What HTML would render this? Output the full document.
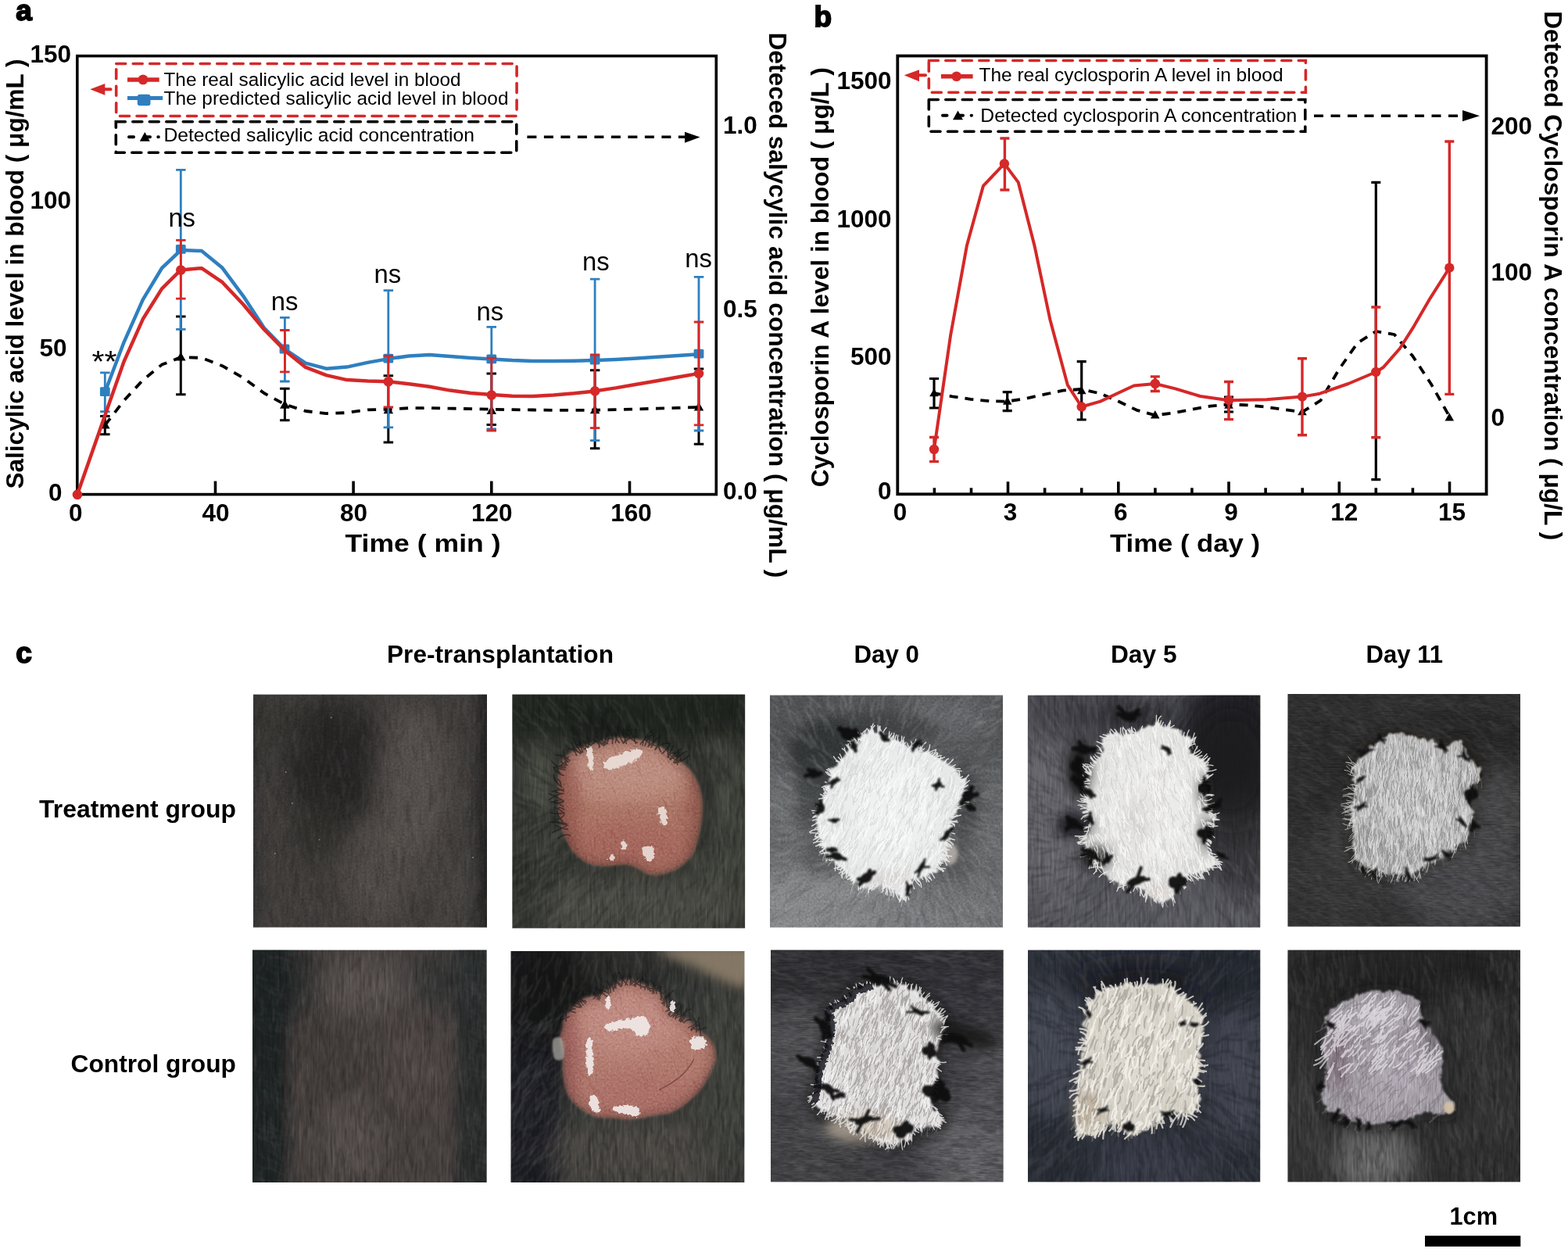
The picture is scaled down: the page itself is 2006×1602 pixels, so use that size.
<!DOCTYPE html><html><head><meta charset="utf-8"><title>Figure</title><style>
html,body{margin:0;padding:0;background:#fff;}body{width:2006px;height:1602px;overflow:hidden;}
svg{display:block;font-family:'Liberation Sans', Arial, Helvetica, sans-serif;}
</style></head><body>
<svg width="2006" height="1602" viewBox="0 0 2006 1602">
<rect width="2006" height="1602" fill="#fff"/>
<g id="pa">
<text x="20.3" y="26.3" font-size="37" font-weight="bold" text-anchor="start" fill="#000" stroke="#000" stroke-width="1.8">a</text>
<rect x="98.8" y="71.6" width="817.5" height="561" fill="none" stroke="#000" stroke-width="3.6"/>
<path d="M275.5,632.6 V615.6" stroke="#000" stroke-width="3.6"/>
<path d="M452.1,632.6 V615.6" stroke="#000" stroke-width="3.6"/>
<path d="M628.8,632.6 V615.6" stroke="#000" stroke-width="3.6"/>
<path d="M805.5,632.6 V615.6" stroke="#000" stroke-width="3.6"/>
<text x="96.8" y="666.5" font-size="31.5" font-weight="bold" text-anchor="middle" fill="#000" >0</text>
<text x="276" y="666.5" font-size="31.5" font-weight="bold" text-anchor="middle" fill="#000" >40</text>
<text x="452.6" y="666.5" font-size="31.5" font-weight="bold" text-anchor="middle" fill="#000" >80</text>
<text x="629.3" y="666.5" font-size="31.5" font-weight="bold" text-anchor="middle" fill="#000" >120</text>
<text x="807.5" y="666.5" font-size="31.5" font-weight="bold" text-anchor="middle" fill="#000" >160</text>
<text x="79.5" y="641" font-size="31.5" font-weight="bold" text-anchor="end" fill="#000" >0</text>
<text x="85.5" y="455.5" font-size="31.5" font-weight="bold" text-anchor="end" fill="#000" >50</text>
<text x="91" y="267.3" font-size="31.5" font-weight="bold" text-anchor="end" fill="#000" >100</text>
<text x="91" y="80" font-size="31.5" font-weight="bold" text-anchor="end" fill="#000" >150</text>
<text x="925" y="638.7" font-size="31.5" font-weight="bold" text-anchor="start" fill="#000" >0.0</text>
<text x="925" y="405.5" font-size="31.5" font-weight="bold" text-anchor="start" fill="#000" >0.5</text>
<text x="925" y="171.2" font-size="31.5" font-weight="bold" text-anchor="start" fill="#000" >1.0</text>
<text x="441.5" y="705.8" font-size="31.5" font-weight="bold" text-anchor="start" fill="#000" textLength="199" lengthAdjust="spacingAndGlyphs" >Time ( min )</text>
<text transform="translate(30,625.5) rotate(-90)" font-size="31.5" font-weight="bold" textLength="550" lengthAdjust="spacingAndGlyphs">Salicylic acid level in blood ( μg/mL )</text>
<text transform="translate(983.5,41.4) rotate(90)" font-size="31.5" font-weight="bold" textLength="698" lengthAdjust="spacingAndGlyphs">Deteced salycylic acid concentration ( μg/mL )</text>
<path d="M134.3,532.4 V555.8 M128.1,532.4 h12.5 M128.1,555.8 h12.5" stroke="#000" stroke-width="3" fill="none"/>
<path d="M231.3,405 V504.8 M225.1,405 h12.5 M225.1,504.8 h12.5" stroke="#000" stroke-width="3" fill="none"/>
<path d="M364.4,497.2 V537.8 M358.1,497.2 h12.5 M358.1,537.8 h12.5" stroke="#000" stroke-width="3" fill="none"/>
<path d="M496.8,480.7 V566 M490.6,480.7 h12.5 M490.6,566 h12.5" stroke="#000" stroke-width="3" fill="none"/>
<path d="M628.8,478 V543.4 M622.5,478 h12.5 M622.5,543.4 h12.5" stroke="#000" stroke-width="3" fill="none"/>
<path d="M761.1,473.8 V573.8 M754.9,473.8 h12.5 M754.9,573.8 h12.5" stroke="#000" stroke-width="3" fill="none"/>
<path d="M894,471.9 V568.2 M887.8,471.9 h12.5 M887.8,568.2 h12.5" stroke="#000" stroke-width="3" fill="none"/>
<path d="M134.3,544.1 L158.6,512.5 L182.8,486.4 L207.1,466.6 L231.3,457.1 L257.9,457.9 L284.5,468.2 L311.2,483.6 L337.8,503 L364.4,517.5 L390.9,526 L417.4,529.1 L443.8,528.1 L470.3,524.3 L496.8,523.8 L523.2,522.2 L549.6,522.1 L576,522.6 L602.4,523.2 L628.8,523.8 L655.3,524.2 L681.7,524.5 L708.2,524.8 L734.6,524.9 L761.1,524.7 L787.7,524.2 L814.3,523.4 L840.8,522.7 L867.4,521.9 L894,521" fill="none" stroke="#000" stroke-width="3.8" stroke-dasharray="11 9.5" stroke-linejoin="round"/>
<path d="M134.3,537.4 L140.6,548.6 L128.1,548.6 Z" fill="#000"/>
<path d="M231.3,450.4 L237.6,461.6 L225.1,461.6 Z" fill="#000"/>
<path d="M364.4,511.5 L370.6,522.8 L358.1,522.8 Z" fill="#000"/>
<path d="M496.8,518 L503.1,529.2 L490.6,529.2 Z" fill="#000"/>
<path d="M628.8,518.8 L635,530 L622.5,530 Z" fill="#000"/>
<path d="M761.1,518 L767.4,529.2 L754.9,529.2 Z" fill="#000"/>
<path d="M894,514.2 L900.2,525.5 L887.8,525.5 Z" fill="#000"/>
<path d="M134.3,476.8 V526.7 M128.1,476.8 h12.5 M128.1,526.7 h12.5" stroke="#2f7fbf" stroke-width="2.8" fill="none"/>
<path d="M231.3,217.3 V421.4 M225.1,217.3 h12.5 M225.1,421.4 h12.5" stroke="#2f7fbf" stroke-width="2.8" fill="none"/>
<path d="M364.4,406.3 V488 M358.1,406.3 h12.5 M358.1,488 h12.5" stroke="#2f7fbf" stroke-width="2.8" fill="none"/>
<path d="M496.8,371.7 V546.8 M490.6,371.7 h12.5 M490.6,546.8 h12.5" stroke="#2f7fbf" stroke-width="2.8" fill="none"/>
<path d="M628.8,418.4 V549 M622.5,418.4 h12.5 M622.5,549 h12.5" stroke="#2f7fbf" stroke-width="2.8" fill="none"/>
<path d="M761.1,357.1 V563.7 M754.9,357.1 h12.5 M754.9,563.7 h12.5" stroke="#2f7fbf" stroke-width="2.8" fill="none"/>
<path d="M894,354.3 V551 M887.8,354.3 h12.5 M887.8,551 h12.5" stroke="#2f7fbf" stroke-width="2.8" fill="none"/>
<path d="M134.3,501.7 L158.6,437.8 L182.8,383.3 L207.1,343 L231.3,320.1 L257.9,321 L284.5,342.8 L311.2,378.8 L337.8,419.5 L364.4,446.9 L390.9,464.6 L417.4,471.7 L443.8,469.6 L470.3,463.9 L496.8,459.1 L523.2,455.6 L549.6,454 L576,456.1 L602.4,458 L628.8,459.5 L655.3,461.1 L681.7,461.9 L708.2,462 L734.6,461.7 L761.1,461 L787.7,459.9 L814.3,458.4 L840.8,456.8 L867.4,455.1 L894,453.2" fill="none" stroke="#2f7fbf" stroke-width="4.5" stroke-linejoin="round"/>
<rect x="127.9" y="495.3" width="12.8" height="11.8" rx="1.5" fill="#2f7fbf"/>
<rect x="224.9" y="313" width="12.8" height="11.8" rx="1.5" fill="#2f7fbf"/>
<rect x="357.6" y="440.6" width="12.8" height="11.8" rx="1.5" fill="#2f7fbf"/>
<rect x="490.4" y="452.8" width="12.8" height="11.8" rx="1.5" fill="#2f7fbf"/>
<rect x="622.4" y="453.4" width="12.8" height="11.8" rx="1.5" fill="#2f7fbf"/>
<rect x="754.7" y="454.6" width="12.8" height="11.8" rx="1.5" fill="#2f7fbf"/>
<rect x="887.6" y="446.8" width="12.8" height="11.8" rx="1.5" fill="#2f7fbf"/>
<path d="M231.3,307.4 V382.1 M225.1,307.4 h12.5 M225.1,382.1 h12.5" stroke="#d52828" stroke-width="2.8" fill="none"/>
<path d="M364.4,422.5 V475.8 M358.1,422.5 h12.5 M358.1,475.8 h12.5" stroke="#d52828" stroke-width="2.8" fill="none"/>
<path d="M496.8,455.4 V521 M490.6,455.4 h12.5 M490.6,521 h12.5" stroke="#d52828" stroke-width="2.8" fill="none"/>
<path d="M628.8,458.2 V551 M622.5,458.2 h12.5 M622.5,551 h12.5" stroke="#d52828" stroke-width="2.8" fill="none"/>
<path d="M761.1,454 V547.7 M754.9,454 h12.5 M754.9,547.7 h12.5" stroke="#d52828" stroke-width="2.8" fill="none"/>
<path d="M894,412 V543.8 M887.8,412 h12.5 M887.8,543.8 h12.5" stroke="#d52828" stroke-width="2.8" fill="none"/>
<path d="M99,632.6 L134.3,531.4 L158.6,462.5 L182.8,408.3 L207.1,369.4 L231.3,345.4 L257.9,343.2 L284.5,361.2 L311.2,389.5 L337.8,421.5 L364.4,448.5 L390.9,469.9 L417.4,480.1 L443.8,486.1 L470.3,487.5 L496.8,488.2 L523.2,491.2 L549.6,494.8 L576,499.6 L602.4,502.9 L628.8,505 L655.3,506.8 L681.7,506.9 L708.2,505.4 L734.6,503.3 L761.1,500.4 L787.7,496.4 L814.3,491.7 L840.8,487.2 L867.4,482.5 L894,477.9" fill="none" stroke="#d52828" stroke-width="4.5" stroke-linejoin="round"/>
<circle cx="99" cy="632.9" r="6.3" fill="#d52828"/>
<circle cx="231.3" cy="345.5" r="6.3" fill="#d52828"/>
<circle cx="496.8" cy="488.2" r="6.3" fill="#d52828"/>
<circle cx="628.8" cy="505.5" r="6.3" fill="#d52828"/>
<circle cx="761.1" cy="500.4" r="6.3" fill="#d52828"/>
<circle cx="894" cy="477.9" r="6.3" fill="#d52828"/>
<text x="117.5" y="475.5" font-size="38" font-weight="normal" text-anchor="start" fill="#000" textLength="32" lengthAdjust="spacingAndGlyphs" >**</text>
<text x="232.7" y="290" font-size="32.8" font-weight="normal" text-anchor="middle" fill="#000" >ns</text>
<text x="364" y="397.1" font-size="32.8" font-weight="normal" text-anchor="middle" fill="#000" >ns</text>
<text x="495.8" y="361.8" font-size="32.8" font-weight="normal" text-anchor="middle" fill="#000" >ns</text>
<text x="626.8" y="409.5" font-size="32.8" font-weight="normal" text-anchor="middle" fill="#000" >ns</text>
<text x="762.4" y="346.4" font-size="32.8" font-weight="normal" text-anchor="middle" fill="#000" >ns</text>
<text x="893.5" y="342" font-size="32.8" font-weight="normal" text-anchor="middle" fill="#000" >ns</text>
<path d="M148.7,81.5 H661.1 V148.5 H148.7 Z" fill="none" stroke="#d52828" stroke-width="3.6" stroke-dasharray="12 9.5" stroke-linecap="round"/>
<path d="M148.3,155.7 H660.8 V195.2 H148.3 Z" fill="none" stroke="#000" stroke-width="3.6" stroke-dasharray="12 9.5" stroke-linecap="round"/>
<path d="M141.5,114.3 H131" stroke="#d52828" stroke-width="4" stroke-linecap="round"/>
<path d="M115.2,114.3 L134.3,107 L134.3,121.8 Z" fill="#d52828"/>
<path d="M674.4,175.3 H878" stroke="#000" stroke-width="3.6" stroke-dasharray="12 9.5"/>
<path d="M895.6,175.6 L876,168.7 L876,182.7 Z" fill="#000"/>
<path d="M163,101.9 H203.7" stroke="#d52828" stroke-width="5.5"/>
<circle cx="183" cy="101.9" r="6.4" fill="#d52828"/>
<path d="M163,125.5 H208.2" stroke="#2f7fbf" stroke-width="5.2"/>
<rect x="175.8" y="120.7" width="16.7" height="14.5" rx="3" fill="#2f7fbf"/>
<path d="M165,175.3 H171 M188,175.3 H192 M202.3,175.3 H202.8" stroke="#000" stroke-width="4" stroke-linecap="round"/>
<path d="M185.3,169 L191.8,180.7 L178.8,180.7 Z" fill="#000"/>
<text x="209.5" y="109.9" font-size="24.3" font-weight="normal" text-anchor="start" fill="#000" textLength="380" lengthAdjust="spacingAndGlyphs" >The real salicylic acid level in blood</text>
<text x="209.5" y="133.8" font-size="24.3" font-weight="normal" text-anchor="start" fill="#000" textLength="441" lengthAdjust="spacingAndGlyphs" >The predicted salicylic acid level in blood</text>
<text x="209.5" y="181.3" font-size="24.3" font-weight="normal" text-anchor="start" fill="#000" textLength="397.5" lengthAdjust="spacingAndGlyphs" >Detected salicylic acid concentration</text>
</g>
<g id="pb">
<text x="1041.6" y="34.3" font-size="37" font-weight="bold" text-anchor="start" fill="#000" stroke="#000" stroke-width="1.8">b</text>
<rect x="1148.3" y="71.5" width="753.3" height="560.8" fill="none" stroke="#000" stroke-width="3.8"/>
<path d="M1195.4,632.3 V624.3" stroke="#000" stroke-width="3.6"/>
<path d="M1242.5,632.3 V624.3" stroke="#000" stroke-width="3.6"/>
<path d="M1289.5,632.3 V616.3" stroke="#000" stroke-width="3.6"/>
<path d="M1336.6,632.3 V624.3" stroke="#000" stroke-width="3.6"/>
<path d="M1383.7,632.3 V624.3" stroke="#000" stroke-width="3.6"/>
<path d="M1430.8,632.3 V616.3" stroke="#000" stroke-width="3.6"/>
<path d="M1477.9,632.3 V624.3" stroke="#000" stroke-width="3.6"/>
<path d="M1524.9,632.3 V624.3" stroke="#000" stroke-width="3.6"/>
<path d="M1572,632.3 V616.3" stroke="#000" stroke-width="3.6"/>
<path d="M1619.1,632.3 V624.3" stroke="#000" stroke-width="3.6"/>
<path d="M1666.2,632.3 V624.3" stroke="#000" stroke-width="3.6"/>
<path d="M1713.3,632.3 V616.3" stroke="#000" stroke-width="3.6"/>
<path d="M1760.3,632.3 V624.3" stroke="#000" stroke-width="3.6"/>
<path d="M1807.4,632.3 V624.3" stroke="#000" stroke-width="3.6"/>
<path d="M1854.5,632.3 V616.3" stroke="#000" stroke-width="3.6"/>
<text x="1151.6" y="666.3" font-size="31.5" font-weight="bold" text-anchor="middle" fill="#000" >0</text>
<text x="1292.5" y="666.3" font-size="31.5" font-weight="bold" text-anchor="middle" fill="#000" >3</text>
<text x="1433.8" y="666.3" font-size="31.5" font-weight="bold" text-anchor="middle" fill="#000" >6</text>
<text x="1575" y="666.3" font-size="31.5" font-weight="bold" text-anchor="middle" fill="#000" >9</text>
<text x="1719.8" y="666.3" font-size="31.5" font-weight="bold" text-anchor="middle" fill="#000" >12</text>
<text x="1857.5" y="666.3" font-size="31.5" font-weight="bold" text-anchor="middle" fill="#000" >15</text>
<text x="1140.5" y="639.3" font-size="31.5" font-weight="bold" text-anchor="end" fill="#000" >0</text>
<text x="1140.5" y="466.5" font-size="31.5" font-weight="bold" text-anchor="end" fill="#000" >500</text>
<text x="1140.5" y="290.5" font-size="31.5" font-weight="bold" text-anchor="end" fill="#000" >1000</text>
<text x="1140.5" y="113.5" font-size="31.5" font-weight="bold" text-anchor="end" fill="#000" >1500</text>
<text x="1907.5" y="545" font-size="31.5" font-weight="bold" text-anchor="start" fill="#000" >0</text>
<text x="1907.5" y="359.2" font-size="31.5" font-weight="bold" text-anchor="start" fill="#000" >100</text>
<text x="1907.5" y="171.6" font-size="31.5" font-weight="bold" text-anchor="start" fill="#000" >200</text>
<text x="1420" y="706" font-size="31.5" font-weight="bold" text-anchor="start" fill="#000" textLength="192" lengthAdjust="spacingAndGlyphs" >Time ( day )</text>
<text transform="translate(1059.8,623.3) rotate(-90)" font-size="31.5" font-weight="bold" textLength="537" lengthAdjust="spacingAndGlyphs">Cyclosporin A level in blood ( μg/L )</text>
<text transform="translate(1975.5,14.2) rotate(90)" font-size="31.5" font-weight="bold" textLength="677" lengthAdjust="spacingAndGlyphs">Deteced Cyclosporin A concentration ( μg/L )</text>
<path d="M1195,484.5 V522 M1189,484.5 h12 M1189,522 h12" stroke="#000" stroke-width="3.2" fill="none"/>
<path d="M1288.7,501.6 V525.6 M1282.7,501.6 h12 M1282.7,525.6 h12" stroke="#000" stroke-width="3.2" fill="none"/>
<path d="M1383.7,462.7 V537 M1377.7,462.7 h12 M1377.7,537 h12" stroke="#000" stroke-width="3.2" fill="none"/>
<path d="M1572,508 V527 M1566,508 h12 M1566,527 h12" stroke="#000" stroke-width="3.2" fill="none"/>
<path d="M1760.3,233.4 V613.7 M1754.3,233.4 h12 M1754.3,613.7 h12" stroke="#000" stroke-width="3.2" fill="none"/>
<path d="M1195,496.9 L1200.8,507.2 L1189.2,507.2 Z" fill="#000"/>
<path d="M1288.7,507.4 L1294.5,517.7 L1283,517.7 Z" fill="#000"/>
<path d="M1383.7,493.9 L1389.5,504.2 L1378,504.2 Z" fill="#000"/>
<path d="M1477.8,525.1 L1483.5,535.4 L1472,535.4 Z" fill="#000"/>
<path d="M1572,512.4 L1577.8,522.7 L1566.2,522.7 Z" fill="#000"/>
<path d="M1666,520.9 L1671.8,531.2 L1660.2,531.2 Z" fill="#000"/>
<path d="M1854.3,528.2 L1860,538.5 L1848.5,538.5 Z" fill="#000"/>
<path d="M1195,503.1 L1218.4,507.4 L1241.8,510.8 L1265.3,513.1 L1288.7,513.6 L1312.5,509.9 L1336.2,504.7 L1360,499.6 L1383.7,498 L1407.2,503.4 L1430.8,513.5 L1454.3,524.8 L1477.8,531.3 L1501.3,528.5 L1524.9,523.7 L1548.5,519.7 L1572,517.5 L1595.5,518.4 L1619,520.6 L1642.5,524 L1666,527.1 L1689.6,512.4 L1713.2,472.4 L1736.7,438.8 L1760.3,424 L1783.8,428 L1807.3,455.6 L1830.8,491.2 L1854.3,532.9" fill="none" stroke="#000" stroke-width="3.8" stroke-dasharray="11 9" stroke-linejoin="round"/>
<path d="M1195,559.5 V590.6 M1189,559.5 h12 M1189,590.6 h12" stroke="#d52828" stroke-width="3.4" fill="none"/>
<path d="M1285.4,177 V243 M1279.4,177 h12 M1279.4,243 h12" stroke="#d52828" stroke-width="3.4" fill="none"/>
<path d="M1477.8,481.9 V500.5 M1471.8,481.9 h12 M1471.8,500.5 h12" stroke="#d52828" stroke-width="3.4" fill="none"/>
<path d="M1572,488.5 V536.6 M1566,488.5 h12 M1566,536.6 h12" stroke="#d52828" stroke-width="3.4" fill="none"/>
<path d="M1666,458.7 V556.8 M1660,458.7 h12 M1660,556.8 h12" stroke="#d52828" stroke-width="3.4" fill="none"/>
<path d="M1760.3,393 V559.8 M1754.3,393 h12 M1754.3,559.8 h12" stroke="#d52828" stroke-width="3.4" fill="none"/>
<path d="M1854.3,181 V504.4 M1848.3,181 h12 M1848.3,504.4 h12" stroke="#d52828" stroke-width="3.4" fill="none"/>
<path d="M1195,575 L1216,429.7 L1236.9,314.3 L1257.9,237.9 L1284.9,209.4 L1302.8,233.4 L1323.8,315.8 L1343.3,408.7 L1365.8,492.6 L1383.7,520.5 L1407.7,513.6 L1450.6,493.5 L1477.8,491 L1503.7,497.4 L1535.5,507 L1572,512.2 L1620.4,511.2 L1666,507.6 L1688.3,503.7 L1724.9,491 L1760.3,476 L1769.8,470 L1790.8,446 L1808.8,417.6 L1829.7,381.6 L1854.3,342.7" fill="none" stroke="#d52828" stroke-width="4" stroke-linejoin="round"/>
<circle cx="1195" cy="575" r="6.2" fill="#d52828"/>
<circle cx="1284.9" cy="209.4" r="6.2" fill="#d52828"/>
<circle cx="1383.7" cy="520.5" r="6.2" fill="#d52828"/>
<circle cx="1477.8" cy="491" r="6.2" fill="#d52828"/>
<circle cx="1572" cy="512.2" r="6.2" fill="#d52828"/>
<circle cx="1666" cy="507.6" r="6.2" fill="#d52828"/>
<circle cx="1760.3" cy="476" r="6.2" fill="#d52828"/>
<circle cx="1854.3" cy="342.7" r="6.2" fill="#d52828"/>
<path d="M1188.3,77.5 H1670.4 V118.3 H1188.3 Z" fill="none" stroke="#d52828" stroke-width="3.6" stroke-dasharray="12 9.5" stroke-linecap="round"/>
<path d="M1188.3,127.5 H1669.8 V168.2 H1188.3 Z" fill="none" stroke="#000" stroke-width="3.6" stroke-dasharray="12 9.5" stroke-linecap="round"/>
<path d="M1184,96.3 H1173" stroke="#d52828" stroke-width="4" stroke-linecap="round"/>
<path d="M1156.7,96.3 L1176,89.3 L1176,104.2 Z" fill="#d52828"/>
<path d="M1681,148.2 H1873" stroke="#000" stroke-width="3.6" stroke-dasharray="12 9.5"/>
<path d="M1893,148.2 L1871,141 L1871,155.3 Z" fill="#000"/>
<path d="M1203.9,97.7 H1244.6" stroke="#d52828" stroke-width="5.5"/>
<circle cx="1223.7" cy="97.7" r="6.3" fill="#d52828"/>
<path d="M1206,147.8 H1211.5 M1228,147.8 H1232 M1242.6,147.8 H1243" stroke="#000" stroke-width="4" stroke-linecap="round"/>
<path d="M1225.5,141.5 L1232,153.2 L1219,153.2 Z" fill="#000"/>
<text x="1252.5" y="104.4" font-size="24.3" font-weight="normal" text-anchor="start" fill="#000" textLength="389" lengthAdjust="spacingAndGlyphs" >The real cyclosporin A level in blood</text>
<text x="1254.3" y="156" font-size="24.3" font-weight="normal" text-anchor="start" fill="#000" textLength="405" lengthAdjust="spacingAndGlyphs" >Detected cyclosporin A concentration</text>
</g>
<g id="pc">
<text x="20.2" y="848.3" font-size="37" font-weight="bold" text-anchor="start" fill="#000" stroke="#000" stroke-width="1.8">c</text>
<text x="495" y="847.5" font-size="31.5" font-weight="bold" text-anchor="start" fill="#000" textLength="290" lengthAdjust="spacingAndGlyphs" >Pre-transplantation</text>
<text x="1092.5" y="847.7" font-size="31.5" font-weight="bold" text-anchor="start" fill="#000" textLength="83.5" lengthAdjust="spacingAndGlyphs" >Day 0</text>
<text x="1421" y="847.7" font-size="31.5" font-weight="bold" text-anchor="start" fill="#000" textLength="84.5" lengthAdjust="spacingAndGlyphs" >Day 5</text>
<text x="1747.5" y="847.7" font-size="31.5" font-weight="bold" text-anchor="start" fill="#000" textLength="98.5" lengthAdjust="spacingAndGlyphs" >Day 11</text>
<text x="50" y="1046" font-size="31.5" font-weight="bold" text-anchor="start" fill="#000" textLength="252" lengthAdjust="spacingAndGlyphs" >Treatment group</text>
<text x="90.5" y="1371.9" font-size="31.5" font-weight="bold" text-anchor="start" fill="#000" textLength="211.5" lengthAdjust="spacingAndGlyphs" >Control group</text>
<text x="1854.5" y="1567" font-size="31.5" font-weight="bold" text-anchor="start" fill="#000" textLength="61.5" lengthAdjust="spacingAndGlyphs" >1cm</text>
<rect x="1823" y="1581.2" width="122.3" height="13.8" fill="#000"/>
</g>

<defs>
<clipPath id="cp300"><rect x="0" y="0" width="300" height="300"/></clipPath>
<filter id="bXL" x="-50%" y="-50%" width="200%" height="200%"><feGaussianBlur stdDeviation="30"/></filter>
<filter id="bL" x="-50%" y="-50%" width="200%" height="200%"><feGaussianBlur stdDeviation="16"/></filter>
<filter id="bM" x="-50%" y="-50%" width="200%" height="200%"><feGaussianBlur stdDeviation="7"/></filter>
<filter id="bS" x="-20%" y="-20%" width="140%" height="140%"><feGaussianBlur stdDeviation="2.2"/></filter>
<filter id="soft2" x="-5%" y="-5%" width="110%" height="110%"><feGaussianBlur stdDeviation="1.1"/></filter>
<filter id="soft" x="-5%" y="-5%" width="110%" height="110%"><feGaussianBlur stdDeviation="0.55"/></filter>
<filter id="bXS" x="-50%" y="-50%" width="200%" height="200%"><feGaussianBlur stdDeviation="1"/></filter>
<filter id="fuzz" x="-15%" y="-15%" width="130%" height="130%">
  <feTurbulence type="fractalNoise" baseFrequency="0.12 0.12" numOctaves="2" seed="5" result="n"/>
  <feDisplacementMap in="SourceGraphic" in2="n" scale="12" xChannelSelector="R" yChannelSelector="G" result="d"/>
  <feGaussianBlur in="d" stdDeviation="0.9"/>
</filter>
<filter id="fuzz2" x="-30%" y="-30%" width="160%" height="160%">
  <feTurbulence type="fractalNoise" baseFrequency="0.25" numOctaves="2" seed="9" result="n"/>
  <feDisplacementMap in="SourceGraphic" in2="n" scale="7" xChannelSelector="R" yChannelSelector="G" result="d"/>
  <feGaussianBlur in="d" stdDeviation="0.7"/>
</filter>
<filter id="tex" x="0" y="0" width="100%" height="100%" color-interpolation-filters="sRGB">
  <feTurbulence type="fractalNoise" baseFrequency="0.35 0.035" numOctaves="3" seed="7"/>
  <feColorMatrix type="matrix" values="0.33 0.33 0.33 0 0  0.33 0.33 0.33 0 0  0.33 0.33 0.33 0 0  0 0 0 0 1"/>
</filter>
<filter id="tex2" x="0" y="0" width="100%" height="100%" color-interpolation-filters="sRGB">
  <feTurbulence type="fractalNoise" baseFrequency="0.09 0.5" numOctaves="3" seed="3"/>
  <feColorMatrix type="matrix" values="0.33 0.33 0.33 0 0  0.33 0.33 0.33 0 0  0.33 0.33 0.33 0 0  0 0 0 0 1"/>
</filter>
<filter id="tex4" x="0" y="0" width="100%" height="100%" color-interpolation-filters="sRGB">
  <feTurbulence type="fractalNoise" baseFrequency="0.45 0.07" numOctaves="3" seed="21"/>
  <feColorMatrix type="matrix" values="0.33 0.33 0.33 0 0  0.33 0.33 0.33 0 0  0.33 0.33 0.33 0 0  0 0 0 0 1"/>
</filter>
<filter id="tex3" x="0" y="0" width="100%" height="100%" color-interpolation-filters="sRGB">
  <feTurbulence type="fractalNoise" baseFrequency="0.35" numOctaves="2" seed="11"/>
  <feColorMatrix type="matrix" values="0.33 0.33 0.33 0 0  0.33 0.33 0.33 0 0  0.33 0.33 0.33 0 0  0 0 0 0 1"/>
</filter>
</defs>

<g transform="translate(324 888.5) scale(0.9967 0.9940)"><g clip-path="url(#cp300)" style="isolation:isolate">
<rect width="300" height="300" fill="#403d3b"/>
<ellipse cx="105" cy="90" rx="62" ry="85" fill="#1f1f1e" opacity="0.7" filter="url(#bL)"/>
<ellipse cx="90" cy="175" rx="40" ry="50" fill="#2a2928" opacity="0.5" filter="url(#bL)"/>
<ellipse cx="205" cy="120" rx="45" ry="105" fill="#5d5653" opacity="0.7" filter="url(#bL)"/>
<ellipse cx="160" cy="225" rx="45" ry="70" fill="#58514e" opacity="0.65" filter="url(#bL)"/>
<ellipse cx="250" cy="250" rx="30" ry="60" fill="#4a4644" opacity="0.5" filter="url(#bL)"/>
<rect x="288" y="-20" width="40" height="340" fill="#1e1e1e" opacity="0.8" filter="url(#bM)"/>
<rect x="-20" y="-20" width="30" height="340" fill="#2c2c2c" opacity="0.5" filter="url(#bM)"/>
<ellipse cx="30" cy="40" rx="40" ry="40" fill="#2e2d2c" opacity="0.5" filter="url(#bL)"/>
<rect x="0" y="0" width="300" height="300" filter="url(#tex3)" opacity="0.3" style="mix-blend-mode:overlay"/>
<rect x="0" y="0" width="300" height="300" filter="url(#tex)" opacity="0.2" style="mix-blend-mode:overlay"/>
<path d="M136 168q-3 8 -4 17M55 154q-2 10 1 19M28 91q1 11 -6 19M295 289q-3 9 -4 19M47 5q2 6 0 13M9 139q-3 8 -1 16M156 192q4 8 4 16M299 299q-3 11 -1 22M95 69q1 10 -1 21M254 116q-5 11 -3 23M0 63q-1 12 -5 23M22 189q3 10 1 21M26 100q-1 6 -4 11M30 18q4 11 0 21M168 134q-2 6 -2 12M35 126q-1 7 -4 12M291 241q1 6 1 13M256 193q-5 4 -4 10M64 77q3 7 -1 14M27 175q0 7 1 13M112 136q-5 8 -4 17M55 46q-4 11 0 23M75 57q-3 6 -0 13M265 181q6 6 6 15M12 289q-3 7 -1 14M179 88q-3 5 -4 12M21 69q5 8 5 18M275 61q2 5 1 10M134 18q2 9 -2 18M109 267q-4 11 -5 23M207 175q-3 5 -1 10M210 289q-1 5 -1 10M145 219q1 5 3 11M221 270q-8 7 -13 16M238 275q-3 12 3 22M125 237q-4 10 -6 21M187 115q0 6 2 11M298 264q2 10 1 20M221 174q0 6 3 11M9 180q1 9 -3 16M210 149q5 6 3 13M90 203q3 6 3 13M272 198q1 7 4 14M60 129q-6 10 -4 21M264 115q1 6 1 12M251 255q-4 10 1 20M83 51q1 6 1 13M188 148q-3 7 -1 14M295 136q4 12 -2 22M213 171q-3 7 -1 14M6 41q3 11 -0 22M42 14q-0 9 -1 19M189 197q1 10 -4 19M143 54q2 5 4 9M214 54q-0 10 -1 20M184 227q-4 7 -3 15M272 26q-2 6 -4 11M188 273q0 8 1 15M264 239q0 10 -5 19M217 246q-2 10 0 19M64 270q-7 6 -9 15M96 273q2 11 0 22M25 132q6 7 4 16M243 19q4 10 1 21M101 236q-3 8 -2 17M252 207q-1 12 -3 23M285 26q-2 7 -1 14M192 157q-3 10 -6 21M94 114q-4 6 -3 12M291 157q5 8 5 17M161 151q-0 12 -0 24M120 240q-0 9 -0 18M207 20q-3 12 3 23M81 142q0 6 -0 12M245 270q-0 6 1 13M278 39q4 11 -2 21M58 68q-1 7 0 15M31 219q1 6 1 12M75 59q2 7 2 15M159 48q-1 6 -0 13M192 159q1 11 -4 22M222 243q4 11 3 22M94 277q2 12 -4 22M72 218q-2 7 -9 11M250 126q-2 8 -1 16M5 60q-4 10 1 20M291 35q1 9 4 16M57 21q2 6 -0 11M166 154q2 6 1 13M252 297q5 12 -0 23M19 285q2 7 4 14M155 129q3 10 -2 18M210 253q-0 10 -3 20M59 50q2 9 -4 17M268 241q1 9 1 19M180 151q-0 12 7 23M77 273q1 11 -1 21M269 264q0 10 5 19M230 122q-0 7 -1 15M3 107q-1 9 0 19M70 283q-0 10 1 19M160 117q-1 12 2 24M210 229q-3 9 -2 19M77 120q1 5 -0 11M113 30q-0 9 -1 18M290 170q-7 10 -10 22M243 23q-1 6 2 10M48 142q1 6 2 12M183 18q-3 8 -4 17M110 86q-0 10 0 19M85 215q3 7 -1 13M47 226q-4 7 -1 15M225 15q-5 4 -5 10M129 143q3 12 -0 24M157 281q-4 12 -0 24M181 35q2 9 3 19M61 16q-1 8 1 16M137 79q0 9 -1 18M233 159q-2 10 -10 18M34 268q-2 10 -1 21M108 81q-1 9 1 18M226 57q-2 7 2 13M275 264q-0 7 -2 14M187 31q3 9 -1 18M26 203q2 7 3 15M63 103q-3 10 1 20M22 36q1 11 -3 21M127 77q3 10 4 21M196 297q-4 10 1 20M128 111q-3 5 -3 11M24 25q3 9 3 19M233 23q-1 7 0 13M25 91q2 7 -0 14M107 218q5 7 3 15M213 171q-4 11 -9 21M241 91q2 7 2 14M280 268q1 8 -1 15M119 116q-2 6 -3 12M239 162q-3 6 -2 12M264 84q1 5 2 10M163 170q1 12 -6 20M164 236q2 6 0 11M221 270q-3 5 -3 12M195 74q-3 6 -2 13M156 229q-1 12 2 23M148 161q-4 10 -3 20M274 123q-5 10 -4 22M250 267q1 12 4 23M157 213q2 8 -2 16M222 297q3 7 2 15M61 127q1 5 1 11M34 194q-2 11 -10 18M19 138q3 4 3 10M55 65q-0 7 2 13M178 67q-2 6 -1 12M94 164q-2 11 -4 21M78 266q-6 8 -3 17M145 66q-2 5 0 11M240 115q-2 7 2 14M197 71q0 5 -0 10M111 239q2 6 0 12M97 78q2 11 4 22M191 298q-2 6 -0 12M0 246q-6 10 -6 21M25 81q-0 8 -1 17M287 176q2 11 1 22M237 125q2 11 -3 21M163 158q-2 6 -0 12M93 93q-3 8 -3 16M108 206q-0 6 -1 11M139 290q-0 5 -2 10M213 71q2 9 3 18M3 297q1 9 -2 19M113 162q2 7 1 14M118 200q1 10 -1 20M284 169q-0 10 -3 20M248 28q-3 9 -2 19M54 121q-2 11 -2 22M27 68q3 8 -2 16M276 128q-2 8 -2 17M230 246q4 8 1 16M120 210q-5 11 -4 23M198 183q-3 7 -3 14M32 113q-3 8 -1 17M248 183q-3 11 -5 22M106 150q-3 5 -4 11M296 155q-3 6 0 13M188 59q3 5 3 11M173 209q1 7 2 15M37 292q-5 4 -5 11M163 168q-5 12 2 23M245 180q-2 6 0 12M87 269q3 11 -1 22M164 23q0 5 -3 10M296 282q-2 10 1 19M114 178q6 10 2 21M60 140q1 9 -3 18M156 79q-0 9 -3 18M193 11q-1 12 -0 23M141 123q-1 9 1 19M227 226q2 11 11 19M123 130q-5 9 -2 18M158 158q5 6 4 14M218 270q-3 10 -4 20M226 91q0 6 0 12M151 119q-1 5 -0 11M158 72q3 7 0 13M273 290q-6 9 -4 19M126 242q-5 9 -2 18M30 238q-2 5 -4 11M285 0q3 7 -1 15M269 245q-0 8 -3 15M176 14q-3 7 -6 13M280 293q1 9 -2 16M89 277q0 11 -3 22M142 52q-5 11 1 22M61 190q1 6 -2 11M218 94q-8 9 -9 21M214 40q4 8 1 16M67 92q6 8 7 19M54 71q-0 8 2 15M265 177q3 6 3 13M278 200q-3 6 -0 11M132 158q1 10 -5 17M180 85q1 6 -1 11M227 74q-3 6 -5 13M56 269q-3 8 -2 16M115 279q2 9 -1 17M167 193q1 10 2 21M152 254q-3 9 -5 19M285 52q2 9 -1 18M132 232q-2 11 1 21M71 147q3 9 -2 17M179 214q-6 8 -5 17M54 46q-2 8 -4 16M79 240q-3 5 -1 11M171 163q1 6 -1 12M13 94q1 9 1 19M79 177q-1 6 -4 12M48 207q-5 10 -5 21M18 123q6 12 1 24M147 228q2 12 -3 24M137 223q2 12 -4 22M118 89q3 8 -1 16M10 299q1 7 -1 13M166 73q-1 9 4 16M109 101q-1 5 -3 10M195 18q-2 7 -0 15M259 177q-4 7 -3 15M114 234q2 6 1 13M55 165q-1 6 -1 13M93 134q-4 11 -4 24M259 61q1 10 0 20M82 6q1 6 -1 12M118 277q2 8 -0 15M281 108q-1 11 2 21M272 6q-2 6 0 11M98 231q2 9 -4 17M118 71q3 10 -3 18M94 127q3 9 -1 18M212 78q2 6 -0 12M84 214q3 7 3 15M260 68q3 7 -0 13M7 189q-5 8 -4 18M293 89q-0 7 2 13M200 287q6 10 7 21M190 27q1 5 1 11M98 149q1 7 -2 14M121 143q1 7 -2 13M103 127q-2 6 -3 12M210 166q1 8 -1 15M19 121q-0 5 -0 11M176 141q1 5 0 10M268 170q-2 7 -2 13M56 141q2 7 4 14M283 231q1 9 5 18M123 125q1 11 0 22M273 11q-2 6 -4 11M93 108q1 7 -2 13M204 70q-0 5 -0 10M118 72q1 9 4 17M168 249q1 12 -1 24M104 266q-1 10 1 20M289 247q-3 6 -4 12M147 169q0 10 1 20M71 75q1 8 -2 14M154 38q-2 6 -1 11M34 135q-1 10 -2 21M49 260q-1 7 -1 13M239 118q2 10 -0 20M215 98q-2 11 2 22M170 126q-4 9 -6 19M249 240q1 10 -3 19M55 4q-6 8 -3 18M291 40q1 9 0 19M280 297q-0 5 1 11M36 13q5 12 0 24M99 8q-3 8 -6 17M112 93q-0 7 -2 14M185 230q5 11 7 23M208 164q2 6 -1 12M280 75q4 8 1 17M97 6q3 9 1 19M68 145q2 8 -0 15M15 19q1 6 -2 11M145 299q-2 7 1 13M145 124q-1 5 -1 11M197 187q-2 7 2 14M259 298q6 9 5 19M8 51q1 6 -2 11M108 226q2 5 0 10M288 3q-5 8 -4 17M238 221q-1 11 5 21M296 30q-2 12 -6 23M212 75q2 9 -1 18M117 111q-3 10 -1 19M109 191q2 11 1 23M28 100q1 11 -3 20M223 164q2 6 -0 11M105 129q0 5 1 10M121 96q0 7 5 12M96 226q-2 6 1 12M129 289q2 10 -2 20M82 203q-1 12 -5 23M55 107q-0 10 -3 19M193 64q-4 9 -1 19M257 189q-1 6 2 11M207 136q0 10 -1 19M115 69q5 8 2 17M188 134q-0 9 2 18M279 46q7 8 10 18M221 297q-4 7 -2 15M38 297q-1 11 2 22M281 249q-1 11 -1 21M298 19q-4 6 -3 13M136 161q5 10 3 22M84 193q-3 10 -5 20M73 240q-5 10 -3 22M165 272q2 8 -1 15M11 104q-3 11 1 22M35 55q-2 10 4 18M22 296q-3 6 -3 12M263 218q3 8 -2 16M102 95q-1 10 -6 18M181 208q-1 10 -2 20M39 35q-3 11 -3 23M107 59q-2 10 -6 19M93 122q-1 6 -0 12M127 246q-3 9 2 17M104 211q-2 6 -2 13M85 262q1 10 1 19M280 116q-5 9 -8 19M135 19q-3 8 1 16M88 208q1 10 -2 19M123 40q-0 8 -2 16M246 255q-0 9 1 18M30 269q-3 7 -3 15M201 103q-7 10 -3 22M7 190q2 8 2 16M201 182q-7 11 -2 24M298 119q-7 9 -3 20M20 139q0 8 3 15M65 297q0 6 -1 12M223 25q-2 6 -3 12M187 223q-3 10 -1 20M36 141q-4 4 -4 10M283 269q-2 8 -4 17M33 237q-1 7 -1 14M37 170q1 9 -2 17M233 74q3 8 -2 16M65 136q6 10 3 22M255 46q-0 12 1 24M122 184q1 9 -5 15M46 246q1 10 6 19M47 159q-4 7 -2 14M193 254q0 5 -1 11M24 78q-2 7 -5 14M196 266q-4 11 -7 22M150 271q3 10 1 20M110 129q-0 8 -2 17M129 135q-2 5 -4 10M164 120q2 7 -2 13M112 94q1 10 2 20M3 122q5 12 -1 23M178 288q2 7 2 15M183 177q-2 7 -3 14M155 226q1 7 -2 13M239 128q0 11 -2 22M86 204q-3 10 -10 19M95 246q-5 10 -7 20M17 229q-6 7 -5 17M192 7q-4 11 -3 23M174 2q-5 10 -1 20M275 22q2 10 3 21M225 113q2 6 2 12M220 21q-3 6 -1 12M200 164q-4 7 -2 14M168 277q-0 6 -1 13M161 252q1 9 -5 16M130 113q-7 8 -6 19M148 207q-0 6 2 11M50 176q-1 6 -3 12M49 105q0 8 2 15M253 107q1 9 1 18M294 98q-2 7 -0 14M172 77q-1 6 1 11M113 215q-3 10 3 18M273 137q1 9 -3 17M226 31q-1 5 1 10M170 165q-0 8 -5 14M285 229q2 11 -2 21M60 160q4 9 1 19M229 175q-2 10 -7 18M285 216q-1 7 3 14M218 79q2 9 -1 17M88 76q-0 6 -1 12M82 86q4 11 -0 22M258 256q-3 9 -5 18M220 160q4 10 3 21M16 281q0 8 4 14M70 136q2 11 3 23M170 105q-5 6 -3 13M33 282q4 11 -0 23M170 36q2 12 0 24M262 18q-0 5 -0 10M295 206q-3 11 0 22M156 23q2 9 1 17M150 59q1 10 -1 20M146 24q1 12 4 23M40 90q-2 7 -1 15M282 293q-9 8 -9 20M6 147q-1 9 1 18M184 184q-5 8 -2 17M10 34q-5 11 -0 22M7 10q-2 8 -3 17M227 242q3 5 2 10M238 293q0 7 -2 15M4 231q0 7 2 14M158 101q-2 7 1 13M53 45q1 7 2 13M235 100q-1 7 -1 14M76 263q-0 7 -4 12M90 99q-1 11 -0 21M24 229q3 6 3 13M124 297q-5 12 2 23M116 41q-5 10 -4 21M101 237q-2 9 1 18M143 246q-1 5 -2 10M114 20q-3 6 -2 13M288 279q-3 7 0 15M43 214q-2 6 -2 12M265 218q0 12 -0 23M112 36q2 5 0 11M104 15q-1 7 -6 13M37 158q2 10 4 20M284 24q3 7 0 13M93 228q-0 6 -3 12M171 88q-4 11 1 21M138 181q-4 6 -2 13M293 7q2 10 2 21M16 49q2 7 -2 13M66 240q-4 8 -5 16M140 55q0 5 -2 10M186 111q-2 8 -1 17M95 107q-2 8 -4 15M138 100q4 11 2 23M281 256q-5 8 -2 17M87 51q3 10 0 20M175 47q-2 5 -2 11M104 168q-4 8 -0 17M154 114q-2 7 -4 13M190 139q-0 6 -1 11M145 192q2 9 -3 16M240 70q-3 11 -0 22M76 271q-3 9 2 18M147 145q-3 7 -1 14M151 103q-4 10 -2 22M294 275q-5 9 -3 19M213 243q1 11 -2 21M73 276q0 5 1 10M103 238q1 12 6 22M19 200q-2 6 2 11M261 93q-7 9 -3 20M187 38q1 11 -6 19M260 231q-5 8 -2 18M192 148q3 7 5 15M7 48q-3 9 -2 19M208 155q2 7 1 14M56 194q-2 8 2 15M273 87q3 11 8 22M289 232q0 9 0 17M11 259q-1 9 -3 17M223 75q0 7 -2 13M21 16q-2 7 -4 14M285 192q1 7 1 13M288 37q-3 8 -2 16M229 167q5 10 5 22M162 299q5 8 5 17M230 17q-3 7 -3 14M218 96q-4 10 -5 20" stroke="#6a625e" stroke-width="1.3" opacity="0.25" stroke-linecap="round" fill="none" filter="url(#soft2)"/>
<path d="M142 197q1 5 0 10M82 243q-1 10 1 20M167 198q-3 6 -2 12M18 246q-2 5 -2 11M101 121q-3 5 -1 11M153 27q-6 12 -0 24M34 127q2 10 -3 18M209 15q-3 6 -2 12M120 126q5 7 2 15M218 290q-1 12 2 24M107 109q2 6 1 12M109 153q2 10 4 21M8 247q1 6 2 13M116 232q-1 6 -2 11M53 209q-2 7 -3 15M16 138q1 7 -1 13M143 288q-0 7 5 11M109 57q-5 10 -2 20M2 80q3 7 -1 13M12 186q-5 12 3 24M151 7q-1 11 2 22M69 158q-4 8 -5 16M79 284q-4 7 -2 14M83 283q-2 9 0 17M211 64q-2 10 -0 20M40 266q1 8 -3 16M131 294q-3 12 4 22M228 125q-3 9 1 18M237 174q-0 10 1 20M5 213q-5 10 -4 22M269 273q5 7 4 15M106 94q-2 12 0 23M162 187q-1 10 -4 19M74 122q-3 7 -3 14M43 27q-1 10 1 21M280 110q-2 5 -3 10M133 54q1 7 0 13M283 2q2 7 1 15M60 130q-3 8 -2 17M49 139q-7 7 -8 17M75 138q-2 6 -3 13M228 119q1 10 4 19M292 166q2 10 0 20M150 108q3 7 1 14M68 163q2 11 -1 21M281 180q-4 7 -2 15M269 96q-4 10 -5 21M235 124q0 10 -4 18M122 114q4 10 2 21M62 76q-2 12 -4 23M16 251q-4 7 -4 14M92 41q-2 12 4 22M63 264q1 5 -2 10M49 215q2 7 -1 14M55 94q-2 5 -2 11M161 135q-0 9 2 17M240 152q2 9 2 19M124 155q3 10 2 20M277 147q-5 11 -5 23M128 122q-1 10 3 18M252 39q2 6 -1 11M3 75q-2 6 -1 12M185 290q1 13 -8 22M68 278q3 8 0 17M227 127q3 6 1 13M182 286q-3 12 -0 24M280 109q-1 9 1 18M4 69q-5 7 -7 15M248 227q-5 11 1 22M145 58q-2 9 -4 18M108 69q1 6 2 12M286 223q-1 7 -3 13M31 221q-1 9 0 18M173 114q1 7 0 14M299 99q2 6 2 12M61 97q1 8 -1 15M281 89q1 8 1 16M194 22q1 10 -5 19M75 243q-2 6 -4 12M85 252q2 7 -0 13M191 191q2 12 3 23M281 118q2 8 1 16M215 225q-1 10 -1 20M199 185q-1 10 -5 19M92 7q-6 6 -4 15M271 45q3 11 3 21M94 78q2 5 0 11M92 48q-2 6 -1 12M114 147q3 5 3 12M258 273q2 11 5 23M110 57q-5 8 -5 17M78 160q6 11 3 23M185 56q-2 9 -4 19M6 148q3 7 4 15M23 276q-2 11 4 21M165 163q1 11 -0 22M270 7q-6 9 -2 19M66 122q-1 11 3 21M157 233q2 9 2 19M86 25q4 5 3 11M293 42q-0 12 1 24M53 248q-5 11 0 22M67 121q-2 9 1 18M225 247q3 10 2 20M227 130q1 9 -1 19M28 147q1 8 -1 16M170 162q7 9 10 20M262 95q6 11 1 23M95 280q3 6 1 13M288 20q2 6 2 12M246 204q-6 6 -6 15M95 15q-5 11 -1 23M198 144q2 6 -1 11M144 269q-2 11 -4 23M202 140q-5 11 -2 24M203 177q2 6 3 12M134 46q-1 6 -1 12M98 296q-2 10 -4 19M130 117q-4 11 -4 22M195 43q-2 9 -8 16M97 176q-1 10 -2 20M267 48q-3 5 -2 11M183 208q1 12 1 24M273 44q-0 7 -0 14M74 258q1 6 -1 12M284 264q-0 10 -2 19M12 249q-4 8 -2 16M55 19q4 12 -3 22M220 42q-3 8 -0 16M252 161q1 6 -2 11M89 238q-4 7 -1 15M45 24q-3 7 -0 14M79 216q-2 6 -3 12M223 264q-6 7 -4 16M122 285q-2 5 -7 9M209 266q0 7 4 13M143 1q-3 6 -1 13M204 259q1 11 -1 23M209 196q4 11 -0 22M134 206q-3 10 1 20M94 89q2 11 -1 22M118 94q3 10 0 20M41 20q3 13 -5 23M139 107q-1 7 -3 14M32 127q-3 6 -1 12M215 295q-4 10 -2 21M68 33q0 11 -6 19M238 161q2 6 -0 11M290 187q0 10 -2 20M143 41q-1 6 -1 12M128 56q2 6 -2 11M142 15q-5 9 -4 20M212 285q2 8 -2 16M258 12q-5 11 -5 23M295 18q-5 9 -8 19M194 145q2 11 5 21M164 122q-2 12 3 23M99 216q1 7 2 13M158 218q-2 6 -2 12M51 168q-0 11 -2 22M67 179q-0 6 1 12M103 296q-3 8 -3 17M277 295q-5 4 -5 10M237 77q-2 10 -2 20M136 188q7 9 4 19M192 211q-2 11 -3 22M162 43q-3 5 -2 11M37 115q0 10 -7 17M134 240q-2 5 0 11M31 201q1 10 -2 19M167 206q2 12 -2 23M147 136q-6 10 -4 21M229 188q1 9 0 18M227 113q1 6 -0 12M249 149q1 7 -0 13M145 36q2 12 0 23M0 72q6 10 4 21M291 257q-2 9 -1 17M92 45q-5 10 -11 20M181 143q3 10 -2 20M226 53q1 11 4 22M53 245q0 8 1 15M240 293q-4 7 -3 14M119 273q-1 11 -4 21M229 204q-3 6 -2 12M119 90q-6 9 -3 20M42 207q-4 10 -2 20M175 37q0 12 -8 20M174 288q-2 10 -0 19M97 125q-5 10 -6 22M52 204q0 12 -4 22M87 260q4 6 2 13M44 265q2 10 -2 20M186 3q-2 9 1 18M151 188q-1 11 -4 21M223 180q-4 10 -4 21M91 246q-0 10 -3 20M173 97q3 8 2 16M268 184q4 8 2 16M194 134q1 7 1 15M39 194q-3 6 -1 12M186 96q0 6 1 11M66 270q3 8 -0 16M67 167q2 11 2 22M289 77q-1 8 -5 14M133 184q1 7 -3 13M179 197q1 11 1 22M163 266q-0 6 -0 12M127 192q-1 7 -1 13M90 278q-4 10 -4 22M122 247q7 10 5 23M228 271q2 8 1 16M9 269q-0 6 -1 11M205 272q3 10 -1 19M279 261q-4 10 -4 21M230 7q9 10 7 23M128 171q3 8 2 17M199 9q-1 7 -1 15M137 6q1 9 6 16M115 294q-4 8 -3 17M188 244q-1 13 6 23M272 109q-5 6 -4 14M248 177q4 9 -0 18M158 67q3 9 -1 18M98 231q6 12 1 24M124 214q-1 9 -0 18M271 29q1 9 2 18M189 240q0 9 -1 17M167 50q-5 8 -3 17M250 299q0 10 1 20M129 233q-2 9 -1 18M108 249q-4 10 -1 20M88 199q4 7 1 14M251 83q2 7 0 15M167 148q-3 7 -1 15M238 19q-4 8 0 16M294 95q-2 5 -0 11M38 298q-2 8 2 16M143 270q1 5 -0 10M182 33q1 5 1 11M16 92q3 10 1 21M109 121q5 11 1 22M243 28q-3 10 -6 20M201 206q2 6 -0 12M273 66q-3 10 -1 20M11 259q-1 6 -1 12M154 76q3 10 1 21M70 293q1 7 -3 13M279 278q1 11 -2 22M102 1q-2 6 -3 11M149 259q3 7 1 15M144 208q-1 6 -1 13M299 209q3 6 1 12M243 212q-3 9 -5 18M105 251q4 9 6 19M245 105q-3 9 -0 19M286 187q1 11 -2 22M44 174q-3 8 -2 16M54 153q-0 8 -2 15M39 43q-0 7 -0 14M41 190q-2 11 1 22M134 78q-3 8 -3 17M228 199q-2 12 -4 24M154 34q-4 10 -1 21M93 81q-1 9 -3 17M3 29q-3 6 -2 13M289 259q-1 12 3 22M194 210q-1 12 -1 23M77 220q-3 7 -3 15M240 16q3 11 0 21M38 15q-0 6 2 12M56 279q1 12 -2 24M7 21q2 10 2 21M77 48q-3 12 -0 24M204 66q4 9 4 19M105 243q-2 5 -2 11M212 155q1 7 5 14M217 222q-1 6 1 11M113 39q0 8 -3 16M34 87q-1 9 1 19M224 46q-2 9 0 17M138 126q-4 4 -4 10M271 215q1 10 -2 19M113 267q-3 6 -4 13M14 7q-3 11 -5 23M145 44q2 9 -2 18M20 100q-2 9 -1 18M84 118q-1 6 -4 11M298 201q-3 12 2 23M158 47q1 6 -3 10M246 234q-0 6 0 12M3 10q7 8 4 18M124 106q-2 6 -2 13M46 294q-5 12 2 23M186 54q-3 8 -2 16M63 171q-1 11 -7 21M250 43q3 7 -0 13M59 159q-3 11 -0 21M274 74q-4 9 -4 19M82 84q1 8 0 16M219 260q-3 11 -0 21M295 56q1 12 -0 23M167 61q2 9 -1 18M166 128q-2 6 -3 13M96 11q3 10 -1 19M267 24q3 13 -5 23M92 101q-2 6 -0 13M276 17q1 6 0 11M108 203q-0 8 -4 14M19 20q-4 11 1 22M111 66q-4 7 -2 16M7 106q1 6 1 13M281 288q-2 8 -1 15M219 271q-0 8 4 14M57 175q-0 11 -7 19M112 168q3 10 1 21M162 224q1 6 0 11M58 168q5 8 1 17M281 274q4 12 -2 23M48 110q3 12 -4 21M159 227q-1 10 2 19M145 81q-2 10 2 19M29 193q3 7 1 15M247 168q-4 8 -2 16M248 119q-3 6 -4 13M30 240q2 11 -2 22M246 28q-1 7 -3 13M111 228q-6 9 -5 20M72 78q-1 6 -2 11M72 190q3 7 2 16M225 267q2 9 -2 17M289 131q1 6 -2 11M65 75q1 8 4 15M287 148q-1 8 3 15M203 125q1 6 -1 11M100 257q3 7 1 14M33 240q5 6 6 14M55 226q-3 8 -1 17M285 146q-5 10 -8 21M160 235q2 8 -4 15M287 140q2 11 3 22M223 300q-3 8 -6 16M282 40q-2 7 -0 15M23 275q-4 10 1 20M254 178q-3 11 0 23M96 87q1 12 -2 23M51 69q-1 7 1 14M180 200q-0 6 3 12M31 32q-1 10 5 19M257 201q-3 12 4 23M251 44q0 9 -0 18M267 193q-8 10 -5 22M13 86q1 8 -2 15M200 137q-6 11 -1 22M265 93q3 7 5 15M297 171q2 5 4 9M39 11q-5 7 -4 15M66 15q1 5 2 11M77 199q1 12 -5 21M217 63q-1 11 -0 22M108 117q2 9 -1 17M84 114q-0 7 -5 13M165 214q-2 6 -4 12M243 88q4 11 -1 22M92 1q-5 11 -5 22M66 181q-1 10 -5 18M19 259q-3 5 -2 11M58 15q4 12 0 24M72 197q-2 6 -0 12M110 62q5 10 4 21M127 79q-1 6 3 11M151 255q0 8 -2 16M170 21q1 6 -1 12M51 276q1 5 -1 11M20 177q-4 7 -3 15M179 215q3 10 2 20M21 90q3 11 -3 22M173 162q-1 8 -5 15M298 240q-5 11 -2 23M235 201q2 5 3 10M100 233q0 9 -5 15M113 82q1 10 -2 19M73 244q2 6 2 12M53 74q-5 8 -4 17M151 262q2 11 -0 22M88 204q-2 12 -3 24M154 70q-2 6 -3 13M39 77q2 7 -2 14M239 107q0 10 1 20M59 183q3 7 3 14M250 265q-6 8 -5 18M188 269q4 6 3 12M28 118q-3 6 -4 13M96 181q-2 10 -1 20M176 123q0 6 -1 11M254 260q-2 6 -2 13M111 112q-6 8 -4 17M87 89q2 6 1 12M214 19q4 8 1 17M197 142q2 11 -1 22M44 174q-2 10 2 19M181 209q-3 6 -6 12M64 199q1 9 6 17M32 295q1 11 -4 20M205 207q2 6 0 11M103 82q-4 6 -2 13M61 117q1 6 -2 11M257 177q-2 9 -3 19M180 48q1 7 -4 13M257 184q1 10 -2 20M58 231q-3 11 -3 23M236 247q1 6 -2 11M76 273q3 9 -2 17M141 246q2 8 0 16M56 234q3 6 -0 13M136 44q2 8 -1 16M300 222q-3 5 -4 11M171 228q-3 8 -2 16M113 198q-5 10 -1 20M184 68q1 7 -2 13M134 115q3 8 1 16M26 189q-2 6 -3 12M33 118q-2 6 1 12M96 64q-6 7 -6 16M172 54q-4 10 -3 21M285 286q-2 10 -0 19M246 266q-0 9 2 18M111 181q-1 8 -5 15M184 71q7 8 6 19M287 28q2 7 -2 13M257 91q-0 10 -4 19M7 107q-4 9 -2 19M278 280q-2 8 1 15M189 170q1 11 -0 21M120 173q-0 11 -5 20M201 105q1 7 -4 12M97 102q-5 11 -4 23M85 129q5 11 3 22M51 59q-3 12 2 22M80 280q4 6 6 14M98 274q-1 7 1 13M279 142q-6 8 -6 19M70 190q-0 6 -0 11M33 128q0 10 -2 19M228 61q-0 6 -1 13M2 194q-1 7 3 12M15 183q2 11 2 21M208 257q-4 10 -3 22M295 275q2 6 0 12M200 158q2 9 -1 17" stroke="#1c1b1a" stroke-width="1.3" opacity="0.3" stroke-linecap="round" fill="none" filter="url(#soft2)"/>
<circle cx="100" cy="30" r="1" fill="#bdb8b2" opacity="0.6"/>
<circle cx="50" cy="140" r="1" fill="#bdb8b2" opacity="0.6"/>
<circle cx="85" cy="187" r="1" fill="#bdb8b2" opacity="0.6"/>
<circle cx="28" cy="205" r="1" fill="#bdb8b2" opacity="0.6"/>
<circle cx="282" cy="210" r="1" fill="#bdb8b2" opacity="0.6"/>
<circle cx="42" cy="100" r="1" fill="#bdb8b2" opacity="0.6"/>
</g></g>
<g transform="translate(655.3 888.5) scale(0.9930 0.9977)"><g clip-path="url(#cp300)" style="isolation:isolate">
<rect width="300" height="300" fill="#32342f"/>
<rect x="-20" y="-20" width="340" height="80" fill="#1f221f" opacity="0.85" filter="url(#bL)"/>
<ellipse cx="40" cy="160" rx="40" ry="110" fill="#3e403a" opacity="0.8" filter="url(#bL)"/>
<ellipse cx="270" cy="170" rx="40" ry="120" fill="#454741" opacity="0.8" filter="url(#bL)"/>
<ellipse cx="150" cy="275" rx="150" ry="45" fill="#4d4d46" opacity="0.9" filter="url(#bL)"/>
<ellipse cx="45" cy="110" rx="25" ry="40" fill="#52544c" opacity="0.6" filter="url(#bM)"/>
<ellipse cx="20" cy="260" rx="25" ry="40" fill="#282a26" opacity="0.7" filter="url(#bL)"/>
<rect x="0" y="0" width="300" height="300" filter="url(#tex)" opacity="0.5" style="mix-blend-mode:overlay"/>
<path d="M108 144q-9 5 -16 12M78 190q-5 5 -12 8M101 43q4 14 18 20M76 268q-9 10 -15 22M8 137q9 2 16 7M77 236q-6 8 -12 15M193 285q-11 11 -12 27M237 157q2 9 -2 18M91 138q14 4 19 18M253 147q-1 14 -4 28M239 136q4 7 3 14M70 122q9 4 18 8M198 120q-0 15 7 28M197 245q-2 9 -10 15M28 36q13 9 16 24M206 282q-1 14 -11 24M192 77q-1 12 8 21M31 44q11 3 15 14M139 219q-2 7 -8 12M200 277q-1 12 -9 20M65 125q7 9 17 12M71 265q-9 10 -20 19M67 55q14 4 23 15M128 7q9 4 15 12M37 23q6 9 14 17M142 177q-7 9 -13 18M24 190q-7 7 -14 13M242 218q1 7 0 15M51 213q-6 7 -12 13M216 189q-2 9 -6 17M187 17q9 9 10 22M287 208q-1 9 -2 17M254 256q-7 12 -4 26M154 185q-4 13 -8 25M66 174q-13 5 -19 18M33 7q5 14 16 24M299 244q-4 8 -5 16M227 35q9 12 10 27M61 131q8 1 13 8M45 204q-13 4 -22 15M125 226q-6 9 -16 12M115 58q7 11 11 23M5 58q3 10 10 18M178 124q-1 13 0 26M13 298q-10 5 -13 16M50 17q5 6 8 12M254 134q4 15 -2 29M265 59q2 12 6 22M291 124q-0 14 0 28M161 291q-5 8 -9 17M176 91q2 9 5 18M123 25q1 14 12 22M185 89q3 10 10 18M22 244q-13 7 -27 8M92 195q-5 5 -13 6M267 121q3 14 5 29M251 66q2 7 0 14M25 126q10 13 26 13M278 123q-6 14 1 27M250 229q4 9 1 19M125 87q4 8 11 13M12 25q8 1 11 8M30 222q-8 8 -17 14M1 20q7 6 13 13M35 126q12 -1 24 3M67 55q4 10 14 14M291 44q2 15 11 26M190 27q3 10 11 14M273 266q-0 13 -3 26M101 138q12 4 16 16M6 300q-7 9 -14 19M209 160q2 8 -3 14M79 108q3 8 11 12M94 126q9 9 21 13M73 124q4 14 16 23M61 188q-7 9 -17 12M64 262q-5 6 -9 14M268 60q-0 10 6 17M82 138q8 5 14 13M74 12q11 4 17 14M77 248q-6 4 -11 10M74 81q6 10 16 15M291 18q1 10 5 19M101 129q5 9 16 11M243 267q4 12 -1 24M40 285q-8 8 -12 20M168 268q-6 6 -9 15M179 159q-2 8 -5 17M87 29q7 11 11 24M251 243q-6 8 -3 17M242 17q7 11 7 24M44 10q9 6 14 15M169 54q1 11 11 17M178 163q2 9 0 18M215 104q4 11 1 22M73 278q-10 10 -20 18M228 193q-3 7 -4 14M161 31q6 10 7 21M198 297q-6 10 -11 21M275 85q3 7 3 15M102 253q-10 9 -20 17M82 130q12 2 23 9M249 137q2 14 0 28M95 154q-15 1 -28 9M216 75q4 8 9 17M48 274q-9 9 -14 20M245 229q-2 8 -2 16M112 158q-12 8 -25 10M57 240q-6 14 -19 22M168 283q-11 6 -19 15M42 131q12 4 22 12M85 250q-7 7 -13 15M299 91q5 12 -1 23M293 140q-5 11 1 22M125 7q2 7 9 12M236 216q-2 12 -7 23M171 90q8 7 12 16M100 66q9 12 24 16M92 31q7 7 16 10M112 59q7 12 18 20M116 211q-8 10 -14 20M92 190q-10 -0 -16 7M168 227q-3 10 -10 16M114 182q-7 13 -20 17M200 37q7 11 10 23M105 217q-0 15 -11 26M79 262q-3 9 -11 12M85 255q-4 12 -13 19M47 30q6 5 12 10M47 3q3 7 10 11M200 3q-2 7 1 14M0 65q7 4 14 8M198 65q6 5 9 12M234 1q7 7 10 16M177 4q9 11 6 25M184 63q3 13 11 25M188 72q7 9 17 14M229 85q-3 10 2 19M211 53q4 12 12 22M257 169q-1 8 -1 16M33 139q9 0 17 6M80 197q-7 5 -14 10M287 290q-3 11 -7 22M265 132q-1 8 4 14M67 274q-9 3 -14 12M268 147q1 8 1 16M279 109q5 10 7 21M176 85q12 8 18 21M230 158q3 15 -4 29M102 268q-8 2 -14 8M90 140q8 9 20 10M62 212q-8 2 -13 10M6 71q8 8 18 13M172 258q-4 8 -12 13M169 233q-4 9 -2 18M152 218q-14 8 -19 23M239 205q-1 12 -1 24M37 266q-15 2 -23 13M141 103q9 4 17 11M196 299q-6 11 -6 23M135 22q8 10 10 22M246 46q0 12 9 21M223 19q5 14 2 29M1 164q-4 12 -15 19M146 16q5 11 6 23M173 43q1 10 5 19M92 27q8 9 14 19M161 221q-4 8 -8 16M97 131q11 7 24 11M205 117q2 9 5 18M192 147q-7 10 -3 22M82 222q-13 5 -18 18M116 92q8 9 17 17M25 143q-9 5 -14 14M294 151q-3 10 -2 21M55 140q7 1 14 5M264 296q1 12 -7 21M47 200q-9 0 -15 6M275 82q-2 8 1 15M190 295q-9 9 -11 22M132 195q-3 8 -11 11M114 89q7 6 14 13M157 140q1 9 6 16M211 9q-4 10 1 20M151 25q3 11 11 19M1 295q-2 8 -10 11M80 8q8 8 16 15M27 107q11 11 27 12M165 149q-2 7 -4 14M300 226q-0 12 4 24M17 213q-5 7 -12 10M107 67q6 11 17 18M243 179q-2 13 1 25M23 240q-16 6 -20 22M89 67q3 7 7 14M185 23q12 10 16 25M263 60q-1 8 2 15M175 72q8 11 11 24M112 74q10 10 24 11M258 205q-1 9 -1 18M128 162q-12 8 -20 20M174 149q-1 8 -3 16M12 130q13 0 23 9M34 41q5 8 12 14M48 130q5 14 19 21M251 29q4 10 4 21M110 169q-8 2 -15 7M276 175q-1 9 2 18M21 58q5 9 14 16M73 19q11 5 15 17M224 171q-0 8 1 15M155 290q-14 8 -18 23M13 68q5 14 15 25M50 110q7 8 17 10M56 176q-10 9 -15 22M227 137q2 10 4 20M62 281q-16 3 -24 16M73 86q4 9 13 12M241 117q-3 9 -2 18M179 262q-8 6 -8 17M230 73q5 13 7 27M261 185q1 8 -3 14M202 50q3 15 3 30M297 298q-5 10 -10 20M79 289q-7 7 -16 11M6 280q-6 10 -15 18M24 194q-8 1 -15 4M7 290q-9 10 -18 18M184 142q1 14 7 27M294 146q-2 14 0 27M223 236q5 10 1 20M0 288q-7 7 -16 12M294 24q2 11 6 21M16 232q-8 3 -15 6M149 295q-4 9 -10 18M207 192q-4 14 -11 27M277 123q2 10 -1 20M208 285q-9 5 -12 16M214 83q0 14 2 28M134 238q-10 7 -14 19M156 193q0 15 -7 27M119 3q-1 8 4 14M247 255q-2 7 -3 14M94 170q-10 4 -20 11M164 81q10 9 14 21M64 287q-15 5 -21 20M130 154q-11 8 -18 20M56 248q-4 9 -12 17M91 10q6 12 15 21M28 22q9 11 23 12M191 214q-1 9 -8 14M6 32q5 8 14 11M262 162q-10 12 -7 28M13 22q7 7 13 14M8 230q-8 4 -12 12M110 74q2 10 11 16M271 161q-5 9 -3 19M220 139q3 9 6 18M173 187q-1 8 -7 14M294 7q-1 12 -2 23M193 238q-1 8 -5 14M198 148q1 8 5 15M237 5q1 15 7 28M13 244q-14 4 -21 16M137 244q-4 13 -16 20M256 54q1 14 11 25M116 260q-15 3 -24 16M297 96q1 8 5 15M117 123q7 6 8 16M273 245q1 10 3 20M277 123q-7 12 -3 25M69 120q11 5 18 14M14 263q-8 5 -10 14M260 169q6 9 6 20M81 53q11 8 15 22M114 27q13 7 20 21M235 299q-3 9 -8 16M6 202q-8 5 -15 11M264 53q4 9 5 18M209 219q-11 9 -11 23M13 139q14 3 22 14M201 191q-10 8 -12 21M3 86q8 11 21 12M55 255q-15 4 -22 18M278 97q-4 13 -4 27M94 101q12 4 16 15M299 195q-5 12 -12 24M244 248q1 12 -1 23M265 26q5 12 12 23M257 148q-3 8 0 16M190 284q-5 9 -9 19M252 141q-3 8 -0 15M256 17q-3 8 1 16M44 250q-12 5 -16 17M181 268q-10 11 -17 23M119 215q-4 6 -7 12M118 79q9 8 15 18M10 13q11 10 15 24M221 174q5 12 -1 23M117 206q-5 10 -14 16M25 250q-8 10 -20 13M141 57q8 4 10 12M140 83q7 9 11 20M61 288q-4 8 -10 13M188 211q2 12 -3 23M243 51q-1 14 4 27M212 220q-6 13 -11 26M293 6q5 6 8 13M67 60q13 9 17 25M26 271q-15 4 -23 18M1 121q6 6 15 8M237 206q-2 9 -1 18M136 52q6 6 14 10M95 82q11 3 16 14M102 46q11 8 16 20M234 292q-6 5 -10 13M62 35q5 9 8 18M236 173q-7 8 -5 18M247 215q-4 10 -9 20M30 58q8 9 19 12M232 63q11 10 13 25M24 260q-9 11 -20 18M234 58q-4 14 -4 30M224 24q3 7 3 15M186 187q-1 12 -6 23M248 170q1 13 -8 23M197 4q5 13 9 26M246 200q1 8 -3 14M261 179q-5 10 -5 21M133 248q-4 6 -9 11M31 167q-8 7 -19 8M51 208q-11 7 -17 18M297 87q-5 7 -5 16M54 284q-7 3 -12 8M265 172q3 13 7 25M159 297q-6 7 -14 11M158 199q-1 10 -0 21M262 67q9 10 12 22M3 78q10 9 20 17M135 33q4 6 10 10M77 93q13 2 24 10M273 228q-0 8 -6 14M37 239q-5 10 -12 18M287 89q-0 14 4 28M151 290q-9 7 -11 19M55 289q-5 7 -11 14M32 57q7 5 15 7M199 176q-3 12 -9 22M78 216q-7 5 -15 8M77 251q-8 9 -17 18M214 128q-7 11 -3 23M192 30q5 8 9 16M128 262q-1 9 -6 17M247 183q1 9 3 19M85 94q11 5 19 12M71 184q-8 0 -16 4M20 34q6 4 13 6M172 43q6 10 14 18M37 228q-5 7 -14 8M83 60q5 14 18 21M101 261q-6 10 -16 15M49 86q6 8 14 14M194 287q-5 6 -7 14M258 160q-4 14 -10 28M47 6q10 10 20 21M167 50q-1 12 6 22M115 89q5 14 18 21M88 232q-11 6 -18 16M182 205q1 13 -5 26M168 260q-7 10 -4 22M257 87q-2 12 3 23M115 275q-3 16 -17 24M189 297q-2 11 -4 23M11 257q-7 7 -16 11M178 168q-4 9 -7 17M205 165q-1 10 -7 18M132 63q3 8 4 16M295 80q3 11 10 19M18 102q6 5 13 8M287 45q4 11 6 23M144 110q7 12 13 25M123 205q-2 11 -8 19M263 113q6 11 11 22M149 196q-6 10 -11 19M168 138q10 13 7 29M268 234q-5 11 -6 23M233 188q3 14 -4 26M66 172q-4 8 -12 11M79 253q-6 12 -14 22M42 124q7 10 17 15M269 275q-3 14 -13 25M260 223q-4 7 -3 15M277 154q-3 8 -4 16M75 130q10 4 16 14M99 128q5 8 15 9M168 183q-3 8 -7 16M216 148q6 11 1 23M240 179q-2 13 -8 26M56 208q-12 4 -22 13M63 147q-6 5 -12 8M132 299q-3 10 -12 14M247 29q10 12 8 28M225 149q3 9 -0 17M87 54q11 6 20 15M22 116q12 1 22 8M286 79q-1 8 3 16M205 101q5 12 2 25M219 264q-8 9 -12 20M254 118q0 9 1 18M219 170q-5 7 -2 16M99 23q5 9 11 18M180 269q-10 8 -19 18M28 93q9 11 22 13M11 285q-11 11 -18 24M183 120q-1 14 4 27M287 295q-6 12 -13 25M117 171q-7 9 -17 13M260 223q-5 14 -4 29M96 288q-11 4 -16 14M152 192q-9 4 -12 13M179 150q-9 12 -7 27M136 50q5 9 13 18M105 6q2 9 9 15M295 219q-3 9 -8 18M64 289q-6 10 -15 18M162 198q-7 9 -10 20M276 214q-9 10 -15 22M172 91q-1 15 4 29M298 228q-3 11 -4 23M142 94q6 13 12 26M30 263q-5 6 -13 7M150 1q1 8 8 13M276 118q-2 16 9 27M89 26q6 12 17 20M102 105q11 8 23 14M88 77q6 6 12 12M213 64q5 13 7 27M87 41q6 6 8 14M45 222q-2 10 -10 18M49 236q-13 7 -21 20M294 76q6 6 8 14M50 249q-14 3 -21 15M259 263q-6 15 0 30M170 91q2 14 13 23M223 90q1 9 4 17M75 60q6 9 16 14M35 198q-8 13 -23 16M45 160q-8 12 -19 20M267 57q-0 9 4 16M186 261q-3 8 -4 16" stroke="#6a6c64" stroke-width="1.4" opacity="0.3" stroke-linecap="round" fill="none" filter="url(#soft2)"/>
<path d="M157 242q-10 9 -16 20M198 33q4 6 6 13M224 76q0 15 11 25M120 300q-6 5 -9 12M263 45q9 13 9 28M162 265q-1 12 -7 23M25 282q-4 7 -3 16M244 276q-2 7 -6 13M16 226q-8 6 -12 16M260 72q-7 10 -4 23M158 108q4 8 9 15M167 166q-6 6 -10 13M275 96q6 10 7 22M3 226q-9 3 -19 6M82 190q-8 2 -12 10M273 6q3 11 10 21M121 219q-6 9 -16 12M75 45q7 4 12 10M253 161q3 14 -5 26M278 28q4 13 16 21M197 121q4 12 2 24M160 80q5 7 8 15M217 146q1 11 3 23M134 290q-6 12 -17 20M95 57q9 10 18 18M127 268q-6 7 -12 15M279 167q-3 15 2 30M91 107q10 6 20 12M157 58q10 9 18 19M134 151q-8 8 -17 15M4 79q4 10 13 17M63 80q7 9 18 14M8 142q15 5 23 19M273 251q-1 7 -2 14M228 67q7 11 12 24M18 162q-6 6 -12 12M81 104q14 3 28 9M2 225q-9 5 -14 13M249 10q5 8 7 18M162 73q9 7 13 17M37 75q8 4 14 10M64 295q-4 14 -15 22M88 131q9 7 21 8M46 168q-7 4 -14 9M95 241q-10 4 -18 10M51 213q-6 12 -14 22M97 227q-5 8 -13 14M75 57q8 1 13 6M148 129q1 9 8 15M22 102q13 4 23 12M289 223q-1 14 -2 29M43 31q2 14 13 24M196 232q-6 7 -7 16M252 131q5 8 3 18M121 273q-5 5 -9 11M18 202q-9 6 -20 10M78 91q10 9 14 22M62 109q11 10 26 9M69 190q-7 5 -12 12M235 282q-5 10 -10 19M194 39q3 8 3 17M146 256q-1 13 -9 24M285 279q-3 10 -9 20M293 144q7 14 5 29M9 142q8 1 13 7M132 26q3 9 9 17M78 93q8 9 19 13M9 161q-12 0 -21 9M211 82q5 14 16 25M32 112q11 1 21 6M228 148q5 14 -1 27M156 45q4 9 10 17M288 12q9 11 9 24M59 243q-7 3 -11 10M80 299q-6 9 -15 16M193 91q7 8 5 19M27 1q11 3 21 9M138 230q-5 14 -18 21M194 89q-1 12 1 23M229 21q8 6 9 17M46 278q-5 8 -12 15M26 244q-4 10 -15 14M154 124q4 8 8 16M121 39q6 12 18 18M249 197q5 8 2 17M61 159q-7 4 -15 8M244 185q2 7 -3 14M78 214q-10 10 -22 17M14 168q-13 1 -21 12M97 178q-12 7 -21 17M52 236q-10 7 -14 19M171 277q1 9 -6 15M41 152q-4 7 -12 8M115 197q-2 10 -7 19M61 214q-5 8 -10 17M289 210q-1 9 2 18M134 27q6 8 8 17M217 77q1 11 3 21M2 241q-7 10 -17 14M10 34q6 5 10 11M98 63q6 10 13 19M3 277q-7 1 -13 6M196 123q-1 12 6 23M17 27q9 8 15 19M174 115q1 9 -0 17M223 274q-11 10 -12 25M96 70q10 7 22 11M212 65q4 11 5 22M264 93q1 13 10 23M224 40q12 11 12 27M219 91q3 8 1 16M290 244q-3 9 -6 19M180 95q-3 15 7 27M182 240q-8 7 -11 17M243 271q-4 7 -6 14M142 177q-7 9 -17 15M42 96q9 13 24 18M79 136q15 -1 25 10M231 122q7 12 2 24M85 184q-8 9 -19 15M77 109q8 5 15 10M226 247q-9 7 -9 18M104 250q-11 9 -21 20M264 82q4 10 10 20M160 18q3 10 10 17M220 166q-2 8 -6 15M277 94q2 10 -3 20M154 274q-5 11 -15 17M3 127q10 12 25 13M274 84q-4 11 -7 23M160 162q-4 6 -6 13M50 259q-8 9 -19 15M268 28q-2 11 4 20M148 0q-3 16 7 28M136 214q-7 11 -15 22M208 1q8 8 10 18M278 9q6 13 3 27M205 236q-3 11 -9 22M223 36q5 7 7 16M41 160q-13 7 -28 5M154 268q-7 7 -12 14M283 281q-1 10 -7 18M154 283q-9 6 -11 17M89 58q6 9 12 16M67 232q-10 3 -15 12M293 139q-1 10 -4 20M188 48q5 11 7 22M49 165q-16 2 -26 14M74 58q6 5 13 9M94 289q-2 15 -10 27M288 43q-2 10 4 19M173 189q-13 7 -21 20M97 126q7 6 17 9M129 17q5 13 13 24M275 172q0 13 2 25M181 111q5 9 0 18M130 153q-12 8 -26 12M40 24q2 12 10 22M129 235q-2 10 -10 14M2 266q-5 7 -14 9M194 98q3 7 5 14M286 52q-0 8 4 16M226 154q1 9 -0 18M84 172q-12 6 -19 18M199 57q4 7 6 15M298 122q-1 13 5 24M191 51q8 6 10 15M17 209q-4 15 -19 22M123 238q-5 6 -12 11M17 116q13 1 25 8M292 78q2 11 8 21M153 242q-11 7 -12 20M252 267q-3 11 -11 18M73 149q-11 8 -22 15M16 86q14 4 25 14M34 274q-5 10 -15 15M28 158q-11 0 -18 7M194 233q-5 6 -5 13M297 115q-3 9 1 18M67 114q10 2 17 9M271 25q3 12 3 24M88 180q-12 8 -22 19M62 185q-10 5 -13 15M138 297q1 12 -3 23M215 276q-9 7 -10 19M274 75q-1 12 1 24M171 16q4 9 14 12M230 119q2 9 -2 18M262 185q-1 12 -5 24M48 138q8 3 16 5M105 52q7 13 21 19M66 138q11 7 16 19M117 230q-8 8 -16 16M131 263q-6 5 -8 12M250 113q5 10 2 21M68 282q-7 8 -8 18M25 240q-8 5 -14 13M210 295q-5 7 -11 13M268 189q2 12 -5 23M22 136q8 5 16 10M145 198q-7 4 -11 10M123 139q8 8 15 18M140 292q-7 7 -7 17M199 92q9 12 12 27M284 285q-5 14 -10 28M3 140q11 3 21 8M2 48q6 6 14 12M238 177q-0 12 -6 21M130 95q10 11 22 20M124 275q-11 6 -15 18M243 289q-3 14 -9 27M268 21q2 8 0 15M100 70q10 7 17 17M268 297q-10 11 -15 25M288 224q1 16 -11 27M214 206q-4 7 -3 16M111 273q-8 14 -22 20M66 260q-7 11 -18 19M124 127q8 9 18 14M218 19q6 7 7 16M130 203q-8 7 -10 18M288 226q3 10 -3 18M187 5q8 6 8 16M18 287q-7 14 -22 18M259 241q-7 7 -10 16M26 173q-7 13 -21 17M50 280q-5 9 -12 16M5 248q-9 5 -16 12M199 284q-6 8 -10 17M66 49q8 12 21 14M267 28q5 12 8 25M144 236q-1 8 -5 15M30 187q-8 2 -11 9M150 126q4 7 5 14M205 121q7 11 2 23M169 139q5 12 0 23M250 45q3 14 9 26M188 186q2 10 -1 19M70 257q-11 10 -16 25M201 201q-3 8 -4 16M61 235q-10 5 -13 15M262 149q3 9 1 18M158 32q5 10 14 16M113 243q-7 6 -10 15M139 130q11 2 15 12M119 175q-6 6 -13 10M75 42q6 12 8 25M290 63q7 9 4 20M297 46q-6 13 -1 26M287 152q3 12 5 25M106 112q6 7 12 15M155 119q5 6 12 12M3 299q-9 6 -15 16M253 25q-3 8 1 16M268 81q3 10 5 20M219 116q4 11 5 22M89 18q13 7 23 18M251 39q-3 12 1 24M245 288q-6 6 -10 14M233 222q-6 12 -2 25M58 288q-8 5 -15 12M156 11q9 10 15 23M186 222q-11 7 -13 20M210 90q2 9 5 17M192 123q-3 12 4 23M130 83q8 10 17 19M64 80q7 4 13 10M291 146q-2 7 -2 14M212 163q2 13 -2 26M208 213q-5 11 -8 23M209 23q5 7 13 12M11 31q3 7 10 10M197 260q-5 14 -7 29M127 106q4 6 9 12M24 154q-7 11 -19 17M28 102q12 7 23 15M215 73q1 12 4 24M51 75q7 5 15 8M25 134q6 5 12 11M259 290q1 15 -5 29M175 268q-9 9 -14 20M147 158q-3 7 -10 10M62 14q15 2 26 13M84 169q-11 6 -23 11M49 168q-11 8 -23 13M300 49q6 9 7 19M25 188q-3 15 -16 22M140 221q-7 5 -11 11M79 212q-6 12 -19 17M272 201q2 8 -2 15M74 186q-5 5 -12 9M38 211q-11 8 -25 9M138 214q-5 7 -11 14M10 239q-7 5 -12 12M142 218q-6 5 -7 12M210 22q3 10 4 21M164 114q4 13 12 24M234 147q-3 14 -5 29M257 176q2 14 3 27M11 254q-4 6 -10 11M117 184q-13 3 -21 15M106 141q11 7 21 17M120 31q10 6 13 17M199 75q10 9 10 23M278 90q-1 11 6 20M272 160q1 13 8 23M283 128q-4 11 -0 23M10 80q8 13 21 20M92 103q5 15 20 21M76 66q3 9 10 14M85 110q7 13 17 22M90 210q-13 3 -21 14M70 191q-6 9 -15 15M80 277q-7 4 -8 12M53 240q-8 2 -12 9M13 290q-5 8 -14 10M29 207q-13 -0 -22 9M194 202q-4 8 -6 16M168 145q-4 7 -1 15M216 17q3 14 6 28M232 57q1 12 6 23M56 73q9 7 17 15M161 278q-8 10 -14 21M53 148q-10 7 -21 11M115 284q-6 13 -19 19M249 237q0 9 -5 16M230 12q7 12 4 26M243 70q3 14 13 25M18 139q8 7 17 11M262 253q-0 9 -4 17M112 67q9 6 15 16M30 160q-6 10 -15 17M105 178q-5 6 -11 10M246 190q-6 12 -3 25M83 297q-8 10 -14 21M264 1q6 9 10 18M250 190q-5 8 -2 17M7 141q15 1 26 9M3 14q5 6 10 12M49 55q5 6 11 12M245 250q-2 8 -6 16M26 25q10 10 21 20M170 77q-0 12 4 23M225 84q-4 15 4 29M150 130q11 6 17 17M42 209q-10 6 -15 17M222 222q-9 14 -4 30M245 224q-1 14 -7 26M125 175q-11 9 -18 22M267 258q-4 11 -10 20M258 272q-6 13 -15 25M271 172q4 13 1 25M125 107q7 2 12 8M243 80q6 10 6 22M237 86q4 11 4 23M192 292q-9 9 -8 22M254 91q8 10 13 22M47 206q-15 2 -26 13M236 50q-3 8 -1 17M75 187q-6 9 -16 15M177 40q6 14 10 28M141 80q6 12 17 21M177 178q-0 15 -7 29M96 37q8 12 20 21M234 80q6 6 5 15M7 210q-8 5 -15 11M192 152q0 8 2 15M86 95q13 4 18 17M124 115q4 12 15 19M134 87q7 7 9 17M84 169q-10 7 -21 10M85 204q-13 5 -19 17M59 270q-7 5 -14 10M201 218q2 10 -1 20M95 20q8 4 11 13M262 285q-0 12 -5 24M58 240q-8 2 -14 8M285 184q3 13 -1 26M230 98q0 11 4 22M205 199q-9 9 -7 21M192 263q-14 8 -18 24M60 11q11 10 20 22M57 221q-10 10 -18 22M174 299q-6 6 -6 14M202 182q-3 14 -7 27M283 42q5 11 9 22M228 67q6 8 6 18M236 240q-5 5 -11 9M79 225q-6 5 -14 5M75 25q6 9 16 14M170 222q-5 9 -5 18M200 103q-1 8 3 15M20 52q12 4 23 12M113 250q-9 7 -10 19M234 291q-1 11 -4 22M83 74q13 7 18 21M235 152q1 10 1 21M45 299q-12 1 -18 12M133 282q-5 8 -8 17M156 286q-7 9 -16 17M124 228q-6 4 -10 10M50 218q-7 8 -16 14M144 161q-8 13 -18 23M242 178q-2 10 -5 20M33 212q-14 5 -21 19M103 249q-12 7 -18 19M127 223q-6 7 -11 14M128 133q9 10 23 11M69 113q9 11 24 15M63 263q-12 5 -19 17M141 47q8 7 7 17M57 6q12 9 18 23M237 0q5 12 8 24M197 28q7 4 10 12M206 179q-11 6 -15 17M108 201q-8 6 -14 14M255 211q-0 9 -5 16M237 100q2 9 -1 17M57 242q-9 3 -17 9M252 178q-8 9 -14 20M133 283q-10 4 -14 14M226 202q1 12 -8 20M167 192q-8 6 -12 15M18 203q-6 12 -18 19M269 35q-3 10 -5 20M78 231q-7 7 -9 16M253 102q1 9 1 18M72 38q8 6 9 16M32 222q-9 6 -14 17M77 61q9 6 19 6M272 223q-0 14 1 29M149 217q-5 8 -12 15M299 135q-5 12 -3 24M23 145q-12 10 -27 10M181 179q-1 13 -1 26M239 57q6 14 6 29M150 111q8 9 13 20M106 76q8 3 13 11M56 208q-6 11 -19 15M260 90q5 13 4 28M39 67q10 2 18 10M173 180q-4 7 -5 16M66 236q-15 4 -22 18M82 6q5 9 12 17M10 208q-13 1 -22 11M143 281q-1 8 -3 17M244 217q-4 14 -2 28M122 122q9 9 18 18M262 217q3 11 -3 20M47 74q4 7 11 10" stroke="#121412" stroke-width="1.4" opacity="0.35" stroke-linecap="round" fill="none" filter="url(#soft2)"/>
<ellipse cx="95" cy="45" rx="3" ry="16" fill="#141614" opacity="0.55" transform="rotate(-15 95 45)" filter="url(#bXS)"/>
<ellipse cx="105" cy="40" rx="3" ry="16" fill="#141614" opacity="0.55" transform="rotate(-10 105 40)" filter="url(#bXS)"/>
<ellipse cx="115" cy="42" rx="3" ry="16" fill="#141614" opacity="0.55" transform="rotate(5 115 42)" filter="url(#bXS)"/>
<ellipse cx="125" cy="45" rx="3" ry="16" fill="#141614" opacity="0.55" transform="rotate(10 125 45)" filter="url(#bXS)"/>
<ellipse cx="135" cy="48" rx="3" ry="16" fill="#141614" opacity="0.55" transform="rotate(15 135 48)" filter="url(#bXS)"/>
<ellipse cx="85" cy="55" rx="3" ry="16" fill="#141614" opacity="0.55" transform="rotate(-20 85 55)" filter="url(#bXS)"/>
<ellipse cx="145" cy="52" rx="3" ry="16" fill="#141614" opacity="0.55" transform="rotate(20 145 52)" filter="url(#bXS)"/>
<ellipse cx="100" cy="30" rx="3" ry="16" fill="#141614" opacity="0.55" transform="rotate(-5 100 30)" filter="url(#bXS)"/>
<ellipse cx="120" cy="30" rx="3" ry="16" fill="#141614" opacity="0.55" transform="rotate(5 120 30)" filter="url(#bXS)"/>
<ellipse cx="60" cy="120" rx="10" ry="50" fill="#1d1f1c" opacity="0.5" filter="url(#bM)"/>
<ellipse cx="250" cy="140" rx="10" ry="60" fill="#1d1f1c" opacity="0.45" filter="url(#bM)"/>
<path d="M61.8,93.6 C63.7,84.9 66.5,83.1 71.2,78.7 C75.9,74.3 84.3,69.9 89.9,67.4 C95.5,64.9 98,65.6 104.9,63.7 C111.8,61.8 122,57.1 131.1,56.2 C140.1,55.3 151.1,57.2 159.2,58.1 C167.3,59 172.6,59 179.8,61.8 C187,64.6 195.3,70.2 202.2,74.9 C209.1,79.6 215.7,84.9 221,89.9 C226.3,94.9 230.3,98 234,104.9 C237.7,111.8 241.8,122 243.4,131.1 C245,140.1 244.3,149.8 243.4,159.2 C242.5,168.6 240,179.5 237.8,187.3 C235.6,195.1 234,200.4 230.3,206 C226.6,211.6 221,217.2 215.4,221 C209.8,224.8 202.8,226.9 196.6,228.5 C190.3,230.1 183.5,231.2 177.9,230.3 C172.3,229.4 167.6,225 162.9,222.8 C158.2,220.6 155.1,218 149.8,217.2 C144.5,216.4 136.7,217.9 131.1,218.2 C125.5,218.5 121.7,219.6 116.1,219.1 C110.5,218.6 103.3,218.2 97.4,215.4 C91.5,212.6 85.2,207.5 80.5,202.2 C75.8,196.9 72.4,190.7 69.3,183.5 C66.2,176.3 63.4,167.9 61.8,159.2 C60.2,150.5 59.9,142 59.9,131.1 C59.9,120.2 59.9,102.3 61.8,93.6Z" fill="#ae7a6a" opacity="1" filter="url(#bS)"/>
<clipPath id="cw12"><path d="M61.8,93.6 C63.7,84.9 66.5,83.1 71.2,78.7 C75.9,74.3 84.3,69.9 89.9,67.4 C95.5,64.9 98,65.6 104.9,63.7 C111.8,61.8 122,57.1 131.1,56.2 C140.1,55.3 151.1,57.2 159.2,58.1 C167.3,59 172.6,59 179.8,61.8 C187,64.6 195.3,70.2 202.2,74.9 C209.1,79.6 215.7,84.9 221,89.9 C226.3,94.9 230.3,98 234,104.9 C237.7,111.8 241.8,122 243.4,131.1 C245,140.1 244.3,149.8 243.4,159.2 C242.5,168.6 240,179.5 237.8,187.3 C235.6,195.1 234,200.4 230.3,206 C226.6,211.6 221,217.2 215.4,221 C209.8,224.8 202.8,226.9 196.6,228.5 C190.3,230.1 183.5,231.2 177.9,230.3 C172.3,229.4 167.6,225 162.9,222.8 C158.2,220.6 155.1,218 149.8,217.2 C144.5,216.4 136.7,217.9 131.1,218.2 C125.5,218.5 121.7,219.6 116.1,219.1 C110.5,218.6 103.3,218.2 97.4,215.4 C91.5,212.6 85.2,207.5 80.5,202.2 C75.8,196.9 72.4,190.7 69.3,183.5 C66.2,176.3 63.4,167.9 61.8,159.2 C60.2,150.5 59.9,142 59.9,131.1 C59.9,120.2 59.9,102.3 61.8,93.6Z"/></clipPath>
<g clip-path="url(#cw12)">
<ellipse cx="150" cy="95" rx="80" ry="45" fill="#c09488" opacity="0.75" filter="url(#bL)"/>
<ellipse cx="150" cy="195" rx="85" ry="35" fill="#a2625a" opacity="0.75" filter="url(#bL)"/>
<ellipse cx="70" cy="150" rx="18" ry="70" fill="#8c5048" opacity="0.5" filter="url(#bM)"/>
<ellipse cx="235" cy="160" rx="14" ry="60" fill="#925650" opacity="0.45" filter="url(#bM)"/>
<path d="M61.8,93.6 C63.7,84.9 66.5,83.1 71.2,78.7 C75.9,74.3 84.3,69.9 89.9,67.4 C95.5,64.9 98,65.6 104.9,63.7 C111.8,61.8 122,57.1 131.1,56.2 C140.1,55.3 151.1,57.2 159.2,58.1 C167.3,59 172.6,59 179.8,61.8 C187,64.6 195.3,70.2 202.2,74.9 C209.1,79.6 215.7,84.9 221,89.9 C226.3,94.9 230.3,98 234,104.9 C237.7,111.8 241.8,122 243.4,131.1 C245,140.1 244.3,149.8 243.4,159.2 C242.5,168.6 240,179.5 237.8,187.3 C235.6,195.1 234,200.4 230.3,206 C226.6,211.6 221,217.2 215.4,221 C209.8,224.8 202.8,226.9 196.6,228.5 C190.3,230.1 183.5,231.2 177.9,230.3 C172.3,229.4 167.6,225 162.9,222.8 C158.2,220.6 155.1,218 149.8,217.2 C144.5,216.4 136.7,217.9 131.1,218.2 C125.5,218.5 121.7,219.6 116.1,219.1 C110.5,218.6 103.3,218.2 97.4,215.4 C91.5,212.6 85.2,207.5 80.5,202.2 C75.8,196.9 72.4,190.7 69.3,183.5 C66.2,176.3 63.4,167.9 61.8,159.2 C60.2,150.5 59.9,142 59.9,131.1 C59.9,120.2 59.9,102.3 61.8,93.6Z" fill="none" stroke="#5a302a" stroke-width="10" opacity="0.55" filter="url(#bM)"/>
</g>
<clipPath id="gt1"><path d="M61.8,93.6 C63.7,84.9 66.5,83.1 71.2,78.7 C75.9,74.3 84.3,69.9 89.9,67.4 C95.5,64.9 98,65.6 104.9,63.7 C111.8,61.8 122,57.1 131.1,56.2 C140.1,55.3 151.1,57.2 159.2,58.1 C167.3,59 172.6,59 179.8,61.8 C187,64.6 195.3,70.2 202.2,74.9 C209.1,79.6 215.7,84.9 221,89.9 C226.3,94.9 230.3,98 234,104.9 C237.7,111.8 241.8,122 243.4,131.1 C245,140.1 244.3,149.8 243.4,159.2 C242.5,168.6 240,179.5 237.8,187.3 C235.6,195.1 234,200.4 230.3,206 C226.6,211.6 221,217.2 215.4,221 C209.8,224.8 202.8,226.9 196.6,228.5 C190.3,230.1 183.5,231.2 177.9,230.3 C172.3,229.4 167.6,225 162.9,222.8 C158.2,220.6 155.1,218 149.8,217.2 C144.5,216.4 136.7,217.9 131.1,218.2 C125.5,218.5 121.7,219.6 116.1,219.1 C110.5,218.6 103.3,218.2 97.4,215.4 C91.5,212.6 85.2,207.5 80.5,202.2 C75.8,196.9 72.4,190.7 69.3,183.5 C66.2,176.3 63.4,167.9 61.8,159.2 C60.2,150.5 59.9,142 59.9,131.1 C59.9,120.2 59.9,102.3 61.8,93.6Z"/></clipPath><rect x="0" y="0" width="300" height="300" filter="url(#tex3)" opacity="0.35" clip-path="url(#gt1)" style="mix-blend-mode:overlay"/>
<path d="M75,150 C110,140 150,152 185,145 S230,150 240,152" stroke="#8a4038" stroke-width="4" fill="none" opacity="0.25" filter="url(#bM)"/>
<path d="M190 144q3 8 5 17M152 71q1 4 0 8M136 166q4 3 5 9M174 219q1 5 2 9M123 110q6 8 10 17M149 147q1 8 5 14M167 187q-1 7 4 12M104 179q4 5 3 11M233 112q1 10 9 17M113 74q8 6 11 15M232 145q3 5 4 10M224 144q-0 6 5 10M158 219q-0 9 4 18M128 174q5 8 6 17M160 83q-1 9 6 15M175 77q-0 7 5 12M162 97q4 4 5 9M113 213q6 6 5 14M117 93q1 7 3 14M180 152q0 9 7 15M93 210q1 4 5 7M228 134q6 6 6 14M193 133q5 5 7 11M137 71q2 6 5 12M148 215q-1 8 2 15M210 205q1 6 6 9M116 184q6 9 3 20M94 94q6 3 9 9M223 139q3 8 0 16M101 192q3 8 1 16M83 114q0 7 2 13M115 82q0 6 4 9M166 68q-1 10 5 18M186 141q7 6 11 13M81 106q8 7 8 17M204 196q3 5 1 10M123 207q0 5 3 8M106 160q6 5 9 13M213 148q-2 9 3 17M106 184q-1 8 1 15M127 174q3 5 1 10M127 192q1 9 6 16M195 76q5 5 7 12M161 138q-0 4 2 8M199 174q5 2 8 6M150 138q3 6 8 10M180 208q3 6 2 12M205 89q4 4 6 9M149 214q1 6 4 11M209 124q-1 5 1 9M217 178q6 8 11 16M191 191q3 6 4 12M226 191q2 5 6 9M136 66q2 7 5 14M98 99q3 4 4 10M73 180q3 4 3 9M156 199q-1 6 3 12M216 159q3 4 4 9M199 197q3 3 5 7M133 69q-1 7 2 12M128 207q4 6 7 13M91 99q1 5 5 9M128 60q4 9 5 18M195 135q3 8 6 16M113 84q5 6 10 13M188 82q2 6 6 9M184 223q-0 10 5 18M210 154q5 8 13 15M129 199q5 5 5 12M89 134q3 8 5 16" stroke="#8a3a34" stroke-width="0.9" opacity="0.35" stroke-linecap="round" fill="none" filter="url(#soft)"/>
<path d="M208 87q6 -10 17 -14M67 152q-9 2 -17 -0M193 76q5 -4 8 -9M202 75q4 9 14 10M145 60q7 -5 15 -6M65 136q-8 -5 -18 -9M203 83q8 -3 13 -9M131 57q-6 -2 -11 3M66 104q-9 -3 -13 -11M187 66q-9 -1 -16 -8M71 168q-9 5 -19 9M103 70q-3 -6 -8 -11M201 81q2 -8 7 -15M119 65q1 -8 3 -15M143 62q-6 -9 -8 -20M83 78q-3 -7 -10 -9M210 88q3 -4 1 -9M66 138q-8 1 -16 -0M68 97q-4 -1 -8 -2M171 66q2 -9 9 -14M144 62q9 -6 10 -17M89 75q-5 -8 -10 -17M107 61q-7 5 -15 10M161 62q-8 -4 -13 -11M168 65q1 -12 12 -18M101 67q-9 -0 -17 -3M66 137q-5 4 -12 2M213 90q-2 -7 3 -13M66 127q-5 1 -10 -2M65 163q-6 -5 -7 -13M69 94q-11 1 -18 -8M72 80q-4 11 -15 13M65 127q-9 2 -17 8M90 74q-5 -3 -7 -9M63 118q0 -6 -4 -9M133 62q1 -4 1 -9M121 64q3 -4 3 -8M75 181q-9 -3 -16 4M184 71q2 -5 5 -9M185 70q7 -9 18 -7M74 85q-7 -8 -18 -7M113 67q-3 -7 -9 -9M101 71q-0 -6 -4 -9M99 71q2 -9 -3 -18M210 88q10 -2 18 -10M72 87q-6 -7 -6 -16M66 144q-5 -3 -9 -6M209 88q4 -2 9 -5M192 74q-6 -9 -2 -19M208 87q6 -7 6 -17M179 68q3 -4 5 -9M203 83q7 -8 16 -14M129 63q2 -12 -7 -21M159 63q-2 -11 -10 -18M138 62q-5 -4 -4 -10M200 80q4 -6 11 -5M65 104q-6 -4 -7 -10M91 74q-3 -6 -4 -13M179 68q6 -10 1 -20M69 90q1 -5 -2 -8M102 70q-4 -4 -6 -10M67 148q-4 -4 -8 -2M176 66q7 -6 15 -13M70 167q-6 -0 -13 -3M202 81q-4 -9 1 -17M147 63q-2 -10 -8 -18M71 91q-5 -1 -8 -5M88 76q-8 -5 -12 -15M94 70q-3 -3 -8 -3M123 63q-6 -2 -10 -6M143 63q3 -6 6 -12M66 136q-7 -2 -14 2M112 68q1 -11 -5 -19M66 122q-8 -0 -15 3M119 65q-7 -5 -11 -11M175 67q4 -7 0 -13M118 66q-0 -5 -3 -9M71 173q-8 -1 -16 -5M165 64q5 -8 13 -12M66 152q-5 -5 -11 -7M64 119q-9 -6 -11 -16M204 84q3 -8 10 -11M67 154q-3 5 -8 6M96 72q-1 -6 -2 -11M88 75q-6 -1 -10 -6M191 73q-3 -4 -2 -8M70 166q-10 -3 -21 -2M68 92q-7 -1 -14 2M66 124q-4 -1 -8 -4M116 65q-3 -5 -9 -5" stroke="#141614" stroke-width="1.6" opacity="0.6" stroke-linecap="round" fill="none" filter="url(#soft)"/>
<path d="M117,88 C118.7,84.8 127.8,81 135,78 C142.2,75 154.5,70.7 160,70 C165.5,69.3 168,71.7 168,74 C168,76.3 164.7,81 160,84 C155.3,87 145.8,89.8 140,92 C134.2,94.2 128.8,97.7 125,97 C121.2,96.3 115.3,91.2 117,88Z" fill="#efe6e0" opacity="0.85" filter="url(#fuzz2)"/>
<path d="M96,72 C96.5,67.3 101.5,65.7 103,69 C104.5,72.3 105.5,87.3 105,92 C104.5,96.7 101.5,100.3 100,97 C98.5,93.7 95.5,76.7 96,72Z" fill="#efe6e0" opacity="0.85" filter="url(#fuzz2)"/>
<path d="M188,146 C188.8,142.8 195,143.7 197,146 C199,148.3 200,156.3 200,160 C200,163.7 198.3,167.2 197,168 C195.7,168.8 193.5,168.7 192,165 C190.5,161.3 187.2,149.2 188,146Z" fill="#efe6e0" opacity="0.85" filter="url(#fuzz2)"/>
<path d="M168,197 C169.7,195 177.5,192.8 180,195 C182.5,197.2 183.8,206.8 183,210 C182.2,213.2 177.2,214.5 175,214 C172.8,213.5 171.2,209.8 170,207 C168.8,204.2 166.3,199 168,197Z" fill="#efe6e0" opacity="0.85" filter="url(#fuzz2)"/>
<path d="M124,207 C124.8,205.7 128.8,204.2 130,205 C131.2,205.8 131.8,210.7 131,212 C130.2,213.3 126.2,213.8 125,213 C123.8,212.2 123.2,208.3 124,207Z" fill="#efe6e0" opacity="0.85" filter="url(#fuzz2)"/>
<path d="M140,190 C140.3,188.3 143.7,186.7 145,188 C146.3,189.3 148.3,196.3 148,198 C147.7,199.7 144.3,199.3 143,198 C141.7,196.7 139.7,191.7 140,190Z" fill="#efe6e0" opacity="0.85" filter="url(#fuzz2)"/>
</g></g>
<g transform="translate(985 889.5) scale(0.9933 0.9907)"><g clip-path="url(#cp300)" style="isolation:isolate">
<rect width="300" height="300" fill="#636567"/>
<rect x="-20" y="-20" width="340" height="110" fill="#4d4f51" opacity="0.8" filter="url(#bL)"/>
<ellipse cx="225" cy="30" rx="60" ry="30" fill="#76787b" opacity="0.6" filter="url(#bL)"/>
<ellipse cx="50" cy="280" rx="120" ry="60" fill="#8c8e90" opacity="0.85" filter="url(#bL)"/>
<ellipse cx="210" cy="285" rx="110" ry="40" fill="#7e8082" opacity="0.75" filter="url(#bL)"/>
<ellipse cx="285" cy="210" rx="30" ry="70" fill="#6e7072" opacity="0.6" filter="url(#bL)"/>
<ellipse cx="25" cy="160" rx="40" ry="60" fill="#727476" opacity="0.6" filter="url(#bL)"/>
<ellipse cx="80" cy="75" rx="55" ry="45" fill="#2f3032" opacity="0.85" filter="url(#bM)"/>
<ellipse cx="55" cy="130" rx="25" ry="45" fill="#3e3f41" opacity="0.7" filter="url(#bM)"/>
<ellipse cx="150" cy="45" rx="70" ry="22" fill="#3b3c3e" opacity="0.7" filter="url(#bM)"/>
<ellipse cx="250" cy="135" rx="22" ry="50" fill="#414244" opacity="0.7" filter="url(#bM)"/>
<ellipse cx="235" cy="210" rx="25" ry="30" fill="#505153" opacity="0.6" filter="url(#bM)"/>
<ellipse cx="70" cy="205" rx="25" ry="30" fill="#4e4f51" opacity="0.6" filter="url(#bM)"/>
<rect x="0" y="0" width="300" height="300" filter="url(#tex3)" opacity="0.35" style="mix-blend-mode:overlay"/>
<path d="M4 34q-6 -2 -9 -8M70 227q-6 0 -11 4M199 41q7 -5 7 -14M28 6q-7 -10 -11 -20M60 99q-7 -1 -12 -6M286 252q4 6 5 14M251 297q-1 11 1 22M66 239q-8 7 -18 9M192 66q5 -6 11 -10M194 251q-5 12 2 23M298 237q7 7 14 13M202 28q6 -3 8 -10M29 120q-11 -5 -18 -15M169 35q4 -5 3 -11M36 58q-8 -7 -16 -15M11 34q-1 -6 -5 -11M208 292q-4 11 2 21M105 3q-3 -7 -3 -15M53 14q-0 -5 -1 -11M62 58q-5 -10 -6 -21M55 136q-11 -2 -21 -7M140 40q1 -6 -1 -12M223 283q-0 7 4 12M36 127q-6 -1 -12 -3M73 234q-5 2 -9 6M269 78q6 -2 10 -8M60 64q-4 -7 -10 -11M20 75q-5 -8 -10 -16M150 281q-1 5 -3 10M2 0q-1 -8 -6 -14M90 274q-3 10 -11 18M182 254q2 9 2 18M29 172q-8 -5 -17 -2M258 93q8 1 15 -2M73 212q-10 1 -20 -1M295 239q4 4 6 9M148 299q1 8 -5 14M132 42q2 -5 1 -10M270 248q6 3 7 10M258 17q9 -4 12 -13M125 283q-3 5 -3 10M245 221q8 9 19 13M273 128q7 -5 16 -4M176 261q5 11 1 22M102 288q-3 6 -6 12M56 68q-1 -7 -7 -12M51 226q-7 -1 -14 2M130 23q3 -5 3 -11M145 19q1 -11 1 -22M232 36q8 -7 14 -15M255 265q9 6 13 16M257 293q6 5 6 12M184 45q8 -5 12 -13M261 43q5 -7 14 -9M138 40q5 -7 3 -15M247 101q8 -2 16 -6M56 41q-2 -10 -8 -18M257 236q2 6 7 8M51 29q-5 -6 -5 -14M22 124q-7 2 -14 -2M89 246q-6 7 -15 9M11 22q-1 -7 -6 -10M259 212q2 7 8 11M182 277q1 7 1 15M215 265q1 5 2 10M277 170q5 4 10 6M195 32q5 -7 12 -12M48 140q-8 0 -15 -3M286 291q6 5 11 11M170 294q-1 5 -2 10M101 241q-5 3 -9 6M8 72q-5 -10 -15 -12M283 85q8 -3 16 -1M206 287q-0 6 2 12M11 282q-6 1 -10 6M286 140q10 2 19 -1M280 51q7 -7 15 -11M264 36q6 -4 13 -2M76 213q-8 9 -20 9M170 46q2 -6 2 -11M26 22q-7 -9 -9 -20M37 230q-12 -3 -21 5M15 50q-7 -6 -16 -6M206 68q9 -2 15 -9M245 209q6 7 8 17M67 17q-8 -8 -17 -15M181 262q4 9 1 18M76 103q-8 -8 -17 -12M15 108q-5 -5 -9 -10M223 60q5 -5 10 -11M56 273q-9 4 -19 5M87 260q-6 9 -15 13M95 28q-1 -7 -5 -14M76 43q-2 -11 -10 -18M242 168q5 1 10 4M77 284q-4 7 -7 15M189 246q1 8 3 16M22 249q-8 0 -13 6M112 285q-1 11 -10 17M25 175q-7 1 -14 2M251 32q4 -6 12 -6M58 27q-2 -10 -11 -14M51 292q-7 9 -16 17M295 153q7 -0 13 3M5 244q-9 6 -20 9M59 86q-2 -5 -5 -9M180 61q7 -7 14 -13M274 55q10 -3 20 -5M32 39q-5 -9 -9 -19M14 148q-10 -7 -23 -7M197 7q3 -10 3 -20M250 286q-1 7 4 13M268 148q6 7 16 6M74 215q-10 2 -20 5M85 272q-8 8 -15 16M16 82q-4 -4 -5 -10M241 14q4 -10 15 -14M107 278q-1 12 -11 19M116 274q-3 6 -8 11M147 42q5 -5 4 -11M41 40q-2 -5 -7 -8M191 274q1 7 3 15M15 140q-4 -7 -12 -9M298 91q9 -6 20 -9M289 270q2 10 8 18M175 15q6 -8 7 -18M193 271q-2 7 -3 15M55 67q-8 -9 -15 -18M140 266q-3 7 -6 15M71 229q-10 2 -16 10M40 56q-4 -5 -9 -10M104 19q1 -11 2 -21M270 156q6 7 15 8M108 293q-7 7 -7 17M28 162q-11 -4 -23 -1M116 22q-0 -12 6 -23M248 178q6 3 12 6M204 297q4 8 6 16M36 133q-5 1 -10 -2M283 41q8 -6 17 -12M290 6q1 -11 7 -21M235 274q4 7 8 13M88 299q-12 4 -17 17M255 130q10 7 22 7M288 0q13 -4 18 -16M73 245q-5 8 -14 12M63 117q-9 -0 -15 -7M297 278q-1 10 7 17M45 62q-3 -6 -7 -12M266 106q7 -0 15 -0M285 152q8 5 16 7M216 251q3 5 4 11M32 232q-5 1 -9 5M291 4q10 -7 20 -13M35 9q-2 -8 -8 -13M1 261q-4 5 -9 8M270 151q8 -2 16 -1M273 278q2 5 4 10M221 281q-1 7 -1 13M57 42q-3 -11 -9 -20M76 19q-4 -10 0 -21M4 140q-5 -2 -11 -2M92 233q-6 6 -13 8M99 57q-1 -7 -2 -14M264 151q5 4 11 4M5 85q-7 -9 -15 -17M103 10q1 -5 0 -11M49 227q-6 3 -12 1M59 285q-11 4 -20 11M5 199q-7 2 -14 1M40 34q-7 -9 -16 -16M131 274q-4 5 -4 12M295 162q9 5 19 6M206 40q4 -9 8 -18M277 127q6 2 12 1M246 73q8 -2 14 -8M25 205q-12 0 -23 7M35 245q-3 5 -8 9M245 148q11 -3 22 -2M251 297q4 9 3 19M85 223q-9 7 -21 11M44 235q-10 4 -20 7M146 3q9 -8 13 -20M237 25q3 -6 9 -8M23 151q-8 -6 -17 -10M59 163q-8 -3 -16 0M7 7q-2 -7 -7 -13M226 242q3 5 4 10M82 52q-3 -12 -10 -22M285 18q6 -2 10 -5M293 121q5 -2 10 -0M45 43q-3 -12 -9 -22M249 127q9 1 16 -3M204 46q5 -5 8 -11M14 86q-13 1 -22 -7M55 57q-7 -6 -7 -15M262 292q3 9 8 16M65 249q-6 3 -10 7M285 255q2 8 9 13M102 22q-5 -11 -7 -22M144 18q2 -6 1 -13M81 22q-3 -7 -5 -14M268 215q7 7 17 10M228 86q6 -5 14 -6M113 247q-4 9 -12 17M214 274q1 11 4 22M5 272q-5 3 -10 2M258 204q9 5 13 13M74 90q-3 -9 -11 -15M29 121q-6 -3 -13 -5M99 288q-3 7 -7 14M224 219q5 9 4 19M136 23q6 -11 3 -22M80 216q-12 1 -23 6M260 135q9 1 17 3M167 13q-2 -10 2 -20M33 270q-6 5 -15 6M113 38q-5 -7 -6 -15M129 270q-8 6 -10 16M294 162q11 -1 20 6M264 40q6 -1 11 -4M89 247q-7 5 -8 13M214 78q7 -4 10 -12M39 266q-9 8 -20 12M273 51q10 -3 20 -5M162 5q1 -6 1 -12M269 231q5 7 10 15M250 203q4 11 14 17M231 238q-0 9 5 15M27 201q-10 5 -22 4M72 47q1 -12 -8 -21M195 281q2 11 3 22M176 42q3 -5 8 -8M28 210q-5 6 -12 6M296 74q7 -11 20 -11M33 105q-7 -7 -16 -9M266 270q4 11 12 19M81 283q-5 7 -10 14M73 76q-5 -8 -7 -17M101 252q-9 8 -20 13M300 91q11 -6 23 -4M246 202q6 3 11 6M242 267q3 6 7 12M270 242q2 6 8 9M9 257q-6 3 -11 5M193 30q3 -5 7 -8M57 42q-6 -8 -5 -18M40 160q-4 -7 -12 -8M105 37q3 -11 2 -23M103 19q1 -6 -1 -13M134 34q-4 -11 -1 -22M257 200q7 4 9 12M274 65q11 -4 20 -13M183 39q-2 -12 5 -22M277 289q9 8 8 20M248 141q10 4 21 5M231 74q5 -9 15 -10M267 247q7 3 9 11M209 38q10 -5 13 -16M291 220q6 5 13 9M41 93q-11 -4 -20 -12M215 270q-1 11 5 20M243 205q4 5 8 9M285 181q6 5 13 7M0 149q-8 -1 -15 -4M49 267q-7 5 -14 7M182 269q4 11 3 23M31 83q-8 -7 -16 -13M269 46q7 1 12 -4M288 8q8 -1 15 -6M205 28q8 -9 11 -21M53 112q-4 -3 -7 -8M190 29q4 -7 8 -14M268 183q9 8 12 19M264 39q7 -1 10 -6M67 94q-9 -5 -11 -15M294 229q4 4 8 9M281 117q10 -0 21 2M160 255q-1 9 -2 18M119 252q-3 6 -8 10M39 2q2 -6 -0 -12M289 167q6 2 12 0M286 189q4 8 13 9M210 67q8 -9 10 -20M16 244q-8 7 -19 7M57 288q-8 2 -13 9M107 51q-3 -10 -4 -21M84 234q-10 5 -17 14M4 71q-11 -1 -18 -9M297 248q5 8 12 14M258 116q8 -2 15 -3M75 19q1 -8 -2 -15M213 285q5 8 4 17M263 175q10 1 19 3M185 291q-3 10 -0 19M19 264q-9 3 -19 6M97 18q1 -7 -2 -14M171 1q7 -6 12 -14M95 5q-7 -10 -9 -22M35 132q-4 -4 -10 -4M241 260q1 12 8 21M165 34q1 -12 11 -19M19 85q-3 -5 -9 -6M222 222q6 9 8 20M185 27q3 -10 8 -20M21 298q-9 4 -15 13M22 183q-8 5 -17 2M149 298q-6 6 -10 14M286 39q8 -5 17 -10M182 51q2 -5 6 -8M2 216q-6 3 -12 2M97 74q-0 -8 -6 -13M170 42q3 -5 6 -10M34 89q-3 -7 -10 -9M39 142q-7 -6 -16 -7M108 275q-5 6 -8 14M82 297q-5 3 -8 8M60 161q-6 1 -11 -2M80 96q-7 -2 -11 -8M155 261q-2 6 -4 12M253 168q8 6 17 10M191 282q1 9 4 17M250 296q6 9 7 19M138 292q-7 8 -9 19M276 271q6 4 11 9M264 144q6 3 14 3M237 32q9 -1 15 -7M188 13q1 -6 2 -12M137 258q-4 8 -10 15M95 22q-4 -9 -4 -18M104 260q-4 7 -8 14M273 20q8 -5 18 -6M94 253q-7 8 -18 11M228 218q11 7 11 20M38 145q-7 -7 -17 -7M186 249q-0 9 -7 15M300 292q4 5 8 9M237 180q4 6 6 13M284 236q12 3 18 13M232 19q6 -5 13 -10M285 14q4 -10 15 -13M253 94q8 -1 17 -4M204 266q-3 11 3 21M53 69q-6 -7 -9 -14M231 239q-1 8 2 16M266 277q4 10 10 19M10 8q-2 -8 -9 -12M85 29q-3 -8 -4 -17M141 290q-1 7 -5 13M21 150q-9 -9 -21 -9M21 285q-9 2 -12 10M146 272q2 9 -4 17M280 189q8 -0 15 4M217 249q4 11 11 20M273 131q7 -1 13 3M123 13q-2 -10 -1 -20M265 32q5 -3 7 -8M243 206q5 3 7 8M28 158q-6 -3 -13 -6M10 1q-4 -11 -6 -22M238 231q-0 6 4 11M42 112q-9 -8 -20 -11M288 17q6 -0 9 -5M189 251q3 5 2 11M80 248q-10 7 -21 7M169 289q-4 11 -4 23M268 239q6 5 9 12M221 242q7 6 7 16M77 104q-5 -3 -10 -8M246 169q6 5 13 4M31 126q-6 -5 -11 -9M22 9q-6 -5 -10 -12M248 14q3 -9 12 -13M27 121q-9 -2 -14 -11M14 58q-12 -5 -17 -16M72 293q-2 6 -7 9M254 230q7 9 13 19M279 97q8 2 17 1M27 183q-8 4 -16 2M130 28q-1 -11 5 -21M222 285q-1 11 3 22M27 13q1 -8 -3 -14M274 195q7 3 12 8M7 293q-8 6 -14 14M246 263q4 7 7 14M188 290q2 6 -0 13M160 1q0 -7 5 -11M271 38q11 -5 21 -9M142 270q-2 8 1 17M12 294q-3 7 -10 10M193 60q7 -9 9 -20M36 288q-12 2 -20 11M23 13q-3 -5 -7 -10M293 251q7 8 11 17M83 83q-7 -7 -15 -12M54 189q-9 -3 -18 2M289 168q6 3 13 2M296 134q9 -3 18 -1M126 287q1 12 -4 23M251 157q9 6 19 11M250 196q11 3 17 14M64 94q-7 -9 -17 -13M253 104q10 -4 22 -7M89 242q-8 7 -12 16M36 184q-7 1 -13 5M190 259q-3 5 -3 10M269 163q7 5 15 5M173 37q-1 -10 5 -17M16 214q-7 -1 -12 3M4 27q-5 -5 -9 -10M285 247q1 5 6 8M293 117q5 1 10 3M17 229q-7 1 -14 4M232 91q7 -2 13 -6M257 129q11 -2 21 1M237 262q4 11 5 23M221 223q3 11 10 20M265 75q11 -2 17 -11M266 179q11 -1 21 6M63 69q-9 -6 -10 -17" stroke="#a4a6a8" stroke-width="1.3" opacity="0.35" stroke-linecap="round" fill="none" filter="url(#soft2)"/>
<path d="M23 64q-5 -7 -13 -11M30 153q-9 -6 -18 -12M283 265q9 6 12 17M3 219q-11 -2 -21 4M286 61q10 -8 23 -6M48 6q-4 -4 -4 -10M106 49q-0 -6 -4 -12M99 73q4 -8 0 -16M128 21q-1 -8 -5 -16M27 19q-8 -7 -9 -17M58 11q5 -9 2 -20M148 286q-5 10 -7 21M68 113q-9 -7 -18 -13M181 247q5 9 3 19M74 0q6 -8 3 -18M290 277q7 6 8 14M96 50q1 -11 -7 -19M63 234q-8 4 -16 8M272 113q12 -4 24 -1M1 264q-10 3 -18 8M34 95q-3 -6 -5 -12M135 271q-3 4 -3 10M39 25q0 -13 -8 -22M226 22q9 -5 11 -15M151 20q2 -12 10 -22M295 186q7 4 8 13M53 26q-4 -7 -7 -13M39 82q-7 -1 -12 -5M26 117q-4 -7 -12 -8M243 81q6 -0 12 -1M37 159q-6 -4 -13 -2M89 299q-0 11 -9 17M134 45q3 -5 1 -11M240 182q10 0 16 7M295 91q6 -7 16 -6M268 148q7 4 15 3M258 216q4 4 7 9M172 5q1 -9 5 -17M22 184q-10 -2 -19 -2M204 262q7 8 6 19M52 188q-11 -2 -22 1M24 48q-6 -10 -15 -19M50 39q-11 -7 -16 -18M167 283q-3 5 -3 11M219 80q10 -5 21 -8M41 167q-10 -2 -18 -6M123 31q-3 -11 1 -21M59 139q-7 -1 -12 -6M221 70q8 -4 13 -11M9 83q-8 -2 -12 -10M19 199q-8 -4 -16 -3M283 285q4 11 13 19M283 229q5 7 12 12M25 12q-1 -7 -6 -12M18 45q-7 -1 -11 -7M15 103q-3 -4 -7 -8M19 57q-5 -4 -6 -9M58 70q-6 -7 -10 -16M62 4q1 -12 -2 -23M58 132q-7 -5 -16 -3M60 210q-7 7 -18 6M44 155q-9 -4 -18 1M236 65q5 0 9 -4M26 180q-12 1 -21 -6M31 190q-8 -2 -17 1M2 185q-9 1 -18 0M237 7q4 -7 11 -11M136 32q-1 -7 -1 -14M21 168q-7 -6 -17 -6M114 53q-5 -8 -6 -18M82 231q-6 3 -10 8M195 270q3 10 2 20M211 265q1 6 -1 12M52 245q-8 6 -14 14M59 123q-9 -7 -20 -11M268 285q6 7 8 15M222 4q7 -5 13 -11M98 27q-5 -6 -5 -14M107 273q-5 5 -4 12M256 271q4 10 8 20M46 253q-10 2 -20 6M231 273q7 8 7 18M68 212q-8 1 -14 6M255 32q5 -4 11 -7M65 54q-3 -4 -5 -9M279 282q5 7 7 15M177 278q-4 10 -2 21M299 221q10 4 20 4M291 160q6 3 13 2M156 4q-0 -9 6 -14M179 23q2 -10 9 -18M9 287q-7 5 -16 3M284 239q9 7 13 17M43 171q-9 -2 -18 -6M209 30q6 -4 8 -11M187 250q2 8 -0 16M25 232q-7 -1 -13 2M267 92q9 0 15 -7M60 196q-11 2 -23 4M49 108q-7 -3 -13 -6M113 249q-0 10 -8 17M54 37q-8 -7 -13 -15M247 267q4 6 3 13M264 23q3 -4 7 -8M249 278q0 5 2 11M233 35q7 -1 13 -5M128 33q-0 -6 3 -12M24 99q-6 -3 -11 -9M236 279q5 9 4 19M11 190q-9 3 -17 1M183 33q5 -6 8 -14M72 47q-1 -9 -8 -16M48 33q-3 -5 -6 -8M194 284q-4 5 -5 11M128 268q-3 10 -12 14M93 273q-4 9 -11 16M58 245q-8 8 -19 9M146 261q0 10 -2 20M116 259q-2 7 -8 13M8 3q-7 -8 -12 -16M4 137q-6 -4 -13 -3M242 151q9 3 19 3M106 24q-2 -5 -1 -10M244 177q7 -0 12 5M181 38q8 -6 9 -15M70 72q-4 -6 -10 -8M258 64q8 -7 19 -10M180 258q4 9 3 18M141 6q-3 -8 0 -15M25 109q-10 -1 -16 -10M275 60q12 -1 21 -10M290 224q10 5 13 16M84 270q-5 6 -10 12M112 299q-2 9 -9 14M102 233q-9 5 -14 14M68 299q-5 3 -6 8M227 244q2 6 1 13M266 146q11 5 23 5M265 185q6 4 11 11M299 281q4 11 14 18M258 187q5 4 10 8M37 14q-2 -10 -9 -17M282 217q5 5 9 10M1 25q-4 -6 -10 -11M267 138q11 3 23 1M122 4q-2 -10 -1 -20M232 65q8 -4 16 -7M27 40q-10 -5 -15 -15M1 277q-8 -0 -13 6M37 76q-7 -7 -9 -17M245 195q3 5 9 6M106 35q-4 -7 -2 -16M289 283q1 7 7 10M256 130q11 0 19 6M3 7q-6 -4 -8 -11M213 68q6 -4 12 -7M9 281q-4 4 -9 5M42 76q-5 -10 -15 -14M229 6q3 -9 11 -14M181 37q4 -8 4 -17M222 251q2 6 3 13M36 188q-10 6 -21 3M57 66q-5 -7 -9 -15M231 296q1 6 3 11M272 246q6 7 8 16M165 29q1 -9 2 -18M274 282q7 8 13 18M176 57q7 -9 11 -19M138 0q4 -11 -3 -21M60 223q-7 5 -15 3M248 226q4 8 7 16M21 100q-3 -6 -9 -7M38 17q-2 -7 -8 -12M266 105q7 -2 14 1M26 183q-6 -3 -13 -4M181 249q1 5 1 10M175 59q7 -6 9 -15M160 33q2 -12 9 -21M77 82q-7 -8 -6 -18M80 14q-7 -6 -9 -15M68 228q-7 -2 -12 2M202 251q-0 7 0 14M214 272q8 10 7 23M196 43q2 -5 7 -9M54 50q-6 -10 -15 -18M22 280q-9 9 -22 9M246 102q9 4 18 -1M31 7q-2 -9 -4 -19M274 92q10 -2 20 -4M44 208q-9 1 -15 6M294 44q3 -6 9 -8M296 28q9 -1 16 -5M68 16q2 -9 -4 -17M281 150q7 2 11 8M297 15q10 -4 19 -9M79 284q-9 6 -12 16M33 251q-5 2 -10 4M1 38q-2 -8 -8 -13M75 271q-5 9 -14 13M3 31q-1 -12 -10 -20M66 2q-12 -5 -15 -17M55 221q-9 2 -18 7M223 55q10 -6 14 -17M52 208q-6 6 -14 7M248 92q7 0 11 -4M198 48q11 -5 19 -15M15 52q-2 -5 -6 -8M148 48q0 -11 -3 -22M7 88q-5 -10 -13 -17M177 297q-2 7 2 14M183 55q4 -5 6 -11M111 46q6 -10 2 -21M240 188q7 8 18 9M18 242q-8 -1 -14 3M270 144q9 5 18 7M42 278q-5 2 -7 8M241 41q10 -1 16 -8M93 56q3 -10 -3 -19M275 222q2 7 9 10M268 184q7 1 14 4M189 289q1 7 -1 15M112 43q-5 -11 -2 -23M263 209q5 3 6 10M283 175q10 5 21 8M134 266q-6 6 -7 14M64 60q-5 -11 -16 -16M50 45q-7 -5 -11 -12M15 240q-5 3 -11 4M41 3q2 -11 -4 -21M267 55q7 -7 17 -11M107 1q2 -5 -1 -10M177 48q10 -6 16 -17M252 69q3 -6 9 -8M226 259q2 5 5 10M194 0q4 -8 10 -14M264 241q3 8 9 13M266 146q11 -2 20 5M258 18q9 -5 17 -11M154 30q-0 -10 5 -19M243 15q2 -7 9 -11M259 155q11 5 20 12M143 284q-1 11 -7 21M205 248q3 7 1 14M78 290q-3 4 -8 7M293 294q3 9 12 13M249 216q9 4 14 13M141 256q-7 9 -6 20M90 34q0 -9 -3 -18M259 298q3 8 6 17M86 262q-8 7 -15 16M283 210q5 6 9 12M296 153q9 -1 18 1M294 10q9 -6 14 -15M22 220q-8 -3 -16 -2M50 162q-7 -0 -14 0M247 105q5 -1 9 -4M9 251q-7 3 -14 6M277 291q4 5 5 12M240 175q5 3 10 7M50 77q-4 -5 -8 -8M28 58q-8 -4 -11 -13M121 297q-1 11 -10 19M247 180q10 5 14 16M237 78q6 -2 11 -6M23 127q-6 -6 -15 -8M260 168q10 3 19 9M142 284q3 10 0 21M15 10q-6 -10 -13 -18M245 240q4 10 11 17M257 133q13 1 20 11M48 171q-6 0 -11 3M275 250q2 5 8 8M17 64q-11 -2 -17 -11M64 278q-4 4 -8 7M195 28q4 -5 10 -9M201 33q5 -6 10 -12M253 283q8 8 7 20M248 175q5 2 9 6M233 260q7 8 9 18M1 278q-7 5 -15 8M204 290q3 9 3 18M126 39q2 -10 -0 -20M296 246q7 9 15 17M150 285q-6 9 -7 19M240 36q3 -7 10 -9M30 72q-5 -4 -8 -10M204 72q6 -6 6 -14M42 12q-7 -6 -7 -15M239 169q7 0 11 6M36 69q-7 -8 -15 -16M280 163q13 1 22 10M106 262q-2 8 -9 14M34 127q-11 -4 -22 -6M216 27q4 -7 12 -11M181 288q-2 5 -2 11M198 280q2 12 5 23M26 299q-6 8 -13 16M282 145q11 -2 21 4M190 43q8 -4 10 -13M221 237q9 7 11 19M25 228q-9 5 -19 7M221 291q4 5 4 12M237 299q-1 6 3 10M141 290q-4 9 -4 18M226 270q2 6 8 9M53 50q-7 -7 -7 -16M177 46q9 -8 9 -19M36 92q-8 -1 -13 -7M39 259q-12 1 -19 10M244 200q9 2 13 10M225 61q6 -2 11 -6M78 50q-3 -10 -2 -21M56 182q-11 -1 -21 3M13 161q-6 1 -12 -1M64 224q-5 6 -12 7M223 78q11 -0 18 -9M42 240q-3 7 -10 9M215 62q11 -6 15 -19M285 54q10 -4 20 -8M267 288q7 6 6 14M42 115q-5 -8 -14 -8M169 32q2 -5 3 -11M82 31q2 -5 2 -10M251 109q9 3 18 2M78 287q-5 12 -18 16M19 234q-6 1 -12 5M241 256q2 7 2 15M45 66q-9 -7 -11 -18M57 100q-3 -10 -11 -17M170 279q-2 6 -5 12M40 89q-7 -8 -12 -17M7 169q-5 -6 -13 -5M34 98q-6 -8 -15 -10M182 13q6 -4 6 -12M99 267q-6 4 -8 11M160 267q-6 9 -6 20M67 60q-4 -6 -6 -13M88 248q-9 7 -17 14M168 274q-4 10 -1 21M239 32q3 -5 9 -8M196 264q-0 10 -1 20M260 108q10 1 18 -4M212 259q6 4 8 12M38 210q-7 1 -14 -1M37 86q-10 0 -17 -7M129 44q-0 -8 3 -15M86 259q-4 7 -8 14M71 19q-4 -8 -10 -15M54 89q-10 -6 -16 -17M25 98q-4 -4 -9 -7" stroke="#3a3b3d" stroke-width="1.3" opacity="0.35" stroke-linecap="round" fill="none" filter="url(#soft2)"/>
<path d="M80.5,97.4 C84.2,91.2 91.5,81.8 97.4,74.9 C103.3,68 110.5,60.9 116.1,56.2 C121.7,51.5 125.5,47.4 131.1,46.8 C136.7,46.2 143.6,49.9 149.8,52.4 C156,54.9 162.2,59.3 168.5,61.8 C174.8,64.3 181.1,65.2 187.3,67.4 C193.6,69.6 199.8,71.8 206,74.9 C212.2,78 219.1,82.3 224.7,86.1 C230.3,89.8 235.3,93 239.7,97.4 C244.1,101.8 249.7,106.8 250.9,112.4 C252.2,118 249.1,124.9 247.2,131.1 C245.3,137.3 242.2,143.6 239.7,149.8 C237.2,156 234.1,162.2 232.2,168.5 C230.3,174.8 229.8,181.1 228.5,187.3 C227.2,193.6 226.9,199.8 224.7,206 C222.5,212.2 220.1,220 215.4,224.7 C210.7,229.4 202.5,231 196.6,234.1 C190.7,237.2 183.5,238.7 179.8,243.4 C176.1,248.1 177.6,260.6 174.2,262.2 C170.8,263.8 164.5,255.9 159.2,252.8 C153.9,249.7 147.6,244 142.3,243.4 C137,242.8 132.3,249.1 127.3,249.1 C122.3,249.1 118,247.5 112.4,243.4 C106.8,239.3 99.8,230.9 93.6,224.7 C87.3,218.5 79.9,212.2 74.9,206 C69.9,199.8 66.2,193.6 63.7,187.3 C61.2,181.1 59.9,174.8 59.9,168.5 C59.9,162.2 61.8,156 63.7,149.8 C65.6,143.6 69.3,137.3 71.2,131.1 C73.1,124.9 73.4,118 74.9,112.4 C76.5,106.8 76.8,103.7 80.5,97.4Z" fill="#e6e8e8" opacity="1" filter="url(#fuzz)"/>
<ellipse cx="155" cy="150" rx="60" ry="70" fill="#f4f5f4" opacity="0.7" filter="url(#bL)"/>
<ellipse cx="150" cy="238" rx="30" ry="10" fill="#d8d0cc" opacity="0.6" filter="url(#bM)"/>
<ellipse cx="232" cy="205" rx="10" ry="14" fill="#cfc6c0" opacity="0.7" filter="url(#bS)"/>
<clipPath id="gt2"><path d="M80.5,97.4 C84.2,91.2 91.5,81.8 97.4,74.9 C103.3,68 110.5,60.9 116.1,56.2 C121.7,51.5 125.5,47.4 131.1,46.8 C136.7,46.2 143.6,49.9 149.8,52.4 C156,54.9 162.2,59.3 168.5,61.8 C174.8,64.3 181.1,65.2 187.3,67.4 C193.6,69.6 199.8,71.8 206,74.9 C212.2,78 219.1,82.3 224.7,86.1 C230.3,89.8 235.3,93 239.7,97.4 C244.1,101.8 249.7,106.8 250.9,112.4 C252.2,118 249.1,124.9 247.2,131.1 C245.3,137.3 242.2,143.6 239.7,149.8 C237.2,156 234.1,162.2 232.2,168.5 C230.3,174.8 229.8,181.1 228.5,187.3 C227.2,193.6 226.9,199.8 224.7,206 C222.5,212.2 220.1,220 215.4,224.7 C210.7,229.4 202.5,231 196.6,234.1 C190.7,237.2 183.5,238.7 179.8,243.4 C176.1,248.1 177.6,260.6 174.2,262.2 C170.8,263.8 164.5,255.9 159.2,252.8 C153.9,249.7 147.6,244 142.3,243.4 C137,242.8 132.3,249.1 127.3,249.1 C122.3,249.1 118,247.5 112.4,243.4 C106.8,239.3 99.8,230.9 93.6,224.7 C87.3,218.5 79.9,212.2 74.9,206 C69.9,199.8 66.2,193.6 63.7,187.3 C61.2,181.1 59.9,174.8 59.9,168.5 C59.9,162.2 61.8,156 63.7,149.8 C65.6,143.6 69.3,137.3 71.2,131.1 C73.1,124.9 73.4,118 74.9,112.4 C76.5,106.8 76.8,103.7 80.5,97.4Z"/></clipPath><rect x="0" y="0" width="300" height="300" filter="url(#tex3)" opacity="0.45" clip-path="url(#gt2)" style="mix-blend-mode:overlay"/>
<path d="M171 190q-6 5 -6 13M196 185q-5 6 -3 13M158 134q-2 5 -6 9M182 221q-4 5 -4 12M91 118q-3 3 -3 8M224 168q-1 5 -4 8M196 137q-3 6 -3 13M144 114q-0 8 -6 15M163 133q1 8 -3 15M148 184q-1 4 -6 6M181 219q0 7 -3 13M119 241q-0 6 -5 10M187 86q-4 8 -3 17M130 243q-5 8 -3 17M225 176q-2 7 -0 14M81 175q-0 7 -5 13M110 240q-5 7 -6 17M186 98q1 5 -0 9M102 149q0 5 -2 9M138 192q0 6 -4 9M108 76q-1 4 -2 8M115 85q-3 7 -10 12M237 116q-1 7 -6 13M129 244q-3 5 -3 10M133 120q-2 5 -6 8M115 143q-2 4 -5 8M115 176q-3 6 -6 11M93 162q3 6 2 13M74 181q-2 6 -7 9M164 84q-2 8 -1 16M99 195q-3 4 -3 9M125 95q-4 8 -8 15M153 107q0 5 -3 8M165 222q-2 7 -7 13M129 100q-2 8 -8 13M112 90q-3 5 -8 8M177 93q-3 6 -4 13M188 87q-2 4 -3 9M101 217q-3 7 -8 13M168 223q-5 7 -6 16M165 120q-3 7 -3 14M222 114q-0 8 -3 16M208 149q-2 8 -5 16M166 250q-4 3 -6 8M164 227q0 6 -1 12M195 123q-5 7 -6 15M129 118q-1 9 -6 16M119 235q-1 7 -7 11M120 243q-3 9 -7 16M113 186q0 5 -1 9M111 62q-0 6 -5 10M168 247q-6 5 -8 12M243 121q-7 6 -8 15M232 132q-5 3 -6 10M144 242q-2 5 -4 11M140 233q-1 6 -3 12M220 111q2 8 -3 14M139 174q-6 6 -6 14M211 115q2 8 -3 14M102 79q-2 8 -5 16M208 101q-1 6 -5 10M232 114q-3 3 -3 8M188 228q-3 3 -3 8M130 101q-3 7 -1 14M124 210q-2 9 -9 15M122 85q-1 5 -3 10M117 124q-1 5 -4 9M111 189q-6 6 -9 13M93 90q2 8 -3 15M226 137q-3 8 -5 17M70 196q-3 5 -7 11M218 182q-1 9 -7 16M223 91q-1 5 -4 10M100 214q2 9 -4 16M172 177q-5 7 -9 14M161 250q-4 2 -6 6M157 91q-3 4 -3 8M188 108q-4 7 -9 13M177 137q-3 3 -5 7M149 80q-0 9 -5 17M91 195q-2 7 -2 14M125 195q-1 9 -6 16M89 155q-6 6 -4 14M75 200q-4 8 -3 16M102 112q-2 6 -2 13M169 162q-4 7 -5 16M104 103q0 6 -3 10M100 91q-3 5 -7 9M143 189q-7 5 -12 10M155 191q-4 5 -6 10M152 104q-0 7 -4 13M225 136q-3 6 -5 13M176 108q-0 8 -5 14M150 188q-3 5 -7 9M66 152q-5 3 -7 8M103 98q-4 4 -8 8M188 208q-0 4 -3 8M155 187q-6 6 -8 15M110 100q-4 3 -6 8M209 181q-3 8 -9 13M140 219q-0 5 -4 9M147 158q-3 3 -3 8M209 197q-5 5 -4 12M210 131q-0 10 -8 15M135 239q-1 6 -5 11M136 99q-2 6 -2 13M117 231q-5 7 -9 14M212 192q-5 6 -8 14M161 241q-2 4 -3 8M172 199q-4 5 -3 11M179 126q-3 4 -5 10M124 244q-4 4 -5 10M138 115q-3 6 0 11M130 129q-6 3 -8 10M191 149q-1 5 -2 9M133 199q-2 6 -4 12M113 235q-5 5 -9 10M188 189q-1 6 0 11M124 123q-5 7 -6 16M195 75q-1 6 -6 10M136 221q-4 4 -3 10M75 133q-2 5 -5 9M87 207q0 6 -3 11M213 220q-1 4 -4 7M196 194q-0 8 -5 14M130 58q-1 5 -3 9M155 136q-3 4 -5 8M141 116q-0 7 -3 13M151 117q-0 9 -7 14M176 137q-6 6 -9 14M100 114q-3 4 -3 8M161 190q-4 7 -9 13M158 250q-5 7 -5 16M115 144q-4 4 -5 10M169 243q0 7 1 14M187 166q-3 4 -3 9M122 61q-2 6 -7 11M245 135q-6 5 -6 13M233 108q-2 5 -6 8M160 120q-5 5 -4 12M75 180q-3 4 -4 8M71 160q0 4 -2 8M112 68q-1 7 -1 14M200 215q0 6 -1 11M143 141q-2 4 -4 7M145 167q-2 5 -4 9M138 58q-4 7 -8 14M83 116q-3 4 -5 8M103 188q-1 8 -2 16M189 106q1 6 -1 11M171 223q2 8 -3 15M120 133q-2 4 -2 9M188 104q-5 4 -5 10M177 110q-3 6 -4 13M121 197q-2 6 -1 12M112 101q-2 7 -5 14M110 131q-2 6 -3 11M197 110q-2 8 -7 14M138 136q-6 7 -5 16M189 150q-2 5 -5 8M173 78q-5 6 -5 14M160 183q2 7 -2 13M132 245q-6 7 -9 15M171 143q-3 5 -1 10M144 81q-5 7 -7 16M95 155q-1 9 -9 14M183 155q-5 7 -3 15M171 127q-2 5 -3 10M177 124q1 7 -4 13M102 210q-3 7 -8 12M158 130q-5 7 -7 14M89 121q-0 6 -4 9M83 106q-2 8 -5 15M134 158q-4 4 -5 11M165 210q-0 8 -6 14M151 87q-5 6 -9 13M123 102q0 6 -4 9M188 78q-0 6 -3 11M97 82q-0 4 -1 8M95 192q-6 4 -9 10M106 96q-0 5 -1 11M76 201q-7 4 -8 13M223 123q-6 6 -6 14M110 83q-4 3 -5 8M75 153q-1 8 -7 12M161 195q-2 6 -7 9M131 200q-3 3 -3 8M176 117q-3 4 -4 9M113 101q-1 7 -3 14M132 204q-7 6 -6 16M136 96q-1 7 -5 12M93 153q-3 8 -7 16M228 147q-2 7 -5 13M203 86q-2 5 -5 9M204 140q-2 7 -1 14M130 121q-2 7 -7 13M137 106q-2 5 -3 11M147 68q-6 5 -6 13M153 138q-2 9 -4 18M179 126q-4 7 -3 14M138 80q-1 8 -7 12M84 151q-3 7 -6 14M118 175q-7 5 -8 14M91 201q-2 9 -8 15M161 125q-1 4 -3 8M118 113q-0 10 -8 15M138 184q-4 8 -3 16M202 174q-2 5 -1 10M164 229q-3 9 -11 13M216 207q-3 9 -11 14M155 224q1 4 -0 8M98 152q-2 8 -6 14M227 158q-5 8 -4 17M131 235q-1 7 -2 15M196 201q-3 5 -3 11M126 156q-1 5 -4 9M124 138q-4 3 -7 6M69 142q-2 4 -5 7M208 96q-0 9 -5 16M141 186q-5 6 -7 13M71 161q-2 4 -6 6M142 152q-1 10 -9 15M206 110q-5 7 -5 16M105 92q-2 6 -2 12M148 128q-4 4 -6 10M171 199q-0 7 -4 13M192 137q0 9 -5 17M218 124q-1 9 -3 17M86 143q-5 4 -6 10M217 129q-2 5 -7 9M194 231q-2 6 -8 8M161 169q-0 7 -5 11M121 89q-5 7 -10 14M100 128q-0 4 -2 8M219 183q-2 8 -4 17M224 168q-2 9 -5 17M184 124q-2 5 -4 10M211 104q0 5 -1 9M170 233q-2 4 -4 8M83 128q-1 9 -5 17M168 147q-3 6 -7 11M170 207q-6 4 -7 11M72 182q-7 6 -8 15M189 146q-5 4 -6 10M204 202q1 8 -3 15M96 224q-2 4 -5 8M177 122q-4 4 -5 9M169 174q-2 8 -6 15M162 210q-1 4 -3 8M140 238q-5 6 -5 14M219 178q-3 5 -2 10M234 158q-2 9 -7 16M177 237q-2 4 -6 7M147 97q-7 5 -12 13M147 241q-3 6 -5 13M227 160q-1 5 -4 8M92 201q1 9 -3 16M179 114q-3 8 -6 15M231 164q-0 5 -2 10M157 237q-6 6 -8 15M76 195q-6 7 -5 17M86 104q-3 2 -5 6M227 129q-3 4 -5 8M108 89q-3 5 -5 9M189 116q-5 7 -9 15M169 204q-6 6 -11 11M144 215q0 8 -6 13M146 96q-5 8 -3 18M84 161q-4 4 -4 9M70 164q0 7 -4 13M179 65q-4 4 -6 9M121 228q-2 4 -3 8M96 135q-5 6 -3 14M97 154q1 8 -3 15M223 144q0 6 -3 11M99 130q-1 6 -6 8M125 87q-5 7 -4 16M141 72q-3 5 -6 10M88 110q-2 6 -4 12M95 97q-0 9 -8 14M97 204q0 8 -5 13M91 103q-0 7 -5 13M226 182q-4 7 -3 15M153 96q-1 5 -4 10M143 233q-2 9 -6 17M106 129q2 5 1 11M152 162q-4 5 -4 12M192 105q-4 8 -3 17M196 97q-1 4 -3 8M181 209q-4 8 -5 17M96 110q-7 6 -10 15M120 169q-6 6 -5 15M183 83q0 6 -3 11M194 113q-3 5 -5 10M213 120q-3 4 -3 8M209 92q-3 7 -5 14M181 218q-7 7 -6 17M99 178q-2 5 -3 10M211 129q-1 9 -6 17M115 149q-4 7 -2 16M218 114q0 5 -3 8M193 205q1 8 -3 15M100 122q-0 6 -3 11M149 223q-2 4 -5 6M178 171q-0 6 -3 10M176 72q-2 7 -5 14M82 117q2 7 -2 14M123 113q-3 4 -5 9M176 248q-5 7 -3 16M181 203q2 7 -2 14M110 173q-5 6 -5 14M107 161q-2 4 -4 9M237 105q1 8 -3 14M66 165q-4 4 -5 9M125 173q-4 4 -5 11M117 56q-0 5 -3 10M174 76q-4 7 -2 15M247 121q-4 4 -4 9M196 109q-2 5 -3 11M206 138q-1 5 -4 8M89 167q-3 4 -5 9M153 137q-4 8 -1 17M146 63q-2 5 -4 10M167 67q-3 9 -2 18M118 145q-3 7 -7 14M126 244q-4 5 -8 11M180 135q-2 4 -3 8M141 198q-1 4 -2 8M175 120q-5 8 -4 17M129 240q-0 6 -5 11M85 160q-5 7 -6 16M151 93q-1 10 -9 15M226 161q-2 8 -2 17M184 79q-2 7 -6 13M126 149q-2 6 -5 11M113 87q-0 4 -3 8M165 210q-1 4 -2 9M145 227q-1 6 -1 13M129 189q-3 4 -5 10M166 237q-4 5 -7 11M154 191q-5 3 -6 8M191 113q-5 4 -7 10M110 99q0 8 -3 16M154 227q-0 4 -3 8M102 172q-4 7 -8 14M159 98q-1 5 -4 8M211 176q-0 7 -1 14M177 162q-3 6 -3 13M104 161q-1 4 -1 8M217 190q-1 9 -2 17M183 162q-1 7 1 15M99 109q-4 7 -2 15M139 123q3 7 3 14M153 179q-3 9 -8 16M187 152q-1 4 -3 8M97 153q-2 5 -3 11M128 83q-0 6 -3 10M114 131q-1 5 -6 8M185 207q-0 6 -3 11M204 87q-1 7 -4 12M107 92q-5 5 -6 12M209 202q-6 6 -7 15M124 211q-4 5 -3 11M75 168q-4 7 -10 14M73 136q-1 5 -3 9M129 139q-3 6 -4 13M209 175q-4 6 -6 14M156 205q-2 4 -3 8M114 105q-3 8 -5 15M145 216q-0 6 -1 11M239 142q-3 5 -6 10M172 231q-6 6 -5 15M130 226q-1 7 -6 11M158 186q-3 6 -8 11M136 146q-1 9 -5 17M127 145q-6 5 -12 10M96 199q-7 3 -9 10M91 189q-4 4 -5 10M112 219q-2 6 -3 13M84 148q-0 9 -7 15M188 127q0 9 -6 15M135 184q1 9 1 17M153 184q-1 6 -4 10M129 122q-2 6 -4 12M153 191q-2 6 -6 11M101 73q-1 4 -4 7M133 151q-1 6 -4 11M200 212q-2 5 -4 11M213 167q-3 6 -3 13M86 204q-4 4 -7 8M187 124q-4 7 -7 14M123 193q-3 5 -4 11M199 130q-4 5 -4 11M212 103q-2 4 -5 7M196 183q-0 6 -4 10M94 186q-5 3 -6 9M173 180q-8 6 -9 15M176 215q-2 7 -1 14M124 56q-2 7 -6 12M173 145q-2 6 -1 12M129 184q2 9 -4 16M95 144q-2 6 -6 11M130 86q-2 5 -4 9M130 115q-0 4 -3 8M157 96q2 8 -2 15M112 195q-3 5 -2 11M79 200q-3 5 -4 10M232 157q-4 5 -4 12M113 174q-1 6 -1 11M166 75q0 5 -3 8M164 165q-7 6 -7 16M144 75q-1 9 -10 14M147 200q-5 7 -7 15M158 218q-2 4 -4 8M140 171q1 4 -1 9M197 161q-3 6 -3 13M209 189q-2 6 -7 9M100 159q-1 4 -2 8M194 197q-5 7 -6 15M108 89q4 8 0 17M194 168q-1 6 -4 11M133 147q-2 8 -2 16M185 155q-6 7 -5 16M82 211q-3 5 -7 9M201 94q-4 4 -6 10M176 71q-1 7 -4 14M136 83q-7 7 -5 17M80 140q-5 3 -7 9M189 117q1 8 -5 15M122 133q-3 9 -1 17M165 222q-3 7 -5 14M130 76q-3 7 -5 15M155 165q-2 5 -5 9M84 156q-4 5 -4 12M126 118q-3 5 -6 10M105 102q-6 3 -8 9M161 229q-3 5 -6 9M196 98q-0 6 -4 11M177 149q-1 8 -8 12M104 82q-3 7 -9 12M220 181q0 7 -3 13M148 236q0 7 -1 14M236 125q-5 8 -3 17M133 181q-1 4 -2 8M159 89q-4 7 -6 14M171 259q0 7 -2 14M143 141q-2 4 -5 7M155 60q-2 9 -8 15M114 83q0 9 -4 16M84 174q-0 6 -5 9M227 192q1 10 -7 16M247 113q-2 5 -5 10M235 100q-5 7 -3 14M75 199q-0 7 -2 13M87 193q2 7 -2 12M157 201q-6 7 -5 17M111 151q-1 9 -3 17M95 141q-3 4 -5 8M140 158q-8 5 -11 14M206 160q-3 8 -7 16M159 178q-2 6 -4 11M145 65q-2 7 -3 15M158 196q-1 8 -5 14M147 84q-5 6 -9 14M219 146q-3 6 -5 11M195 111q-1 7 -5 12M188 78q-0 6 -2 11M197 109q-3 6 -7 12M134 70q-4 4 -6 10M175 235q-5 7 -8 14M155 86q-3 7 -7 14M181 205q-5 4 -7 10M126 166q-1 7 -6 13M112 222q-1 5 -6 8M189 147q-7 6 -6 15M189 134q-1 7 -5 14M211 174q-4 6 -4 12M167 250q-2 4 -4 9M211 175q-0 5 -4 9M102 230q-0 4 -4 7M192 196q-3 5 -5 10M113 193q-7 6 -7 15M151 151q0 5 -1 11M82 196q-3 6 -0 12M233 139q-2 9 -9 14M122 89q-2 5 -2 11M103 225q-3 7 -8 12M128 231q-4 3 -6 8M180 158q-1 4 -3 8M159 119q-5 5 -9 12M174 151q0 5 -4 9M179 244q-0 6 -4 11M111 102q-1 9 -6 17M202 212q-2 4 -3 9M185 103q-8 5 -10 14M132 190q-4 8 -9 15M192 118q-2 7 -5 13M66 183q-1 6 -2 11M121 111q2 7 1 14M89 146q-1 4 -2 8" stroke="#c9cbcb" stroke-width="1.1" opacity="0.55" stroke-linecap="round" fill="none" filter="url(#soft)"/>
<path d="M159 176q-4 8 -9 14M82 183q-2 8 -1 16M77 166q-5 7 -9 15M191 88q1 6 -1 11M161 182q0 6 -3 12M237 122q-1 8 -5 15M126 139q-1 5 -5 9M122 68q-3 8 -8 15M101 96q-2 6 -5 10M184 78q2 7 -1 13M81 150q-6 4 -9 10M139 178q-1 8 -5 15M163 139q-1 6 -3 13M136 65q-7 6 -8 15M93 201q-1 5 -3 9M216 190q1 8 -2 15M91 160q2 9 2 17M171 254q-3 6 -4 12M203 122q-2 4 -4 8M153 111q-1 8 -4 16M175 80q-4 7 -4 15M106 71q-2 4 -0 9M146 213q-0 9 -6 16M146 134q-1 6 -6 9M174 241q-5 5 -10 11M183 91q-3 3 -5 7M186 155q-0 5 -2 10M145 147q-1 4 -2 8M106 118q-6 5 -10 13M201 107q-4 5 -7 11M139 81q-2 7 -6 12M127 60q-3 4 -4 10M224 199q-7 3 -10 9M196 99q-4 5 -4 11M128 106q-6 7 -5 16M224 154q1 5 -3 10M156 213q-3 4 -3 10M104 184q-3 8 -9 14M210 166q-6 4 -8 12M83 101q-3 5 -5 11M165 185q-4 5 -8 10M69 150q-3 4 -6 9M89 99q1 9 -3 18M128 127q-1 5 -2 11M176 102q-5 6 -8 14M185 93q-3 8 -7 15M95 80q-1 6 -3 11M136 107q-1 5 -5 9M130 83q-8 3 -10 11M169 70q-3 7 -6 14M120 175q-5 5 -6 11M175 134q-4 8 -5 16M199 207q0 9 -7 14M193 146q-1 7 -6 12M146 57q-0 6 -4 11M136 222q-6 5 -10 11M183 178q-4 5 -4 11M153 118q0 9 -4 17M110 121q-3 4 -2 9M144 96q-0 4 -1 9M152 185q-6 3 -7 9M171 182q-5 7 -4 16M180 137q-5 7 -6 16M168 234q-6 5 -9 13M95 214q2 7 0 13M189 228q-2 8 -6 15M176 197q-1 5 -4 9M213 99q0 10 -7 16M175 169q1 9 -4 17M198 139q1 8 -2 16M142 60q-5 5 -4 12M214 95q-3 3 -4 8M121 55q2 8 -4 15M90 154q0 6 -3 10M168 195q-1 7 -6 11M204 106q-3 4 -4 10M180 213q-4 4 -6 10M155 119q-4 4 -5 9M91 96q-7 3 -9 11M223 179q-2 8 -8 14M190 109q-0 9 -5 16M163 130q1 9 -5 15M220 95q-2 7 -3 13M112 199q-4 7 -5 14M148 191q-1 8 -7 14M70 168q-1 6 -5 11M163 109q-5 7 -3 16M85 173q-3 7 -5 13M186 229q-3 3 -3 8M229 150q-3 5 -2 10M131 161q-6 7 -7 16M203 130q-4 4 -5 8M207 104q-6 6 -9 13M124 172q-1 8 -5 16M157 227q-2 9 -4 17M130 81q-4 3 -5 8M83 147q0 5 -4 9M129 187q-3 8 -4 17M102 195q-6 4 -10 11M161 59q-5 3 -6 10M157 203q-4 6 -6 14M214 211q-3 6 -8 11M69 172q-4 6 -4 13M153 72q-1 8 -8 12M179 68q-5 8 -5 17M200 155q-1 7 -6 11M131 77q-2 4 -5 7M204 199q-3 4 -2 9M133 148q-2 7 -1 15M110 103q-4 4 -5 10M221 93q-7 5 -9 13M118 124q-0 6 -4 9M172 65q-1 5 -2 10M163 216q-7 7 -5 16M203 217q1 9 -3 17M84 171q-0 8 -3 16M97 204q-1 6 -5 11M158 108q-4 7 -9 12M79 111q-1 4 -4 7M94 119q-2 7 -6 14M245 118q-2 8 -3 16M154 65q-7 6 -9 16M85 142q-2 6 -5 13M146 125q-3 7 -5 15M222 121q-1 4 -3 7M142 85q-4 8 -8 15M214 203q-4 7 -9 13M174 240q-4 6 -5 14M123 138q-5 5 -9 12M72 169q-4 6 -8 13M127 56q-3 3 -3 8M144 190q-3 9 -9 15M90 110q-0 6 -2 12M233 103q2 9 -1 17M117 123q-3 5 -5 10M218 111q-2 6 -3 13M130 170q-6 6 -7 14M196 122q-3 4 -2 8M115 99q1 9 -4 17M191 70q-1 4 -3 8M207 210q-2 4 -4 7M207 181q-1 4 -2 8M159 231q1 4 -1 8M210 166q-1 5 -4 9M219 139q-3 4 -4 8M165 235q-0 5 -3 8M75 176q-5 4 -8 10M81 158q-3 4 -7 8M81 181q-2 5 -2 10M142 142q-7 5 -10 14M181 114q0 7 -2 14M133 79q-2 7 -8 12M211 171q-0 9 -6 16M112 208q-0 8 -7 14M224 107q-5 6 -5 13M218 154q-4 7 -10 11M210 181q-2 7 -3 14M199 122q-4 2 -5 7M120 201q-1 5 -5 8M159 217q-3 6 -1 13M159 59q-3 7 -10 11M114 183q-6 5 -7 12M199 108q-5 4 -5 10M126 111q-6 3 -9 8M142 154q-4 8 -4 17M79 177q2 5 -1 9M156 151q-1 9 -5 17M124 57q-0 5 -2 10M217 84q-6 4 -10 11M195 206q-2 4 -3 8M215 105q-4 7 -3 15M223 180q0 5 -4 8M239 117q-1 4 -2 9M171 184q-2 4 -5 8M184 151q0 5 -2 10M77 201q-1 5 -2 9M192 98q-2 7 -4 13M182 172q-5 7 -9 14M162 160q-1 5 -2 11M195 131q-3 4 -2 9M88 187q-2 8 -5 16M97 177q-3 4 -5 8M161 127q-2 7 -7 13M215 133q-1 6 -1 12M180 110q-0 5 -3 9M159 93q-6 7 -4 16M201 217q-5 6 -7 14M182 185q-3 5 -4 11M199 94q-4 7 -5 15M190 201q-4 8 -5 17M67 145q0 7 -4 12M90 174q-5 6 -7 13M65 165q-1 5 -3 10M165 125q-4 6 -5 12M201 74q1 6 -3 10M199 147q-6 7 -10 14M199 201q-5 5 -6 12M129 169q-3 6 -6 11M242 121q-2 7 -3 13M174 221q-5 4 -5 11M94 164q-1 5 -4 9M210 164q-1 5 -6 9M123 126q-1 9 -4 17M171 111q-0 5 -3 10M116 175q-0 5 -3 9M64 163q2 7 -0 14M152 75q1 7 -3 12M167 172q-3 8 -7 14M169 235q-2 6 -2 13M209 200q1 7 -2 14M155 149q-4 6 -7 13M74 131q-2 4 -6 8M140 56q-3 7 -7 14M219 85q-3 8 -7 14M169 216q-1 7 -7 12M196 112q-1 5 -2 10M146 170q-4 4 -5 10M213 136q-3 6 -1 12M169 113q1 6 -4 11M169 194q-3 6 -7 11M111 104q-4 6 -4 13M78 111q-4 8 -7 16M82 137q0 6 -4 11M201 73q-2 4 -5 8M158 242q-1 5 -5 8M231 174q-4 6 -2 12M162 111q-3 5 -2 10M157 151q0 6 -4 10M149 239q-0 7 -4 12M86 182q-2 7 -5 12M179 88q-2 5 -2 9M158 210q-3 4 -4 8M86 99q-2 6 -5 12M184 98q0 6 -4 11M153 172q-0 7 -5 13M146 189q-6 6 -9 12M175 178q0 10 -7 16M235 135q-1 4 -4 8M152 132q-1 7 2 13M106 198q-4 7 -10 11M145 111q-3 9 -11 13M196 139q-1 4 -1 9M212 181q-2 4 -2 9M102 199q-3 4 -3 8M224 127q-4 6 -6 13M163 185q-1 6 -3 11M156 216q-6 5 -7 13M133 146q-4 8 -6 16M111 80q-1 4 -5 7M126 134q-3 5 -6 11M166 176q-6 7 -5 15M181 206q0 5 -2 9M157 94q-4 6 -6 13M125 216q-2 7 -7 14M180 196q-7 6 -7 16M163 154q-5 7 -8 14M72 191q-2 6 1 13M118 159q-0 6 -4 9M127 127q-2 4 -3 8M186 94q0 9 -6 15M90 177q-3 5 -6 9M151 188q-5 5 -7 12M202 152q-0 5 -4 7M179 95q-5 8 -11 14M177 196q0 7 -4 11M187 133q-5 8 -4 17M87 117q-0 6 -6 10M83 110q-6 4 -9 11M160 187q-3 4 -3 10M86 209q-2 9 -2 18M148 115q-1 5 -5 8M194 189q-3 4 -2 9M118 102q-5 3 -7 8M221 189q-2 7 -4 14M165 161q-1 7 -4 13M155 119q-2 5 -8 6M158 193q-4 5 -4 11M150 84q-5 5 -5 12M203 84q-2 6 -8 8M97 91q0 7 -4 13M173 223q-2 8 -8 15M147 71q-2 7 -6 12M200 150q-4 6 -7 14M149 230q1 6 -2 11M143 176q-1 6 -3 12M225 168q-1 7 -7 10M195 139q1 6 -3 10M95 135q-6 6 -6 15M175 196q0 9 -5 15M139 183q-2 6 -3 11M160 160q2 7 3 15M75 177q-4 4 -6 9M164 60q-4 4 -6 9M200 135q-0 6 -1 13M169 101q-3 3 -4 8M68 149q-2 5 -1 10M187 80q-1 7 -4 14M132 226q-5 5 -4 12M162 148q-2 6 -6 10M215 110q-2 6 -6 11" stroke="#ffffff" stroke-width="1.2" opacity="0.7" stroke-linecap="round" fill="none" filter="url(#soft)"/>
<path d="M201 228q5 5 7 11M77 117q-5 -1 -10 2M104 231q-4 2 -6 5M181 239q3 5 5 11M74 127q-4 -2 -5 -7M146 242q0 3 -1 5M243 107q3 0 5 -2M115 61q-2 -3 -1 -6M66 150q-6 4 -11 8M238 148q4 -2 8 -2M180 243q-4 5 -2 12M73 197q-5 3 -9 6M124 55q-3 -4 -7 -6M212 82q4 -4 9 -4M91 217q-2 6 -8 7M75 129q-4 1 -6 -2M64 161q-5 -1 -9 1M160 61q-1 -6 0 -12M228 174q4 1 8 1M174 257q2 5 1 10M176 250q0 3 2 5M114 60q1 -5 3 -10M226 185q2 2 5 1M157 250q1 3 3 5M79 206q-1 3 -3 6M203 76q5 -4 11 -6M207 79q4 -2 8 -5M168 65q2 -6 2 -12M223 204q1 3 4 4M214 222q6 2 12 2M76 121q-3 -1 -6 -3M213 83q2 -3 3 -7M219 210q3 1 6 1M229 173q3 5 9 6M181 240q-0 4 -2 8M189 235q0 4 3 6M244 134q2 -2 5 -3M81 104q-2 -2 -4 -5M96 224q-4 6 -3 12M230 165q4 -1 8 2M109 236q-3 2 -4 4M227 183q2 2 5 4M119 58q-2 -5 -6 -10M187 71q2 -3 5 -7M72 196q-1 3 -4 4M95 222q-3 4 -8 3M181 68q3 -4 1 -8M112 64q-2 -3 -3 -8M152 57q1 -3 2 -7M111 66q-4 -3 -5 -8M223 204q2 5 5 8M192 72q2 -2 4 -3M220 209q5 4 8 11M171 66q-1 -6 2 -12M197 231q2 2 4 3M245 109q7 -0 11 -6M244 132q3 0 6 2M66 150q-4 6 -10 8M186 70q0 -4 3 -6M224 89q1 -5 6 -7M180 68q2 -4 6 -7M82 102q-4 -3 -9 -6M143 53q-4 -6 -2 -13M186 237q3 5 7 9M75 125q-1 -3 -3 -5M220 209q4 2 7 5M90 90q-1 -4 -5 -5M141 53q1 -4 1 -7M141 53q-2 -4 -1 -9M104 73q-3 -5 -6 -9M223 201q3 -0 5 3M223 201q5 3 7 9M217 214q3 2 6 3M247 119q5 -0 8 -3M178 247q2 5 1 10M64 176q-5 2 -6 7M114 63q-3 -6 -8 -9M79 206q-5 3 -6 8M133 246q-2 4 -5 5M235 96q6 2 12 2M199 230q2 6 6 11M226 188q5 4 8 9M124 55q0 -3 -2 -5M217 215q3 1 4 3M158 59q-6 -5 -4 -12M196 231q5 4 6 10M77 204q-6 -2 -11 1M83 99q-4 -1 -8 -4M148 54q-3 -6 -7 -12M176 254q2 6 -2 11M106 69q-1 -7 2 -12M65 181q-3 1 -6 2M226 191q0 3 3 4M64 174q-7 -2 -13 3M100 77q-4 -4 -4 -9M131 50q2 -5 -1 -10M231 163q6 1 11 1M118 57q-1 -6 4 -11M169 256q2 6 -2 11M107 235q2 4 0 8M165 255q6 2 7 9M193 233q2 2 4 5M110 66q0 -6 -5 -9M154 58q-0 -5 3 -9M114 241q-0 6 -0 11M152 246q2 4 3 9M238 149q3 -2 6 -3M171 66q2 -4 1 -8M132 50q-2 -2 -4 -3M107 233q-1 3 -4 4M81 105q-6 -1 -9 -6M63 164q-4 2 -9 5M68 145q-3 -0 -5 2M242 137q2 2 5 2M228 176q3 1 6 -1M188 236q7 4 7 12M94 221q-2 3 -3 6M222 205q4 0 7 2M113 62q-6 -3 -13 -3M223 89q3 -2 5 -6M211 81q2 -3 5 -6M117 59q-2 -3 -4 -6M227 178q3 0 5 1M77 117q-2 -4 -6 -5M229 169q3 -1 6 0M222 205q2 7 9 10M141 53q1 -6 1 -13M117 242q-0 4 -0 8M246 125q6 -1 12 -2M75 129q-5 2 -10 -1M76 202q-4 0 -6 3M246 127q4 -5 9 -4M67 148q-5 5 -12 4M75 127q-3 -0 -5 -1M81 105q-4 -2 -7 -6M226 187q1 5 7 7M92 87q-7 -2 -10 -8M181 69q6 -5 7 -12M95 222q-2 2 -5 3M175 253q1 2 2 5M149 244q3 7 2 14M229 169q2 1 5 1M67 149q-6 1 -13 0M214 221q3 5 9 5M74 132q-5 1 -11 2M206 226q3 5 6 10M176 257q-3 3 -3 7M215 219q4 4 9 8M245 109q4 1 7 -1M244 105q1 -4 -1 -8M122 55q-1 -7 3 -12M219 86q-0 -3 1 -6M239 144q4 1 8 -1M139 243q-2 5 -6 8M164 62q4 -1 7 -3M180 68q-3 -3 -3 -6M154 247q-1 4 1 6M208 226q4 0 6 3M242 137q7 -0 14 1M93 86q-2 -3 -5 -6M154 58q3 -3 6 -7M162 62q-2 -6 1 -11M69 146q-5 0 -9 -3M154 57q-1 -3 -0 -5M98 225q-5 3 -9 5M65 180q-6 -3 -13 -2M225 197q1 3 3 6M226 185q3 -2 7 -0M217 215q2 2 3 5M194 73q2 -2 5 -4M70 192q-6 -1 -10 3M199 75q7 -3 7 -11M93 85q0 -5 -3 -9M217 85q1 -3 5 -4M66 184q-4 2 -7 6M72 196q-6 -4 -13 -1M226 190q2 4 5 6M224 197q3 3 7 3M248 118q4 -4 9 -8M227 91q5 -3 9 -8M172 66q0 -3 3 -5M139 52q-0 -7 -0 -13M160 250q-4 4 -4 9M121 244q-3 3 -5 6M221 208q-1 4 2 7M194 73q1 -8 7 -12M169 65q-6 -5 -4 -13M118 58q-3 -1 -5 -3M93 220q-4 1 -6 4M243 133q6 -3 13 -0M122 244q-1 3 -2 5M109 237q0 3 -1 5M133 50q1 -5 -2 -8M242 136q4 -2 7 -0M231 95q3 -3 8 -5M151 245q-0 6 -2 12M158 60q-1 -4 1 -8M226 187q6 1 10 6M201 229q1 5 5 8M84 211q-4 3 -8 2M229 171q3 -1 6 -1M246 131q2 -2 4 -4M128 50q2 -6 7 -11M146 243q-1 5 -0 10M82 101q-2 -2 -5 -5M236 97q4 -3 9 -2M100 77q-2 -5 -7 -8M239 147q6 -4 12 -6M82 102q-4 -3 -6 -7M68 189q-6 -1 -12 2M107 70q-0 -5 -4 -9M213 81q6 3 12 -1M170 257q2 3 2 6M74 130q-3 2 -6 1M232 162q4 2 9 -0M227 182q5 4 11 5M194 73q0 -3 -2 -5M121 56q-2 -1 -4 -2M193 73q-0 -4 1 -7M208 80q4 -4 6 -9M99 226q-3 4 -7 7M225 191q5 -0 8 3M137 52q2 -4 5 -7M180 243q-3 4 -3 9M234 160q5 -4 12 -5M246 111q4 -0 7 -3M179 242q2 6 2 13M104 72q-4 -3 -3 -9M205 77q3 -1 5 -3M63 171q-3 -0 -5 1M129 50q1 -7 4 -13M75 124q-3 -2 -6 -4M138 242q1 3 -1 5M175 254q3 4 4 10M106 233q-2 4 -6 5M213 222q6 1 10 6M66 182q-4 2 -8 4M178 245q-1 4 2 8M188 71q3 -2 3 -5M135 247q-4 2 -7 2M230 168q1 3 4 4M158 249q1 6 1 12M196 73q-2 -2 -2 -5M72 196q-3 2 -4 6M76 120q-3 -1 -5 -2M65 180q-4 4 -9 7M99 227q-1 4 -1 7M128 52q1 -4 -2 -8M105 72q-2 -4 -5 -8M234 157q4 1 7 -2M150 245q-1 4 -5 5M162 253q1 7 5 12M221 207q7 -0 13 1M145 54q-0 -7 5 -12M132 244q1 4 -1 8M130 245q-3 4 -3 10M70 193q-2 1 -5 1M146 242q2 7 -2 13M72 196q-3 -0 -5 1M232 162q2 4 6 7" stroke="#f0f1f0" stroke-width="1.4" opacity="0.85" stroke-linecap="round" fill="none" filter="url(#soft)"/>
<g opacity="0.95" filter="url(#bXS)"><ellipse cx="100" cy="50" rx="9.4" ry="8" fill="#0b0b0c" transform="rotate(30 100 50)"/><path d="M100.0 50.0l14.0 1.9M100.0 50.0l-10.0 -6.9M100.0 50.0l10.1 -4.1M100.0 50.0l-10.0 -6.1" stroke="#0b0b0c" stroke-width="6.7" stroke-linecap="round" fill="none"/></g>
<g opacity="0.95" filter="url(#bXS)"><ellipse cx="108" cy="66" rx="4.3" ry="4.5" fill="#0b0b0c" transform="rotate(70 108 66)"/><path d="M108.0 66.0l2.8 5.7M108.0 66.0l-0.6 -5.5M108.0 66.0l2.2 6.6M108.0 66.0l-2.1 -5.5" stroke="#0b0b0c" stroke-width="3.8" stroke-linecap="round" fill="none"/></g>
<g opacity="0.95" filter="url(#bXS)"><ellipse cx="147" cy="55" rx="5.8" ry="4" fill="#0b0b0c" transform="rotate(60 147 55)"/><path d="M147.0 55.0l6.3 2.9M147.0 55.0l-4.1 -6.7M147.0 55.0l5.7 3.5M147.0 55.0l-5.4 -6.5" stroke="#0b0b0c" stroke-width="3.4" stroke-linecap="round" fill="none"/></g>
<g opacity="0.95" filter="url(#bXS)"><ellipse cx="188" cy="64" rx="5.8" ry="3.5" fill="#0b0b0c" transform="rotate(130 188 64)"/><path d="M188.0 64.0l-4.2 8.2M188.0 64.0l8.3 -1.1M188.0 64.0l-4.7 5.3M188.0 64.0l5.8 -5.6" stroke="#0b0b0c" stroke-width="2.9" stroke-linecap="round" fill="none"/></g>
<g opacity="0.95" filter="url(#bXS)"><ellipse cx="56" cy="101" rx="6.5" ry="6" fill="#0b0b0c" transform="rotate(20 56 101)"/><path d="M56.0 101.0l7.2 2.2M56.0 101.0l-6.4 -5.2M56.0 101.0l9.9 -0.2M56.0 101.0l-9.8 3.4" stroke="#0b0b0c" stroke-width="5" stroke-linecap="round" fill="none"/></g>
<g opacity="0.95" filter="url(#bXS)"><ellipse cx="82" cy="112" rx="5.8" ry="3.5" fill="#0b0b0c" transform="rotate(150 82 112)"/><path d="M82.0 112.0l-2.8 7.2M82.0 112.0l5.0 -4.9M82.0 112.0l-8.7 2.7M82.0 112.0l7.5 -2.4" stroke="#0b0b0c" stroke-width="2.9" stroke-linecap="round" fill="none"/></g>
<g opacity="0.95" filter="url(#bXS)"><ellipse cx="66" cy="146" rx="6.5" ry="4.5" fill="#0b0b0c" transform="rotate(90 66 146)"/><path d="M66.0 146.0l-4.4 7.4M66.0 146.0l-6.0 -4.7M66.0 146.0l-6.9 5.8M66.0 146.0l-0.4 -9.3" stroke="#0b0b0c" stroke-width="3.8" stroke-linecap="round" fill="none"/></g>
<g opacity="0.95" filter="url(#bXS)"><ellipse cx="83" cy="162" rx="4.3" ry="3" fill="#0b0b0c" transform="rotate(10 83 162)"/><path d="M83.0 162.0l6.1 -1.2M83.0 162.0l-7.1 -0.8M83.0 162.0l4.5 -1.9M83.0 162.0l-5.0 -0.2" stroke="#0b0b0c" stroke-width="2.5" stroke-linecap="round" fill="none"/></g>
<g opacity="0.95" filter="url(#bXS)"><ellipse cx="216" cy="116" rx="5.8" ry="3.5" fill="#0b0b0c" transform="rotate(150 216 116)"/><path d="M216.0 116.0l-2.0 6.4M216.0 116.0l2.1 -7.7M216.0 116.0l-6.5 0.8M216.0 116.0l7.8 2.2" stroke="#0b0b0c" stroke-width="2.9" stroke-linecap="round" fill="none"/></g>
<g opacity="0.95" filter="url(#bXS)"><ellipse cx="255" cy="130" rx="7.9" ry="7" fill="#0b0b0c" transform="rotate(150 255 130)"/><path d="M255.0 130.0l-8.0 10.1M255.0 130.0l5.0 -10.8M255.0 130.0l-8.7 9.3M255.0 130.0l11.8 -1.9" stroke="#0b0b0c" stroke-width="5.9" stroke-linecap="round" fill="none"/></g>
<g opacity="0.95" filter="url(#bXS)"><ellipse cx="258" cy="145" rx="4.3" ry="5" fill="#0b0b0c" transform="rotate(10 258 145)"/><path d="M258.0 145.0l4.9 3.2M258.0 145.0l-4.4 -1.9M258.0 145.0l5.9 0.9M258.0 145.0l-4.8 -1.2" stroke="#0b0b0c" stroke-width="4.2" stroke-linecap="round" fill="none"/></g>
<g opacity="0.95" filter="url(#bXS)"><ellipse cx="228" cy="180" rx="6.5" ry="3.5" fill="#0b0b0c" transform="rotate(110 228 180)"/><path d="M228.0 180.0l-3.2 6.7M228.0 180.0l6.1 -8.2M228.0 180.0l-8.0 7.1M228.0 180.0l7.6 -6.8" stroke="#0b0b0c" stroke-width="2.9" stroke-linecap="round" fill="none"/></g>
<g opacity="0.95" filter="url(#bXS)"><ellipse cx="86" cy="208" rx="7.9" ry="5" fill="#0b0b0c" transform="rotate(20 86 208)"/><path d="M86.0 208.0l11.5 4.0M86.0 208.0l-9.3 0.1M86.0 208.0l9.0 3.6M86.0 208.0l-12.4 0.7" stroke="#0b0b0c" stroke-width="4.2" stroke-linecap="round" fill="none"/></g>
<g opacity="0.95" filter="url(#bXS)"><ellipse cx="80" cy="200" rx="3.6" ry="4" fill="#0b0b0c" transform="rotate(0 80 200)"/><path d="M80.0 200.0l4.4 -1.7M80.0 200.0l-5.7 -1.3M80.0 200.0l5.8 0.6M80.0 200.0l-5.6 0.5" stroke="#0b0b0c" stroke-width="3.4" stroke-linecap="round" fill="none"/></g>
<g opacity="0.95" filter="url(#bXS)"><ellipse cx="124" cy="236" rx="7.9" ry="6" fill="#0b0b0c" transform="rotate(150 124 236)"/><path d="M124.0 236.0l-8.4 8.3M124.0 236.0l10.4 -7.2M124.0 236.0l-9.8 2.0M124.0 236.0l4.7 -9.4" stroke="#0b0b0c" stroke-width="5" stroke-linecap="round" fill="none"/></g>
<g opacity="0.95" filter="url(#bXS)"><ellipse cx="195" cy="222" rx="8.6" ry="3" fill="#0b0b0c" transform="rotate(120 195 222)"/><path d="M195.0 222.0l-7.9 7.3M195.0 222.0l10.4 -0.1M195.0 222.0l-4.2 12.7M195.0 222.0l4.6 -10.3" stroke="#0b0b0c" stroke-width="2.5" stroke-linecap="round" fill="none"/></g>
<g opacity="0.95" filter="url(#bXS)"><ellipse cx="178" cy="250" rx="5.8" ry="3" fill="#0b0b0c" transform="rotate(100 178 250)"/><path d="M178.0 250.0l-2.4 8.4M178.0 250.0l-2.0 -8.8M178.0 250.0l0.2 8.8M178.0 250.0l5.2 -4.2" stroke="#0b0b0c" stroke-width="2.5" stroke-linecap="round" fill="none"/></g>
</g></g>
<g transform="translate(1314.8 889.5) scale(0.9920 0.9907)"><g clip-path="url(#cp300)" style="isolation:isolate">
<rect width="300" height="300" fill="#4c4c52"/>
<ellipse cx="35" cy="150" rx="55" ry="120" fill="#66666c" opacity="0.85" filter="url(#bL)"/>
<ellipse cx="265" cy="70" rx="75" ry="95" fill="#1c1c20" opacity="0.95" filter="url(#bL)"/>
<ellipse cx="275" cy="190" rx="40" ry="70" fill="#2e2e33" opacity="0.8" filter="url(#bL)"/>
<ellipse cx="150" cy="285" rx="150" ry="40" fill="#5c5c62" opacity="0.8" filter="url(#bL)"/>
<ellipse cx="70" cy="25" rx="70" ry="35" fill="#3a3a3f" opacity="0.7" filter="url(#bL)"/>
<ellipse cx="140" cy="25" rx="45" ry="18" fill="#26262b" opacity="0.8" filter="url(#bM)"/>
<rect x="0" y="0" width="300" height="300" filter="url(#tex)" opacity="0.45" style="mix-blend-mode:overlay"/>
<path d="M50 274q-6 7 -14 13M47 45q-9 -7 -12 -18M18 235q-12 2 -23 -3M38 201q-6 -3 -12 -0M207 294q-3 10 -3 20M55 266q-10 7 -21 10M44 200q-8 4 -17 5M6 40q-2 -9 -7 -16M162 264q1 7 -2 12M12 259q-12 2 -22 10M33 198q-9 -5 -20 -5M255 289q0 7 0 14M63 206q-8 -1 -15 4M114 266q-11 3 -19 11M64 49q-7 -9 -6 -20M71 170q-6 0 -12 -2M69 203q-9 -5 -19 -5M291 268q6 11 2 23M177 283q3 10 -1 20M218 235q2 5 5 10M205 277q-3 6 -1 12M239 207q4 5 9 11M55 142q-8 -11 -20 -14M16 248q-11 -0 -21 4M8 228q-8 1 -15 0M52 260q-7 -1 -13 2M8 247q-11 0 -22 5M57 54q-1 -9 -7 -16M241 256q4 4 7 10M20 251q-13 0 -26 5M48 27q-6 -11 -7 -23M271 292q3 12 11 22M269 274q-0 12 6 23M104 50q-2 -12 -4 -24M159 266q-2 10 -4 21M244 226q7 7 9 16M75 256q-13 2 -20 13M4 194q-6 -4 -14 -2M124 283q-0 6 -3 10M52 126q-4 -4 -9 -7M289 257q8 8 17 13M137 25q3 -13 -3 -24M241 207q3 13 11 23M5 284q-6 7 -13 14M10 186q-12 -6 -25 -1M111 287q-11 7 -14 20M55 295q-5 8 -14 11M236 240q7 11 6 25M105 2q4 -10 -1 -19M27 296q-9 1 -14 8M44 90q-3 -6 -6 -12M66 25q-4 -8 -7 -17M29 134q-9 -10 -22 -10M245 276q2 7 1 14M33 87q-3 -8 -10 -11M155 270q-6 7 -9 16M30 129q-14 0 -23 -11M122 251q-7 10 -17 19M214 268q-1 9 3 17M91 269q-6 2 -11 7M189 10q0 -9 7 -15M281 201q5 7 9 15M27 44q-1 -11 -6 -22M186 10q5 -6 10 -13M21 171q-7 -5 -15 -6M2 214q-11 -1 -22 0M31 188q-9 -4 -19 -5M55 214q-13 -6 -25 1M5 121q-10 -8 -15 -20M71 133q-5 -2 -7 -7M6 275q-11 2 -20 8M261 278q8 8 10 20M145 20q1 -11 8 -19M91 233q-12 1 -19 11M124 33q1 -13 -4 -24M82 3q-6 -9 -3 -19M105 297q-5 10 -13 17M180 266q-3 11 -9 20M298 201q6 11 17 15M251 239q-1 8 2 16M229 247q-2 10 4 19M84 277q-11 -1 -21 4M1 168q-8 -2 -16 -2M31 193q-5 3 -11 2M24 286q-11 7 -24 6M32 173q-6 1 -12 -0M43 74q-7 -7 -8 -17M46 32q-5 -10 -11 -18M75 120q-8 -8 -19 -9M197 289q1 12 -8 21M24 12q-2 -9 -5 -17M67 83q-10 -7 -14 -19M3 62q-9 -4 -14 -12M104 46q-2 -12 3 -23M247 244q7 9 5 21M228 285q-1 8 -1 15M48 199q-5 -0 -10 -0M80 260q-4 7 -12 9M85 289q-7 10 -19 14M63 117q-6 -9 -15 -13M242 258q2 7 3 13M235 241q8 9 6 21M87 277q-3 6 -9 9M37 262q-10 3 -14 13M83 251q-11 5 -14 16M36 270q-11 0 -18 8M81 86q-1 -10 -7 -17M31 236q-13 2 -25 1M277 283q5 10 7 20M215 282q-3 5 -1 11M26 197q-6 -3 -13 -3M6 154q-12 -5 -23 -10M238 206q8 8 15 17M296 234q3 7 9 12M265 225q6 6 10 13M61 206q-12 2 -24 3M35 168q-6 -0 -11 -2M10 39q-6 -11 -13 -22M55 12q-8 -11 -8 -24M288 288q4 9 5 19M89 49q-1 -8 -3 -16M286 219q3 13 12 22M74 13q-6 -9 -4 -20M66 185q-5 1 -11 1M207 241q-1 7 3 12M66 189q-8 0 -16 1M166 273q1 13 -8 23M132 32q-9 -11 -6 -25M284 296q6 9 9 19M108 255q-3 12 -13 17M62 128q-7 -10 -16 -18M45 76q-4 -4 -9 -5M31 54q-3 -5 -8 -7M135 296q-5 12 -15 21M98 247q-4 6 -10 11M68 229q-6 1 -9 6M33 134q-10 2 -19 -3M24 78q-9 -5 -12 -15M47 105q-6 -3 -10 -9M245 244q3 8 3 17M75 152q-9 -6 -19 -5M35 137q-10 -6 -19 -14M169 276q-4 4 -7 9M1 76q-8 -11 -22 -13M139 40q2 -12 5 -24M89 19q-3 -7 -4 -14M89 225q-9 1 -16 6M13 153q-9 -2 -18 -2M80 260q-4 4 -9 8M1 159q-5 -6 -12 -6M199 42q9 -9 13 -21M258 296q1 10 6 19M207 247q-7 12 -3 25M51 232q-11 2 -18 12M2 116q-5 -3 -9 -6M42 16q1 -10 -4 -19M98 12q4 -8 1 -16M45 196q-8 1 -16 3M55 138q-8 2 -15 -2M140 254q-3 5 -3 10M196 277q1 8 1 16M66 91q-3 -8 -11 -12M268 221q7 5 10 12M246 204q11 3 15 14M219 238q5 11 13 19M137 299q-4 9 -8 18M197 276q1 8 -2 16M291 245q8 6 9 16M269 221q5 6 8 13M297 256q4 4 7 9M45 146q-12 -1 -23 -3M102 37q4 -12 -0 -23M102 13q-2 -7 -1 -14M36 67q-8 -10 -17 -20M172 30q1 -5 5 -9M95 27q-1 -7 -4 -14M59 295q-7 7 -13 15M244 211q9 8 17 17M7 77q-5 -8 -14 -9M195 251q-2 13 -4 25M184 32q4 -7 7 -14M55 190q-7 -2 -14 1M89 29q1 -7 -1 -14M57 288q-5 4 -10 7M9 163q-10 -2 -20 -4M149 261q-9 10 -10 23M25 256q-6 1 -13 -0M4 42q-3 -6 -7 -12M192 38q4 -5 9 -9M34 112q-5 -2 -8 -6M74 256q-10 7 -16 17M219 246q2 5 1 10M275 237q4 10 6 21M43 194q-6 -5 -14 -3M64 293q-5 6 -12 11M65 175q-9 -2 -19 -2M5 215q-10 -5 -22 -6M48 54q-3 -12 -12 -20M183 277q-0 10 -5 18M42 62q-3 -4 -5 -9M158 287q1 6 1 11M5 25q-3 -10 -10 -18M256 253q2 8 7 16M136 27q-0 -8 1 -15M90 21q-4 -9 -5 -19M202 246q3 9 3 18M225 286q-0 12 0 25M193 4q2 -8 6 -15M13 16q-2 -9 -9 -14M19 91q-6 -8 -15 -12M117 11q1 -7 0 -14M45 13q-9 -10 -8 -23M234 234q-0 6 4 11M19 75q-3 -4 -7 -8M85 230q-10 8 -23 11M33 85q-9 -8 -18 -15M208 259q5 9 9 17M91 72q-4 -5 -4 -11M29 290q-9 10 -21 14M4 56q-7 -6 -11 -14M34 113q-4 -10 -15 -13M162 29q6 -6 6 -16M35 46q-7 -10 -12 -21M185 283q-1 7 -1 15M73 247q-8 9 -18 14M295 257q5 10 15 16M64 191q-9 2 -18 0M73 122q-4 -6 -11 -7M56 87q-4 -4 -6 -10M273 278q6 7 10 15M191 2q9 -7 16 -17M79 285q-7 8 -17 9M223 296q1 11 7 19M216 234q3 6 1 12M39 262q-6 5 -14 6M28 281q-5 5 -12 6M21 109q-9 -8 -18 -15M38 207q-7 -1 -14 -1M60 259q-8 6 -16 12M165 269q-2 10 -5 20M221 266q-0 5 2 10M298 257q3 9 10 16M6 57q-5 -9 -15 -15M175 285q-2 10 -3 21M32 217q-6 3 -12 0M23 137q-9 -8 -20 -13M67 11q-1 -10 -5 -19M84 299q-1 8 -8 12M240 237q2 11 6 21M39 125q-8 -1 -15 -6M44 137q-13 -1 -21 -11M262 217q2 5 4 11M142 266q-2 5 -4 10M18 205q-7 3 -14 3M21 140q-6 -5 -13 -6M75 50q-3 -5 -3 -10M260 217q6 8 14 14M73 200q-8 5 -18 6M32 268q-5 1 -8 6M57 142q-8 -11 -21 -13M69 158q-7 -9 -19 -11M36 295q-5 9 -14 14M285 210q3 7 10 11M279 298q4 6 3 12M7 68q-4 -11 -15 -16M90 16q5 -9 1 -19M157 37q6 -11 5 -24M162 275q2 11 -3 22M153 8q1 -7 7 -11M13 221q-12 -1 -23 5M35 226q-11 -1 -20 5M14 228q-6 3 -12 2M252 298q0 8 1 16M128 31q5 -13 -1 -25M28 292q-10 6 -20 10M41 254q-11 -2 -22 2M34 187q-10 -0 -19 -2M19 50q-4 -4 -6 -8M130 282q-0 14 -9 24M52 26q-5 -6 -6 -13M75 2q-3 -7 -2 -15M11 179q-11 1 -21 -2M2 109q-8 -10 -21 -15M122 34q6 -11 1 -22M171 39q6 -10 5 -22M153 32q4 -9 6 -18M66 0q-0 -6 -4 -11M157 26q6 -7 8 -16M22 106q-9 -6 -13 -16M22 291q-8 0 -16 1M5 153q-12 -6 -25 -4M154 3q3 -12 5 -25M277 278q1 8 7 12M272 278q-2 8 0 16M120 277q-7 7 -9 17M48 49q-2 -11 -10 -20M20 287q-5 3 -10 5M17 116q-11 -5 -22 -11M100 289q-10 6 -14 17M201 239q8 7 10 18M15 183q-10 -0 -19 -6M43 46q-1 -10 -0 -20M216 276q2 5 4 10M213 286q6 9 8 21M47 66q-5 -6 -5 -13M183 37q5 -4 6 -11M1 135q-8 -3 -17 -1M139 27q-2 -13 5 -24M73 278q-11 3 -20 11M245 202q5 9 14 15M57 246q-5 9 -14 11M50 269q-6 1 -11 3M36 147q-9 -2 -18 -4M65 0q4 -13 -2 -25M50 267q-7 2 -11 7M4 257q-10 0 -20 4M216 237q2 9 6 17M71 89q-7 -8 -15 -15M35 31q-3 -6 -3 -12M298 242q5 8 8 16M89 226q-6 6 -11 13M18 266q-8 3 -17 2M173 286q-0 6 -3 10M147 15q6 -8 6 -18M44 235q-8 2 -14 8M13 258q-13 -1 -26 3M50 26q-3 -12 -6 -24M48 260q-4 5 -10 7M0 8q-5 -5 -6 -13M181 3q9 -8 12 -19M45 159q-10 -2 -20 -3M55 100q-5 -10 -11 -20M247 272q-5 12 -3 25M160 16q0 -12 10 -20M211 275q5 8 3 17M6 217q-10 -1 -19 2M14 16q-9 -6 -9 -16M196 6q11 -7 13 -20M17 95q-7 -8 -15 -15M212 300q1 9 -5 16M4 149q-11 -3 -17 -12M60 122q-11 -7 -19 -16M188 7q3 -8 9 -15M89 31q-4 -9 -0 -18M36 183q-5 1 -10 2M165 295q0 6 1 11M249 202q6 8 12 16M41 287q-7 5 -15 5M216 283q-4 9 -5 19M87 259q-7 4 -15 7M60 296q-13 4 -19 16M59 287q-8 3 -15 9M66 132q-6 -8 -15 -12M45 220q-7 8 -18 9M122 45q2 -7 -0 -14M23 59q-5 -5 -6 -13M197 260q-0 7 -2 15M203 280q-4 11 -3 23M11 299q-9 3 -16 9M141 28q2 -7 4 -15M155 33q4 -6 6 -13M281 252q7 7 15 14M132 20q8 -8 8 -19M279 258q6 6 6 14M62 226q-8 9 -19 8M79 63q-1 -10 -0 -21M45 75q-2 -9 -7 -17M287 250q5 10 7 21M291 231q5 3 8 7M41 297q-5 5 -12 7M68 300q-6 9 -16 10M263 215q5 5 11 8M237 277q7 7 8 17M54 103q-6 -3 -10 -8M22 97q-7 -8 -16 -13M130 50q-3 -12 1 -25M166 277q-3 6 -3 13M170 38q4 -5 3 -10M76 25q4 -10 -2 -20M287 282q-3 13 6 24" stroke="#7a7a80" stroke-width="1.4" opacity="0.3" stroke-linecap="round" fill="none" filter="url(#soft2)"/>
<path d="M192 8q8 -8 12 -18M268 26q6 -7 16 -6M66 152q-9 -5 -18 -9M66 177q-12 5 -23 -2M242 209q10 9 16 20M28 29q-3 -11 -9 -22M242 219q7 5 14 8M249 186q9 8 20 13M211 14q3 -5 8 -8M30 83q-7 -8 -11 -17M80 281q-5 4 -8 10M49 114q-11 -8 -23 -12M253 233q5 6 7 13M63 283q-9 8 -20 13M274 138q10 0 18 4M175 269q-0 9 -5 16M299 153q5 3 11 5M238 127q6 -0 11 1M299 159q3 4 7 7M33 130q-6 -7 -16 -7M263 79q13 0 23 -8M0 97q-3 -5 -8 -6M264 249q1 13 12 21M26 146q-4 -4 -10 -5M230 39q7 -4 9 -11M60 94q-6 -12 -16 -21M36 67q-6 -4 -9 -10M21 189q-6 -4 -13 -4M258 21q5 -6 12 -7M281 171q4 8 12 12M242 57q8 -3 16 -5M295 30q8 -3 16 -4M259 75q8 -4 16 -3M75 277q-9 1 -15 8M165 15q13 -5 18 -18M255 50q7 -6 16 -8M120 18q-0 -7 -4 -14M287 299q-2 9 0 19M46 89q-2 -9 -9 -17M17 175q-9 -4 -18 -2M47 288q-10 3 -18 9M71 36q-6 -11 -6 -24M157 280q-2 7 -6 13M95 226q-5 2 -11 3M300 299q-1 8 4 14M264 264q5 6 6 15M250 211q11 1 18 10M245 90q11 -2 17 -11M40 35q-1 -7 -4 -14M215 61q8 -7 18 -9M147 272q-2 8 -8 15M1 231q-9 4 -20 4M128 3q6 -10 12 -21M250 175q6 3 9 9M92 270q-8 10 -20 15M75 31q-3 -12 -12 -19M46 279q-12 -2 -23 4M7 221q-8 1 -14 7M241 259q7 10 6 22M262 258q2 7 7 11M239 68q8 0 15 -5M290 84q10 -2 20 -2M294 161q13 3 22 12M289 80q6 -1 12 -2M76 213q-9 -3 -19 -2M109 21q-2 -10 0 -21M94 254q-5 5 -11 10M38 126q-11 -7 -23 -10M271 185q5 2 8 5M142 270q-4 11 -14 18M25 155q-11 -5 -23 -5M60 7q-3 -6 -5 -13M255 22q6 -4 9 -9M197 2q10 -6 15 -16M32 128q-10 -3 -14 -12M75 255q-9 -1 -17 3M200 296q2 12 7 23M249 164q11 6 24 6M23 86q-9 -4 -13 -13M69 208q-10 6 -21 2M126 271q-7 10 -8 22M114 2q2 -8 -1 -16M256 286q4 8 10 16M66 66q-6 -7 -5 -16M140 38q2 -8 3 -16M8 193q-6 0 -12 -0M15 114q-10 -6 -18 -13M226 250q4 7 2 14M6 162q-8 -7 -18 -9M285 60q5 -3 10 -3M38 201q-11 -1 -21 4M50 182q-11 4 -22 -0M246 289q0 8 3 15M287 119q11 -3 21 3M31 232q-6 -2 -12 1M235 104q7 -4 16 -6M255 247q-2 10 2 20M220 290q-4 7 -3 14M81 256q-8 9 -20 13M114 9q-4 -12 -0 -24M64 239q-7 8 -17 12M3 284q-6 -1 -11 1M28 66q-6 -7 -12 -15M75 36q-5 -5 -5 -12M56 65q-9 -9 -18 -18M85 30q-3 -6 -2 -13M54 4q-4 -12 -10 -24M209 38q8 -9 17 -17M262 172q7 -0 12 5M282 143q11 3 22 8M22 189q-10 0 -19 -3M298 36q11 -2 21 -6M237 68q9 -3 14 -10M297 92q10 0 20 -1M222 284q4 10 2 21M52 23q-1 -5 -2 -10M69 212q-11 -1 -20 7M236 188q6 9 17 11M194 273q1 6 -1 13M87 37q-1 -11 -5 -20M283 150q5 1 10 3M27 289q-11 5 -21 11M285 300q1 5 4 10M275 54q9 -3 17 -8M148 27q6 -9 4 -20M86 284q-10 6 -19 13M97 291q-9 10 -14 22M56 109q-6 -9 -14 -17M228 61q6 -6 10 -14M36 292q-6 8 -16 12M48 165q-12 -7 -26 -3M138 35q2 -11 4 -23M82 250q-8 5 -17 8M277 152q10 8 23 8M83 237q-8 5 -11 14M176 300q-1 9 -7 16M57 209q-9 8 -21 7M243 116q11 3 21 -2M294 149q6 8 17 10M262 132q9 2 18 4M196 46q3 -7 4 -15M195 256q-5 11 -2 24M262 11q14 2 23 -8M30 190q-12 -1 -24 -3M208 271q-1 7 -4 14M44 159q-8 -6 -18 -7M51 24q2 -7 -2 -14M43 138q-7 -0 -14 -4M3 241q-6 0 -13 -0M75 254q-4 5 -10 9M298 89q7 2 14 3M15 182q-9 -4 -18 -2M86 240q-9 6 -16 13M198 252q-2 11 3 20M220 27q3 -6 9 -9M162 291q-8 6 -10 15M249 77q12 0 22 -5M102 35q-8 -11 -7 -25M290 258q4 13 15 21M4 161q-9 0 -17 4M247 282q-1 5 2 10M168 275q1 7 -4 13M247 273q-0 7 4 11M29 266q-6 2 -12 3M284 126q9 -2 16 3M285 10q6 -5 13 -9M285 257q-1 10 6 18M57 37q-3 -11 -5 -23M179 6q3 -5 6 -10M21 230q-6 4 -13 4M261 99q5 2 10 1M43 39q-3 -7 -2 -14M198 8q5 -5 11 -8M52 16q-3 -11 -6 -21M33 151q-9 -8 -21 -9M289 18q8 -5 16 -8M273 22q5 -3 11 -3M98 298q-7 6 -14 12M182 30q7 -8 9 -18M216 65q3 -8 10 -14M125 29q-4 -8 -2 -16M277 20q9 -8 22 -8M29 222q-10 0 -19 2M99 37q-1 -8 -5 -15M225 260q4 9 6 19M32 254q-7 4 -11 12M254 292q6 9 3 20M279 249q7 4 10 10M102 2q-2 -9 3 -16M190 9q2 -11 9 -20M233 170q5 4 10 8M226 34q6 -6 14 -10M200 14q1 -5 5 -9M63 41q-3 -7 -3 -14M2 224q-11 0 -21 0M250 242q-0 6 3 11M13 6q-0 -10 -2 -19M35 6q-2 -8 -8 -13M276 26q9 -3 18 -7M50 153q-6 -1 -12 -2M272 105q11 -4 23 -2M44 59q-6 -8 -15 -13M226 228q6 8 13 14M187 259q2 10 -4 20M20 133q-5 -2 -10 -5M17 250q-6 -1 -11 2M257 185q7 7 17 9M269 135q11 4 22 5M45 19q1 -8 -1 -15M74 131q-6 -6 -12 -12M48 112q-6 -5 -12 -9M237 194q5 4 6 9M272 262q4 5 7 10M290 210q4 7 9 13M281 93q12 -2 22 -7M249 222q3 10 7 20M54 64q-4 -6 -4 -13M23 253q-6 1 -11 4M251 265q6 10 4 22M113 49q3 -12 -0 -23M243 50q6 -9 16 -13M243 141q12 2 22 7M284 295q4 7 8 14M290 245q10 7 12 19M262 166q10 6 17 17M229 82q11 -7 24 -5M131 284q-1 9 -8 13M16 151q-4 -6 -12 -7M112 8q6 -8 7 -19M41 86q-7 -9 -18 -15M42 212q-5 2 -11 2M250 165q9 6 19 11M33 86q-4 -8 -11 -12M137 33q4 -12 6 -24M5 155q-8 -4 -16 -5M72 125q-10 -4 -15 -14M292 20q11 -7 21 -15M191 294q3 7 -1 14M237 103q11 0 22 -4M100 13q0 -10 -5 -18M53 234q-10 3 -17 11M19 233q-8 3 -17 2M13 60q2 -10 -5 -18M226 57q8 -1 14 -7M260 100q12 3 24 1M268 116q13 2 25 5M149 277q4 11 -2 22M24 198q-7 -0 -15 1M105 13q-1 -13 3 -26M294 284q2 5 6 9M109 240q-4 5 -7 10M234 10q4 -4 5 -10M204 285q2 9 4 19M75 34q-0 -11 -1 -22M79 78q-5 -6 -13 -7M147 37q5 -11 11 -21M270 134q12 3 21 10M104 19q5 -9 2 -19M255 214q5 10 9 21M36 60q-2 -6 -8 -9M8 166q-9 -1 -19 -0M26 93q-5 -12 -14 -22M247 22q9 -1 16 -6M103 263q-9 7 -15 17M55 290q-1 6 -6 9M46 49q-1 -8 -5 -14M104 282q-6 3 -12 8M165 38q2 -7 3 -14M282 46q10 -2 17 -9M9 14q-6 -8 -13 -15M87 287q-3 10 -10 19M22 18q-3 -8 -7 -16M61 182q-11 -3 -22 2M293 39q8 -0 16 -1M80 74q-2 -8 -5 -15M74 260q-5 4 -11 6M93 7q-2 -13 4 -25M106 15q3 -9 -1 -18M129 265q-3 7 -8 14M166 22q4 -9 2 -18M84 297q-8 10 -18 19M238 102q13 -0 24 -6M60 153q-6 -1 -12 -3M49 297q-8 8 -18 12M101 248q-6 5 -8 12M294 175q9 7 20 10M206 8q6 -10 5 -22M252 44q8 -9 19 -8M284 33q6 -0 12 -3M276 262q9 8 10 20M41 62q-7 -6 -12 -14M52 274q-7 3 -15 4M74 167q-8 -0 -14 -3M62 211q-8 -1 -15 -4M280 239q7 8 12 17M294 246q3 13 13 22M162 280q-3 9 -5 19M73 201q-9 1 -18 5M16 124q-12 -1 -19 -11M165 279q-5 7 -3 16M264 143q6 4 14 6M272 27q10 0 19 -0M217 281q4 12 -0 24M276 299q3 8 6 15M281 289q-0 5 1 10M32 295q-8 2 -11 9M282 255q5 4 7 9M56 221q-11 2 -22 6M227 53q11 -4 22 -8M26 201q-5 4 -12 4M78 71q-1 -7 -6 -14M3 196q-8 8 -19 8M35 92q-8 -9 -20 -14M93 35q-3 -12 -1 -25M40 46q-4 -8 -8 -15M74 226q-6 11 -19 15M23 169q-8 -4 -17 -7M45 98q-9 -5 -12 -14M62 175q-11 -3 -22 -6M17 139q-8 -8 -20 -12M119 245q-3 5 -7 8M19 298q-6 12 -19 16M280 10q12 -4 16 -15M298 115q10 8 23 6M54 161q-7 4 -14 1M7 90q-8 -7 -16 -13M74 104q-11 -5 -15 -16M243 126q8 9 20 11M5 62q-4 -9 -12 -16M15 222q-8 3 -16 2M65 259q-8 0 -14 5M43 198q-7 1 -14 -0M18 285q-10 2 -20 3M149 292q-4 12 -3 25M236 96q8 -1 15 -5M142 255q-5 6 -7 13M242 274q9 5 12 15M73 61q-2 -11 -11 -17M254 28q7 -3 12 -8M181 262q-2 6 -0 13M144 261q-3 4 -2 10M289 35q13 0 26 1M73 181q-9 -4 -19 -2M30 294q-9 -2 -17 2M274 111q6 -3 13 -2M78 280q-8 6 -16 10M46 99q-7 -6 -15 -9M246 290q0 10 -0 20M50 238q-9 -2 -17 4M18 10q3 -13 -4 -23" stroke="#202024" stroke-width="1.4" opacity="0.35" stroke-linecap="round" fill="none" filter="url(#soft2)"/>
<ellipse cx="262" cy="90" rx="55" ry="75" fill="#1a1a1e" opacity="0.7" filter="url(#bL)"/>
<path d="M101.1,52.4 C104.2,50.2 111.1,49 116.1,48.7 C121.1,48.4 125.5,51.5 131.1,50.6 C136.7,49.7 143.6,45.3 149.8,43.1 C156,40.9 162.2,37.2 168.5,37.5 C174.8,37.8 181.1,42.4 187.3,44.9 C193.6,47.4 201.3,50.2 206,52.4 C210.7,54.6 215.4,55 215.4,58.1 C215.4,61.2 204.4,67.2 206,71.2 C207.6,75.2 220.3,78 224.7,82.4 C229.1,86.8 232.2,92.4 232.2,97.4 C232.2,102.4 225,106.8 224.7,112.4 C224.4,118 229.1,124.9 230.3,131.1 C231.6,137.3 230,145.1 232.2,149.8 C234.4,154.5 244,156.1 243.4,159.2 C242.8,162.3 230.7,163.8 228.5,168.5 C226.3,173.2 229.1,181.1 230.3,187.3 C231.6,193.6 233.8,201 236,206 C238.2,211 245.9,213.4 243.4,217.2 C240.9,220.9 228.2,225.4 221,228.5 C213.8,231.6 206,231 200.4,236 C194.8,241 191.7,253.4 187.3,258.4 C182.9,263.4 178.9,265.3 174.2,265.9 C169.5,266.5 164.5,265.3 159.2,262.2 C153.9,259.1 148.6,250 142.3,247.2 C136.1,244.4 127.9,247.5 121.7,245.3 C115.5,243.1 110.2,238.2 104.9,234.1 C99.6,230 94.3,225.7 89.9,221 C85.5,216.3 81.8,211.6 78.7,206 C75.6,200.4 71.2,193.6 71.2,187.3 C71.2,181.1 77.8,174.8 78.7,168.5 C79.6,162.2 77.4,156 76.8,149.8 C76.2,143.6 74.9,137.3 74.9,131.1 C74.9,124.9 75.9,118.7 76.8,112.4 C77.7,106.2 77.7,99.8 80.5,93.6 C83.3,87.3 90.8,80.2 93.6,74.9 C96.4,69.6 96.2,65.5 97.4,61.8 C98.7,58 98,54.6 101.1,52.4Z" fill="#e4e4e2" opacity="1" filter="url(#fuzz)"/>
<ellipse cx="160" cy="150" rx="55" ry="80" fill="#f0f0ee" opacity="0.7" filter="url(#bL)"/>
<ellipse cx="140" cy="160" rx="20" ry="40" fill="#cfcac8" opacity="0.35" filter="url(#bM)"/>
<ellipse cx="168" cy="252" rx="14" ry="8" fill="#c8bcb4" opacity="0.6" filter="url(#bM)"/>
<clipPath id="gt3"><path d="M101.1,52.4 C104.2,50.2 111.1,49 116.1,48.7 C121.1,48.4 125.5,51.5 131.1,50.6 C136.7,49.7 143.6,45.3 149.8,43.1 C156,40.9 162.2,37.2 168.5,37.5 C174.8,37.8 181.1,42.4 187.3,44.9 C193.6,47.4 201.3,50.2 206,52.4 C210.7,54.6 215.4,55 215.4,58.1 C215.4,61.2 204.4,67.2 206,71.2 C207.6,75.2 220.3,78 224.7,82.4 C229.1,86.8 232.2,92.4 232.2,97.4 C232.2,102.4 225,106.8 224.7,112.4 C224.4,118 229.1,124.9 230.3,131.1 C231.6,137.3 230,145.1 232.2,149.8 C234.4,154.5 244,156.1 243.4,159.2 C242.8,162.3 230.7,163.8 228.5,168.5 C226.3,173.2 229.1,181.1 230.3,187.3 C231.6,193.6 233.8,201 236,206 C238.2,211 245.9,213.4 243.4,217.2 C240.9,220.9 228.2,225.4 221,228.5 C213.8,231.6 206,231 200.4,236 C194.8,241 191.7,253.4 187.3,258.4 C182.9,263.4 178.9,265.3 174.2,265.9 C169.5,266.5 164.5,265.3 159.2,262.2 C153.9,259.1 148.6,250 142.3,247.2 C136.1,244.4 127.9,247.5 121.7,245.3 C115.5,243.1 110.2,238.2 104.9,234.1 C99.6,230 94.3,225.7 89.9,221 C85.5,216.3 81.8,211.6 78.7,206 C75.6,200.4 71.2,193.6 71.2,187.3 C71.2,181.1 77.8,174.8 78.7,168.5 C79.6,162.2 77.4,156 76.8,149.8 C76.2,143.6 74.9,137.3 74.9,131.1 C74.9,124.9 75.9,118.7 76.8,112.4 C77.7,106.2 77.7,99.8 80.5,93.6 C83.3,87.3 90.8,80.2 93.6,74.9 C96.4,69.6 96.2,65.5 97.4,61.8 C98.7,58 98,54.6 101.1,52.4Z"/></clipPath><rect x="0" y="0" width="300" height="300" filter="url(#tex3)" opacity="0.5" clip-path="url(#gt3)" style="mix-blend-mode:overlay"/>
<ellipse cx="66" cy="96" rx="16" ry="36" fill="#141416" opacity="0.9" filter="url(#bM)"/>
<ellipse cx="60" cy="168" rx="24" ry="16" fill="#16161a" opacity="0.85" filter="url(#bM)"/>
<ellipse cx="88" cy="210" rx="20" ry="15" fill="#141416" opacity="0.85" filter="url(#bM)"/>
<ellipse cx="228" cy="125" rx="8" ry="22" fill="#141416" opacity="0.7" filter="url(#bM)"/>
<ellipse cx="230" cy="180" rx="8" ry="22" fill="#141416" opacity="0.7" filter="url(#bM)"/>
<path d="M136 149q-2 5 0 10M164 227q3 5 2 11M154 149q1 6 2 11M187 236q4 6 7 14M159 210q3 7 1 14M177 110q-1 4 -1 9M101 215q2 7 8 11M121 206q3 6 3 12M98 104q-0 7 3 14M164 184q-2 6 1 12M174 79q2 4 0 8M187 60q3 5 -0 11M113 99q0 6 3 12M82 194q-0 4 1 8M219 143q3 6 4 12M144 133q1 8 5 14M165 254q2 5 5 11M192 246q5 5 5 11M219 155q2 5 3 11M103 133q2 5 0 9M109 235q-0 5 3 9M177 215q5 6 6 14M118 113q1 5 4 10M146 245q-0 5 1 9M204 163q5 3 6 8M184 73q4 6 2 14M197 67q1 7 4 14M123 188q-1 7 -0 15M138 177q1 7 2 14M174 230q0 4 0 8M189 75q3 5 3 11M204 61q2 6 5 12M85 128q-1 4 -1 8M90 107q3 4 2 10M193 91q-0 5 2 10M99 171q2 5 1 10M130 52q1 5 3 9M185 153q2 5 5 10M145 77q1 5 1 10M187 96q3 5 6 10M81 190q6 5 5 13M136 224q1 5 3 9M132 151q0 5 1 10M134 108q-1 4 1 8M177 227q2 5 1 10M118 188q-1 6 1 11M101 218q2 6 2 13M176 113q1 5 4 9M96 146q0 4 1 8M98 113q-1 4 1 7M209 229q5 7 6 15M136 235q-1 5 1 10M224 187q2 7 1 15M131 94q4 6 6 13M125 171q2 6 -1 12M129 240q-1 7 1 14M219 154q4 7 1 14M98 97q3 5 2 11M199 168q-0 4 3 8M115 165q3 6 5 12M115 101q1 5 -1 10M161 139q2 5 5 10M204 166q-2 8 -0 15M155 113q1 4 2 9M186 157q2 4 1 9M93 202q1 6 2 11M199 84q4 3 4 8M101 84q3 6 1 11M113 211q6 6 8 13M178 224q-2 7 1 13M117 53q-0 4 1 8M220 218q0 7 -2 14M205 221q2 4 2 7M175 151q1 3 1 7M151 153q-1 8 4 15M144 130q1 6 5 12M132 150q0 5 2 10M88 153q2 7 7 13M104 166q2 7 2 14M206 229q1 7 0 13M158 225q-2 6 -1 12M188 209q0 8 5 14M160 171q-2 5 1 10M154 179q4 4 3 10M173 239q3 3 2 7M161 49q1 7 3 14M83 189q3 4 3 9M168 135q2 3 4 6M160 98q2 3 3 7M156 86q4 2 5 6M104 230q2 4 3 9M80 100q0 7 5 12M93 129q-0 6 2 12M199 209q2 7 -0 14M222 134q0 7 -1 13M114 186q1 6 2 11M184 145q3 6 0 12M149 224q-1 7 2 13M149 220q0 4 2 8M179 92q4 4 5 9M139 200q4 5 3 12M109 68q2 5 3 10M223 99q-2 4 -0 7M210 145q0 5 1 10M141 168q2 5 3 9M216 152q2 3 3 6M148 165q2 5 4 10M221 227q2 5 3 10M109 229q0 5 1 10M77 117q2 6 -1 13M92 116q3 4 3 9M224 150q3 7 2 14M101 152q-1 8 5 15M148 167q-1 5 2 10M182 139q1 7 -1 13M222 173q2 4 0 8M111 85q3 4 4 9M131 58q-0 6 1 13M187 205q2 3 2 7M96 88q0 7 -1 15M175 57q1 6 2 11M137 170q1 4 4 7M83 119q1 7 4 14M225 153q1 5 4 9M149 173q1 6 5 11M196 200q1 7 2 15M168 115q-1 7 -1 13M221 132q-2 5 -3 10M127 90q-1 6 1 11M158 113q2 5 2 11M214 178q-1 7 4 12M190 124q4 5 6 12M204 224q2 7 7 12M142 246q1 4 0 8M176 130q3 5 5 11M140 89q3 7 5 15M182 248q2 4 1 7M175 109q1 7 0 14M126 235q2 6 2 13M90 169q5 6 5 13M82 136q-0 5 2 9M166 210q1 8 2 16M175 165q2 5 4 10M230 157q2 5 4 10M165 242q3 7 2 15M107 114q3 6 5 14M171 166q-1 4 1 8M141 145q-1 4 -1 8M159 232q-2 5 -0 11M134 62q-2 7 1 15M186 130q5 4 9 8M133 206q-0 8 6 13M103 159q3 5 1 10M161 236q1 7 2 14M152 239q-1 5 1 10M200 191q2 4 2 8M186 202q2 4 1 8M210 208q2 7 -1 13M144 217q3 4 2 9M138 68q3 8 1 16M208 213q3 4 4 9M171 54q3 4 3 9M155 244q3 5 3 11M99 223q2 7 5 14M174 159q-1 5 0 9M89 105q-3 4 -1 9M153 122q1 8 -4 14M108 70q2 4 2 8M116 51q1 4 3 8M156 112q1 4 2 8M213 224q-1 6 -1 12M225 201q3 7 1 15M80 194q4 4 4 9M189 218q3 6 4 12M183 121q3 5 5 10M191 154q-4 6 -4 13M101 81q-3 7 -0 15M126 228q2 4 1 9M121 160q6 4 7 10M137 214q-4 7 -1 15M133 105q2 4 0 9M169 98q1 6 3 11M208 157q3 4 2 8M170 145q2 5 2 10M112 82q4 6 3 13M84 135q4 4 3 10M184 214q-2 6 -2 12M175 183q2 8 -2 15M146 207q4 6 4 14M96 179q3 4 4 10M145 189q0 6 3 10M162 173q1 5 2 10M121 81q-1 4 1 7M138 161q1 4 0 8M176 128q1 5 1 9M92 147q-0 7 3 14M181 90q-0 5 2 10M114 87q7 5 9 13M214 192q3 4 2 9M179 161q3 5 2 12M158 121q2 7 -0 14M200 219q4 6 5 13M210 142q-1 6 1 12M216 149q-0 4 2 7M124 114q-1 5 -1 9M113 197q-2 5 0 10M84 207q2 3 2 8M163 110q3 5 4 12M175 260q1 8 6 14M126 72q2 5 2 10M135 138q5 5 6 12M149 235q-1 6 2 11M163 120q2 7 5 14M175 188q-0 5 3 9M206 91q3 5 2 11M207 109q0 6 4 10M122 189q2 5 6 9M104 179q2 5 1 10M191 215q2 7 5 14M171 96q3 4 2 10M224 95q-0 7 2 13M114 188q0 7 5 12M158 56q-0 7 2 13M145 230q0 6 4 10M169 243q5 2 6 7M127 221q2 4 3 8M227 199q1 6 5 11M147 201q-0 6 -2 11M206 93q3 7 4 14M140 96q4 6 5 13M207 170q0 6 4 11M195 164q0 5 1 10M170 191q2 5 0 9M90 199q1 5 1 11M129 82q1 6 5 11M108 110q-0 4 2 7M85 208q-1 5 3 8M112 123q3 4 5 8M102 128q-1 4 1 7M166 134q-1 6 3 11M94 154q-2 7 -1 14M107 128q-2 5 1 10M177 186q1 5 -0 9M220 179q-1 6 0 12M110 59q-2 6 1 12M159 69q-1 6 2 11M80 170q3 4 4 10M123 142q1 4 2 7M111 109q4 6 3 13M165 146q2 4 2 8M172 125q2 4 2 8M189 233q-0 7 4 13M205 178q2 7 1 13M229 180q2 7 5 15M119 175q-1 6 2 12M147 171q2 7 5 14M232 194q-0 5 -0 10M129 99q-1 7 -3 14M172 99q3 7 5 13M108 108q-1 4 -0 9M188 55q1 5 3 10M156 222q-1 8 -0 16M165 96q-2 7 1 13M197 189q1 5 0 9M176 225q-0 4 3 8M84 114q-1 8 4 14M208 217q0 6 3 10M185 92q0 4 2 8M234 154q0 4 1 8M229 154q6 5 7 14M142 213q1 4 3 9M207 185q1 5 4 9M175 195q1 4 2 8M78 120q-1 6 1 12M186 226q-4 6 -2 13M90 120q2 6 4 13M173 132q3 6 0 12M158 159q1 4 2 7M90 102q4 6 3 13M139 187q1 5 -0 11M116 80q-0 6 4 11M156 214q2 8 5 15M165 113q3 3 2 8M157 61q3 5 2 10M177 194q-1 4 2 7M233 165q0 4 4 7M213 97q2 6 2 12M106 220q2 3 2 7M198 110q0 4 3 7M175 100q3 7 1 14M134 157q4 7 3 15M143 165q2 6 1 13M128 202q-1 7 0 15M209 102q2 6 1 12M159 181q0 4 3 8M216 210q-0 4 1 8M173 74q-0 7 0 15M196 132q5 6 5 14M208 154q4 4 6 10M166 248q-2 8 1 15M176 232q1 4 2 9M230 163q-3 7 -1 15M83 161q1 7 0 15M159 237q1 6 4 12M202 107q-0 5 2 9M208 133q-2 8 3 14M130 193q-1 8 4 15M122 164q-1 9 4 15M125 192q-1 4 0 8M209 211q1 4 3 7M181 53q4 7 3 15M135 77q2 7 8 12M210 84q0 7 5 12M79 177q1 6 5 10M94 81q2 3 2 8M132 149q4 7 5 15M171 120q2 4 4 9M179 88q-1 5 -1 11M167 94q1 5 4 9M162 107q-0 6 3 12M184 210q0 5 -0 11M93 179q2 5 1 10M172 221q1 4 -0 8M201 147q1 8 6 14M228 152q1 6 5 10M200 53q1 6 2 12M193 190q-0 4 3 8M202 167q0 7 5 12M202 221q0 4 1 8M109 182q3 6 1 12M159 260q-1 6 1 12M142 62q4 5 5 11M155 192q-2 5 -1 11M186 72q3 4 2 9M113 52q1 4 4 7M141 160q3 6 4 12M114 119q0 7 3 14M225 202q5 6 5 14M210 61q2 4 3 8M201 162q-2 7 2 14M188 182q-2 6 0 13M121 184q0 4 3 7M231 192q-0 8 2 16M145 94q3 6 -1 13M100 134q3 3 4 7M90 188q-1 8 1 15M171 168q2 8 2 15M214 227q4 4 4 10M97 125q1 6 4 11M99 89q1 4 0 8M133 116q0 5 1 10M206 122q4 5 5 11M184 192q2 3 2 7M129 216q-0 7 5 11M96 115q-2 3 -1 7M163 151q1 8 6 14M235 214q-1 4 -2 9M217 212q0 7 4 14M170 68q-1 5 2 10M190 207q4 6 3 13M219 177q-1 8 4 15M101 157q3 6 1 12M174 234q0 5 4 8M89 96q-1 6 1 12M91 79q-2 7 2 13M226 190q0 7 5 13M110 80q0 5 4 10M137 73q1 8 4 15M149 60q-2 5 -1 11M106 103q1 4 3 8M99 171q0 4 0 8M92 121q1 5 5 9M128 225q2 3 4 7M91 169q-1 5 1 10M210 174q1 4 2 9M207 211q-1 5 2 8M214 213q-0 6 4 11M192 53q-0 8 5 14M164 206q3 8 1 16M204 204q-2 7 -2 15M115 145q0 5 2 10M195 110q4 4 4 11M181 84q0 6 2 11M195 150q3 4 4 9M216 115q2 8 7 14M220 200q-0 6 1 12M212 106q3 3 3 8M184 197q-1 6 0 12M125 150q2 7 5 13M135 203q-0 5 3 8M82 110q2 3 3 7M235 203q0 6 1 12M164 212q4 5 3 11M160 149q0 4 3 7M85 144q-2 8 -0 16M147 166q1 3 2 7M129 213q3 3 3 7M128 66q1 5 2 10M194 205q-0 6 -3 11M124 181q7 4 8 11M93 200q0 7 3 14M225 179q-0 6 2 12M195 198q2 5 4 11M113 54q6 6 6 14M175 94q1 4 2 8M184 86q6 4 9 11M166 51q1 7 1 14M219 97q-1 8 3 15M185 219q3 6 6 12M128 82q1 6 3 11M146 176q2 7 2 14M106 185q4 6 6 13M119 187q-0 4 1 8M204 105q0 4 2 8M214 58q2 6 5 12M141 150q-5 6 -3 14M89 107q1 5 4 10M170 161q1 5 2 10M89 205q2 6 3 12M106 128q0 5 3 8M148 239q2 3 4 7M184 213q1 4 1 9M100 84q-0 8 0 16M187 49q1 6 1 13M141 192q-3 8 1 15M222 211q3 6 6 13M201 132q3 6 2 13M94 121q3 4 4 9M100 160q-1 5 2 10M173 185q2 7 0 15M77 154q-0 7 4 11M79 164q5 5 9 11M163 202q2 4 3 8M213 110q5 7 2 15M225 198q2 3 3 7M160 136q2 5 3 11M145 196q-1 5 0 10M162 137q2 7 2 15M153 198q1 4 2 7M104 200q-0 8 4 15M139 187q0 6 1 13M120 234q-4 6 -3 14M206 152q3 6 3 13M164 212q5 7 4 15M182 86q3 4 4 9M96 204q-2 7 2 14M224 195q-0 6 1 13M118 130q-1 8 1 15M123 126q1 4 1 8M162 238q3 7 -0 14M194 77q-1 4 2 7M153 104q1 4 3 8M178 200q3 4 3 8M171 163q-1 6 2 11M179 241q2 3 4 7M219 180q-0 7 3 12M112 188q2 6 3 13M166 223q-0 4 2 8M191 155q3 3 3 6M214 148q2 4 2 9M177 97q1 3 0 7M157 249q5 7 2 15M103 189q4 7 2 15M186 165q2 3 3 7M144 239q-1 7 3 12M211 215q-1 7 4 13M169 260q1 4 0 7M202 209q3 6 1 13M113 229q-2 4 0 7M141 167q3 4 3 10M148 71q-1 7 4 13M145 137q4 3 5 8M172 139q-2 5 -3 10M183 104q4 7 4 14M167 98q4 6 2 13M210 115q-0 4 3 7M158 255q4 4 4 10M180 254q3 6 0 12M107 233q3 6 4 12M123 214q0 5 4 9M229 101q4 3 3 8M91 164q3 4 5 9M189 115q-0 5 1 11M220 220q1 4 0 8M202 111q3 3 3 7M175 132q0 6 4 12M100 90q6 6 5 14M204 70q5 7 4 15M225 216q2 8 -1 16M91 172q3 7 1 15M150 106q-1 4 0 8M191 49q2 6 4 13M226 210q1 7 3 14M78 197q4 4 3 10M200 193q2 4 2 8M189 228q-2 6 1 11M181 216q3 5 5 11M97 107q-3 7 -1 14M154 97q3 4 1 9M128 192q-0 5 3 9" stroke="#c4c2c0" stroke-width="1.1" opacity="0.5" stroke-linecap="round" fill="none" filter="url(#soft)"/>
<path d="M123 163q3 4 1 9M114 122q3 6 4 13M214 221q1 7 4 14M177 162q2 4 3 9M194 163q2 4 0 9M88 194q3 4 2 9M82 206q-0 8 4 14M180 164q3 5 3 11M90 121q3 3 5 6M160 248q1 5 3 9M82 124q1 5 -1 9M179 158q0 5 -1 10M206 135q4 6 2 13M93 161q1 5 -0 9M150 191q1 8 4 15M204 207q0 5 1 10M96 196q4 6 3 14M169 257q4 7 4 15M121 239q1 4 2 8M113 137q4 6 4 14M144 192q1 4 2 9M191 199q-0 5 2 10M177 88q1 5 4 9M159 107q7 5 7 14M167 250q4 3 6 8M189 173q0 6 2 11M177 202q1 6 -3 11M209 120q2 3 3 6M128 126q1 5 2 10M161 176q3 4 1 8M229 214q1 5 4 9M87 180q5 6 9 12M147 72q1 5 -0 10M165 120q2 5 3 11M120 190q0 6 5 9M147 194q1 5 5 9M117 192q2 6 3 12M127 130q1 4 1 8M123 226q-1 5 0 10M204 57q1 7 1 13M94 155q3 5 3 12M93 154q3 8 1 16M125 205q1 5 5 8M94 101q3 4 1 9M200 197q-0 8 6 13M117 224q-2 7 2 14M201 69q-1 7 2 14M127 196q1 4 3 7M103 194q0 4 2 8M209 225q2 7 1 14M222 124q4 5 4 12M221 131q4 5 7 10M127 131q0 7 3 13M226 209q-4 8 -1 16M187 257q-0 7 1 15M212 182q5 6 5 14M88 217q-2 5 1 11M224 219q-0 6 1 11M181 50q1 5 5 9M124 229q6 2 8 8M81 201q5 3 5 8M192 170q1 3 2 7M168 242q6 5 6 14M104 197q0 5 4 9M89 216q0 8 6 13M161 42q1 7 4 14M146 155q1 6 3 11M119 53q3 4 1 9M148 138q4 5 5 11M199 121q-2 7 1 14M212 151q2 7 4 15M225 216q2 6 3 12M182 211q3 7 4 15M211 88q3 4 2 9M222 90q6 4 7 11M153 86q1 7 2 14M203 171q2 4 1 8M95 220q3 6 4 12M183 107q-1 6 -1 13M175 70q-0 7 4 12M148 159q2 6 -0 11M187 225q-1 8 4 15M92 108q3 4 2 9M182 257q4 4 5 9M204 106q-3 8 2 15M100 179q0 4 1 7M165 79q2 6 3 12M123 154q0 8 7 13M226 161q4 7 8 14M174 82q2 7 2 14M128 130q2 6 2 12M164 226q-1 7 4 12M186 109q2 6 -0 13M110 213q2 5 3 10M132 175q0 5 -1 9M127 191q4 3 6 8M222 193q-1 6 1 12M119 71q2 5 2 9M127 125q2 6 3 12M149 48q-1 6 1 11M130 51q0 8 3 15M130 178q-0 6 1 11M194 90q3 6 7 12M201 94q-3 4 -3 8M96 158q0 6 1 12M233 197q5 5 5 12M120 89q3 4 2 10M107 80q5 5 6 12M154 181q4 4 5 10M130 123q1 5 3 10M174 49q-1 4 1 9M118 88q0 4 3 8M115 215q-5 6 -5 13M164 145q-1 5 2 10M86 145q3 5 2 12M120 193q-1 8 5 14M180 219q0 7 5 11M85 157q1 6 -0 12M219 137q-0 8 5 15M189 191q-0 4 1 8M184 56q1 6 5 11M215 202q5 6 7 14M149 179q4 5 3 11M139 70q4 6 3 14M107 145q-1 7 2 14M181 62q-0 5 3 8M124 235q0 4 -1 8M167 250q2 8 -1 16M157 184q-3 7 0 13M148 234q3 7 7 13M190 87q0 5 2 9M132 53q2 7 3 14M139 51q5 3 7 8M96 122q3 7 -0 14M220 136q3 5 2 11M220 209q4 7 2 14M166 146q-2 7 -1 14M211 201q-0 5 -0 11M204 156q2 4 3 8M200 234q1 4 4 6M144 57q-0 4 2 8M175 57q-0 7 3 14M155 153q-1 6 2 10M172 201q-1 4 1 8M169 125q2 5 2 11M162 125q4 7 3 15M190 46q4 7 4 15M121 149q1 6 5 10M143 127q2 3 1 7M93 210q2 7 2 14M206 170q2 4 2 7M173 67q3 7 1 15M177 145q2 3 3 6M202 183q2 6 5 12M176 74q-0 5 2 8M162 105q-2 4 -0 9M125 61q2 4 4 9M201 109q-1 4 1 8M139 150q-1 6 3 11M168 178q-1 7 5 12M196 204q3 7 2 14M218 97q-2 7 2 13M171 256q2 3 3 7M181 197q2 6 4 12M162 62q3 7 3 15M76 189q-1 4 1 7M161 63q-2 3 -0 7M107 125q-1 7 3 14M96 163q1 4 4 7M90 99q1 5 3 10M124 178q2 4 1 8M158 230q-0 7 3 14M90 208q1 5 1 9M142 50q-0 4 -1 8M128 98q2 5 4 10M189 232q-1 6 1 11M156 152q0 5 3 9M103 152q2 7 6 13M189 238q-0 6 4 9M130 111q-3 7 -1 15M108 201q1 4 2 7M100 193q2 4 3 9M115 64q1 5 1 10M166 184q2 4 3 9M162 46q3 3 4 7M189 213q0 5 2 10M168 189q3 7 3 14M185 234q3 4 5 9M239 158q2 6 0 13M118 95q1 4 3 8M124 196q3 6 2 12M197 143q2 7 6 13M220 224q5 6 8 14M160 193q4 5 4 10M173 200q4 4 2 9M114 143q-2 4 -1 7M166 188q3 6 1 12M131 149q-1 5 -1 10M132 227q1 3 1 7M132 53q-2 6 -1 12M187 99q4 7 2 14M224 160q-0 7 5 12M121 60q1 5 2 10M116 175q-1 6 2 12M136 117q4 5 3 11M142 171q-1 5 3 9M205 219q3 4 3 9M191 118q3 7 8 14M189 78q2 4 1 8M83 200q2 7 2 14M217 191q1 5 2 10M117 72q1 4 3 8M99 185q2 4 2 8M80 180q1 7 4 14M79 187q1 7 -2 13M115 145q-3 4 -3 9M198 119q4 7 5 15M126 177q5 5 6 11M140 153q4 6 2 13M164 231q5 4 9 10M198 128q-2 8 3 15M184 175q-2 5 0 10M189 76q2 6 3 11M171 142q2 8 -1 15M208 82q-1 8 3 15M202 211q4 4 4 9M222 135q1 7 1 14M201 112q2 6 3 12M205 54q4 6 3 12M111 168q-3 8 2 15M157 111q1 4 -0 8M219 103q1 7 6 11M161 201q2 5 4 9M132 54q-2 7 1 14M164 186q0 6 5 11M166 237q-1 6 -1 11M142 109q-0 4 0 8M185 94q3 4 3 10M168 70q1 7 4 14M86 198q4 6 6 14M213 153q0 6 0 12M94 89q1 5 1 10M97 153q1 7 3 14M90 179q6 4 7 11M140 99q2 5 1 9M161 117q3 3 3 7M119 74q0 7 3 14M155 240q4 5 2 12M183 242q-0 5 0 11M129 53q-0 4 2 7M115 70q2 4 3 10M108 121q4 5 3 11M151 192q-1 5 1 10M165 86q-0 7 2 13M216 105q0 4 1 7M140 178q-2 7 1 14M217 79q1 6 3 12M187 184q1 6 -1 12M180 214q4 5 5 12M133 216q-0 4 3 7M81 162q-1 4 -0 8M171 202q0 5 2 10M220 141q-0 6 2 12M167 232q2 7 2 15M151 236q2 5 4 11M110 150q1 6 3 11M165 108q0 7 4 12M161 90q3 3 6 6M148 63q1 4 5 7M233 213q2 3 1 7M195 174q1 4 1 8M166 43q-2 7 0 14M192 128q3 3 4 8M184 242q-1 4 0 8M142 230q2 4 2 9M86 203q-0 7 3 14M103 201q1 4 2 8M110 203q2 5 2 10M109 60q3 7 0 14M217 94q1 7 5 13M124 150q-0 7 1 14M117 155q0 7 3 14M104 98q3 4 3 8M116 208q2 4 1 8M213 229q2 6 7 10M111 196q0 7 0 15M187 69q-0 6 3 12M138 238q2 6 3 13M178 119q1 5 3 9M162 214q1 3 1 7M121 64q-5 7 -2 15M157 58q-0 7 -1 14M84 205q-0 4 -0 8M167 149q-1 6 1 12M205 58q-2 7 -0 13M202 110q4 6 5 13M136 67q-0 6 4 11M156 116q4 5 3 11M83 181q1 4 3 8M141 127q3 6 1 12" stroke="#ffffff" stroke-width="1.2" opacity="0.7" stroke-linecap="round" fill="none" filter="url(#soft)"/>
<path d="M226 108q2 -4 7 -5M110 53q-3 -3 -4 -7M227 132q5 -4 11 -2M75 184q-4 5 -11 6M80 150q-5 -1 -9 1M82 101q-3 -0 -6 -2M78 197q-3 0 -5 2M228 136q5 1 9 -2M87 212q-5 5 -5 11M142 246q5 4 5 10M80 110q-6 -1 -9 -7M218 227q5 3 8 8M228 186q5 1 8 6M226 168q7 2 14 2M121 52q-2 -5 -1 -10M226 126q3 -2 5 -4M135 52q-0 -6 -1 -11M239 160q4 0 8 1M229 142q4 3 9 5M222 225q4 1 4 5M96 74q-2 -6 -7 -9M79 119q-3 1 -6 -1M226 172q5 3 12 3M235 207q6 3 11 8M81 159q-4 1 -8 4M78 128q-2 -2 -5 -2M81 158q-5 -1 -8 2M213 79q2 -7 6 -13M205 231q1 6 6 9M144 247q1 7 5 13M177 263q-1 4 -4 6M134 52q-1 -6 -0 -11M139 244q-6 4 -7 11M228 168q3 -0 5 -2M103 56q-5 -1 -10 -3M81 161q-3 1 -6 0M113 236q-2 4 -7 6M228 181q4 5 9 8M173 263q3 5 1 11M132 243q-0 6 1 12M76 184q-7 -2 -15 -2M224 111q7 -2 12 -7M153 253q-2 4 -3 8M81 101q-5 -2 -6 -7M182 45q-1 -2 -2 -5M229 150q5 0 9 -1M216 227q2 7 8 10M181 45q3 -4 8 -6M163 41q4 -3 5 -8M80 149q-4 4 -9 3M80 114q-3 -0 -7 0M78 137q-7 3 -14 -1M177 44q4 -4 6 -9M228 185q3 4 8 4M154 254q-2 6 -2 13M88 213q-5 2 -7 7M234 154q4 2 8 -1M78 132q-6 1 -10 -4M82 99q-4 -6 -11 -10M162 261q1 4 4 7M230 191q2 2 5 4M232 163q5 7 13 6M222 114q7 -0 13 1M82 205q-7 2 -14 4M233 206q5 5 12 2M195 51q-2 -3 -1 -6M86 91q-4 -0 -5 -4M199 235q3 5 3 11M114 52q-1 -3 0 -5M236 208q1 5 6 7M84 93q-4 -1 -9 -1M139 50q1 -4 -2 -7M239 215q6 -2 12 1M239 216q6 4 10 9M90 84q-3 -2 -5 -5M214 79q6 -1 10 -6M77 133q-5 -4 -7 -9M127 245q-5 3 -11 4M224 108q6 -3 13 -4M139 244q-0 5 -3 9M232 197q4 1 5 4M75 185q-4 -1 -8 1M81 100q-2 -4 -4 -9M115 52q-4 -4 -8 -8M231 150q6 2 12 6M210 230q4 6 11 7M226 223q1 4 5 5M195 240q2 3 5 5M79 144q-6 2 -11 -1M81 204q-5 3 -10 5M239 210q3 4 6 9M93 81q-5 -1 -7 -6M234 207q5 3 11 1M226 91q5 -3 7 -9M78 124q-3 -4 -8 -4M88 214q-4 4 -3 9M77 130q-4 -6 -7 -12M227 179q8 -2 14 5M89 87q-5 -3 -8 -8M87 212q-6 5 -8 12M80 155q-5 -1 -9 2M211 77q6 -2 11 -6M236 152q3 2 5 6M145 247q1 3 1 6M177 44q1 -3 0 -6M194 241q5 3 8 9M119 241q2 3 1 6M228 168q2 2 2 6M82 206q-2 3 -2 6M79 199q-1 3 -4 4M240 215q5 2 10 4M227 169q3 2 4 6M225 108q5 -2 10 -3M220 226q3 5 6 9M104 54q-3 -3 -7 -3M198 236q-0 8 6 12M205 71q3 -7 11 -8M80 155q-7 0 -11 5M223 115q3 -3 7 -5M81 160q-4 -4 -8 -2M79 122q-2 -1 -5 -1M80 110q-4 1 -8 2M165 41q1 -7 1 -15M136 52q-5 -3 -5 -9M228 141q7 1 13 -2M124 242q1 4 -2 8M197 235q3 5 8 8M239 218q4 0 7 -0M84 94q-4 -5 -10 -5M226 223q6 3 8 9M122 242q2 5 2 10M234 205q4 7 12 7M203 232q-0 4 3 7M167 40q4 -2 5 -7M125 53q-4 -6 -2 -12M90 217q1 8 -5 14M222 84q6 0 10 -5M183 258q2 4 5 5M224 121q3 -2 6 -2M75 190q-4 4 -9 2M88 88q-4 -3 -7 -7M82 100q-3 -7 -10 -9M231 220q3 2 3 6M229 190q4 1 6 5M128 53q0 -4 -1 -8M229 176q1 4 1 8M238 218q3 1 6 0M103 228q-7 2 -11 7M79 140q-4 -4 -10 -4M109 54q-3 -3 -3 -8M225 108q7 -2 14 -6M139 50q-3 -2 -5 -6M168 40q-2 -8 4 -13M79 167q0 8 -4 14M224 89q7 -2 11 -8M178 45q3 -2 3 -5M78 136q-5 -3 -10 -2M99 66q-3 -3 -7 -5M79 175q-3 1 -6 1M205 74q1 -8 7 -13M230 165q6 0 11 2M226 92q6 -3 13 -1M78 121q-1 -3 -3 -4M238 154q1 3 4 4M186 256q2 6 4 12M191 50q2 -3 3 -6M193 242q5 0 8 5M241 215q7 3 9 11M226 92q5 -4 8 -9M155 255q-2 3 -1 7M81 169q-4 3 -9 2M133 53q-1 -3 1 -6M96 74q-2 -2 -3 -4M204 232q0 4 4 6M82 103q-5 -1 -8 -4M214 62q1 -4 3 -8M211 59q3 -5 4 -10M172 42q1 -4 3 -7M116 52q0 -5 -4 -8M147 47q-1 -4 1 -7M222 114q3 -0 5 -3M232 202q5 3 11 4M179 45q3 -4 5 -9M236 157q5 -3 11 -5M203 233q-4 3 -4 9M167 261q-3 2 -2 6M75 190q-5 -0 -10 1M196 238q1 4 4 7M227 130q6 -3 13 -1M79 143q-7 -2 -14 -1M126 53q2 -6 -3 -11M79 200q-1 3 -4 4M96 76q-7 -2 -14 -3M223 85q4 -5 8 -9M74 184q-5 3 -9 8M220 226q1 7 6 11M230 221q2 6 4 11M146 247q-1 6 -1 12M211 59q2 -2 5 -4M212 59q2 -2 3 -4M81 159q-3 0 -5 2M95 223q-7 -3 -14 0M218 81q3 -2 7 -3M226 170q4 -3 8 -2M79 122q-3 1 -6 -1M80 148q-6 -3 -12 -1M197 240q-0 4 -1 8M238 161q4 0 7 0M166 261q-2 2 -3 5M167 41q1 -5 2 -9M119 240q-0 7 -4 13M140 49q-5 -1 -9 -4M182 46q1 -6 2 -13M76 182q-5 -1 -10 2M232 164q4 1 9 3M152 253q-0 6 1 11M229 98q7 1 14 -2M228 141q7 -0 13 2M90 216q-3 1 -5 3M80 150q-5 0 -9 2M239 214q5 1 9 3M201 54q-0 -3 1 -6M228 186q6 0 9 5M88 88q-3 -1 -5 -5M81 169q-4 2 -9 4M80 111q-2 -3 -5 -4M137 51q-6 -1 -8 -7M226 92q5 -0 7 -5M81 169q-5 2 -10 1M205 231q6 3 8 9M100 63q-6 0 -11 -3M233 219q5 2 6 7M205 55q-0 -5 3 -10M200 234q1 7 -1 13M196 239q2 3 4 6M78 133q-3 1 -6 3M223 85q4 0 6 -3M81 103q-6 -5 -10 -11M198 236q1 7 5 13M233 221q7 3 15 1" stroke="#eeeeec" stroke-width="1.4" opacity="0.85" stroke-linecap="round" fill="none" filter="url(#soft)"/>
<g opacity="0.95" filter="url(#bXS)"><ellipse cx="72" cy="70" rx="9.4" ry="6" fill="#0b0b0c" transform="rotate(10 72 70)"/><path d="M72.0 70.0l14.5 3.8M72.0 70.0l-5.7 -9.6M72.0 70.0l15.4 -1.3M72.0 70.0l-13.0 -1.0" stroke="#0b0b0c" stroke-width="5" stroke-linecap="round" fill="none"/></g>
<g opacity="0.95" filter="url(#bXS)"><ellipse cx="62" cy="92" rx="7.9" ry="7" fill="#0b0b0c" transform="rotate(80 62 92)"/><path d="M62.0 92.0l4.7 9.1M62.0 92.0l2.4 -10.6M62.0 92.0l6.0 8.7M62.0 92.0l6.5 -8.0" stroke="#0b0b0c" stroke-width="5.9" stroke-linecap="round" fill="none"/></g>
<g opacity="0.95" filter="url(#bXS)"><ellipse cx="66" cy="112" rx="7.2" ry="6" fill="#0b0b0c" transform="rotate(30 66 112)"/><path d="M66.0 112.0l8.5 -6.2M66.0 112.0l-8.4 -3.5M66.0 112.0l3.8 11.0M66.0 112.0l-6.3 -7.7" stroke="#0b0b0c" stroke-width="5" stroke-linecap="round" fill="none"/></g>
<g opacity="0.95" filter="url(#bXS)"><ellipse cx="78" cy="125" rx="6.5" ry="4.5" fill="#0b0b0c" transform="rotate(20 78 125)"/><path d="M78.0 125.0l3.9 7.0M78.0 125.0l-7.8 -6.7M78.0 125.0l8.4 5.1M78.0 125.0l-7.8 1.4" stroke="#0b0b0c" stroke-width="3.8" stroke-linecap="round" fill="none"/></g>
<g opacity="0.95" filter="url(#bXS)"><ellipse cx="58" cy="165" rx="8.6" ry="6" fill="#0b0b0c" transform="rotate(30 58 165)"/><path d="M58.0 165.0l13.0 5.8M58.0 165.0l-7.0 -7.3M58.0 165.0l11.4 7.1M58.0 165.0l-7.9 8.4" stroke="#0b0b0c" stroke-width="5" stroke-linecap="round" fill="none"/></g>
<g opacity="0.95" filter="url(#bXS)"><ellipse cx="80" cy="160" rx="5" ry="4" fill="#0b0b0c" transform="rotate(80 80 160)"/><path d="M80.0 160.0l3.9 4.1M80.0 160.0l0.7 -8.3M80.0 160.0l4.1 6.4M80.0 160.0l-6.5 -0.7" stroke="#0b0b0c" stroke-width="3.4" stroke-linecap="round" fill="none"/></g>
<g opacity="0.95" filter="url(#bXS)"><ellipse cx="82" cy="205" rx="9.4" ry="5.5" fill="#0b0b0c" transform="rotate(40 82 205)"/><path d="M82.0 205.0l10.8 8.0M82.0 205.0l-11.2 -5.8M82.0 205.0l-0.6 14.3M82.0 205.0l-12.0 2.2" stroke="#0b0b0c" stroke-width="4.6" stroke-linecap="round" fill="none"/></g>
<g opacity="0.95" filter="url(#bXS)"><ellipse cx="103" cy="212" rx="5" ry="4" fill="#0b0b0c" transform="rotate(120 103 212)"/><path d="M103.0 212.0l-5.9 3.2M103.0 212.0l5.7 -4.5M103.0 212.0l-5.4 5.8M103.0 212.0l-1.4 -7.2" stroke="#0b0b0c" stroke-width="3.4" stroke-linecap="round" fill="none"/></g>
<g opacity="0.95" filter="url(#bXS)"><ellipse cx="140" cy="240" rx="13" ry="5" fill="#0b0b0c" transform="rotate(160 140 240)"/><path d="M140.0 240.0l-11.5 13.9M140.0 240.0l6.1 -17.1M140.0 240.0l-8.7 11.9M140.0 240.0l16.3 -2.3" stroke="#0b0b0c" stroke-width="4.2" stroke-linecap="round" fill="none"/></g>
<g opacity="0.95" filter="url(#bXS)"><ellipse cx="194" cy="243" rx="5" ry="14" fill="#0b0b0c" transform="rotate(10 194 243)"/><path d="M194.0 243.0l5.5 -3.0M194.0 243.0l-6.4 0.4M194.0 243.0l5.5 -1.8M194.0 243.0l-6.4 -3.1" stroke="#0b0b0c" stroke-width="11.8" stroke-linecap="round" fill="none"/></g>
<g opacity="0.95" filter="url(#bXS)"><ellipse cx="228" cy="118" rx="3" ry="14" fill="#0b0b0c" transform="rotate(0 228 118)"/><path d="M228.0 118.0l3.8 0.5M228.0 118.0l-3.7 2.4M228.0 118.0l3.8 2.2M228.0 118.0l-2.6 3.2" stroke="#0b0b0c" stroke-width="11.8" stroke-linecap="round" fill="none"/></g>
<g opacity="0.95" filter="url(#bXS)"><ellipse cx="229" cy="180" rx="3.6" ry="13" fill="#0b0b0c" transform="rotate(10 229 180)"/><path d="M229.0 180.0l5.2 -0.2M229.0 180.0l-5.5 -1.8M229.0 180.0l4.9 -3.0M229.0 180.0l-5.1 -1.8" stroke="#0b0b0c" stroke-width="10.9" stroke-linecap="round" fill="none"/></g>
<g opacity="0.95" filter="url(#bXS)"><ellipse cx="241" cy="143" rx="9.4" ry="4" fill="#0b0b0c" transform="rotate(170 241 143)"/><path d="M241.0 143.0l-10.4 6.2M241.0 143.0l7.5 -8.7M241.0 143.0l-14.7 4.5M241.0 143.0l8.4 -7.2" stroke="#0b0b0c" stroke-width="3.4" stroke-linecap="round" fill="none"/></g>
<g opacity="0.95" filter="url(#bXS)"><ellipse cx="250" cy="207" rx="5.8" ry="3.5" fill="#0b0b0c" transform="rotate(20 250 207)"/><path d="M250.0 207.0l6.0 3.6M250.0 207.0l-5.8 -3.5M250.0 207.0l7.4 4.3M250.0 207.0l-5.0 -4.1" stroke="#0b0b0c" stroke-width="2.9" stroke-linecap="round" fill="none"/></g>
<g opacity="0.95" filter="url(#bXS)"><ellipse cx="180" cy="70" rx="5" ry="3" fill="#0b0b0c" transform="rotate(30 180 70)"/><path d="M180.0 70.0l4.6 5.1M180.0 70.0l-6.6 -4.7M180.0 70.0l1.7 6.9M180.0 70.0l-7.3 -1.4" stroke="#0b0b0c" stroke-width="2.5" stroke-linecap="round" fill="none"/></g>
<g opacity="0.95" filter="url(#bXS)"><ellipse cx="130" cy="28" rx="10.8" ry="6" fill="#0b0b0c" transform="rotate(10 130 28)"/><path d="M130.0 28.0l13.0 -8.9M130.0 28.0l-12.9 -12.3M130.0 28.0l13.2 -3.1M130.0 28.0l-13.4 -3.6" stroke="#0b0b0c" stroke-width="5" stroke-linecap="round" fill="none"/></g>
</g></g>
<g transform="translate(1647.3 888) scale(0.9923 0.9923)"><g clip-path="url(#cp300)" style="isolation:isolate">
<rect width="300" height="300" fill="#323232"/>
<ellipse cx="60" cy="100" rx="70" ry="90" fill="#2a2a2a" opacity="0.8" filter="url(#bL)"/>
<ellipse cx="230" cy="60" rx="80" ry="50" fill="#262626" opacity="0.8" filter="url(#bL)"/>
<ellipse cx="225" cy="245" rx="85" ry="60" fill="#505052" opacity="0.85" filter="url(#bL)"/>
<ellipse cx="70" cy="230" rx="60" ry="70" fill="#3a3a3b" opacity="0.7" filter="url(#bL)"/>
<ellipse cx="270" cy="150" rx="35" ry="60" fill="#525254" opacity="0.7" filter="url(#bL)"/>
<ellipse cx="150" cy="175" rx="90" ry="75" fill="#464648" opacity="0.6" filter="url(#bL)"/>
<rect x="0" y="0" width="300" height="300" filter="url(#tex2)" opacity="0.5" style="mix-blend-mode:overlay"/>
<path d="M73 151q6 6 12 11M278 119q7 13 20 22M299 121q5 4 8 10M143 244q6 5 13 7M110 236q4 7 11 11M131 251q8 8 19 8M296 247q11 5 17 15M296 139q6 1 12 3M288 34q6 4 11 10M135 35q11 7 23 11M295 249q10 11 22 18M244 278q14 4 27 -1M8 126q8 8 16 15M257 67q9 9 20 16M64 294q7 8 16 15M295 165q13 6 23 16M144 44q14 1 24 11M139 288q5 3 11 5M203 218q15 2 27 10M211 201q11 5 22 11M5 233q11 11 26 14M121 257q7 6 12 14M2 39q10 2 16 12M15 82q11 10 26 13M1 286q6 10 16 15M42 247q6 7 14 10M278 177q5 9 14 14M235 32q9 7 19 12M278 184q6 5 14 5M46 157q10 1 18 7M282 254q16 2 26 14M257 197q10 6 19 12M294 246q14 5 27 10M25 20q13 8 20 21M241 58q14 3 23 14M142 243q12 2 17 13M5 249q8 8 19 11M91 40q6 4 12 9M234 25q10 5 19 12M10 151q9 4 19 5M19 50q5 5 10 9M57 276q11 2 17 11M173 229q13 5 27 5M8 121q11 3 18 12M226 228q10 6 20 12M228 37q6 4 14 6M230 233q7 1 12 5M230 280q8 -0 14 6M105 282q8 11 21 16M297 203q5 6 9 13M9 67q8 11 21 14M28 143q6 3 10 7M43 208q7 5 13 11M69 199q7 4 16 4M262 277q9 1 15 8M255 57q4 8 11 13M255 117q5 3 11 6M52 63q8 5 18 7M66 66q9 6 20 9M92 269q16 1 26 14M20 33q9 11 23 10M66 273q9 11 23 14M300 136q5 5 12 8M7 223q11 8 24 10M159 256q6 9 17 13M275 263q7 3 13 9M74 68q11 8 22 15M292 187q7 12 21 15M48 166q7 1 10 7M109 60q8 8 19 8M70 106q9 12 25 12M4 118q15 1 23 12M167 243q10 10 23 18M15 144q15 4 26 15M295 295q16 -1 27 10M174 52q11 7 21 14M262 248q3 8 11 11M274 237q7 11 20 13M74 88q4 8 12 12M199 4q12 9 26 12M220 25q14 3 21 15M29 155q6 3 11 7M85 26q5 5 9 10M186 273q7 10 17 15M261 35q6 6 11 13M96 47q8 6 15 12M247 67q11 9 20 19M87 264q14 4 21 17M34 177q10 0 18 7M229 267q10 5 18 14M33 180q10 -2 19 4M171 17q6 7 16 6M288 27q15 3 24 16M4 50q8 -1 14 4M211 213q12 8 26 8M62 107q8 3 11 10M296 169q9 -0 15 7M18 77q15 -1 26 10M122 300q9 11 23 15M295 130q7 3 15 6M30 150q12 4 20 14M273 269q13 3 22 14M68 150q6 0 11 4M278 123q7 9 19 10M70 123q8 7 17 9M240 221q15 -0 24 11M23 178q8 6 17 10M105 6q9 6 19 10M169 53q11 3 19 11M149 270q10 4 17 11M207 226q13 3 22 13M294 71q3 9 12 12M26 71q14 2 23 12M242 88q7 3 14 5M76 114q8 9 17 17M5 104q11 7 25 8M2 133q10 3 18 9M146 9q15 -1 27 9M56 286q7 3 15 7M32 2q7 1 11 6M77 181q8 5 15 11M188 281q5 12 17 16M141 298q14 -1 25 7M9 123q7 4 13 8M65 166q9 11 23 11M107 275q9 1 13 9M271 222q8 4 16 9M101 41q8 2 13 8M243 45q5 4 10 8M270 283q7 9 19 9M272 142q15 -0 25 10M120 6q6 2 12 4M38 10q11 8 21 16M191 42q9 13 25 15M182 12q10 8 22 8M59 285q6 2 10 8M243 5q6 6 11 12M29 143q5 5 13 7M284 163q15 1 28 7M211 287q12 4 18 15M262 44q7 7 17 8M50 132q6 9 16 12M66 170q12 4 21 14M54 24q8 2 15 6M2 62q7 3 14 4M46 287q14 7 29 7M167 240q11 9 23 17M49 26q11 -0 19 8M254 245q10 -1 19 2M200 280q11 7 20 18M57 152q4 9 13 11M246 139q12 2 20 11M66 72q10 5 18 12M167 246q5 5 11 8M90 248q5 10 14 17M2 46q9 11 19 21M75 261q8 5 13 13M206 41q8 1 14 5M270 81q12 2 20 10M234 228q6 10 18 11M258 236q7 14 22 17M118 11q12 7 21 17M145 235q8 4 15 10M58 181q2 8 9 12M216 12q9 9 20 16M230 281q12 5 21 13M146 14q7 6 13 13M129 25q3 7 11 9M261 166q6 10 18 11M29 198q9 5 19 7M68 79q6 3 9 9M115 263q6 11 17 18M84 130q9 4 15 11M125 1q7 0 12 6M254 264q7 8 18 12M241 190q5 12 17 16M250 38q9 4 17 11M94 58q4 5 11 6M78 38q7 3 12 9M176 34q11 0 20 8M34 163q15 1 26 11M77 40q13 -0 24 8M53 216q7 8 17 10M117 270q9 8 20 9M178 38q11 7 18 19M242 194q11 7 21 13M169 38q11 3 18 12M287 139q14 -2 24 8M61 73q13 8 27 12M228 9q8 6 18 9M193 245q6 8 15 12M241 250q11 7 19 17M190 286q12 5 19 16M279 219q10 6 19 13M263 78q6 3 12 3M62 143q13 5 25 10M1 249q8 4 15 8M101 35q5 4 10 7M90 223q7 2 13 8M188 57q8 6 14 14M107 247q11 5 17 16M49 102q14 5 26 11M253 254q12 2 19 12M264 41q9 3 16 9M41 14q6 6 14 9M121 298q6 5 10 12M48 261q12 1 21 8M9 109q7 1 13 6M25 43q8 10 20 12M275 223q9 6 19 10M241 242q6 5 11 10M87 68q6 6 15 8M217 58q7 2 10 10M40 236q2 7 8 10M108 255q4 6 10 7M286 216q6 9 17 10M179 263q9 10 22 15M28 13q13 -0 22 9M165 4q8 11 21 14M24 290q11 1 18 9M13 143q15 1 24 13M250 77q7 8 18 8M24 50q8 8 18 15M108 248q4 9 13 14M296 108q4 15 19 22M248 194q11 9 13 22M54 207q10 8 21 13M290 257q8 8 18 13M59 48q13 5 24 15M234 7q13 6 22 17M292 105q2 7 9 12M58 73q8 2 14 9M281 292q10 7 18 15M215 275q6 6 13 8M214 286q8 9 19 11M130 33q7 2 14 3M209 259q11 7 24 9M60 55q6 3 12 5M202 40q5 4 11 6M279 99q7 6 16 11M52 204q14 5 27 13M243 204q12 1 21 10M236 15q13 -3 23 5M45 22q10 11 23 18M274 181q10 4 19 1M223 235q7 5 15 5M63 198q12 7 22 15M45 216q8 5 18 5M191 13q6 3 13 3M296 222q9 8 21 12M63 132q6 2 13 4M230 287q11 4 19 13M269 115q7 1 11 8M58 31q7 11 19 14M22 117q10 8 24 10M291 138q7 11 18 18M12 121q4 7 13 9M254 299q10 5 19 9M69 153q10 7 21 12M40 189q10 4 19 7M255 186q6 5 12 10M199 47q10 9 17 20M279 192q6 3 13 6M88 48q3 9 12 13M195 8q10 2 16 11M271 257q7 3 11 9M14 277q13 0 22 11M69 139q12 -1 23 4M275 215q6 4 11 10M226 207q8 1 15 5M293 162q11 0 18 8M206 30q8 4 14 11M280 82q8 12 22 13M207 18q8 2 15 6M31 136q15 1 27 10M21 47q8 1 14 7M250 170q6 9 16 14M293 81q13 6 21 17M278 206q6 7 15 10M270 287q6 3 12 4M35 51q6 10 17 14M137 250q12 4 21 13M266 198q10 11 24 15M268 202q8 2 15 7M38 105q6 10 16 14M27 80q12 8 19 20M14 95q12 5 24 7M257 279q3 7 9 10M169 44q8 3 15 7M16 298q5 3 11 7M129 288q11 8 19 20M56 7q6 3 11 5M27 154q5 11 13 20M245 272q5 4 12 4M79 30q13 5 24 15M107 8q10 9 18 20M33 28q10 1 17 7M252 294q7 10 20 13M2 82q14 -5 27 3M4 45q8 6 17 12M290 28q9 3 15 11M129 32q3 8 10 11M234 61q10 4 18 11M183 256q5 3 12 4M258 64q6 11 18 15M201 255q12 2 18 11M69 296q2 6 5 12M55 49q15 1 27 12M55 17q7 7 16 10M163 45q9 5 17 11M260 156q15 1 29 -0M89 67q10 9 23 14M55 132q9 3 17 8M252 176q4 6 10 8M67 13q8 8 18 13M50 65q13 1 20 12M12 196q9 11 22 17M232 279q12 7 17 20M121 283q9 5 18 8M186 239q10 8 20 14M245 260q5 4 12 4M2 178q5 5 11 5M265 256q8 7 16 13M256 228q3 5 8 10M295 282q9 8 21 6M254 102q5 12 17 15M274 286q13 4 25 12M278 156q9 -0 16 4M55 51q11 5 19 13M211 231q10 2 20 5M183 249q9 6 21 9M232 69q8 4 16 7M294 51q11 2 21 3M63 176q5 7 13 10M191 33q15 3 24 15M53 63q8 12 22 14M233 177q7 5 13 9M218 258q8 6 17 8M182 273q11 8 23 13M8 225q11 8 23 15M70 236q15 0 25 11M277 129q8 4 17 0M89 278q7 5 12 12M38 60q14 4 29 9M269 76q9 3 14 11M241 276q9 4 19 6M156 8q14 1 24 10M22 281q15 0 28 7M64 87q11 4 20 12M289 153q8 2 16 5M19 29q8 5 18 2M294 89q11 7 22 13M28 75q7 6 15 10M259 35q12 7 25 11M221 264q9 1 15 6M237 201q9 2 15 9M272 174q14 -1 26 6M90 254q7 2 11 8M74 4q11 7 19 17M247 19q10 4 20 9M111 33q13 5 25 13M213 11q12 7 21 16M13 57q6 5 13 11M214 25q4 9 13 11M269 159q12 1 19 10M276 161q7 8 18 9M12 211q6 3 12 5M8 9q11 6 23 12M259 162q6 4 13 3M31 100q12 9 26 14M239 73q9 1 17 7M209 297q5 7 13 9M53 25q6 7 15 9M67 136q5 10 14 16M98 223q8 6 16 12M171 36q10 8 11 21M295 199q15 3 23 17M244 154q6 6 15 4M205 52q5 8 14 10M82 16q8 10 21 12M227 57q14 4 22 16M297 167q6 5 12 9M221 13q7 4 14 7M70 268q8 3 14 9M86 50q8 1 13 7M255 90q10 9 23 12M100 43q9 5 18 11M58 124q8 5 16 8M65 200q8 7 19 9M36 263q7 4 15 5M276 157q6 6 12 11M21 282q11 2 17 11M270 13q2 9 10 14M185 282q9 9 20 14M210 15q8 11 22 14M256 117q6 7 16 9M160 46q7 2 12 9M69 19q7 9 18 12M228 262q13 5 23 15M122 236q10 10 24 8M297 168q11 10 26 13M120 234q12 7 21 17M177 225q8 6 17 4M159 36q6 9 16 12M241 256q7 13 22 16M274 134q8 2 17 4M283 300q13 7 28 9M80 81q10 3 18 9M210 246q8 -2 15 2M26 89q8 7 17 11M245 277q9 6 18 12M96 254q7 0 12 4M179 294q9 4 19 8M48 138q10 5 16 15M162 26q7 0 12 6M187 270q13 -0 21 9M20 188q12 5 22 14M167 247q13 -1 23 6M50 260q5 12 16 18M247 50q9 10 22 13M273 123q9 2 15 9M199 239q13 5 23 14M105 51q13 6 25 14M61 10q7 4 14 7M239 58q9 11 24 14M28 170q3 6 9 8M39 230q12 4 18 14M299 136q7 7 15 12M237 272q11 9 22 17M29 226q5 8 13 11M189 256q7 14 23 17M68 107q8 1 15 5M14 130q9 9 21 12M21 273q7 2 14 4M124 251q5 4 11 5M10 284q11 1 19 9M190 264q9 3 16 9M279 195q7 4 14 9M257 195q13 2 23 11M237 143q6 4 12 6M242 259q7 7 17 8M33 190q10 7 21 15M166 288q11 3 18 12M261 20q7 2 12 7M22 203q14 5 22 17M1 245q9 9 21 13M177 244q2 6 9 8M214 204q5 7 14 8M115 9q10 6 20 12M91 62q7 11 20 15M51 107q6 4 12 7M72 38q9 1 15 8M211 61q7 1 12 6M298 66q8 10 19 16M16 104q11 3 21 8M76 174q13 3 21 14M68 72q9 5 14 14M256 298q6 3 9 8M19 8q13 7 25 16M143 236q6 3 11 7M5 133q8 4 16 4M277 116q13 4 26 7M15 115q12 5 25 6M29 188q9 12 23 13M185 284q10 9 23 11M75 77q10 3 15 12M236 48q6 3 12 8M39 10q6 2 11 7M189 275q6 3 10 9M184 43q11 4 22 9M95 49q14 1 22 11M21 118q8 7 18 9M7 297q12 4 23 8M201 295q9 11 23 14M65 49q6 4 13 7M264 105q11 2 19 11M119 272q5 5 11 6M237 208q13 8 21 22M26 155q9 3 14 12M38 106q8 5 16 12M241 7q12 7 24 14M200 259q7 2 12 6M29 295q12 7 23 14M58 180q5 7 13 8M30 103q8 9 19 15M102 293q6 15 21 20M274 195q10 8 22 12M199 8q6 5 14 6M143 277q10 6 21 5M246 91q9 6 20 6M300 163q10 9 23 16M120 263q14 1 25 11M265 234q10 -0 18 5M269 266q10 9 23 11M179 248q15 -3 27 7M70 228q6 8 16 9M296 174q4 7 12 11M158 277q5 12 15 20M227 228q7 12 19 19M18 62q5 7 14 10" stroke="#5c5c5e" stroke-width="1.2" opacity="0.35" stroke-linecap="round" fill="none" filter="url(#soft2)"/>
<path d="M294 16q13 6 25 14M276 48q15 4 28 10M55 104q11 1 16 9M21 51q8 2 14 8M257 270q5 10 14 17M264 163q7 2 14 4M28 55q11 4 22 10M9 1q11 3 23 6M137 51q5 5 12 8M223 234q4 7 12 9M256 246q14 -2 26 3M206 255q7 12 20 16M23 199q12 8 21 19M21 13q10 5 15 15M45 137q13 6 19 18M207 298q9 3 15 10M76 250q4 8 11 12M266 254q6 5 12 10M95 263q10 1 17 10M67 211q9 3 14 11M281 78q8 8 18 13M174 252q13 1 23 7M277 35q6 2 13 1M270 183q4 6 10 8M79 156q9 2 13 9M103 31q10 9 22 10M17 158q7 5 14 10M300 273q16 -2 28 7M7 177q6 6 15 7M239 4q6 5 13 7M127 46q5 4 10 9M230 25q7 9 18 10M146 266q12 5 16 17M295 90q8 3 16 6M161 231q13 4 26 4M82 191q8 7 19 9M82 238q13 7 25 14M116 240q13 6 26 12M37 267q8 3 14 8M236 53q5 7 12 8M92 279q7 4 13 9M289 283q7 10 19 12M259 293q12 1 20 10M123 298q7 6 17 9M285 213q6 5 13 5M130 256q6 3 10 8M188 237q6 2 12 4M167 22q11 3 19 10M104 237q5 4 11 7M277 190q7 6 16 9M273 20q9 9 18 17M143 48q8 1 12 8M96 229q8 6 18 9M294 222q4 5 9 8M10 4q5 5 11 8M65 132q7 2 12 7M134 269q8 12 23 13M266 51q8 10 20 10M76 172q13 3 26 6M246 73q13 -2 23 5M218 242q6 5 11 9M70 280q14 4 21 17M73 80q10 8 19 16M153 51q5 9 15 13M24 68q7 4 15 5M295 146q10 13 26 15M168 282q8 4 13 10M118 238q9 4 18 7M59 132q6 5 13 9M196 226q7 7 16 11M278 12q15 1 27 12M227 203q6 3 11 6M105 45q5 14 19 18M66 86q9 7 20 13M112 47q7 5 14 10M27 146q7 2 13 5M190 219q4 6 9 10M82 68q11 4 21 12M266 156q4 6 11 7M278 138q10 11 23 17M217 197q10 6 20 12M118 59q9 8 21 11M200 18q12 5 17 17M14 263q9 13 24 18M184 20q7 8 18 9M279 51q6 10 17 14M299 160q4 5 11 8M257 262q12 7 18 19M12 244q6 7 13 12M281 37q10 7 19 15M276 94q6 3 9 9M273 150q12 7 24 12M125 266q10 1 17 9M252 280q13 7 27 13M76 202q9 5 18 3M10 55q11 5 24 5M242 82q9 6 18 13M132 298q4 5 10 8M71 88q5 10 16 12M18 196q8 4 14 9M67 180q6 3 13 7M229 71q10 5 17 14M236 33q12 4 20 13M65 154q12 6 24 13M252 239q6 8 14 13M13 213q8 13 23 18M293 42q13 1 23 10M295 123q6 6 14 10M188 242q9 4 18 9M184 277q2 6 9 9M82 147q14 2 26 10M46 120q13 -0 22 9M27 103q11 4 22 9M196 272q14 2 23 12M43 136q6 4 11 8M77 123q6 13 20 18M29 178q13 6 23 16M292 110q9 6 21 9M117 255q6 13 19 18M178 242q4 7 11 11M31 280q11 10 24 16M224 296q8 7 18 11M233 283q12 3 18 15M34 242q11 7 25 5M82 183q6 13 18 19M277 275q3 6 7 12M37 131q6 11 17 18M218 28q9 7 19 10M239 121q12 6 20 16M8 277q13 5 22 15M237 32q8 12 22 13M33 10q7 4 15 3M288 286q9 10 22 13M47 51q5 7 14 7M68 185q10 11 22 18M119 300q6 8 16 11M22 9q7 8 18 10M49 276q13 2 24 10M289 141q5 9 15 10M277 98q8 12 22 14M219 14q8 2 11 10M226 47q9 1 15 8M284 51q9 5 18 10M283 211q11 3 19 11M47 141q8 3 14 7M57 2q4 7 12 9M275 111q11 3 16 14M65 132q8 2 13 9M31 31q6 8 15 11M169 16q14 5 23 17M269 80q14 6 28 10M5 221q11 1 17 9M25 267q11 6 23 12M279 241q14 5 25 15M213 46q10 1 16 9M285 289q9 9 17 19M262 248q10 3 16 12M99 42q15 2 23 14M61 43q8 5 15 12M153 286q15 1 23 12M274 122q6 14 20 19M269 68q9 2 16 9M72 89q7 15 22 20M222 5q3 6 9 9M12 146q8 3 17 4M26 276q9 7 21 6M46 287q15 -0 26 9M254 168q9 5 18 11M46 40q6 8 14 14M196 288q6 5 14 9M31 136q6 9 16 9M149 265q6 5 14 5M248 74q14 1 23 11M6 55q4 5 11 7M236 216q8 4 16 9M87 71q5 5 11 7M104 291q13 5 19 17M60 272q7 8 17 9M261 261q11 7 19 16M162 270q12 1 19 12M171 245q16 -1 29 7M117 281q12 2 20 12M242 85q13 7 26 15M9 173q6 5 13 9M39 140q8 4 13 11M16 128q7 5 16 5M35 202q10 4 19 11M284 12q5 5 12 6M89 7q11 1 22 7M285 269q7 1 12 6M198 27q10 9 22 13M187 217q6 1 12 5M242 28q7 6 16 9M156 273q13 7 20 19M151 284q8 8 18 14M291 251q3 7 7 12M94 9q6 3 8 10M147 232q14 3 25 13M46 40q6 10 17 12M202 23q6 5 13 9M253 209q12 5 20 15M251 19q10 6 17 15M273 237q8 8 19 10M95 254q12 2 19 12M77 269q9 9 21 14M155 291q10 5 19 12M24 42q6 8 15 12M81 279q3 7 10 10M197 53q7 11 19 15M22 73q13 7 23 19M104 50q7 7 14 13M248 82q5 6 13 5M52 126q14 -1 25 8M140 12q8 6 13 13M290 283q10 6 18 15M41 65q12 3 21 12M257 102q5 3 12 4M41 231q6 4 7 11M267 48q10 11 24 16M99 264q11 7 22 13M235 7q16 -1 28 8M119 291q6 3 10 9M80 3q14 5 22 17M268 53q8 8 18 12M124 35q7 4 16 4M108 63q8 3 11 11M297 209q5 4 11 6M103 257q13 -3 24 6M86 3q14 5 27 10M30 85q13 3 22 12M104 33q8 6 17 10M223 277q8 10 21 11M242 58q5 13 18 17M80 225q6 11 17 15M68 112q7 9 16 16M88 17q7 8 18 12M33 100q7 0 13 5M1 140q3 9 10 13M260 82q11 6 18 17M276 214q6 10 18 14M12 69q13 8 26 14M281 299q13 3 26 7M73 82q10 11 25 11M230 23q5 5 11 8M70 3q6 4 11 11M73 197q8 13 17 25M22 33q9 5 19 7M46 1q9 8 20 12M271 200q6 3 12 6M77 244q5 8 15 9M126 53q9 6 19 9M8 207q5 6 12 10M22 121q9 10 21 17M58 84q14 4 20 17M34 285q5 7 11 14M253 166q16 -1 27 11M97 266q8 9 17 15M269 85q10 4 17 13M252 293q9 13 24 16M297 48q7 8 14 16M266 237q10 5 17 15M294 181q7 -0 15 2M12 140q10 10 24 13M93 53q5 5 11 9M243 7q11 3 17 14M111 236q11 7 16 19M38 32q7 6 15 6M223 0q6 2 12 3M16 98q9 7 18 12M120 283q13 5 22 15M267 28q6 8 14 14M71 122q11 4 22 5M158 255q7 2 11 7M192 256q6 3 12 4M78 183q9 5 20 7M138 274q8 2 13 8M21 294q10 5 20 10M57 67q4 11 15 15M2 124q10 3 17 12M66 59q10 6 22 7M103 282q6 5 12 9M73 85q9 4 16 11M245 298q5 4 12 6M277 129q8 7 15 15M295 45q9 7 18 13M247 42q7 5 13 11M296 44q6 4 12 7M221 290q9 6 12 17M100 4q7 6 15 8M233 230q12 8 26 8M239 156q11 9 24 14M250 189q5 8 14 10M180 240q8 10 21 9M144 241q11 -0 19 8M262 112q14 4 20 17M79 279q10 7 22 11M3 186q9 2 15 10M286 116q6 3 10 8M33 176q10 -3 21 1M4 134q8 3 13 10M220 258q14 5 26 11M231 54q8 8 14 17M15 181q6 3 11 7M198 44q7 6 15 10M75 50q9 9 21 10M271 213q10 3 20 3M215 230q4 7 13 10M10 186q6 13 19 16M286 62q6 5 13 8M140 273q6 2 13 4M242 49q7 3 12 7M39 218q12 7 20 18M4 250q8 4 18 5M15 247q7 5 13 10M86 233q5 7 14 8M183 277q8 2 17 3M173 14q7 6 16 11M55 226q8 1 14 5M180 249q7 13 21 17M66 113q8 5 16 9M77 73q12 1 23 7M113 235q8 11 20 14M255 267q11 6 22 13M242 221q7 3 14 6M281 48q6 -0 12 3M193 240q13 6 24 15M150 18q14 4 26 12M249 238q6 11 19 15M26 289q5 5 12 5M247 167q9 3 19 7M216 216q7 6 12 15M296 280q10 9 24 10M259 55q3 8 12 12M3 7q6 6 15 5M281 151q15 4 25 15M247 197q6 3 12 7M28 52q13 2 23 12M247 192q6 4 13 5M44 243q9 10 22 15M207 207q11 5 21 10M239 16q11 4 15 14M96 27q9 1 15 8M100 70q7 2 13 5M183 275q11 9 25 9M61 110q10 8 22 9M57 230q8 2 12 8M232 255q11 9 25 12M269 264q8 12 22 14M79 186q5 5 12 8M118 271q7 8 17 8" stroke="#1c1c1c" stroke-width="1.2" opacity="0.35" stroke-linecap="round" fill="none" filter="url(#soft2)"/>
<path d="M99.3,73.2 C105.6,67.5 118.4,57.9 126,54.1 C133.6,50.3 138.7,50.3 145,50.3 C151.3,50.3 157.8,52.5 164.1,54.1 C170.4,55.7 176.8,57.2 183.1,59.8 C189.4,62.3 195.8,69.4 202.1,69.4 C208.4,69.4 216.1,57.9 221.2,59.8 C226.3,61.7 228.1,74.8 232.6,80.8 C237.1,86.8 245.7,90.9 247.9,96 C250.1,101.1 248.2,107.1 246,111.2 C243.8,115.3 236.7,116 234.5,120.8 C232.3,125.6 231.7,133.5 232.6,139.8 C233.5,146.1 240.2,153.1 240.2,158.8 C240.2,164.5 234.2,169.3 232.6,174.1 C231,178.9 234.2,183.3 230.7,187.4 C227.2,191.5 216.5,195 211.7,198.8 C206.9,202.6 206.9,207.1 202.1,210.3 C197.3,213.5 189.4,214.7 183.1,217.9 C176.8,221.1 170.4,227.1 164.1,229.3 C157.8,231.5 151.3,230.9 145,231.2 C138.7,231.5 132.3,232.1 126,231.2 C119.7,230.2 112.6,228 106.9,225.5 C101.2,223 95.5,220.4 91.7,216 C87.9,211.6 85,205.2 84.1,198.8 C83.1,192.5 86.3,184.6 86,177.9 C85.7,171.2 82.5,165.2 82.2,158.8 C81.9,152.5 83.1,146.1 84.1,139.8 C85,133.5 87.9,127.2 87.9,120.8 C87.9,114.4 84.1,107.1 84.1,101.7 C84.1,96.3 85.4,93.2 87.9,88.4 C90.4,83.7 93,78.9 99.3,73.2Z" fill="none" stroke="#1e1a18" stroke-width="10" opacity="0.8" filter="url(#bM)"/>
<path d="M99.3,73.2 C103.8,70 118.4,57.9 126,54.1 C133.6,50.3 138.7,50.3 145,50.3 C151.3,50.3 157.8,52.5 164.1,54.1 C170.4,55.7 176.8,57.2 183.1,59.8 C189.4,62.3 195.8,69.4 202.1,69.4 C208.4,69.4 216.1,57.9 221.2,59.8 C226.3,61.7 228.1,74.8 232.6,80.8 C237.1,86.8 245.7,90.9 247.9,96 C250.1,101.1 248.2,107.1 246,111.2 C243.8,115.3 236.7,116 234.5,120.8 C232.3,125.6 231.7,133.5 232.6,139.8 C233.5,146.1 238.9,155.6 240.2,158.8" fill="none" stroke="#241c18" stroke-width="5" opacity="0.85" filter="url(#fuzz2)"/>
<path d="M99.3,73.2 C105.6,67.5 118.4,57.9 126,54.1 C133.6,50.3 138.7,50.3 145,50.3 C151.3,50.3 157.8,52.5 164.1,54.1 C170.4,55.7 176.8,57.2 183.1,59.8 C189.4,62.3 195.8,69.4 202.1,69.4 C208.4,69.4 216.1,57.9 221.2,59.8 C226.3,61.7 228.1,74.8 232.6,80.8 C237.1,86.8 245.7,90.9 247.9,96 C250.1,101.1 248.2,107.1 246,111.2 C243.8,115.3 236.7,116 234.5,120.8 C232.3,125.6 231.7,133.5 232.6,139.8 C233.5,146.1 240.2,153.1 240.2,158.8 C240.2,164.5 234.2,169.3 232.6,174.1 C231,178.9 234.2,183.3 230.7,187.4 C227.2,191.5 216.5,195 211.7,198.8 C206.9,202.6 206.9,207.1 202.1,210.3 C197.3,213.5 189.4,214.7 183.1,217.9 C176.8,221.1 170.4,227.1 164.1,229.3 C157.8,231.5 151.3,230.9 145,231.2 C138.7,231.5 132.3,232.1 126,231.2 C119.7,230.2 112.6,228 106.9,225.5 C101.2,223 95.5,220.4 91.7,216 C87.9,211.6 85,205.2 84.1,198.8 C83.1,192.5 86.3,184.6 86,177.9 C85.7,171.2 82.5,165.2 82.2,158.8 C81.9,152.5 83.1,146.1 84.1,139.8 C85,133.5 87.9,127.2 87.9,120.8 C87.9,114.4 84.1,107.1 84.1,101.7 C84.1,96.3 85.4,93.2 87.9,88.4 C90.4,83.7 93,78.9 99.3,73.2Z" fill="#b8b8b8" opacity="1" filter="url(#fuzz)"/>
<ellipse cx="165" cy="140" rx="55" ry="65" fill="#cdcdcd" opacity="0.8" filter="url(#bL)"/>
<clipPath id="gt4"><path d="M99.3,73.2 C105.6,67.5 118.4,57.9 126,54.1 C133.6,50.3 138.7,50.3 145,50.3 C151.3,50.3 157.8,52.5 164.1,54.1 C170.4,55.7 176.8,57.2 183.1,59.8 C189.4,62.3 195.8,69.4 202.1,69.4 C208.4,69.4 216.1,57.9 221.2,59.8 C226.3,61.7 228.1,74.8 232.6,80.8 C237.1,86.8 245.7,90.9 247.9,96 C250.1,101.1 248.2,107.1 246,111.2 C243.8,115.3 236.7,116 234.5,120.8 C232.3,125.6 231.7,133.5 232.6,139.8 C233.5,146.1 240.2,153.1 240.2,158.8 C240.2,164.5 234.2,169.3 232.6,174.1 C231,178.9 234.2,183.3 230.7,187.4 C227.2,191.5 216.5,195 211.7,198.8 C206.9,202.6 206.9,207.1 202.1,210.3 C197.3,213.5 189.4,214.7 183.1,217.9 C176.8,221.1 170.4,227.1 164.1,229.3 C157.8,231.5 151.3,230.9 145,231.2 C138.7,231.5 132.3,232.1 126,231.2 C119.7,230.2 112.6,228 106.9,225.5 C101.2,223 95.5,220.4 91.7,216 C87.9,211.6 85,205.2 84.1,198.8 C83.1,192.5 86.3,184.6 86,177.9 C85.7,171.2 82.5,165.2 82.2,158.8 C81.9,152.5 83.1,146.1 84.1,139.8 C85,133.5 87.9,127.2 87.9,120.8 C87.9,114.4 84.1,107.1 84.1,101.7 C84.1,96.3 85.4,93.2 87.9,88.4 C90.4,83.7 93,78.9 99.3,73.2Z"/></clipPath><rect x="0" y="0" width="300" height="300" filter="url(#tex4)" opacity="0.9" clip-path="url(#gt4)" style="mix-blend-mode:overlay"/>
<path d="M137 213q-4 7 -4 15M224 78q3 8 1 15M108 132q-1 6 -1 13M95 198q3 9 -3 18M203 124q-1 8 1 16M119 98q0 5 -1 10M192 197q4 8 3 17M222 127q2 6 -1 12M187 146q2 7 -1 14M97 123q-3 4 -3 8M217 161q2 7 1 15M160 129q-3 8 -2 16M129 160q0 7 3 14M181 96q2 6 -1 11M114 173q-3 8 -7 17M196 200q-1 6 -2 13M122 87q-1 5 -2 11M185 70q1 6 -3 12M191 136q-1 6 -2 12M174 180q1 6 3 12M111 208q2 7 1 14M102 175q0 8 -1 17M121 192q2 10 -4 17M159 109q2 5 2 11M116 83q2 5 1 11M99 83q-5 7 -4 16M121 204q1 6 4 11M144 205q-3 6 -0 11M148 53q1 6 0 12M147 176q1 4 -2 8M122 122q2 7 -1 13M132 163q2 7 0 14M149 117q0 7 -0 14M179 130q2 6 1 12M148 141q-0 8 -0 15M179 136q-1 8 -1 17M122 185q-2 8 -5 15M108 193q1 9 2 17M101 99q1 8 -2 16M141 96q2 4 1 9M168 94q3 8 -2 16M212 163q-2 7 1 14M94 193q3 9 -1 18M214 107q1 7 -4 13M202 162q-2 4 -0 9M120 75q1 9 -3 17M146 218q-3 8 -3 17M110 99q0 7 4 13M181 81q-1 4 -0 8M156 83q-1 5 2 9M224 115q-1 6 1 12M209 127q-2 8 -2 17M247 104q4 8 3 18M156 187q-2 5 -0 9M237 104q-1 5 1 9M155 175q-1 8 3 16M223 99q-1 5 2 9M89 154q-2 4 -1 9M102 186q-3 9 0 18M199 127q3 9 -1 18M182 199q-3 4 -3 8M152 120q-1 7 3 13M163 129q1 6 1 13M173 181q-1 9 -1 17M155 203q-1 7 2 14M115 221q3 8 -1 16M201 108q-2 6 -4 12M176 186q-0 6 1 12M94 165q-4 5 -4 11M207 77q-2 5 1 10M106 179q-2 6 -4 11M112 223q-0 5 0 11M94 138q3 6 1 13M144 187q-1 5 2 9M176 134q0 5 -2 8M194 151q2 9 -3 16M181 144q-4 5 -2 11M163 209q-1 6 0 13M224 86q2 5 -1 10M178 197q2 8 2 16M235 168q7 7 6 16M144 122q-2 7 -2 14M195 165q-3 7 -5 15M234 159q-1 7 -4 14M150 149q3 7 1 14M231 110q-2 6 -1 13M158 68q2 6 3 12M134 121q2 5 1 10M181 154q1 5 -2 8M201 140q-1 6 1 11M198 207q1 5 2 10M193 189q1 4 -0 8M140 179q1 6 -1 13M110 147q-0 9 -7 14M89 132q-1 6 2 11M131 105q-3 5 -3 11M142 183q-0 4 1 9M93 134q2 5 3 11M103 177q2 4 0 8M86 185q2 6 2 13M95 129q-4 6 -1 12M163 93q-3 6 -3 12M166 187q-0 9 -4 17M185 213q-3 4 -2 9M110 225q0 6 2 12M156 203q-2 7 2 14M199 171q-0 6 -1 12M197 140q-1 6 -1 13M147 140q-2 5 -0 10M111 173q4 8 0 16M193 114q-1 8 -1 15M92 104q3 9 2 18M92 213q-2 7 -5 14M158 210q-1 8 2 15M211 173q3 8 -0 15M104 123q-0 7 -1 15M89 116q1 4 3 7M176 128q3 6 -0 12M117 136q-1 8 0 15M190 198q4 7 4 15M143 102q0 5 1 10M150 159q-1 7 -4 13M96 132q-2 8 1 16M157 159q2 8 -3 15M160 181q-1 4 -1 9M196 140q-4 8 -4 17M99 117q-3 6 -4 13M221 167q-2 5 -0 9M154 202q3 8 -1 15M132 203q-4 7 -3 15M107 180q-3 4 -6 9M180 72q-2 5 0 10M171 174q1 8 2 15M166 198q3 9 1 18M149 152q4 6 3 13M118 180q-1 7 -0 15M165 132q-2 7 -4 15M165 204q2 7 2 15M131 229q-0 6 4 12M107 124q-0 9 3 16M152 69q1 8 -0 15M187 132q0 9 -1 18M155 172q2 6 -1 12M132 158q3 5 2 11M110 89q-1 5 0 11M240 110q-0 5 -1 10M101 109q-2 9 3 18M126 221q-5 7 -6 16M154 139q-0 9 2 17M213 177q1 6 0 12M226 182q-4 9 1 17M197 179q0 6 -4 10M131 220q1 6 2 13M201 91q1 5 -1 10M198 194q-1 6 -3 12M137 111q-2 6 1 11M125 158q-2 8 1 15M99 90q-1 8 -5 16M225 116q-1 6 -1 13M183 124q-2 9 3 17M151 103q-4 9 -0 17M115 76q1 9 -1 17M203 90q-2 6 0 11M108 120q-1 6 0 11M126 108q-3 6 -2 13M223 109q-1 8 -5 15M129 184q-1 5 -1 10M171 136q1 6 -1 12M152 152q1 5 0 9M198 192q4 7 5 15M127 183q-0 5 -1 10M180 71q-0 5 0 10M112 132q-1 6 -3 11M178 86q3 4 3 8M91 93q-0 5 -1 10M199 88q-0 6 -2 12M175 107q0 9 5 16M123 222q3 6 1 12M198 84q2 7 2 14M102 130q2 6 1 13M106 100q-2 6 0 11M127 113q-1 5 -0 9M215 125q3 7 2 15M88 143q-1 5 -2 10M122 224q-1 7 -1 15M135 112q-2 8 -1 17M126 83q2 10 -4 17M181 164q3 6 1 13M183 171q0 7 -3 13M223 106q-4 8 -1 15M89 183q1 5 -2 8M94 138q2 8 3 17M151 108q0 6 -2 13M99 89q-3 8 0 15M87 153q6 5 6 13M104 86q-2 4 -1 9M122 145q-1 5 -4 9M96 161q3 9 2 17M220 94q2 7 1 15M214 148q1 6 2 12M159 136q4 8 1 16M217 68q0 4 -0 9M165 153q3 5 1 10M205 101q-2 6 -1 12M225 117q3 7 0 13M199 80q-3 4 -5 8M112 116q-2 6 -1 12M202 131q-0 7 -4 13M163 120q-3 5 -4 10M91 181q3 8 1 17M216 77q-1 9 -5 17M114 154q2 8 3 17M196 127q-2 9 1 17M168 84q-2 6 1 12M235 154q-3 4 -1 9M135 191q3 7 1 15M170 104q4 8 4 16M146 126q3 8 1 16M129 116q-4 8 -0 15M106 175q-1 7 -2 14M211 188q0 7 -1 13M164 69q1 6 -1 12M139 135q-1 6 -3 12M137 124q-1 5 0 10M184 108q2 4 1 8M118 128q-4 6 -2 14M178 90q0 7 3 14M111 120q-3 6 -1 12M112 133q0 7 1 13M165 216q-1 4 0 8M187 134q-2 7 2 13M136 64q2 9 -3 16M217 96q-1 5 1 9M224 179q3 6 5 13M162 82q0 6 -4 10M121 140q1 6 -1 11M154 219q0 5 1 10M122 83q4 5 3 11M160 60q-2 6 1 11M218 141q1 7 -3 14M114 123q-6 8 -3 17M147 211q2 8 3 17M132 192q3 8 1 16M205 168q-0 9 6 16M164 95q0 6 2 12M173 93q-0 6 -0 12M144 187q1 8 4 16M146 190q-2 5 -1 11M147 189q-3 5 -1 10M191 69q-1 9 3 17M102 128q-1 4 -2 8M143 88q-2 4 1 8M113 149q2 9 -1 17M146 79q-0 5 1 11M90 126q-0 6 1 12M89 191q2 8 -0 16M129 83q-3 6 -1 11M112 105q-2 7 -2 14M159 161q1 7 1 14M158 118q2 5 -0 10M133 85q-4 3 -6 9M98 100q1 5 2 9M131 228q-3 7 -1 14M132 125q-1 7 -2 13M199 163q-0 4 0 9M125 215q-6 8 -4 17M98 185q-2 7 2 12M185 207q-1 4 -4 8M184 161q-3 5 -1 11M189 143q-1 7 1 14M212 129q2 6 -2 11M169 59q3 8 -0 15M156 159q-3 5 -4 10M209 99q-2 6 -1 12M143 226q-2 6 -2 12M214 175q-4 5 -3 11M108 158q3 7 0 13M210 182q-4 8 -4 16M202 188q1 5 3 10M121 156q-2 4 -2 9M150 132q-1 5 -4 10M166 186q-3 8 0 15M100 99q-2 6 2 12M134 125q-1 6 1 13M128 208q-1 6 0 11M151 135q0 6 -1 13M182 181q-1 8 1 15M232 125q2 4 3 9M131 163q1 4 -1 8M208 92q-2 7 -4 15M171 80q1 8 2 16M118 69q-2 9 -5 17M209 115q-0 9 3 17M97 167q-4 8 -2 16M205 152q-1 6 -2 11M193 154q2 5 1 11M200 137q1 7 0 15M165 83q2 5 2 10M219 83q-3 5 -2 10M116 226q1 6 -1 11M210 192q-3 7 -2 15M154 69q-2 5 -1 10M172 73q2 6 3 13M180 130q-1 5 -1 10M133 60q-1 6 1 11M147 107q-0 8 0 16M130 192q4 7 3 16M162 205q-4 7 -2 14M126 214q-2 5 -3 11M172 136q3 8 0 16M89 200q1 6 -1 12M143 125q2 3 3 8M137 189q-1 4 -1 9M158 143q2 5 4 10M102 140q-1 5 -1 10M138 81q2 5 1 10M180 93q1 5 2 11M175 78q1 8 2 16M185 76q1 5 -1 10M214 123q-1 6 2 12M188 174q3 6 -0 12M91 119q-1 4 -0 9M169 118q1 4 -1 8M233 116q-3 8 1 16M136 205q2 7 4 14M130 54q0 8 -2 16M164 132q1 6 1 11M150 211q3 7 3 15M154 104q2 7 1 15M177 193q-3 9 0 17M171 113q-1 9 -0 18M106 121q0 8 -1 16M123 118q4 7 3 16M162 105q-0 5 -2 11M222 164q1 7 -2 13M118 175q-1 4 0 9M123 96q-2 8 -1 17M166 78q-0 6 -1 12M102 201q-1 6 2 11M141 157q4 7 2 14M179 204q-3 4 -2 9M180 158q-4 7 -4 15M194 165q-0 9 -6 16M225 95q0 5 -3 9M131 226q3 7 1 14M129 164q-3 5 -2 11M183 199q3 8 1 16M119 192q1 9 -3 16M215 142q2 6 -2 12M96 141q-1 5 2 9M129 98q-3 3 -4 7M226 106q1 7 4 14M147 205q1 8 1 16M128 74q-1 6 0 12M155 224q1 7 5 13M218 79q-1 6 -5 11M159 83q-1 7 2 14M181 110q-1 8 -3 15M149 184q2 8 -1 15M237 154q-3 5 -1 10M118 111q-2 5 -2 10M165 149q-2 6 -4 12M175 178q2 5 -1 9M132 213q-1 7 -1 15M179 196q-3 8 -4 16M235 92q-4 5 -3 12M106 200q-2 6 -2 13M127 151q-1 6 -4 11M183 200q3 6 7 11M162 88q-0 6 -4 10M124 127q-3 6 -1 12M234 165q-1 6 -3 12M99 170q-1 7 -2 14M131 222q-2 5 -2 11M213 126q4 9 0 18M201 131q-1 7 -3 13M161 172q-1 5 -1 9M138 99q-1 8 3 16M122 146q-1 8 1 15M99 93q-0 4 1 8M157 198q0 5 2 10M170 147q-2 7 -2 15M163 195q-6 7 -7 16M151 227q0 5 0 10M144 76q1 8 -3 14M148 180q-2 8 -1 17M144 164q1 8 2 16M131 169q1 7 3 14M164 63q-2 8 2 15M125 180q1 8 -3 16M219 141q-1 4 -1 9M88 102q-1 7 2 14M173 117q1 8 -3 16M156 197q-3 6 -1 13M241 115q-1 8 -1 17M123 103q-2 7 -4 14M168 194q-2 6 -0 12M102 142q-0 5 -2 9M199 98q-1 7 3 12M132 184q1 6 1 12M105 173q-0 5 3 10M137 164q-1 6 2 10M138 93q-0 7 -4 12M235 99q-2 7 -1 13M149 130q-6 5 -6 12M214 120q1 8 -3 15M128 158q4 6 1 13M138 196q1 4 1 9M223 113q3 9 5 17M151 111q0 4 -1 8M136 153q2 7 1 13M166 225q2 5 -0 10M180 216q0 7 -3 14M232 95q2 5 0 10M110 120q-1 6 -3 13M181 93q0 5 1 10M132 82q-5 8 -2 17M176 122q0 8 0 16M183 213q-1 4 0 8M137 231q2 7 1 15M223 116q1 6 -2 12M124 114q-4 7 -6 15M169 185q1 8 -3 15M158 218q1 5 0 11M227 139q-2 8 -1 17M104 197q2 7 4 14M163 206q-4 5 -9 9M101 121q0 5 -0 10M88 149q1 7 0 13M153 61q3 4 3 9M99 218q2 6 -0 13M209 139q-4 4 -4 10M175 159q-0 5 -0 11M165 153q1 5 1 9M160 197q2 6 -1 12M210 182q-1 6 -0 11M188 123q3 5 2 10M128 222q2 4 2 9M164 198q3 9 -1 18M220 121q1 4 1 8M169 183q2 7 -0 13M137 166q-2 8 0 15M220 101q1 6 1 12M201 205q1 9 -0 17M173 68q-4 8 -1 17M96 87q0 5 -1 11M101 117q4 8 1 16M192 206q-4 7 -2 15M152 193q-2 4 -0 9M206 194q-2 6 0 11M195 82q-6 7 -5 16M173 202q0 6 -1 12M176 221q3 6 0 13M182 127q1 4 2 9M206 96q2 6 3 11M222 152q1 7 3 13M175 126q5 7 4 16M107 158q-2 8 0 16M207 152q3 4 2 9M107 213q3 5 1 11M133 226q-2 5 0 11M199 169q-1 5 -2 9M162 110q-3 6 -2 12M155 207q-4 8 -7 17M210 172q-2 6 -1 12M134 204q-5 8 -2 17M144 57q-1 6 -1 12M205 160q1 7 -1 13M114 112q-0 5 0 10M237 110q-2 5 -2 11M139 80q0 4 -0 8M125 71q1 5 -2 9M154 88q1 8 -0 17M186 183q2 6 2 12M105 166q1 5 3 9M147 146q2 4 2 9M126 198q0 7 4 14M176 119q-1 8 -1 15M162 85q3 5 3 10M216 187q-1 5 2 8M106 209q0 6 1 12M199 199q3 8 0 16M163 143q4 7 1 14M102 97q-0 5 -1 10M113 64q1 5 -1 9M118 117q-3 6 -6 13M103 187q-0 9 0 17M186 140q0 8 3 16M129 129q0 5 1 10M99 140q2 6 -1 12M140 83q3 7 0 15M108 83q-4 6 -1 13M130 228q2 7 -1 14M174 133q-0 5 1 10M144 223q-3 5 -3 11M204 188q-1 4 -0 8M125 57q1 9 -1 17M113 112q-3 6 -2 13M130 216q-3 4 -2 9M132 188q-3 8 2 16M150 182q0 5 -2 10M145 129q-3 8 -1 16M244 100q-5 8 -2 17M160 88q-2 5 -0 10M120 176q-1 4 2 8M230 171q-4 7 -1 15M173 64q2 7 1 15M138 97q-0 6 1 11M100 169q0 5 3 10M237 114q-1 5 -1 9M148 189q-2 7 -3 15M118 97q-2 8 -2 15M170 74q-0 8 -4 15M221 72q3 4 1 8M123 145q-1 4 -1 8M160 173q-4 6 -4 14M149 226q-1 5 -0 9M221 79q-2 8 -1 16M154 220q2 5 1 11M162 68q1 8 0 16M245 107q-4 5 -3 12M174 102q-4 7 -7 14M134 93q-4 5 -4 11M180 158q2 4 -0 9M116 142q0 5 -3 9M205 115q-1 4 -4 8M171 123q-3 6 -2 13M95 115q-1 5 1 9M101 218q2 6 3 13M184 96q-1 8 -3 16M91 109q-2 5 -1 9M214 141q-5 5 -4 11M217 132q3 6 5 13M133 220q1 5 -0 11M170 200q2 8 -0 16M225 188q-0 5 0 10M91 215q-3 6 -2 12M196 187q4 6 2 14M114 189q-2 5 -0 11M113 156q2 5 1 10M145 137q-1 7 -2 14M161 122q-3 6 -1 12M209 134q4 8 2 17M112 113q-0 7 1 15M164 139q2 8 -2 16M113 140q1 8 0 17M106 124q-2 9 -1 17M201 178q4 7 1 15M232 170q1 6 -2 12M201 116q2 8 1 15M96 131q0 8 -0 16M90 123q-1 7 -7 11M107 83q0 8 -2 15M138 159q-1 7 1 14M159 68q4 7 2 15M202 71q-2 9 -5 17M199 185q-3 8 -1 17M215 152q-0 6 -3 11M174 176q-1 7 1 13M223 104q-2 7 1 14M122 178q0 8 -1 17M178 77q1 7 -3 13M225 137q1 4 1 9M121 145q-4 6 -4 12M122 195q0 4 -0 8M186 98q1 5 3 9M213 158q-2 6 -3 11M110 144q-1 6 2 11M209 200q-0 6 -1 13M193 123q1 7 -2 13M174 138q2 6 2 12M132 134q-3 4 -2 10M137 83q-5 6 -4 14M107 167q1 6 1 12M103 176q-2 8 -1 17M146 115q-3 6 0 12M205 110q-2 5 -2 11M115 135q1 8 1 16M169 88q-1 4 1 8M184 132q2 5 -0 10M224 98q-4 4 -4 9M221 120q2 7 -1 14M138 207q-1 6 -1 12M151 127q1 7 -2 14M199 105q-2 9 3 17M96 159q0 8 1 15M151 82q-4 6 -4 13M167 195q2 8 3 17M216 168q-2 6 0 12M237 164q-2 4 -1 8M101 137q0 6 1 12M206 191q-1 5 0 10M97 204q-2 9 0 17M119 118q-5 6 -7 13M115 71q0 7 -1 13M175 185q0 8 0 15M229 135q-1 6 2 10M218 143q0 7 -4 13M193 200q1 7 1 14M90 178q-1 4 0 8M203 179q-1 8 3 14M213 138q-4 7 -7 14M186 141q1 9 -1 18M148 61q1 8 2 16M237 85q-0 5 -2 10M167 115q-4 7 -2 14M114 181q1 4 -0 9M92 180q2 6 1 12M127 179q0 8 -2 15M162 57q-2 5 -3 9M131 96q3 8 -1 15M158 80q2 4 -1 9M218 187q1 6 -0 13M191 114q1 9 -2 18M198 194q-1 7 -2 15M201 87q-3 7 -2 14M223 63q0 9 1 17M166 113q-0 6 2 12M243 113q2 4 1 8M147 156q-4 4 -3 10M203 188q-2 5 -1 10M118 127q-1 4 1 8M144 209q0 8 -4 15M138 195q3 9 -2 17M141 114q2 8 -2 15M220 111q1 4 -0 8M227 135q1 5 -1 9M132 107q-5 8 -2 17M159 142q0 9 -2 17M181 217q-1 7 -2 13M120 137q-0 6 -3 12M149 121q-1 5 -2 9M91 174q3 8 -1 16M163 150q-1 6 -3 11M224 123q2 5 1 9M153 89q2 5 0 10M241 90q4 8 1 16M143 162q0 5 -2 10M94 191q-2 8 -3 15M129 198q-3 9 -1 18M157 177q4 9 0 17M218 96q-2 4 -2 8M165 78q-1 7 -2 14M184 217q3 7 7 13M200 178q1 6 -2 10M129 202q-1 6 2 10M188 137q-0 6 3 11M227 179q-2 7 -2 13M143 84q0 5 -1 9M122 196q2 7 -1 14M182 141q-1 7 0 15M218 147q3 6 2 13M218 166q1 5 -1 10M216 143q-0 7 -2 14M175 196q-4 9 -1 18M190 175q1 6 2 12M164 148q-2 8 -6 16M140 208q-3 5 -3 12M169 188q2 6 -0 13M162 170q1 4 -2 8M92 195q3 9 -2 17M214 117q-1 5 1 9M191 192q-3 3 -2 8M220 190q3 5 3 11M119 71q0 8 -3 15M203 181q-1 4 -1 8M110 191q1 4 -1 9M148 177q-3 4 -3 9M172 132q4 7 2 15M192 108q-0 4 -1 8M98 92q-0 5 1 10M102 170q3 7 2 14M138 152q-3 4 -2 9M86 97q-1 5 -0 9M209 168q-2 8 -1 15M125 120q2 4 1 9M87 133q2 6 -1 13M172 114q-0 9 3 17M184 187q3 4 4 10M131 88q-2 5 -0 10M166 70q-0 8 -5 16M243 93q-0 6 1 12M138 132q-5 6 -4 13M244 107q-0 8 0 15M213 111q0 9 -2 17M217 160q-1 6 -2 11M106 199q-0 6 -3 12M155 124q-6 7 -6 17M113 122q-5 5 -8 12M109 220q-2 9 0 17M106 93q1 4 -1 8M168 205q-2 4 0 8M125 190q-2 8 -0 16M199 97q-2 6 1 11M233 87q-2 7 1 13M235 165q1 6 -2 11M230 113q-2 6 -0 12M120 192q0 4 -1 9M134 164q1 5 1 11M136 141q0 5 -3 9" stroke="#6e6e6e" stroke-width="1.0" opacity="0.55" stroke-linecap="round" fill="none" filter="url(#soft)"/>
<path d="M167 145q-2 6 -3 12M165 179q-0 7 -0 13M210 134q1 5 4 10M118 128q3 8 3 17M88 106q-0 4 -0 9M149 104q1 5 0 11M181 115q0 6 0 12M197 126q-2 5 -1 11M232 167q0 8 -5 14M102 101q2 4 1 9M151 148q-3 6 -1 12M111 165q2 5 -1 10M218 82q-1 8 2 15M209 153q0 9 0 18M176 163q1 5 1 11M246 103q2 6 -1 12M214 106q1 5 0 11M96 90q-5 7 -3 16M146 203q4 8 1 17M167 188q-1 8 -0 16M127 172q-3 8 -0 15M155 127q-5 7 -3 16M90 89q2 5 1 11M170 128q-2 4 -4 9M206 132q-3 7 -2 14M148 57q-1 4 -1 8M218 72q-3 8 -0 16M131 192q-1 8 3 15M167 112q-4 5 -5 12M85 162q0 4 -0 8M180 214q-1 6 -3 11M109 98q2 4 2 9M169 146q0 8 -2 15M114 89q-2 7 -4 13M99 100q-0 8 4 16M188 77q0 6 -2 11M117 106q2 9 1 17M173 147q3 5 3 10M196 195q0 6 1 12M98 201q4 7 1 14M88 149q3 7 0 14M193 170q-6 7 -5 17M102 83q1 8 1 16M132 182q0 7 0 14M120 154q2 7 2 14M169 98q-3 7 -1 14M162 219q-2 9 2 18M97 150q-0 4 0 8M132 79q-4 8 -9 14M235 103q2 7 -2 13M95 155q1 6 1 13M183 72q-2 6 2 11M179 205q2 6 1 11M118 136q-6 6 -5 14M192 138q-2 7 -0 13M161 229q3 6 2 12M109 175q0 7 1 14M187 209q-2 4 -1 9M236 108q-0 6 -4 11M113 143q-1 4 1 8M189 202q-2 4 -0 8M205 102q2 7 1 15M235 88q-3 9 1 17M111 70q-2 9 -2 18M171 143q-2 7 -1 13M211 186q1 7 -2 14M111 161q1 7 -2 14M157 105q-4 5 -3 11M117 225q0 5 2 10M190 128q1 9 -4 17M217 90q2 5 0 10M209 166q4 8 2 17M166 139q1 9 3 17M188 63q-2 8 -0 15M179 101q1 5 0 9M157 85q-1 8 -5 15M167 165q3 5 1 11M144 61q1 5 -2 8M158 221q-1 7 3 13M186 111q-3 7 -1 14M187 174q1 7 0 13M234 85q-3 7 1 13M124 211q0 7 -1 13M174 146q-2 5 1 10M109 163q2 5 -1 10M172 97q-3 9 -2 18M155 168q1 7 2 13M172 182q-3 7 0 14M227 152q-0 6 0 11M159 220q1 4 0 9M227 168q-2 5 -2 10M109 189q-3 5 -2 11M196 158q-4 9 -1 18M92 163q2 5 1 9M144 145q-2 5 -3 11M170 224q1 8 -4 15M108 104q1 5 -2 10M222 184q0 10 -6 17M229 149q-0 8 1 15M212 175q-0 9 0 18M215 194q-2 6 1 11M195 102q0 8 -3 16M123 113q-3 9 -3 18M214 170q-1 8 -1 16M161 224q-1 6 0 11M116 205q-1 6 -0 12M119 88q4 9 -1 17M174 123q-0 4 2 8M110 122q1 8 1 16M110 221q1 9 -2 18M212 184q0 6 -1 12M141 193q3 7 0 13M90 183q3 9 -2 17M208 176q-3 9 0 18M139 99q-1 6 0 12M117 188q-5 7 -2 16M133 144q1 8 -3 15M96 82q-2 6 -0 13M217 73q0 7 -2 15M229 164q-3 7 -1 14M136 231q1 6 -3 12M165 65q0 8 -3 16M180 173q2 7 0 13M164 206q2 6 -1 11M130 76q2 9 -1 18M161 121q-0 8 1 16M215 121q0 9 3 17M92 99q-0 8 -4 15M88 197q-1 7 1 14M235 92q3 6 1 12M148 152q-1 6 -2 13M132 188q4 7 2 15M128 139q2 7 -2 13M183 187q-0 8 1 17M232 174q-3 4 -3 8M117 91q-1 9 4 16M186 167q-1 6 -1 13M158 159q0 5 -3 10M183 194q-1 6 -1 12M202 129q-1 4 -0 8M205 125q-2 5 -3 10M229 78q-2 7 -4 13M132 67q0 9 -2 17M173 208q-2 8 3 15M110 133q2 8 -2 15M132 54q0 5 1 10M164 146q0 5 -1 9M211 109q0 7 1 14M126 72q-3 6 -1 12M189 187q-1 9 0 18M103 97q-4 9 1 17M150 134q-4 6 -3 13M131 53q-4 7 -2 15M103 96q2 7 4 15M170 165q2 5 3 10M122 117q1 5 -0 9M172 68q-1 4 -1 9M150 119q-2 6 -3 11M234 125q-3 5 -3 10M183 167q0 6 2 11M113 220q-3 8 -2 16M86 156q-7 6 -6 15M181 142q2 8 2 16M144 118q-4 8 -1 16M175 207q1 4 1 9M178 59q2 7 2 14M163 104q1 4 -0 8M204 155q0 5 3 10M144 134q-4 5 -3 11M183 109q3 8 -2 16M130 181q-2 5 -1 9M162 163q-3 7 -3 15M178 88q2 5 -1 10M216 129q4 7 2 15M107 82q-3 7 -4 14M191 163q3 4 1 9M216 194q0 9 -4 17M228 128q2 6 -1 11M220 160q2 6 -1 11M143 143q4 4 3 10M115 150q-3 6 -2 13M135 190q1 5 -2 9M115 215q-1 7 -6 12M157 138q-1 6 2 11M143 186q-2 4 -4 8M146 145q3 8 -1 15M87 92q-5 5 -6 12M191 149q1 6 1 13M143 145q1 6 3 12M179 131q-1 5 -2 11M165 183q-2 6 -1 11M231 148q-0 9 -3 17M186 176q-4 9 -1 18M142 72q1 7 -3 12M102 146q-2 7 -1 14M184 136q-0 4 -2 8M202 73q5 7 2 15M89 170q2 8 1 17M130 124q2 5 0 9M86 131q-0 6 -0 12M104 148q-0 5 1 9M206 143q-2 5 -3 10M152 109q-1 5 -3 10M141 215q-1 6 1 11M159 56q-1 6 0 11M109 189q-2 5 -1 10M112 76q-2 6 -0 11M128 164q-2 4 0 9M226 100q2 6 1 12M210 158q1 4 -0 8M102 191q-3 4 -3 9M116 207q2 9 -3 16M123 215q0 4 1 8M225 104q1 4 1 9M185 82q2 8 -2 16M126 88q1 6 0 12M228 157q2 6 -2 11M164 135q-4 8 -2 17M234 159q-0 7 -3 15M224 114q-2 5 -3 10M228 133q-1 4 -1 9M220 188q-1 8 -3 15M137 221q-4 6 -2 13M208 113q0 8 2 15M216 76q2 6 3 13M111 221q-1 5 1 9M230 186q-3 7 0 13M148 75q5 7 4 17M149 100q-0 6 -0 12M121 110q-3 7 -1 13M127 157q4 7 2 14M205 140q-1 8 -2 16M210 182q1 8 2 17M98 120q-2 8 -1 16M180 159q-1 8 -1 16M229 105q-3 7 -3 15M115 228q-1 7 1 14M91 138q-4 7 -1 14M142 206q2 4 -1 8M121 132q1 4 -0 9M201 149q-0 5 3 8M181 94q-0 7 -1 14M201 134q-4 8 -4 16M116 63q0 8 -2 15M163 90q-2 4 1 9M97 144q-1 7 -3 14M112 192q-2 7 -2 14M135 125q-2 8 -2 16M214 119q-4 7 -3 16M137 157q-4 7 -1 15M187 110q1 7 -1 15M241 95q1 5 3 10M181 189q3 6 2 12M130 97q-0 5 -2 9M181 89q1 9 -2 17M174 57q1 7 -1 14M189 186q-1 5 -0 11M98 119q2 8 0 16M87 141q-0 5 -3 9M137 53q2 4 2 9M162 153q3 5 3 11M145 117q-3 6 -1 13M96 141q-1 6 2 10M88 158q0 4 -1 9M156 220q4 7 2 16M183 110q-2 4 -1 8M104 185q0 7 2 13M149 130q-3 4 -3 8M206 188q3 5 0 11M151 65q2 6 -1 11M94 105q2 5 2 11M112 108q2 5 2 11M193 80q1 4 -1 8M226 135q-0 6 1 11M170 224q-0 7 0 14M177 78q-1 6 -1 13M191 126q1 7 -3 14M187 92q0 4 1 8M211 180q4 9 -0 17M130 80q0 8 -0 17M198 188q-1 5 -1 10M142 223q0 4 0 9M152 199q-2 5 -4 11M180 112q0 6 -3 11M168 224q3 7 4 14M134 181q1 8 -2 15M92 110q-2 5 -1 10M165 117q-5 5 -3 12M108 134q3 5 1 11M171 201q-1 6 -6 10M221 181q-1 6 -3 12M175 149q1 5 -1 9M167 160q-1 9 -8 15M140 156q1 6 1 13M141 81q-5 8 -5 17M154 99q-1 8 -7 14M153 229q3 7 -1 13M114 73q-2 7 -0 15M115 67q-6 7 -5 16M191 176q-3 7 -0 13M111 203q-3 8 -5 17M189 72q0 5 1 11M224 142q2 8 2 17M91 111q-3 8 -5 16M193 126q-2 5 0 10M153 210q2 9 -3 18M111 103q-1 7 2 14M92 139q-0 5 1 10M101 109q1 7 1 13M185 81q5 8 4 17M149 161q0 9 -1 17M125 58q2 5 0 11M172 60q-1 7 -3 14M233 142q3 6 2 13M156 167q3 6 2 13M110 193q2 5 2 11M154 78q0 5 1 9M185 176q-0 5 -1 10M87 150q-3 7 -0 14M190 195q-2 4 -1 8M129 123q-0 5 -2 9M237 117q1 8 1 15M108 171q0 6 -3 12M174 194q1 7 -1 14M113 217q-2 6 -4 13M217 134q-1 4 -1 8M96 212q1 8 -3 15M204 128q-0 8 -1 15M170 109q1 7 1 15M99 139q0 7 1 13M141 138q2 5 1 10M187 81q-1 6 -0 13M135 101q3 5 0 10M166 179q-1 5 3 9M212 92q-2 6 -2 12M102 133q-3 8 -2 16M231 183q-0 5 1 10M110 223q1 7 1 15M166 211q3 8 4 17M155 210q-1 7 2 12M203 155q-3 8 -5 17M207 103q3 5 2 11M213 129q1 5 1 11M200 114q0 8 1 15M164 75q-0 5 -1 11M121 184q-3 7 -5 14M134 146q2 7 2 15M231 144q-2 8 -2 17M128 180q2 9 -2 16M124 104q-0 6 -3 10M135 135q1 5 1 9M230 98q-3 7 -1 15M185 203q-2 6 -1 12M222 94q1 5 -2 9M130 127q-2 7 -2 13M238 158q-3 7 -0 14M198 200q-1 5 -3 10M139 135q2 4 3 7M160 73q-1 6 1 12M96 188q1 6 -2 10M101 153q-3 6 -1 12M112 86q-3 7 -1 15M167 75q-1 6 -1 11M218 136q1 5 -1 10M199 130q1 5 -2 10M212 81q-0 8 1 16M96 130q1 8 5 16M158 185q0 8 -2 15M167 179q0 4 2 9M203 185q2 7 -2 14M113 131q-3 6 -2 13M211 194q2 5 1 10M88 106q-2 6 -1 12M110 99q-3 4 -3 9M178 217q-2 6 -4 11M116 186q-4 9 -1 18M178 187q2 5 0 9M148 216q-2 7 -4 14M173 83q3 5 1 10M214 81q2 9 1 18M91 96q1 5 1 10M151 213q-1 5 -3 10M226 145q0 6 -1 13M222 151q1 8 2 16M194 146q2 7 1 14M188 121q-4 6 -2 13M132 209q-2 8 -5 17M117 181q-2 6 -1 12M119 134q-1 8 2 15M158 126q-3 4 -2 9M181 213q2 9 -2 17M143 221q-3 5 -3 11M191 212q0 4 -1 8M159 221q1 10 -5 17M192 201q-3 8 -2 17M141 214q-3 5 -1 10M85 167q-1 5 -1 10M186 167q0 8 4 14M191 186q-2 7 -0 13M152 77q-3 6 -2 13" stroke="#eeeeee" stroke-width="1.1" opacity="0.6" stroke-linecap="round" fill="none" filter="url(#soft)"/>
<path d="M147 228q-6 6 -6 14M87 139q-5 1 -10 1M86 146q-6 -2 -11 -5M90 206q-4 6 -10 11M88 181q-1 3 -4 5M86 147q-7 1 -12 6M154 227q1 8 -3 15M88 137q-5 -1 -10 -5M89 125q-4 -3 -6 -7M125 228q-6 1 -9 7M119 226q2 5 -1 10M86 149q-5 2 -11 3M87 170q-9 1 -16 -3M89 127q-7 -3 -12 -8M111 224q-4 4 -9 7M87 193q-5 5 -12 5M118 226q1 4 -1 8M89 94q-6 -5 -14 -6M95 214q-3 6 -3 12M158 227q-0 8 -5 14M98 217q-0 6 2 11M122 227q0 9 -5 17M88 180q-5 3 -9 7M161 227q3 8 8 16M87 170q-6 3 -13 5M141 229q-4 2 -5 7M121 227q-1 4 1 9M87 193q-5 8 -14 10M89 203q-3 5 -7 9M92 209q-6 6 -14 8M153 227q-1 3 -1 6M86 143q-7 0 -13 6M111 224q-9 3 -11 12M88 177q-5 3 -8 7M86 145q-5 -0 -10 2M161 227q-3 5 -0 11M86 146q-6 -0 -13 1M108 223q-7 2 -9 9M85 158q-4 5 -11 4M89 97q-5 -3 -11 -6M85 155q-8 0 -13 -7M87 107q-4 -8 -14 -9M147 229q-1 5 -6 7M85 153q-3 1 -6 3M90 127q-5 3 -11 1M152 228q-4 5 -4 12M89 92q-7 -4 -11 -11M88 136q-8 -6 -17 -4M86 164q-3 2 -7 3M86 140q-6 2 -9 8M89 95q-5 -7 -13 -7M143 228q-0 3 2 6M90 118q-4 -3 -9 -1M86 147q-9 2 -16 7M90 119q-4 -1 -7 -2M88 200q-6 -3 -12 1M86 164q-7 -4 -15 -3M86 104q-5 -6 -10 -11M85 157q-5 -2 -11 -1M152 228q0 4 -2 8M121 228q5 2 6 8M161 227q-1 7 -4 15M90 93q-3 -5 -8 -5M85 105q-4 -5 -2 -11M86 163q-4 1 -6 5M97 216q0 6 -4 9M159 227q-1 5 1 10M87 138q-6 1 -11 -1M85 161q-7 5 -8 13M112 225q-7 3 -14 5M114 225q-4 6 -10 9M146 229q-3 6 -6 11M87 145q-9 1 -18 -1M87 140q-5 -1 -9 1M95 215q-3 8 -0 15M88 106q-6 -0 -10 -3M90 123q-9 -4 -18 0M89 129q-6 -2 -12 -0M91 208q-6 4 -8 10M151 229q-4 5 -9 9M157 227q-2 5 -4 11M86 164q-2 3 -6 4M144 228q-3 7 -1 14M87 139q-9 1 -18 3M87 180q-2 6 -8 10M86 148q-7 4 -14 5M144 228q-2 5 -0 10M89 130q-9 -1 -17 0M87 144q-6 3 -13 1M86 163q-7 1 -13 -3" stroke="#dcdcdc" stroke-width="1.0" opacity="0.7" stroke-linecap="round" fill="none" filter="url(#soft)"/>
<g opacity="0.95" filter="url(#bXS)"><ellipse cx="100" cy="75" rx="7.9" ry="3" fill="#0b0b0c" transform="rotate(140 100 75)"/><path d="M100.0 75.0l-6.1 6.6M100.0 75.0l3.8 -8.8M100.0 75.0l-9.1 -2.6M100.0 75.0l10.5 -3.6" stroke="#0b0b0c" stroke-width="2.5" stroke-linecap="round" fill="none"/></g>
<g opacity="0.95" filter="url(#bXS)"><ellipse cx="120" cy="58" rx="5" ry="2.6" fill="#0b0b0c" transform="rotate(30 120 58)"/><path d="M120.0 58.0l4.9 5.2M120.0 58.0l-2.6 -5.6M120.0 58.0l6.7 1.1M120.0 58.0l-1.9 -5.9" stroke="#0b0b0c" stroke-width="2.2" stroke-linecap="round" fill="none"/></g>
<g opacity="0.95" filter="url(#bXS)"><ellipse cx="200" cy="68" rx="6.5" ry="3" fill="#0b0b0c" transform="rotate(40 200 68)"/><path d="M200.0 68.0l3.3 7.7M200.0 68.0l-9.6 -0.6M200.0 68.0l5.9 5.0M200.0 68.0l-2.7 -8.8" stroke="#0b0b0c" stroke-width="2.5" stroke-linecap="round" fill="none"/></g>
<g opacity="0.95" filter="url(#bXS)"><ellipse cx="228" cy="80" rx="6.5" ry="2.6" fill="#0b0b0c" transform="rotate(70 228 80)"/><path d="M228.0 80.0l5.8 4.3M228.0 80.0l-1.0 -10.7M228.0 80.0l6.6 7.2M228.0 80.0l-8.4 0.6" stroke="#0b0b0c" stroke-width="2.2" stroke-linecap="round" fill="none"/></g>
<g opacity="0.95" filter="url(#bXS)"><ellipse cx="236" cy="130" rx="3" ry="13" fill="#0b0b0c" transform="rotate(10 236 130)"/><path d="M236.0 130.0l3.5 -2.7M236.0 130.0l-3.2 -1.5M236.0 130.0l4.3 0.1M236.0 130.0l-2.2 2.9" stroke="#0b0b0c" stroke-width="10.9" stroke-linecap="round" fill="none"/></g>
<g opacity="0.95" filter="url(#bXS)"><ellipse cx="225" cy="165" rx="6.5" ry="2.6" fill="#0b0b0c" transform="rotate(50 225 165)"/><path d="M225.0 165.0l5.2 5.2M225.0 165.0l-3.0 -6.7M225.0 165.0l4.2 6.0M225.0 165.0l-7.5 -3.4" stroke="#0b0b0c" stroke-width="2.2" stroke-linecap="round" fill="none"/></g>
<g opacity="0.95" filter="url(#bXS)"><ellipse cx="240" cy="170" rx="4.3" ry="5" fill="#0b0b0c" transform="rotate(80 240 170)"/><path d="M240.0 170.0l6.7 1.2M240.0 170.0l-0.3 -5.4M240.0 170.0l-3.1 6.3M240.0 170.0l-0.5 -5.7" stroke="#0b0b0c" stroke-width="4.2" stroke-linecap="round" fill="none"/></g>
<g opacity="0.95" filter="url(#bXS)"><ellipse cx="95" cy="145" rx="6.5" ry="2.6" fill="#0b0b0c" transform="rotate(140 95 145)"/><path d="M95.0 145.0l-9.2 1.3M95.0 145.0l4.9 -5.7M95.0 145.0l-5.1 5.4M95.0 145.0l7.6 0.1" stroke="#0b0b0c" stroke-width="2.2" stroke-linecap="round" fill="none"/></g>
<g opacity="0.95" filter="url(#bXS)"><ellipse cx="98" cy="228" rx="5" ry="2.6" fill="#0b0b0c" transform="rotate(70 98 228)"/><path d="M98.0 228.0l3.7 6.1M98.0 228.0l-3.8 -4.3M98.0 228.0l3.1 5.9M98.0 228.0l-1.1 -6.3" stroke="#0b0b0c" stroke-width="2.2" stroke-linecap="round" fill="none"/></g>
<g opacity="0.95" filter="url(#bXS)"><ellipse cx="110" cy="232" rx="5" ry="2.6" fill="#0b0b0c" transform="rotate(80 110 232)"/><path d="M110.0 232.0l3.8 5.6M110.0 232.0l4.2 -6.6M110.0 232.0l1.9 6.0M110.0 232.0l4.3 -6.9" stroke="#0b0b0c" stroke-width="2.2" stroke-linecap="round" fill="none"/></g>
<g opacity="0.95" filter="url(#bXS)"><ellipse cx="155" cy="233" rx="6.5" ry="2.6" fill="#0b0b0c" transform="rotate(60 155 233)"/><path d="M155.0 233.0l5.4 7.4M155.0 233.0l-1.5 -7.4M155.0 233.0l-0.2 8.4M155.0 233.0l-3.0 -9.7" stroke="#0b0b0c" stroke-width="2.2" stroke-linecap="round" fill="none"/></g>
<g opacity="0.95" filter="url(#bXS)"><ellipse cx="185" cy="213" rx="6.5" ry="2.6" fill="#0b0b0c" transform="rotate(160 185 213)"/><path d="M185.0 213.0l-9.5 1.8M185.0 213.0l8.2 -5.7M185.0 213.0l-8.9 -1.2M185.0 213.0l10.3 -1.7" stroke="#0b0b0c" stroke-width="2.2" stroke-linecap="round" fill="none"/></g>
<g opacity="0.95" filter="url(#bXS)"><ellipse cx="205" cy="207" rx="5" ry="2.6" fill="#0b0b0c" transform="rotate(30 205 207)"/><path d="M205.0 207.0l4.1 6.3M205.0 207.0l-4.0 -4.1M205.0 207.0l6.1 0.2M205.0 207.0l-6.4 -4.9" stroke="#0b0b0c" stroke-width="2.2" stroke-linecap="round" fill="none"/></g>
<g opacity="0.95" filter="url(#bXS)"><ellipse cx="94" cy="110" rx="4.3" ry="2.6" fill="#0b0b0c" transform="rotate(160 94 110)"/><path d="M94.0 110.0l-4.8 1.5M94.0 110.0l3.1 -4.0M94.0 110.0l-4.4 4.8M94.0 110.0l6.0 -3.5" stroke="#0b0b0c" stroke-width="2.2" stroke-linecap="round" fill="none"/></g>
</g></g>
<g transform="translate(323 1215.4) scale(0.9990 0.9920)"><g clip-path="url(#cp300)" style="isolation:isolate">
<rect width="300" height="300" fill="#46403e"/>
<rect x="-30" y="-20" width="75" height="340" fill="#1d2123" opacity="0.95" filter="url(#bM)"/>
<rect x="262" y="-20" width="60" height="340" fill="#25292b" opacity="0.9" filter="url(#bM)"/>
<ellipse cx="30" cy="40" rx="60" ry="50" fill="#1f2224" opacity="0.8" filter="url(#bL)"/>
<ellipse cx="250" cy="40" rx="60" ry="40" fill="#2e3032" opacity="0.7" filter="url(#bL)"/>
<ellipse cx="140" cy="50" rx="70" ry="35" fill="#5c5452" opacity="0.8" filter="url(#bL)"/>
<ellipse cx="130" cy="250" rx="40" ry="60" fill="#59514f" opacity="0.7" filter="url(#bL)"/>
<ellipse cx="210" cy="150" rx="35" ry="70" fill="#524a48" opacity="0.6" filter="url(#bL)"/>
<ellipse cx="100" cy="140" rx="30" ry="50" fill="#3e3836" opacity="0.5" filter="url(#bL)"/>
<path d="M78 206q2 6 1 13M44 68q7 9 6 19M159 64q-1 11 1 22M4 83q-3 5 -3 12M243 242q-5 11 -4 23M77 255q-0 9 4 16M169 129q3 7 1 14M246 239q-4 11 -4 23M166 225q1 8 -3 16M61 157q-1 7 -3 13M182 119q1 7 -2 13M58 110q-2 5 -2 11M286 117q2 5 1 11M242 251q7 8 7 18M124 260q-4 6 -3 12M112 215q-2 6 2 12M181 217q-2 9 -2 18M108 218q-1 8 -4 14M49 205q-1 5 -1 11M167 163q-0 5 -1 10M103 28q-3 5 -7 9M81 179q-0 6 -0 11M110 250q-6 8 -3 17M155 142q2 10 -1 19M10 150q-3 6 -4 13M255 78q2 9 2 18M73 86q0 5 -1 11M26 227q3 10 -3 18M232 57q3 7 3 14M130 41q4 11 -1 22M247 65q2 5 0 10M108 133q-8 10 -4 22M13 161q-5 6 -4 14M164 38q-0 5 -3 10M260 45q-1 8 2 15M64 216q-5 9 -1 19M156 276q-1 10 4 18M269 35q-1 6 -1 12M244 160q4 7 2 14M16 9q-1 11 -9 18M215 260q-4 7 -6 15M250 215q-2 7 -0 14M33 93q-3 6 -3 13M135 1q1 5 -0 10M100 281q1 11 -1 22M298 229q-1 9 -6 16M138 271q1 8 1 15M57 172q-2 5 -0 10M54 31q1 11 2 22M156 250q-1 7 1 13M195 129q3 11 -1 22M252 46q-0 5 -0 11M278 77q1 7 3 13M3 135q1 10 -1 21M66 15q-2 11 1 23M30 274q-2 12 3 23M249 204q2 9 0 18M40 218q6 8 4 18M193 183q4 10 6 21M244 150q1 9 -0 18M280 133q-6 9 -4 19M205 113q0 6 0 11M124 244q-0 8 -2 16M169 225q4 4 5 10M44 97q-2 7 2 13M88 61q-1 13 -11 21M34 39q1 7 -2 13M5 209q1 5 -1 11M170 265q-2 10 2 20M256 47q0 5 2 11M156 156q0 10 -1 20M126 73q0 7 1 14M166 272q-1 6 0 11M48 257q-1 12 -7 22M242 66q3 8 -0 16M211 173q-3 8 -2 16M70 100q4 11 -0 22M30 239q0 11 -1 21M126 42q1 7 -3 13M272 6q-2 7 -0 15M224 32q-4 9 -0 19M240 180q2 10 4 20M165 245q-1 5 1 10M102 129q0 7 1 14M120 250q2 10 3 21M161 225q-1 10 2 20M267 167q1 7 1 13M150 270q1 5 0 11M222 138q-0 10 -2 21M170 17q-2 8 1 16M221 169q1 10 0 20M217 184q-3 8 -1 16M40 288q-3 8 -8 17M281 154q1 9 -5 16M239 192q-4 8 -1 16M261 140q-2 5 -1 10M61 219q1 6 5 11M216 5q2 9 -1 18M209 288q3 9 1 18M140 35q6 9 3 20M158 54q-1 5 0 10M216 266q-5 10 -0 19M43 189q2 6 1 12M157 236q-0 10 1 20M23 217q3 9 1 19M93 135q4 10 -0 21M133 71q-1 7 2 14M139 65q2 7 4 13M242 181q-2 9 -6 17M72 132q2 10 -1 20M42 264q5 11 1 22M109 186q-4 9 -1 19M53 171q-1 10 -4 20M215 287q-1 8 2 15M103 266q-2 11 -1 22M285 47q7 7 6 17M175 206q3 8 1 16M58 173q1 8 -5 14M92 292q5 7 4 16M184 63q-1 6 -1 12M203 3q1 6 -1 12M239 223q1 10 -0 20M274 40q-2 6 -1 12M231 202q-3 7 -0 13M155 62q-1 5 -5 10M107 268q-7 9 -7 20M189 3q-6 12 -0 23M20 219q3 6 1 13M262 133q1 5 0 11M195 259q-4 5 -3 11M32 62q-1 6 0 11M120 57q2 9 -2 17M204 289q2 8 2 15M124 54q-2 7 -1 14M144 20q-4 7 -4 15M185 188q-3 7 -4 14M124 155q-3 6 -1 13M278 244q4 11 -0 22M216 37q-1 8 -2 17M62 170q2 11 3 22M132 110q-6 10 -2 22M112 86q-4 7 -2 15M79 55q2 6 0 12M195 279q1 7 -1 14M176 9q-1 8 -4 16M125 6q1 7 -2 13M72 21q2 8 -1 16M61 228q-5 12 0 23M99 162q-1 8 1 16M120 235q1 8 -1 16M269 171q-1 8 -0 17M141 258q-4 9 -8 18M110 232q-2 11 -3 22M125 95q4 6 2 14M277 166q-3 8 -2 16M257 228q-0 7 -1 14M284 116q-0 8 0 17M273 288q2 10 0 21M262 275q-0 9 -3 17M72 235q-1 6 -2 13M6 139q-3 6 -1 11M274 152q1 7 -0 14M220 174q2 5 3 11M263 274q-3 8 -2 17M265 156q1 10 -2 19M158 13q1 12 -2 23M190 187q2 9 1 18M23 53q-3 5 -1 10M61 276q4 7 5 16M25 186q1 10 5 19M273 30q5 11 3 23M279 8q3 9 3 18M156 52q2 8 2 16M65 51q-5 8 -2 16M255 45q-3 7 1 15M102 31q-0 9 1 18M153 284q0 6 2 13M223 151q2 8 -0 15M254 298q4 7 3 14M17 185q-1 12 3 23M202 258q-1 7 2 14M207 157q-6 10 -3 21M14 66q2 6 3 13M199 88q3 10 -2 19M124 192q-3 9 -3 19M194 135q4 7 2 14M266 233q3 7 2 14M160 140q-1 10 4 19M118 112q-0 9 1 18M268 276q-1 6 3 10M29 165q6 5 6 12M288 137q0 8 -0 16M83 9q-3 9 2 17M295 92q3 7 0 15M182 54q-6 7 -5 17M64 53q-4 8 -6 17M53 151q2 7 2 14M33 30q-2 5 1 11M75 202q-3 4 -3 10M159 272q2 12 -6 22M15 75q-3 5 -4 11M284 211q-3 12 -3 24M117 292q-1 8 -1 16M89 288q-5 11 -6 23M149 285q3 12 -2 22M28 76q0 8 -0 15M286 45q-2 6 1 12M275 104q2 11 3 22M202 278q1 5 1 11M174 82q5 9 2 18M76 144q3 6 3 13M220 85q-1 6 -1 12M105 177q-9 7 -10 19M238 108q5 11 1 23M63 152q1 9 -4 17M223 25q0 9 -3 17M281 43q-1 7 3 14M34 23q-1 5 -2 10M144 161q4 5 4 12M74 250q3 11 -2 21M0 297q2 9 -3 17M153 52q3 10 -0 20M169 99q-0 10 7 16M216 68q-3 7 -1 13M233 43q-4 9 -2 18M275 52q2 6 1 12M182 290q2 11 3 21M113 239q-1 10 4 18M299 140q2 9 0 18M95 152q-3 10 -2 20M138 195q-1 10 5 19M72 255q-0 5 3 10M4 183q4 10 -0 20M204 25q-0 6 -2 13M171 198q3 5 2 10M118 184q-6 8 -6 18M105 192q1 8 0 15M180 159q2 6 1 12M98 26q2 10 -2 20M176 10q4 6 4 12M179 175q-1 9 1 17M262 111q-3 8 -0 16M14 181q1 11 -6 19M13 282q-2 7 -3 14M174 115q-1 7 -4 14M240 281q-0 7 -3 14M233 135q0 5 -2 11M270 174q-3 12 2 24M204 54q2 7 0 15M281 47q3 8 -1 15M46 209q-1 11 3 21M64 224q-2 10 -3 19M150 275q-1 11 0 22M80 232q-3 12 0 23M143 248q-1 8 -1 16M193 197q1 9 -1 17M220 167q-3 8 -1 16M211 296q-3 10 -5 20M201 88q3 5 6 10M129 214q-0 6 2 13M34 289q-3 10 -5 20M81 109q-1 11 -3 22M169 287q-0 10 5 18M187 40q1 7 -1 13M66 177q-2 5 1 10M146 63q3 10 -2 19M44 283q-1 6 1 12M72 98q-0 7 2 14M73 16q2 6 -2 12M273 153q-2 9 3 17M7 32q-1 6 -1 12M238 120q1 11 -6 18M145 112q-3 10 1 19M280 244q-3 10 3 20M129 6q-4 7 -1 15M120 40q7 11 3 22M16 210q0 5 -2 10M119 188q-5 9 -6 20M58 256q-3 5 -2 10M142 132q2 12 -2 23M196 209q-4 7 -4 14M226 101q-1 8 -3 15M30 170q-0 8 1 16M192 229q-0 11 8 18M253 289q1 6 2 12M154 107q-6 11 -3 23M246 90q2 8 4 15M58 282q2 9 3 18M258 81q2 11 3 22M284 247q-0 6 0 12M147 46q-3 11 -6 23M43 196q5 10 4 21M228 145q-1 11 7 19M232 249q-4 5 -5 12M30 230q-4 9 1 18M205 89q-2 12 3 23M91 125q2 11 2 22M283 92q0 8 -3 15M236 33q1 11 -4 20M127 18q-7 9 -7 21M12 235q-3 6 -0 12M89 166q-7 6 -9 15M106 235q-0 5 -1 11M66 299q-1 8 3 15M125 78q-1 6 -2 11M159 286q1 12 -6 21M107 129q2 10 -1 20M182 109q-2 6 1 12M252 108q1 7 1 15M36 276q1 8 -2 16M78 48q3 10 3 21M65 51q3 10 -1 20M46 25q3 10 3 20M253 73q-2 8 0 15M261 242q-3 8 1 16M100 124q1 10 3 19M272 99q-3 5 -2 12M210 279q-1 9 4 17M161 270q3 11 -1 22M153 103q2 8 1 16M91 222q3 6 2 12M207 122q-5 8 -3 18M27 78q2 11 -4 21M129 256q-0 12 5 23M291 103q0 6 2 12M94 157q4 10 7 21M36 153q3 10 2 21M143 167q-2 5 0 10M188 84q-3 9 -5 18M207 67q5 8 2 16M16 180q1 10 6 18M201 119q4 10 1 20M291 185q3 8 4 16M189 290q-5 9 -2 18M117 288q-4 5 -3 11M169 138q0 11 2 21M249 170q-2 6 -3 13M68 21q-3 8 -7 16M32 250q2 6 2 12M222 184q2 8 1 15M271 144q-3 9 -2 19M81 138q1 8 -4 14M144 193q1 7 5 13M246 218q-3 6 -0 12M55 10q3 7 1 15M242 11q-3 7 1 14M38 210q4 9 2 19M249 254q5 9 2 20M98 48q-5 10 -1 21M278 68q4 11 -1 22M130 224q2 9 2 18M253 247q-2 5 -1 11M64 64q-7 7 -8 16M178 76q-1 9 0 17M33 98q2 6 -1 11M293 38q-0 11 5 22M88 82q-3 6 1 13M149 252q2 11 -2 21M224 243q-2 8 -3 15M168 137q-7 11 -3 22M142 266q-2 5 -1 11M176 207q-4 6 -6 13M137 68q-2 13 5 23M209 141q1 10 -3 20M110 246q3 5 -0 11M216 16q-0 11 -2 21M154 112q-1 10 -1 19M81 167q2 8 4 16M291 165q-4 8 -2 16M73 231q4 10 3 20M53 262q1 7 -2 12M169 70q-0 5 1 11M266 23q2 7 -1 13M140 90q2 8 -0 17M154 213q-2 10 1 20M224 299q-2 7 -2 15M176 124q2 8 2 15M236 189q-5 11 -2 22M94 73q3 5 4 11M148 29q-4 11 1 22M97 237q1 10 -1 19M112 245q-3 10 -2 20M261 96q0 9 -4 18M137 233q5 11 6 22M196 272q2 9 -2 17M233 231q1 12 0 23M215 7q-1 9 -1 18M170 169q2 10 -4 19M239 12q-3 5 -3 10M113 164q-2 11 -1 23M231 63q1 6 2 13M108 113q-1 5 -1 10M112 73q-4 6 -3 13M240 18q3 5 2 11M274 217q2 12 5 23M11 62q-0 7 1 13M82 192q0 6 -4 11M228 4q-1 6 -1 11M256 1q-3 7 -3 14M96 82q2 10 -4 19M268 53q-1 11 0 22M30 123q1 6 4 12M3 51q-2 11 1 22M260 158q-1 8 3 15M44 13q2 8 0 15M53 228q-1 7 -5 12M212 213q1 10 1 19M278 198q1 6 -4 10M213 183q0 6 -4 11M85 187q-7 8 -5 19M79 11q0 11 -2 22M125 152q3 12 -3 22M114 63q0 6 -1 11M263 276q-3 9 -8 18M149 204q-8 7 -8 17M127 142q-4 11 -1 22M245 178q-2 10 -5 20M180 245q-1 7 -1 14M262 291q-2 9 -1 19M249 264q1 8 -0 17M28 250q2 8 -0 15M100 202q5 5 4 13M131 104q6 11 4 24M275 295q0 10 1 19M97 289q7 8 7 18M147 108q2 8 -1 16M134 89q0 7 -0 14M39 46q1 13 -8 22M182 48q1 9 5 18M156 283q2 8 1 16M89 271q-1 10 1 19M85 270q1 11 6 21M291 228q-6 8 -5 19M143 8q-3 6 -5 14M40 12q1 10 -3 19M61 239q-0 7 0 13M135 98q-1 9 -5 18M21 234q-0 13 9 21M18 222q-4 10 -3 21M59 184q0 9 -3 18M277 226q1 9 -1 18M176 230q-2 8 -1 17M280 225q3 12 6 23M236 159q-2 5 -1 11M44 275q3 12 -4 23M236 278q2 7 3 14M17 218q-4 8 -5 17M216 293q-4 9 -1 19M26 154q-1 7 3 14M169 274q4 6 6 14M257 182q3 11 2 21M18 264q6 9 3 18M288 277q-2 11 2 20M255 173q-5 11 0 21M211 126q-5 8 -2 18M33 184q-0 11 -3 22M130 230q3 7 -0 15M281 127q4 11 -1 22M108 208q3 8 -3 16M98 292q2 9 -3 16M206 101q4 5 4 12M110 153q-0 9 -2 17M266 234q-1 8 -1 15M131 118q4 10 5 20M122 38q2 11 -2 22M193 153q1 5 -2 10M99 204q-0 7 -1 13M21 232q-4 8 -2 16M240 289q-2 8 -5 16M235 5q-4 6 -4 14M6 235q1 6 -0 11M199 275q5 10 -0 20M186 156q-0 11 3 22M289 55q2 8 -1 15M69 48q-1 11 1 21M46 110q-2 11 2 22M9 286q2 9 7 17M97 49q-1 10 -4 20M137 187q-5 10 -2 21M34 35q-5 11 1 22M187 239q1 12 -5 23M125 40q3 8 -1 15M242 57q0 9 -2 17M99 29q-3 5 0 10M185 47q-1 9 -3 18M66 125q0 6 -0 11M12 123q1 7 -4 13M262 272q1 9 -4 16M139 295q-3 6 0 13M145 151q-1 9 -0 18M185 123q-4 7 -3 15M108 292q-1 6 -1 12M286 201q1 12 -5 22M79 261q2 11 -1 21M205 152q-2 5 -1 11M257 135q5 10 0 19M109 60q4 11 -2 22M214 46q-3 9 -4 18M128 12q0 6 3 12M257 105q-0 6 -3 11" stroke="#6c6260" stroke-width="1.4" opacity="0.25" stroke-linecap="round" fill="none" filter="url(#soft2)"/>
<path d="M32 211q3 6 3 13M220 198q1 7 4 14M119 233q0 11 -3 22M78 241q2 10 -2 19M165 199q-0 6 -2 12M25 61q-2 12 -6 23M297 132q6 9 5 19M177 190q4 6 2 12M262 154q-3 6 -1 13M150 31q2 11 -5 21M84 8q3 9 -0 17M144 206q1 9 1 17M145 131q3 8 1 17M260 282q2 5 0 11M211 171q-3 11 -7 22M104 171q2 12 -1 23M91 57q2 7 2 14M10 94q0 12 3 24M85 281q2 5 1 10M60 69q1 11 -3 22M75 181q-0 10 -3 20M168 179q-2 12 1 23M152 252q1 12 2 23M232 94q-3 11 -4 23M74 280q4 6 2 14M60 208q1 6 -1 12M134 163q2 6 3 13M128 39q1 7 -3 13M218 44q-1 10 1 19M106 280q0 10 2 19M14 122q-4 11 -0 23M19 204q-3 11 -5 22M29 260q1 12 9 20M279 20q-1 11 -5 20M41 114q-2 8 -0 16M149 158q-3 7 -0 14M74 204q3 12 -1 24M297 278q-4 11 -1 23M119 134q3 5 2 10M287 242q-8 8 -7 18M157 251q2 5 4 10M173 238q-3 8 -3 16M290 126q-0 11 -1 22M116 156q1 6 -1 12M71 77q-3 5 -1 11M167 8q-1 10 1 19M195 232q-0 10 2 20M211 55q-2 7 -1 15M115 181q2 7 4 14M249 93q-1 6 -1 12M40 257q3 9 1 17M156 205q-4 7 -7 15M111 288q-1 5 -2 10M20 40q-6 8 -6 17M93 121q3 7 3 15M256 167q-3 7 -1 15M300 130q2 12 -4 22M60 238q-2 6 -1 12M68 116q1 10 1 21M231 229q-2 6 0 11M246 73q-2 9 1 17M113 160q-2 6 0 12M188 249q-2 5 -3 11M69 270q-1 6 -2 11M141 116q-2 12 -6 23M270 102q-1 7 -2 14M292 234q4 8 0 16M19 113q3 7 0 13M154 235q-1 8 -6 15M289 127q-1 8 2 15M167 286q-2 6 1 12M162 209q4 6 5 13M89 51q-2 7 -2 13M61 64q2 7 -0 14M3 222q-0 11 1 23M66 290q-1 7 1 13M245 1q-5 8 -2 17M135 72q-1 6 1 11M136 213q-2 13 7 22M151 273q5 6 5 13M192 9q0 8 -3 16M97 161q5 11 -0 21M103 74q-5 7 -3 16M116 115q2 8 0 16M211 86q-0 11 4 20M144 285q-5 12 -0 23M214 136q-0 9 3 16M116 110q-3 5 -3 10M87 148q-2 12 1 23M70 279q2 5 3 10M278 254q4 5 3 12M89 279q2 5 2 10M152 62q-3 5 -1 11M4 67q-3 8 1 16M101 171q4 11 -2 21M162 6q7 10 4 21M28 129q4 10 -0 19M97 13q-3 10 -0 20M231 97q-5 11 -1 21M124 264q-7 7 -9 17M154 235q5 8 2 17M202 100q-2 6 -0 13M158 95q-3 7 -6 15M0 107q2 12 4 23M298 9q-2 5 -1 11M296 228q1 9 -1 18M115 39q0 11 1 21M113 256q-3 7 -1 14M215 188q-3 12 4 22M168 288q-2 7 2 13M265 191q-1 8 -5 15M285 26q-0 10 -5 18M261 65q-4 8 -3 16M84 88q-1 7 -2 14M40 168q-1 7 -2 13M28 141q7 9 4 20M194 276q3 10 -0 20M81 185q1 9 -3 17M59 147q-1 10 -2 19M83 124q5 10 1 21M164 144q-0 6 -2 12M9 170q-5 10 -3 21M280 76q-1 10 -2 20M223 120q2 12 3 23M240 54q1 8 -0 16M200 173q-2 7 1 14M12 143q-3 6 -1 13M7 216q-4 9 -2 18M255 37q1 6 -1 12M210 173q3 10 0 20M142 98q-2 10 -5 19M35 29q-1 7 0 13M61 144q0 8 0 15M275 234q1 8 -2 16M72 106q4 4 5 10M119 170q3 5 1 11M166 5q-5 8 -2 16M145 284q4 6 3 13M125 159q2 10 0 20M284 239q5 10 1 21M18 10q3 6 0 12M298 140q2 7 -1 14M84 32q3 11 -3 21M182 256q1 8 5 15M4 156q-3 6 -0 11M243 85q5 9 3 20M185 213q2 11 3 21M21 46q-1 6 1 12M19 290q-5 12 1 23M70 169q2 7 0 13M23 266q1 6 -1 12M284 63q2 7 -2 12M212 31q-1 7 -3 14M241 146q-0 8 5 14M300 71q1 11 -1 22M296 8q1 6 0 13M151 232q2 7 -1 13M284 155q1 6 -1 13M79 136q-1 7 1 13M274 226q-1 5 -3 11M246 21q2 6 -1 11M258 8q-1 8 0 17M145 298q3 8 -0 16M268 68q0 10 -0 19M131 161q-3 9 -0 18M245 29q-1 11 -6 21M292 172q-1 9 -2 18M116 176q-5 8 -4 17M103 137q-4 4 -3 10M155 171q-1 8 -1 15M30 47q1 8 2 17M294 195q-1 5 0 10M96 55q3 10 5 21M258 155q-3 5 -4 11M259 204q2 6 0 12M20 289q-2 10 -5 20M205 209q1 8 2 17M114 67q-2 9 -1 18M69 39q-4 10 -1 20M218 117q5 8 9 16M293 33q-1 7 -2 14M283 264q-2 10 -1 21M226 92q-1 6 -3 13M230 294q-3 6 -1 12M70 155q-4 7 -2 15M51 247q-1 13 5 23M35 117q1 8 -3 15M138 250q1 10 -2 19M36 34q2 9 -1 18M210 26q1 8 2 17M153 63q4 6 2 13M83 102q9 8 8 20M13 160q2 10 2 20M290 65q3 9 -1 17M31 286q-4 8 -4 16M68 55q3 6 2 13M119 151q-3 11 -0 21M76 169q-2 5 -2 11M186 54q1 12 -4 23M46 233q5 10 4 20M133 53q4 6 6 12M260 296q-2 8 -2 17M152 211q-3 8 -6 17M256 203q7 11 4 23M221 240q-4 7 -0 15M228 102q4 11 -1 22M221 166q-0 8 -3 15M132 139q0 6 -0 13M16 188q-5 8 -2 16M251 206q-3 9 2 18M142 186q-3 8 -2 16M214 210q2 8 1 16M231 216q0 5 1 11M272 260q1 10 -0 20M261 264q3 7 1 15M147 67q-8 10 -5 23M77 50q-3 7 -2 14M299 103q-0 12 -9 20M13 202q-2 9 0 17M133 165q3 11 -3 20M152 11q-3 6 -1 12M6 145q2 6 -1 11M278 151q-4 8 -3 18M2 63q-3 10 3 19M58 119q5 10 1 20M73 203q0 10 4 20M241 241q1 6 -2 11M218 116q5 11 -1 22M136 293q-2 11 3 22M97 134q-3 10 -5 20M128 284q-1 7 -0 15M227 267q-3 10 -6 20M174 206q2 5 -0 10M288 192q3 5 4 11M42 94q-1 6 -3 12M17 119q-2 7 -3 13M79 65q7 11 5 23M222 17q-5 6 -5 13M218 209q0 5 2 11M192 112q1 6 -0 12M241 27q4 10 5 20M206 64q0 7 2 14M33 154q-2 5 -0 11M239 290q-2 6 0 12M170 166q2 7 -1 13M211 29q-3 5 -2 11M248 30q1 7 1 15M85 102q-2 8 -1 16M60 50q3 6 2 13M245 241q-1 6 -1 12M132 19q-4 4 -7 9M211 225q0 11 -7 19M114 33q-0 7 0 13M74 110q3 6 4 12M45 4q1 9 4 18M140 51q1 7 -3 13M181 48q2 10 -0 20M49 137q-2 7 0 13M197 137q3 9 5 18M167 131q-3 10 1 19M231 286q-3 6 -1 12M112 148q-0 8 -1 16M201 187q-0 11 -2 22M138 87q-1 8 -4 15M56 181q-2 5 -2 10M129 114q-4 11 -2 22M74 190q-0 6 -0 11M192 77q0 8 -3 15M205 277q-1 11 -5 21M93 267q-0 12 5 23M76 19q4 11 0 22M84 33q4 10 1 21M51 107q0 11 -2 23M75 52q4 11 -2 20M153 131q7 11 3 23M227 45q2 5 0 11M82 145q-2 6 -0 12M270 86q-3 10 -3 20M255 275q1 8 1 16M20 89q-1 6 0 11M71 47q2 10 0 20M114 10q-3 8 -4 16M166 190q3 11 6 21M256 49q-2 6 1 13M98 113q2 11 -4 20M87 15q1 8 -3 16M176 204q-0 12 4 23M31 233q-4 8 -2 16M43 143q-8 9 -7 20M259 200q-1 5 0 11M148 24q-0 5 -3 10M242 289q-5 5 -4 13M183 135q5 8 3 18M247 120q2 8 -1 15M58 176q-5 10 -3 20M165 264q-1 11 1 23M233 135q1 8 -3 16M63 126q-8 11 -4 23M50 253q-2 11 0 22M261 31q1 9 -3 16M222 10q1 10 4 19M300 54q1 9 -3 17M83 192q1 6 1 11M167 194q3 9 1 19M174 200q-3 6 1 12M288 299q-1 5 -4 10M28 217q7 9 4 20M256 285q3 9 2 18M285 162q-3 11 -5 23M74 5q2 6 1 11M91 274q-1 9 -2 18M134 9q0 6 -2 12M258 191q-4 12 -1 24M131 288q2 8 1 17M218 46q-2 11 0 23M261 267q-0 10 2 19M68 230q1 5 -1 10M178 196q7 10 3 22M197 82q1 8 1 16M198 254q-2 12 -7 22M140 40q2 8 0 17M195 255q-1 7 -4 14M170 284q2 8 1 16M117 167q2 8 1 16M57 65q-2 7 1 13M52 257q1 9 -0 18M114 42q-3 8 -1 17M177 115q-2 10 2 19M153 135q-0 11 1 21M47 47q-4 11 0 21M119 4q-1 12 -2 24M266 62q-1 9 -0 17M263 296q-4 5 -3 11M291 138q-1 8 -4 16M166 92q5 10 0 20M33 21q3 9 -2 18M47 177q-5 10 -3 21M260 164q6 8 5 18M10 246q5 10 5 20M222 50q-4 12 -2 24M34 41q-1 11 2 21M281 63q-2 6 1 11M187 81q1 9 -0 19M84 164q-1 10 -2 19M108 262q6 9 4 20M255 75q0 9 3 17M298 225q-0 7 1 14M186 258q-4 11 1 22M211 278q-2 9 -2 18M217 175q0 6 2 12M86 47q-5 11 -2 23M213 45q4 6 2 13M292 193q-2 11 2 21M215 219q1 6 -3 11M39 144q2 11 -2 21M134 253q-1 6 -3 12M233 14q4 9 1 18M137 10q-3 9 -1 18M79 84q3 6 2 13M110 288q0 7 -0 14M48 195q2 6 -1 13M66 23q4 9 7 18M289 44q3 8 0 16M110 140q-0 5 -1 10M67 26q-0 11 1 22M281 67q-1 5 -2 10M169 86q-3 10 -1 19M15 208q1 11 -1 22M290 282q0 5 -1 11M31 277q1 9 1 17M138 11q0 6 -1 11M257 284q1 11 5 22M125 290q-1 6 1 11M125 263q0 11 -3 21M167 170q-3 7 -2 14M96 53q-7 10 -4 22M253 53q-3 7 -0 14M227 98q-6 11 -2 22M23 20q-0 12 -7 22M240 236q-1 9 1 17M14 65q4 5 4 12M223 100q-2 11 3 21M69 125q-2 7 -2 13M1 219q-2 6 -1 12M177 270q-6 8 -7 18M128 113q-3 9 0 17M102 164q3 10 0 19M222 28q5 10 -1 21M37 45q-2 6 0 13M55 106q3 9 3 19M177 192q-0 8 -2 16M277 113q2 5 0 10M45 265q-1 7 -3 14M87 247q-2 8 4 15M28 129q3 8 -1 16M159 208q2 8 3 16M152 288q-5 5 -5 12M105 130q-6 10 -9 22M32 232q1 7 -1 14M256 214q-0 12 -2 24M278 177q-6 10 -2 22M2 34q-0 10 -1 21M78 13q4 9 3 18M294 217q2 5 1 11M65 7q3 7 4 15M117 282q0 7 1 15M203 130q2 10 -3 20M92 223q-3 12 2 23M13 189q-2 9 1 18M146 102q2 9 -2 18M85 220q1 10 -2 20M77 97q-2 8 2 16M150 126q-2 5 -2 11M278 133q-1 11 -1 21M143 216q5 9 2 19M147 251q-1 5 -1 10M88 63q-1 9 -3 19M192 164q3 6 1 12M263 56q5 11 3 22M235 280q2 11 3 22M178 206q-2 6 -1 11M191 76q-0 7 -1 14M215 271q1 12 -2 24M28 153q-1 8 -2 15M95 70q3 9 -0 17M198 257q5 11 9 22M227 196q-1 5 -3 11M129 79q-4 10 -1 20M91 287q-1 10 3 19M147 69q-3 7 -1 14M200 241q2 7 -1 13M160 290q2 8 4 17M228 100q1 6 0 13M167 51q-1 7 -3 15M170 150q2 7 3 14M284 134q1 5 3 10M161 15q-2 11 -0 22M185 104q1 5 -0 11M157 216q-1 5 2 10M94 156q1 7 2 14M108 112q5 7 4 15M136 125q3 5 1 11M90 48q-2 8 0 15M224 175q1 9 -2 17M290 107q5 9 5 19M73 194q6 9 3 19M223 108q2 7 -1 14M55 292q-1 5 -0 10M172 264q1 12 -3 22M131 286q4 8 3 18" stroke="#1a1b1c" stroke-width="1.4" opacity="0.3" stroke-linecap="round" fill="none" filter="url(#soft2)"/>
<path d="M290 3q17 -1 28 11M277 153q9 2 17 5M6 42q9 9 21 14M266 30q8 3 11 11M284 106q13 3 25 11M271 101q11 2 18 11M272 239q11 2 21 7M12 268q15 1 27 12M293 13q9 7 17 15M25 3q8 6 17 10M268 268q8 5 15 12M18 52q11 9 25 11M32 251q15 -2 27 7M29 103q12 5 24 8M1 235q11 9 23 14M18 275q8 10 21 15M30 194q11 9 24 12M277 293q5 9 14 11M7 100q8 11 22 12M9 135q9 6 20 7M286 135q12 -1 23 -2M270 36q11 9 25 13M277 46q7 6 16 5M299 197q13 2 26 8M294 113q8 1 15 6M279 114q6 5 13 5M266 252q6 5 14 4M42 104q13 9 28 7M290 14q10 7 22 7M290 277q12 7 25 11M279 257q11 8 25 8M33 82q3 8 12 12M283 31q7 3 15 5M41 194q9 9 22 11M300 264q10 0 18 7M21 300q9 0 16 8M5 239q7 5 16 3M296 144q9 2 19 3M273 236q9 4 15 11M20 45q9 5 18 8M285 66q14 2 27 6M3 291q5 6 13 8M9 90q13 -2 27 0M2 226q10 10 24 9M40 201q13 5 27 3M296 181q15 -3 28 4M290 183q8 2 14 7M283 222q12 9 28 11M40 2q7 5 14 5M15 173q12 8 18 21M277 96q5 6 12 8M22 174q5 7 13 12M42 76q8 9 20 11M277 105q9 5 18 10M278 41q14 7 29 4M267 131q9 3 15 10M32 232q13 8 27 8M7 262q8 4 14 11M296 253q7 6 15 10M43 272q6 4 11 9M274 247q12 5 23 11M288 90q15 0 26 11M11 180q6 6 14 6M277 271q13 -4 25 4M294 106q11 9 22 17M284 235q6 9 17 11M4 205q13 4 22 15M43 140q16 -1 28 9M7 242q13 1 21 12M17 221q10 4 16 14M42 8q3 7 10 11M36 211q12 -1 23 6M296 259q11 3 20 9M3 294q10 1 20 5M295 263q13 2 26 6M268 39q9 10 21 15M278 78q15 -3 27 6M27 162q12 -2 24 -2M13 230q7 5 15 8M279 131q11 12 28 11M38 43q11 7 25 9M294 226q14 3 25 10M296 68q7 12 19 18M26 242q13 2 26 5M13 43q6 8 16 9M297 102q10 6 21 3M279 80q8 1 13 7M2 278q8 -0 15 5M15 49q10 10 24 10M272 202q9 6 17 13M275 152q15 1 26 12M291 165q15 5 28 -2M290 200q11 1 23 3M17 188q9 3 18 4M271 211q9 9 23 9M27 21q12 2 24 8M287 277q12 10 27 11M37 97q7 5 14 11M18 48q10 9 23 10M289 133q9 5 18 9M286 269q7 6 17 5M268 217q10 7 23 7M271 139q11 -0 20 6M4 31q10 9 24 9M18 245q6 5 14 3M288 136q8 1 15 5M3 36q10 -1 18 6M283 291q10 2 18 9M269 31q7 2 15 2M30 82q11 2 20 7M31 194q11 -1 22 2M22 126q8 1 14 6M19 45q9 4 17 10M267 228q8 11 21 11M31 286q11 3 16 12M269 291q4 8 12 10M287 92q5 7 13 9M2 155q7 4 14 3M284 216q11 8 23 13M16 123q10 9 23 7M278 300q12 7 25 14M282 260q10 3 19 7M268 112q4 7 12 9M6 224q13 4 26 9M13 4q13 9 28 5M45 21q10 9 23 7M280 299q12 4 25 7M1 80q8 5 17 2M268 168q8 2 14 7M286 212q7 9 19 10M42 7q10 -1 19 -2M9 280q15 1 27 9M17 23q7 4 13 8M291 69q11 10 24 16M296 223q11 3 20 9M280 162q14 0 28 5M294 208q8 10 21 10M289 55q8 2 15 9M15 250q9 2 16 9M288 58q8 6 18 7M299 288q8 1 14 6M39 266q9 14 25 15M266 169q8 8 19 10M27 296q8 3 16 4M23 241q15 -0 29 -3M267 61q8 4 13 10M283 41q10 3 18 9M2 168q15 -0 28 6M18 259q14 4 21 17M282 122q13 3 25 9M17 254q13 7 23 18M297 254q8 9 19 11M299 101q13 8 27 11M22 10q11 -2 20 3M293 163q8 0 13 5M1 89q15 1 24 14M285 16q7 6 16 8M296 268q6 7 15 10M296 98q9 7 20 9M271 50q10 9 24 8" stroke="#4a5054" stroke-width="1.3" opacity="0.25" stroke-linecap="round" fill="none" filter="url(#soft2)"/>
<rect x="0" y="0" width="300" height="300" filter="url(#tex)" opacity="0.5" style="mix-blend-mode:overlay"/>
</g></g>
<g transform="translate(653.5 1217) scale(0.9967 0.9867)"><g clip-path="url(#cp300)" style="isolation:isolate">
<rect width="300" height="300" fill="#3a3b38"/>
<rect x="-20" y="-20" width="85" height="340" fill="#1b1e20" opacity="0.95" filter="url(#bM)"/>
<ellipse cx="50" cy="50" rx="70" ry="70" fill="#121416" opacity="0.9" filter="url(#bL)"/>
<ellipse cx="150" cy="20" rx="60" ry="30" fill="#262826" opacity="0.8" filter="url(#bL)"/>
<ellipse cx="160" cy="265" rx="110" ry="45" fill="#4d4a45" opacity="0.9" filter="url(#bL)"/>
<ellipse cx="275" cy="160" rx="25" ry="120" fill="#45463f" opacity="0.7" filter="url(#bL)"/>
<rect x="0" y="0" width="300" height="300" filter="url(#tex)" opacity="0.5" style="mix-blend-mode:overlay"/>
<path d="M54 198q-3 11 -6 21M144 137q1 9 -2 18M208 97q-4 15 4 28M70 71q-2 13 -1 26M61 203q-3 8 -9 15M2 293q-3 9 -1 17M161 178q6 10 8 22M34 143q1 15 -8 28M205 189q-0 13 -2 25M122 144q-2 8 -2 16M177 160q2 13 5 27M27 44q-2 9 -9 13M194 163q-5 12 -3 24M245 204q-9 8 -8 21M40 207q-2 14 -13 24M125 81q-1 10 3 20M43 102q-7 6 -6 15M162 5q6 11 3 23M49 222q-3 11 -5 22M138 30q-1 14 4 26M127 121q-2 11 3 20M271 45q-1 9 2 17M287 219q-6 14 1 27M228 221q-1 15 -2 30M279 79q-7 11 -8 24M39 90q-1 13 -11 21M99 181q-5 9 -11 17M154 222q9 14 3 30M278 241q1 9 -2 18M49 41q-4 12 -9 23M32 253q-9 11 -11 25M159 26q-3 13 3 25M266 285q-1 8 -4 15M162 192q-9 8 -9 21M232 258q-0 7 1 14M281 57q10 13 5 29M119 225q3 9 1 18M42 194q2 7 -1 14M215 134q-3 14 -5 28M81 41q-1 11 -8 21M82 18q-2 11 -2 22M88 298q-5 9 -2 18M4 198q-2 9 -8 15M297 298q2 9 3 18M248 260q2 10 -4 18M208 146q-3 9 -1 17M97 79q-2 14 -8 26M280 206q-6 11 -3 22M112 11q-6 15 1 29M117 27q4 14 2 29M290 143q-1 8 -4 16M129 60q8 13 7 28M71 55q-5 7 -9 15M38 243q-12 8 -15 22M17 201q-2 13 -8 24M175 256q4 13 4 27M78 286q-2 10 -7 19M160 35q-4 10 -4 21M255 147q3 9 -0 17M92 115q-10 11 -13 26M276 148q-7 12 -2 25M69 229q-6 13 -15 25M156 32q-3 13 1 26M249 254q-2 8 1 15M212 284q2 14 -5 27M291 202q1 13 3 27M172 73q-3 9 -1 18M175 129q4 13 6 26M203 163q5 11 3 23M52 95q-2 13 -11 23M231 98q-6 13 -2 28M249 189q-4 10 1 19M67 211q-1 10 -6 20M237 62q6 14 -1 27M26 187q-7 5 -9 14M202 2q2 8 2 16M159 170q-1 15 -4 29M102 198q-1 14 -3 28M14 114q-4 9 -8 17M185 17q-3 7 -6 14M76 18q0 13 -7 23M244 298q1 8 5 15M15 33q-1 11 -2 21M266 118q-0 10 -7 17M70 184q-7 6 -12 14M96 168q-3 7 0 14M234 227q1 14 3 27M199 81q-1 9 2 17M95 13q1 9 -5 16M214 139q-4 10 -4 22M14 155q-2 13 -11 22M114 135q2 9 0 17M100 142q-2 9 -3 18M230 141q-4 9 -3 20M188 149q-2 8 3 16M92 275q-6 4 -10 11M143 184q-2 10 -3 20M216 285q3 10 -2 19M55 275q-6 15 -2 30M177 233q-2 9 1 17M52 264q-1 10 -8 16M146 63q5 9 4 20M25 237q-8 10 -9 22M178 190q5 7 3 14M208 163q-0 11 1 21M287 134q-4 13 -9 27M200 223q-1 14 6 27M184 213q-0 9 0 18M251 216q2 8 -1 17M285 270q4 9 0 18M100 249q-10 11 -13 26M4 52q-5 13 -3 27M261 178q5 10 -0 20M295 260q-1 12 0 24M157 175q-4 14 1 28M80 129q-7 8 -8 19M102 203q-6 11 -14 20M153 206q1 12 -6 22M47 31q-2 8 2 16M230 77q9 7 10 19M244 140q-1 10 -2 21M236 171q3 12 4 24M58 72q-5 13 -9 25M106 137q-5 9 -6 20M220 277q1 9 4 17M6 254q-4 14 -10 27M37 54q2 10 -6 18M20 31q-8 13 -9 27M138 209q-4 8 -4 17M113 258q2 8 -3 15M263 249q1 11 1 23M122 250q0 8 -1 15M193 151q2 8 4 16M16 80q-2 7 -6 13M12 298q-6 6 -6 15M285 280q-0 15 1 30M298 292q-4 11 1 22M188 100q-1 13 -5 26M182 92q0 8 3 15M254 16q-2 9 -1 17M105 12q-8 13 -9 28M27 139q-5 13 -12 25M77 70q-8 14 -2 30M264 12q-4 12 -5 24M38 9q-5 13 -5 28M114 236q-0 7 -0 14M82 86q-1 15 -2 29M64 275q-8 12 -6 27M160 1q3 11 -0 21M217 133q-5 15 2 29M92 81q-4 14 -7 28M85 64q3 13 1 26M249 290q-2 15 2 29M183 184q4 11 5 22M19 192q-7 7 -10 17M203 263q-1 12 -2 24M73 87q2 11 -3 21M77 254q-2 12 -10 21M89 97q-5 10 -12 19M236 194q-6 12 -3 24M203 28q1 15 -8 26M258 209q2 10 7 20M155 255q2 13 3 26M1 172q-2 11 -1 22M231 205q-4 8 -1 16M40 33q-8 12 -13 27M216 300q-5 9 -4 19M28 44q-10 10 -9 23M228 87q2 11 3 21M220 252q-1 10 -1 20M267 90q-4 9 -2 19M139 132q5 11 1 23M141 97q2 13 -6 24M20 46q-1 8 -6 15M183 117q-3 13 -1 26M248 187q-4 10 -5 21M80 255q-7 5 -10 14M244 289q0 13 -1 25M112 84q-1 11 -3 21M79 194q-5 14 -7 28M132 8q3 10 0 20M192 295q-1 8 3 15M74 44q-4 7 -4 14M256 67q0 10 0 21M93 38q-1 9 -9 14M129 207q-1 13 -5 25M132 80q3 8 0 16M64 187q0 10 -1 19M159 90q-2 9 -3 19M34 151q-1 8 -5 14M102 119q-1 11 -1 23M206 43q1 11 6 21M136 102q4 13 4 26M120 291q1 11 2 21M150 22q-2 7 -1 15M295 171q-6 13 -6 27M163 4q-1 11 7 19M189 81q2 10 -1 19M234 154q0 15 -7 28M65 81q-7 12 -10 25M70 139q-3 8 -2 16M80 107q-1 8 -6 14M219 156q-4 12 -8 23M153 217q-4 9 -1 18M15 61q-1 9 -4 17M177 107q-0 13 -2 25M71 284q-5 8 -6 18M214 91q-3 9 3 17M286 207q-5 14 2 27M148 258q1 9 4 17M197 18q-7 11 -6 25M150 47q-8 9 -8 21M145 78q-1 11 -7 21M170 182q-3 11 -1 22M176 285q-3 10 3 19M280 258q-6 12 0 24M113 177q-1 15 2 29M93 47q-6 9 -8 19M163 90q0 14 4 27M121 203q-1 8 0 16M45 85q3 10 -1 19M151 219q-6 13 -1 27M2 152q-9 6 -11 17M34 9q-0 11 -8 18M84 294q-3 14 -13 24M93 91q-8 9 -14 19M23 175q-7 7 -10 16M219 223q-5 10 -0 20M156 156q-4 7 -3 16M187 253q0 11 1 23M214 212q1 10 2 21M239 13q-4 15 0 29M145 40q3 9 2 19M161 158q2 10 1 20M15 61q-1 15 -11 27M103 116q-2 11 -10 17M177 218q-0 8 -2 15M129 84q1 11 -4 20M258 201q3 9 5 18M0 109q-0 15 -5 29M216 66q-2 11 -5 21M196 255q3 13 5 27M125 193q1 11 4 22M63 215q-2 13 -9 24M53 243q-6 5 -9 13M273 66q8 14 3 29M289 17q1 15 6 29M278 13q-1 12 -0 24M42 135q-6 12 -6 26M211 44q-5 9 -3 20M4 64q-4 11 -13 18M81 43q-2 9 -6 16M146 272q4 14 4 28M71 36q-1 9 -5 17M57 1q-5 14 -16 24M190 184q-5 9 -2 20M61 8q-5 13 -3 26M123 146q-6 10 -3 22M230 154q-1 12 -5 23M77 125q-8 13 -6 27M28 151q-5 6 -10 12M282 183q1 16 -8 28M291 299q-9 14 -5 29M105 284q-4 11 -12 21M66 264q-8 10 -8 22M75 240q-7 11 -3 24M150 116q-6 13 -0 25M298 64q4 16 -5 29M248 61q3 14 8 27M65 10q-4 10 -5 21M264 254q-4 12 -2 24M48 184q-1 8 -6 15M147 149q-2 15 1 29M150 157q1 12 -3 23M62 249q-6 12 -18 19M12 170q-2 14 -5 28M21 31q-2 13 -6 26M74 277q2 11 -2 22M77 58q-3 7 -2 15M95 106q-6 6 -5 16M22 216q-2 11 -5 22M279 253q2 9 1 18M136 179q-2 14 -2 29M136 9q-4 11 1 21M196 248q-2 11 5 19M37 133q-3 12 -11 21M93 235q-1 14 -6 28M218 173q3 10 3 20M260 22q7 15 0 30M72 35q-4 8 -6 16M32 109q-5 8 -8 17M80 213q-6 12 -14 23M182 122q-4 10 -2 21M3 34q2 14 -6 26M195 231q8 10 5 23M80 292q2 13 -3 26M173 116q1 12 4 23M196 216q-4 14 4 26M238 118q-6 13 -2 28M20 72q-2 12 -8 23M133 271q1 8 2 16M13 300q-2 11 -11 15M126 293q1 11 -3 22M69 86q-3 13 -11 23M35 180q-4 9 -1 17M12 61q-5 10 -13 17M190 1q-5 10 1 20M154 49q0 14 5 27M38 93q-3 8 -5 17M276 28q-4 8 -6 18M129 164q4 9 2 20M162 181q4 9 -0 18M155 134q-1 10 -2 19M129 177q5 10 6 21M222 221q7 9 5 19M48 199q-6 11 -4 23M223 259q6 15 -2 29M260 44q-3 9 1 17M218 155q0 13 1 26M193 241q3 7 7 14M201 83q-6 12 -4 25M157 127q5 15 -3 28M180 131q-1 12 5 23M142 215q-1 8 -1 16M164 274q-6 9 -2 19M54 61q1 12 -3 23M130 132q2 9 -1 19M104 223q-7 11 -10 25M82 25q-1 13 -1 26M230 126q1 12 0 23M132 185q4 9 2 19M5 110q3 12 -4 22M66 179q-6 12 -4 25M154 248q-1 9 2 17M118 85q7 12 4 25M35 38q-2 12 -10 22M141 175q-5 8 -3 17M167 165q-6 11 -4 24M193 214q6 11 6 24M134 274q1 13 0 26M128 202q7 8 6 18M141 284q-1 12 -3 24M50 45q-2 7 -2 15M31 273q-4 9 -12 15M104 66q2 12 -7 21M67 39q2 13 -5 24M79 66q-7 11 -5 25M5 134q1 11 3 22M281 73q-4 9 0 17M257 53q-4 8 -5 16M199 151q4 14 2 29M214 138q2 9 1 17M209 158q-1 10 -6 19M137 36q3 9 2 18M25 181q-12 10 -13 25M89 279q-4 6 -5 14M21 287q-12 9 -12 25M195 44q-1 13 2 26M54 135q-6 9 -14 17M77 238q-2 8 -8 14M153 111q-6 10 -5 22M168 4q0 8 1 15M146 189q-0 15 9 25M266 90q0 12 -1 25M295 67q-2 12 -7 23M132 249q-6 12 -3 25M6 169q-11 11 -10 26M205 224q-1 13 1 27M232 143q1 8 1 16M264 202q-6 9 -4 21M248 183q-1 7 -0 15M224 26q-1 13 -6 24M109 18q-1 12 -5 23M298 8q0 9 4 18M113 38q0 8 -2 16M214 83q-6 13 -1 26M190 35q-4 11 -1 22M9 120q-7 10 -12 22M50 191q-5 12 -6 25M0 244q-7 8 -5 19M111 271q-5 14 1 27M1 96q0 10 -4 20M59 159q-1 10 -10 15M15 14q-10 9 -12 23M20 32q-1 12 -0 24M5 7q-13 8 -20 22M193 3q1 11 1 22M18 248q-5 12 -10 25M106 292q1 13 -7 23M89 166q1 15 -5 29M53 100q-2 12 -4 23M90 118q-5 6 -7 14M98 139q-6 13 -8 27M78 69q-8 11 -12 25M136 30q-4 13 2 25M282 277q1 8 1 15M101 180q2 8 -3 14M231 293q-5 14 -1 29M252 154q-5 8 -2 17M247 263q2 13 -2 25M38 152q-1 16 8 28M83 262q1 9 -4 17M53 240q-4 13 -12 24M154 63q2 11 -1 22M190 213q1 11 -2 21M121 195q-2 14 -1 28M134 95q-3 8 1 15M31 151q-0 12 -5 22M288 224q-0 9 7 15M224 85q-0 8 -3 16M179 238q-3 15 1 29M95 0q-2 10 -9 18M257 10q-0 12 -9 20M276 73q7 13 4 27M262 77q1 14 -3 27M108 40q-1 15 -9 27M175 168q2 10 1 20M32 68q-11 10 -12 24M6 36q1 9 -5 15M55 151q-8 7 -8 18" stroke="#6a6a64" stroke-width="1.4" opacity="0.3" stroke-linecap="round" fill="none" filter="url(#soft2)"/>
<path d="M203 235q-3 11 4 20M87 44q-1 9 -5 17M98 80q-5 8 -8 17M60 21q-4 8 -7 16M117 220q-2 8 -1 16M227 119q5 12 4 24M274 250q-1 9 -2 18M219 240q8 8 8 18M188 31q0 11 0 21M36 144q-2 11 -7 21M269 260q0 7 -1 14M34 212q1 10 -4 18M85 121q-4 8 -6 18M14 63q-5 12 -3 25M30 20q-0 7 -1 14M82 26q-1 9 -5 16M140 34q9 11 7 24M195 190q3 7 4 14M196 285q-8 10 -5 23M63 153q-4 7 -3 15M196 63q4 13 -2 26M97 154q-8 6 -9 16M218 287q2 9 3 18M129 144q-1 8 3 15M46 137q-4 14 -14 24M140 114q2 9 2 19M134 253q-1 12 -2 25M124 12q2 10 0 20M110 178q-3 10 2 18M118 292q-2 8 -2 17M166 213q9 9 8 22M205 184q-2 9 1 18M251 83q-0 12 -2 23M22 135q-6 10 -10 21M106 236q-7 8 -5 19M66 134q-3 9 -4 18M239 37q-0 8 -0 16M147 284q-1 11 -1 21M8 68q-3 13 -7 26M41 160q-1 9 -7 15M182 26q-1 8 -0 15M288 222q-3 15 5 27M81 146q-4 14 -9 28M7 29q3 11 -3 21M183 298q-2 9 -8 16M21 279q2 8 -2 14M200 284q-2 7 1 15M207 93q3 15 0 30M45 290q-5 7 -8 15M147 76q4 12 -1 24M295 235q-1 9 -1 18M95 63q-2 12 -12 18M298 236q3 9 -1 17M115 215q-5 7 -4 15M75 49q0 10 1 21M296 158q3 10 -1 20M156 189q-3 7 1 14M207 253q2 14 2 27M56 289q-4 11 -9 22M7 171q-3 12 -7 23M77 266q-9 11 -7 26M116 172q4 7 2 15M255 286q0 13 -2 25M65 268q1 8 -4 15M105 44q-6 10 -3 22M145 43q4 12 -3 23M198 48q8 13 6 28M85 99q-3 11 -8 21M294 278q-4 13 -7 26M61 50q-4 8 -4 17M201 10q2 11 0 22M145 111q-0 10 -1 20M236 21q4 13 -0 27M86 272q2 15 -3 29M113 101q3 11 5 22M271 191q-7 13 -11 27M133 24q-1 13 5 23M110 165q-10 11 -9 26M247 79q-2 9 -2 19M238 242q2 9 4 17M199 51q-6 12 -1 23M95 84q-2 15 -0 30M2 130q2 16 -6 29M203 257q-2 8 -5 15M10 106q-2 9 -2 18M166 109q-2 11 3 22M237 126q2 11 -1 22M150 17q4 13 5 27M108 257q-5 13 -7 27M258 79q-3 14 5 26M120 228q2 14 -6 25M34 247q1 14 -8 25M238 43q-1 11 -5 22M228 260q3 8 5 16M195 229q-7 10 -8 23M39 124q-9 10 -8 22M124 282q11 11 11 27M62 94q-5 10 -6 22M178 104q3 15 -3 30M53 162q-6 6 -8 15M143 23q6 10 6 22M282 33q2 7 -1 14M265 158q2 10 2 20M56 178q-6 9 -3 19M234 57q-0 14 -2 29M250 158q2 10 1 21M169 159q-5 10 -3 21M50 58q-3 7 -7 14M125 108q-4 7 -5 14M66 146q-5 9 -10 17M31 65q-5 5 -8 12M81 32q-9 11 -13 24M42 76q-5 12 -8 25M165 88q-2 12 3 22M27 145q-0 10 -5 18M201 205q1 12 -0 24M240 247q-3 9 0 17M62 180q-1 15 -8 28M133 112q-2 9 3 17M114 283q4 10 1 21M63 124q-3 7 -8 14M124 174q2 8 0 16M35 98q3 8 -0 16M40 118q-11 11 -9 27M142 272q0 9 1 18M67 255q-9 10 -12 23M194 100q0 10 2 20M58 176q-9 11 -15 23M89 89q2 15 -7 26M182 63q-4 11 -3 22M130 62q-1 12 3 23M97 161q-3 11 -6 23M89 65q1 9 -6 15M279 73q3 12 2 25M190 174q-2 14 1 28M40 252q-0 12 -10 18M162 251q6 11 3 23M26 18q-3 11 -6 22M121 188q-0 8 -2 17M188 32q-3 16 -16 25M218 20q8 10 9 22M278 53q-0 8 -1 17M193 114q2 8 4 17M66 272q1 13 -7 23M134 81q1 9 4 18M88 130q3 11 6 21M157 164q8 12 9 27M159 243q3 14 3 29M75 211q-5 8 -8 17M39 82q-1 10 -5 19M159 136q-4 11 -3 22M25 276q-8 8 -12 17M162 289q3 11 -4 20M26 53q-1 13 -7 25M40 203q-8 8 -8 19M99 158q1 13 -9 21M85 46q-3 10 -7 19M137 51q3 9 -3 16M252 158q-3 7 -1 14M256 137q2 11 -4 20M250 48q11 11 10 27M91 218q-4 13 -11 23M174 136q-7 13 -8 28M196 213q1 8 4 16M147 135q-4 11 1 21M299 135q-5 11 -3 22M96 299q-3 9 -5 19M288 102q1 10 0 20M39 2q-9 11 -9 24M257 3q6 11 2 22M34 82q-1 8 -3 16M205 99q2 13 -1 25M237 209q4 9 3 18M5 154q-4 12 -9 24M147 282q-3 14 1 28M49 122q-3 11 -11 20M234 243q-2 7 -3 14M2 189q0 8 -6 14M212 17q3 12 1 23M125 213q-3 11 -1 23M246 56q-1 13 1 27M64 70q-3 7 -7 14M74 122q-0 11 -1 22M82 213q-0 9 -5 16M93 299q-12 9 -13 25M283 212q0 9 -5 16M231 215q4 13 4 28M167 275q-1 11 1 21M112 229q-5 10 -1 21M298 157q3 8 0 16M277 193q-1 8 -4 14M215 4q-4 11 -8 22M218 125q0 9 4 17M107 201q-6 10 -7 22M234 87q1 12 -4 24M26 293q4 13 -1 25M277 188q3 15 -1 30M90 183q-2 11 -10 18M193 37q-8 11 -6 25M24 36q0 9 -6 17M19 106q-3 8 -5 15M299 37q-2 8 -4 15M242 94q1 10 -0 19M159 124q-4 10 -6 20M285 296q1 12 1 24M142 273q-3 8 -1 16M241 258q-1 10 -2 20M64 19q-4 9 -2 19M240 157q-6 11 -1 21M47 68q-4 7 -6 14M174 145q-3 13 -6 27M255 219q6 15 -1 29M241 150q-9 13 -4 29M257 67q2 11 5 22M288 189q0 11 5 20M1 207q-5 12 -7 25M167 276q2 15 -4 30M214 52q3 12 4 25M72 131q-11 8 -14 21M236 176q-2 8 -2 16M73 253q-3 12 -1 24M186 79q2 9 1 17M187 151q-3 13 -1 25M130 291q-2 9 -3 18M218 129q2 10 6 20M49 14q-5 6 -10 12M278 245q0 13 -1 26M77 6q0 13 -5 25M182 172q0 8 -0 16M93 35q-4 8 -7 17M97 291q5 13 2 27M116 279q0 13 5 26M91 111q-3 10 -7 20M238 5q1 7 -1 14M229 127q-1 10 3 19M167 224q0 10 6 17M99 249q-3 9 0 18M273 92q-1 13 4 25M161 165q7 10 5 23M50 294q-7 10 -4 22M175 214q1 11 7 21M142 211q-4 12 -4 25M141 15q6 13 5 27M269 239q3 9 -1 18M121 289q-2 13 6 23M11 65q-2 13 -6 26M17 211q-6 8 -8 18M14 260q-5 11 -3 22M8 265q-7 10 -11 22M11 233q-7 7 -7 17M133 199q-6 9 -3 19M97 130q-3 10 -9 18M137 256q-5 10 -1 21M38 213q-2 14 -10 25M295 256q-6 10 -4 22M146 114q-4 8 -2 17M177 268q6 12 5 26M27 47q-6 11 -1 22M51 46q-9 8 -11 20M196 93q5 15 -2 28M262 205q2 9 -2 16M92 45q-11 11 -8 26M218 34q-4 13 1 26M251 135q5 14 3 28M57 85q-5 11 -3 23M60 174q-7 10 -9 23M36 258q-7 13 -8 28M297 213q-0 8 0 16M37 163q2 9 -2 17M49 31q1 8 -5 14M26 264q-10 11 -15 25M285 60q-5 15 3 29M42 221q-4 14 -7 28M67 159q2 9 -3 17M64 39q-3 12 -11 21M172 148q4 15 -3 30M284 138q7 13 5 27M211 125q-5 12 3 24M217 13q-4 12 -1 24M260 47q-3 12 -4 25M174 13q-0 11 6 20M49 48q-8 11 -13 23M45 71q-10 10 -11 24M200 29q-5 15 2 30M153 80q-2 14 -4 27M298 27q-4 11 -2 23M78 257q-9 9 -17 20M220 25q-0 13 0 26M51 212q-6 6 -7 14M57 48q-0 14 -6 26M45 213q-12 10 -14 25M85 130q-3 10 -6 21M120 249q6 10 5 23M74 173q-3 12 -5 24M86 203q2 11 -3 21M151 270q1 12 2 24M267 152q3 14 -4 26M127 42q6 10 12 20M260 62q-1 9 4 16M38 151q3 14 -4 26M281 272q-4 14 -2 29M111 83q3 8 2 16M9 223q-0 11 -4 20M104 242q-6 13 -5 26M64 72q-1 9 -2 19M78 275q1 9 -6 16M268 186q-1 8 -1 17M32 130q4 14 -3 27M1 131q-5 6 -7 14M43 45q-5 10 -2 21M175 169q-6 9 -4 20M101 201q1 10 -5 18M124 252q2 9 -2 18M88 96q-3 8 -11 13M154 158q1 9 -4 16M201 47q4 7 1 15M145 59q5 11 1 23M37 68q-8 10 -9 22M52 79q-4 8 -5 17M197 56q0 11 -6 19M8 128q2 9 -0 17M218 2q-0 14 0 28M291 105q-2 15 4 29M40 39q-1 10 -9 17M101 47q1 11 -1 22M283 46q1 10 3 21M79 230q-1 14 -5 26M239 141q-6 10 -2 22M44 259q-1 12 -5 23M139 62q-3 7 -1 14M169 146q-4 11 -6 23M239 125q4 15 2 30M246 244q6 11 5 23M98 142q-12 10 -14 26M74 186q-5 7 -4 16M115 279q-3 9 -3 18M28 155q1 13 -5 24M35 284q-2 9 -1 19M25 82q-2 11 -10 18M226 32q-2 14 -6 27M34 279q-12 11 -12 26M279 63q3 11 5 22M264 119q0 9 1 18M84 148q-2 13 -13 19M173 4q-5 12 1 24M269 211q5 11 4 23M207 283q4 13 -3 24M238 65q-7 11 -4 24M9 285q-4 6 -10 11M258 233q-7 13 -0 27M169 37q-3 11 -1 21M283 273q2 8 1 16M184 29q3 11 4 22M52 144q0 15 -11 24M81 50q-4 15 2 28M139 210q-8 13 -14 26M166 192q2 14 0 29M29 279q4 9 1 19M130 236q2 11 -4 21M125 155q-6 12 -2 25M194 59q-0 7 -3 14M126 81q2 14 -6 25M202 167q-2 13 2 26M131 73q1 9 -3 16M258 213q-2 12 -6 24M265 109q1 11 1 23M262 92q-3 7 -5 15M60 90q3 11 -1 22M74 282q-2 7 -4 14M155 223q2 11 2 23M160 276q-3 15 7 27M193 42q-10 11 -9 27M45 15q-4 9 -7 19M108 102q-1 7 -2 14M35 112q2 15 -4 29M13 17q-2 8 -2 16M120 232q-3 12 -1 25M202 237q0 10 0 20M63 165q-3 14 -14 23M202 55q4 7 5 15M101 261q1 11 -5 21M50 155q-5 9 -3 19M214 242q-1 9 2 17M35 122q-2 8 -6 15M162 139q-1 14 0 28M283 71q-7 14 -3 28M64 100q-6 14 -15 25M108 271q-1 9 1 17M200 29q6 11 3 24M112 71q-4 8 -8 16M224 181q-2 11 2 21M115 19q-1 11 3 22M286 44q5 11 2 23M174 272q4 8 1 17M72 201q-7 10 -9 22M192 50q3 10 4 21M139 119q-4 12 1 25M35 127q-4 6 -3 14M168 32q-3 14 -1 29M217 254q4 9 -0 17M100 163q1 15 -10 26M235 100q1 8 2 15M32 280q-7 10 -5 22M12 125q1 10 -6 17M196 241q-3 8 -2 17M177 213q-7 13 -3 26M289 79q-1 15 9 26M249 143q-1 14 -3 27M153 211q-6 10 -2 21M105 117q-3 9 -4 18M207 25q-6 15 1 28M279 21q-4 12 -2 25M116 257q3 12 4 24M136 231q-3 13 -0 27M139 172q2 9 -2 16M19 189q0 10 -6 18M105 130q2 14 -8 24M78 50q-7 8 -9 18M207 144q2 7 1 15M176 153q-1 13 1 26" stroke="#101214" stroke-width="1.4" opacity="0.35" stroke-linecap="round" fill="none" filter="url(#soft2)"/>
<path d="M31 96q-7 7 -16 12M24 172q-3 9 -10 13M57 208q-3 10 -12 15M7 212q-11 12 -26 17M41 194q-6 7 -10 16M49 279q-12 11 -18 26M16 200q-5 11 -17 14M66 152q-4 8 -12 11M41 94q-6 10 -17 16M57 190q-11 5 -17 16M30 294q-11 8 -23 14M15 197q-10 12 -23 22M43 233q-7 9 -19 12M69 158q-6 8 -14 15M25 148q-13 8 -17 22M51 82q-14 10 -24 24M29 91q-6 6 -12 12M40 211q-8 10 -17 18M57 87q-8 4 -12 12M62 87q-9 8 -19 15M45 101q-14 10 -19 26M11 259q-12 10 -23 21M13 205q-8 4 -14 11M47 289q-1 18 -14 30M19 260q-10 12 -25 17M0 227q-12 5 -16 17M57 187q-9 7 -15 16M54 88q-9 4 -13 13M39 265q-6 6 -12 13M63 295q-4 11 -14 17M7 215q-6 9 -12 18M6 255q-8 9 -17 17M7 118q-18 3 -29 17M35 169q-12 10 -21 23M21 157q-8 14 -22 22M68 272q-6 11 -17 17M65 217q-6 8 -9 17M65 175q-9 9 -18 18M40 268q-6 6 -13 10M26 119q-3 10 -12 15M13 224q-8 6 -17 10M41 215q-11 14 -28 17M37 190q-12 9 -18 22M46 90q-10 10 -13 25M4 197q-8 7 -10 17M41 156q-7 6 -14 12M12 292q-6 7 -13 13M41 264q-10 4 -14 14M15 99q-16 7 -22 24M13 205q-10 10 -9 25M3 198q-11 6 -20 14M26 181q-8 6 -10 15M47 262q-7 6 -11 14M46 155q-12 3 -18 13M10 249q-7 8 -11 17M13 219q1 10 -6 17M17 275q-10 4 -19 9M19 260q-8 4 -13 10M16 106q-7 6 -12 14M8 133q-8 9 -14 20M4 143q-0 12 -8 21M40 182q-2 14 -9 26M28 147q-10 8 -18 19M25 90q-4 12 -16 17M51 217q-2 8 -9 13M63 250q-6 8 -14 16M33 155q-3 17 -17 27M68 150q-7 10 -17 16M49 190q-9 7 -15 17M63 272q-9 8 -17 16M47 120q-9 13 -22 21M23 212q-9 8 -11 20M42 93q-11 11 -19 23M28 258q-5 8 -11 14M23 159q-2 12 -11 20M58 171q-8 7 -15 15M51 80q-11 12 -20 26M41 171q-10 4 -13 13M68 296q-5 15 -17 24M54 287q-2 18 -18 26M61 226q-7 16 -23 24M4 88q-4 13 -9 25M65 201q-1 11 -10 16M8 182q0 9 -6 15M67 128q-11 8 -21 18M11 165q-3 9 -10 15M57 144q-9 5 -15 12M1 273q-12 9 -22 20M68 208q-3 12 -14 17M29 217q-10 10 -13 24M36 242q-8 9 -16 19M7 96q-5 6 -7 14M20 89q-8 7 -11 16M23 90q-9 4 -14 13M6 237q-5 8 -12 13M25 94q-5 6 -9 13M45 179q-6 11 -11 22M35 252q-7 5 -9 13M33 203q-11 4 -16 14M45 94q-2 8 -8 14M5 197q-5 15 -17 25M45 127q-7 13 -18 22M59 151q-16 5 -28 17M54 219q-9 6 -19 10M21 270q-7 16 -23 22M22 237q-12 8 -24 17M50 251q-8 12 -18 22M5 247q-6 15 -21 22M29 159q-12 9 -20 21M2 250q-8 7 -14 16M67 81q-12 8 -16 21M34 123q-7 10 -16 20M6 237q-6 13 -18 21M67 238q-12 5 -17 17M2 199q-6 6 -14 9M58 127q-14 9 -16 26M39 257q-11 13 -25 23M46 87q-10 7 -19 16M43 153q-8 7 -17 11M4 197q-5 14 -18 19" stroke="#8a8e90" stroke-width="1.2" opacity="0.2" stroke-linecap="round" fill="none" filter="url(#soft2)"/>
<path d="M195,-5 C211.7,-7.2 286.7,-13.3 305,-5 C323.3,3.3 309.2,37.2 305,45 C300.8,52.8 288.3,44.5 280,42 C271.7,39.5 263.3,34 255,30 C246.7,26 238.3,21.7 230,18 C221.7,14.3 210.8,11.8 205,8 C199.2,4.2 178.3,-2.8 195,-5Z" fill="#8c7e6a" opacity="0.9" filter="url(#bM)"/>
<path d="M69.3,88 C71.2,83.9 74.7,79.3 78.7,74.9 C82.8,70.5 87.4,64.9 93.6,61.8 C99.8,58.7 108.9,59.6 116.1,56.2 C123.3,52.8 130.1,44.3 136.7,41.2 C143.2,38.1 150.1,37.2 155.4,37.5 C160.7,37.8 163.2,40.9 168.5,43.1 C173.8,45.3 182.3,47.2 187.3,50.6 C192.3,54 195.4,59 198.5,63.7 C201.6,68.4 201.6,74.7 206,78.7 C210.4,82.8 218.5,83.6 224.7,88 C230.9,92.4 237.8,99.6 243.4,104.9 C249,110.2 255.3,114.3 258.4,119.9 C261.5,125.5 262.5,132.7 262.2,138.6 C261.9,144.5 259.7,148.8 256.6,155.4 C253.5,162 248.7,171 243.4,177.9 C238.1,184.8 230.9,191.6 224.7,196.6 C218.5,201.6 212.2,205.4 206,207.9 C199.8,210.4 193.6,210.3 187.3,211.6 C181.1,212.8 174.8,214.5 168.5,215.4 C162.2,216.3 156,217.2 149.8,217.2 C143.6,217.2 138,216 131.1,215.4 C124.2,214.8 115.8,215.7 108.6,213.5 C101.4,211.3 93.6,206.6 88,202.2 C82.4,197.8 78,192.9 74.9,187.3 C71.8,181.7 70.5,174.8 69.3,168.5 C68,162.2 67.7,156 67.4,149.8 C67.1,143.6 68,137.3 67.4,131.1 C66.8,124.9 63.7,117.7 63.7,112.4 C63.7,107.1 66.5,103.4 67.4,99.3 C68.3,95.2 67.4,92.1 69.3,88Z" fill="#b27c70" opacity="1" filter="url(#bS)"/>
<clipPath id="cw22"><path d="M69.3,88 C71.2,83.9 74.7,79.3 78.7,74.9 C82.8,70.5 87.4,64.9 93.6,61.8 C99.8,58.7 108.9,59.6 116.1,56.2 C123.3,52.8 130.1,44.3 136.7,41.2 C143.2,38.1 150.1,37.2 155.4,37.5 C160.7,37.8 163.2,40.9 168.5,43.1 C173.8,45.3 182.3,47.2 187.3,50.6 C192.3,54 195.4,59 198.5,63.7 C201.6,68.4 201.6,74.7 206,78.7 C210.4,82.8 218.5,83.6 224.7,88 C230.9,92.4 237.8,99.6 243.4,104.9 C249,110.2 255.3,114.3 258.4,119.9 C261.5,125.5 262.5,132.7 262.2,138.6 C261.9,144.5 259.7,148.8 256.6,155.4 C253.5,162 248.7,171 243.4,177.9 C238.1,184.8 230.9,191.6 224.7,196.6 C218.5,201.6 212.2,205.4 206,207.9 C199.8,210.4 193.6,210.3 187.3,211.6 C181.1,212.8 174.8,214.5 168.5,215.4 C162.2,216.3 156,217.2 149.8,217.2 C143.6,217.2 138,216 131.1,215.4 C124.2,214.8 115.8,215.7 108.6,213.5 C101.4,211.3 93.6,206.6 88,202.2 C82.4,197.8 78,192.9 74.9,187.3 C71.8,181.7 70.5,174.8 69.3,168.5 C68,162.2 67.7,156 67.4,149.8 C67.1,143.6 68,137.3 67.4,131.1 C66.8,124.9 63.7,117.7 63.7,112.4 C63.7,107.1 66.5,103.4 67.4,99.3 C68.3,95.2 67.4,92.1 69.3,88Z"/></clipPath>
<g clip-path="url(#cw22)">
<ellipse cx="150" cy="90" rx="70" ry="45" fill="#c4928a" opacity="0.7" filter="url(#bL)"/>
<ellipse cx="170" cy="190" rx="80" ry="30" fill="#a86c66" opacity="0.7" filter="url(#bL)"/>
<ellipse cx="75" cy="140" rx="15" ry="60" fill="#98585a" opacity="0.5" filter="url(#bM)"/>
<path d="M69.3,88 C71.2,83.9 74.7,79.3 78.7,74.9 C82.8,70.5 87.4,64.9 93.6,61.8 C99.8,58.7 108.9,59.6 116.1,56.2 C123.3,52.8 130.1,44.3 136.7,41.2 C143.2,38.1 150.1,37.2 155.4,37.5 C160.7,37.8 163.2,40.9 168.5,43.1 C173.8,45.3 182.3,47.2 187.3,50.6 C192.3,54 195.4,59 198.5,63.7 C201.6,68.4 201.6,74.7 206,78.7 C210.4,82.8 218.5,83.6 224.7,88 C230.9,92.4 237.8,99.6 243.4,104.9 C249,110.2 255.3,114.3 258.4,119.9 C261.5,125.5 262.5,132.7 262.2,138.6 C261.9,144.5 259.7,148.8 256.6,155.4 C253.5,162 248.7,171 243.4,177.9 C238.1,184.8 230.9,191.6 224.7,196.6 C218.5,201.6 212.2,205.4 206,207.9 C199.8,210.4 193.6,210.3 187.3,211.6 C181.1,212.8 174.8,214.5 168.5,215.4 C162.2,216.3 156,217.2 149.8,217.2 C143.6,217.2 138,216 131.1,215.4 C124.2,214.8 115.8,215.7 108.6,213.5 C101.4,211.3 93.6,206.6 88,202.2 C82.4,197.8 78,192.9 74.9,187.3 C71.8,181.7 70.5,174.8 69.3,168.5 C68,162.2 67.7,156 67.4,149.8 C67.1,143.6 68,137.3 67.4,131.1 C66.8,124.9 63.7,117.7 63.7,112.4 C63.7,107.1 66.5,103.4 67.4,99.3 C68.3,95.2 67.4,92.1 69.3,88Z" fill="none" stroke="#5a302a" stroke-width="10" opacity="0.5" filter="url(#bM)"/>
</g>
<clipPath id="gt5"><path d="M69.3,88 C71.2,83.9 74.7,79.3 78.7,74.9 C82.8,70.5 87.4,64.9 93.6,61.8 C99.8,58.7 108.9,59.6 116.1,56.2 C123.3,52.8 130.1,44.3 136.7,41.2 C143.2,38.1 150.1,37.2 155.4,37.5 C160.7,37.8 163.2,40.9 168.5,43.1 C173.8,45.3 182.3,47.2 187.3,50.6 C192.3,54 195.4,59 198.5,63.7 C201.6,68.4 201.6,74.7 206,78.7 C210.4,82.8 218.5,83.6 224.7,88 C230.9,92.4 237.8,99.6 243.4,104.9 C249,110.2 255.3,114.3 258.4,119.9 C261.5,125.5 262.5,132.7 262.2,138.6 C261.9,144.5 259.7,148.8 256.6,155.4 C253.5,162 248.7,171 243.4,177.9 C238.1,184.8 230.9,191.6 224.7,196.6 C218.5,201.6 212.2,205.4 206,207.9 C199.8,210.4 193.6,210.3 187.3,211.6 C181.1,212.8 174.8,214.5 168.5,215.4 C162.2,216.3 156,217.2 149.8,217.2 C143.6,217.2 138,216 131.1,215.4 C124.2,214.8 115.8,215.7 108.6,213.5 C101.4,211.3 93.6,206.6 88,202.2 C82.4,197.8 78,192.9 74.9,187.3 C71.8,181.7 70.5,174.8 69.3,168.5 C68,162.2 67.7,156 67.4,149.8 C67.1,143.6 68,137.3 67.4,131.1 C66.8,124.9 63.7,117.7 63.7,112.4 C63.7,107.1 66.5,103.4 67.4,99.3 C68.3,95.2 67.4,92.1 69.3,88Z"/></clipPath><rect x="0" y="0" width="300" height="300" filter="url(#tex3)" opacity="0.35" clip-path="url(#gt5)" style="mix-blend-mode:overlay"/>
<path d="M178 127q3 4 6 8M213 126q3 7 8 12M235 177q7 7 13 15M228 111q4 6 10 11M142 215q7 4 11 12M99 111q4 4 7 9M233 165q3 8 9 15M225 104q6 8 9 17M140 59q3 5 2 10M159 51q3 7 10 11M76 127q0 7 5 11M206 124q3 8 10 13M192 72q5 7 10 14M100 168q6 7 7 17M169 163q4 6 7 12M210 144q2 8 5 15M167 158q2 5 6 7M182 87q2 6 2 12M102 116q5 5 10 9M77 83q3 4 4 8M170 133q6 7 8 16M83 109q2 5 6 8M119 204q4 9 11 16M141 213q2 7 7 13M177 98q7 7 9 16M128 95q4 7 8 13M258 131q3 9 11 13M161 63q5 5 5 12M95 128q4 5 6 12M95 201q6 3 9 9M187 128q7 7 15 13M252 117q7 2 9 9M213 201q7 5 8 13M176 154q6 5 6 13M93 186q6 5 8 12M81 85q5 5 10 10M237 171q1 9 8 14M154 82q1 8 9 12M171 172q1 5 5 9M106 175q3 7 10 10M201 184q2 9 9 15M184 128q3 7 9 11M157 161q5 8 14 11M80 180q5 8 13 12M107 62q9 1 15 8M74 111q5 8 10 16M222 139q3 4 5 8M121 200q3 6 8 9M89 159q6 5 13 8M180 121q5 4 7 10M146 105q-0 8 5 15M183 68q7 7 13 15M220 102q9 3 13 13M113 94q8 5 10 14M100 171q4 8 9 14M85 151q4 8 12 12M247 162q3 7 8 11M132 69q4 8 11 15M157 52q8 4 11 13M191 88q5 3 7 8" stroke="#8a3a34" stroke-width="0.9" opacity="0.3" stroke-linecap="round" fill="none" filter="url(#soft)"/>
<path d="M190,180 C210,170 225,160 235,140" stroke="#5a2420" stroke-width="1.6" fill="none" opacity="0.5"/>
<path d="M195 68q4 -11 14 -17M192 63q2 -5 0 -9M97 66q-9 -4 -17 -9M221 92q-5 -11 -0 -22M159 45q5 -6 11 -8M231 102q4 -2 7 -6M211 87q6 -2 11 -5M132 50q6 -10 2 -20M126 56q-0 -5 -3 -9M205 85q10 -5 10 -16M216 90q4 -11 15 -15M155 43q3 -5 8 -6M161 42q-4 -3 -8 -6M244 110q-1 -9 -3 -18M115 61q-6 -6 -14 -10M141 46q-7 -7 -11 -15M153 44q1 -5 1 -11M150 44q-8 -7 -11 -17M132 49q1 -6 3 -12M199 78q5 -1 6 -6M194 68q5 -6 11 -12M143 44q-5 -2 -9 -6M126 55q-8 -5 -18 -7M71 91q0 -6 -0 -12M198 66q-6 -9 -7 -20M135 48q-1 -9 2 -19M197 71q-1 -8 6 -13M202 82q7 -7 13 -15M222 93q4 -5 10 -4M207 83q5 2 9 -1M172 50q4 -10 0 -21M89 73q-6 -0 -10 -5M157 44q7 -3 12 -9M113 63q-1 -8 -2 -17M195 55q-8 -7 -19 -7M125 52q1 -6 6 -9M91 72q-7 -8 -8 -19M184 55q-1 -6 2 -11M205 76q-4 -4 -6 -10M83 75q-6 -1 -10 4M176 50q-2 -9 -8 -17M96 68q-4 -2 -6 -6M208 86q3 -5 7 -8M194 64q-3 -9 -1 -18M128 54q1 -9 -5 -15M106 62q6 -5 12 -12M228 99q11 -3 14 -13M160 46q-1 -7 4 -12M147 44q3 -7 5 -14M114 62q-4 -3 -8 -6M232 100q10 3 19 -1M179 52q-4 -6 -3 -13M196 68q-1 -5 3 -10M211 88q4 -9 8 -19M182 55q0 -8 2 -15M218 92q5 -3 6 -9M96 64q-4 1 -9 2M75 85q-7 3 -14 6M238 105q2 -10 -3 -18M132 52q-1 -5 -3 -9M91 72q-7 -6 -15 -6M232 103q3 -5 8 -7M142 46q1 -7 3 -14M83 80q-8 -2 -14 -7M155 44q0 -6 -2 -11M172 47q-11 -2 -14 -12M123 59q-6 -5 -12 -9M187 55q-1 -10 -8 -17M199 78q5 -2 10 -3M218 91q5 -8 8 -17M90 73q-5 -5 -6 -13M233 98q4 5 11 4M179 52q5 -3 10 -4M217 91q4 -6 8 -12M203 76q-4 -7 -3 -15M200 72q1 -5 -1 -10M203 84q4 -10 14 -16M167 48q-2 -6 1 -12M111 62q7 -7 8 -17M93 70q-5 -5 -4 -12" stroke="#141614" stroke-width="1.6" opacity="0.55" stroke-linecap="round" fill="none" filter="url(#soft)"/>
<path d="M120,96 C123.7,93.3 141.3,89.7 150,88 C158.7,86.3 167.3,83.3 172,86 C176.7,88.7 179.2,100 178,104 C176.8,108 169.7,110.7 165,110 C160.3,109.3 156.2,101 150,100 C143.8,99 133,104.7 128,104 C123,103.3 116.3,98.7 120,96Z" fill="#f2ecea" opacity="0.9" filter="url(#fuzz2)"/>
<path d="M97,118 C98,111.5 102.7,110.8 104,117 C105.3,123.2 106,148.5 105,155 C104,161.5 99.3,162.2 98,156 C96.7,149.8 96,124.5 97,118Z" fill="#f2ecea" opacity="0.9" filter="url(#fuzz2)"/>
<path d="M101,190 C102,186.8 107.8,185.3 110,188 C112.2,190.7 115,202.8 114,206 C113,209.2 106.2,209.7 104,207 C101.8,204.3 100,193.2 101,190Z" fill="#f2ecea" opacity="0.9" filter="url(#fuzz2)"/>
<path d="M132,202 C136.2,200.8 154.5,199 160,201 C165.5,203 166.7,212.2 165,214 C163.3,215.8 155,213 150,212 C145,211 138,209.7 135,208 C132,206.3 127.8,203.2 132,202Z" fill="#f2ecea" opacity="0.9" filter="url(#fuzz2)"/>
<path d="M231,113 C233.3,110.5 245,110 248,112 C251,114 251.3,122.5 249,125 C246.7,127.5 237,129 234,127 C231,125 228.7,115.5 231,113Z" fill="#f2ecea" opacity="0.9" filter="url(#fuzz2)"/>
<path d="M122,62 C123,60 127.2,59 128,61 C128.8,63 128,72 127,74 C126,76 122.8,75 122,73 C121.2,71 121,64 122,62Z" fill="#f2ecea" opacity="0.9" filter="url(#fuzz2)"/>
<path d="M205,66 C205.8,64.2 209.2,64.2 210,66 C210.8,67.8 210.8,75.2 210,77 C209.2,78.8 205.8,78.8 205,77 C204.2,75.2 204.2,67.8 205,66Z" fill="#f2ecea" opacity="0.9" filter="url(#fuzz2)"/>
<path d="M54,115 C55.7,110.8 63.7,110.2 66,114 C68.3,117.8 69.7,133.8 68,138 C66.3,142.2 58.3,142.8 56,139 C53.7,135.2 52.3,119.2 54,115Z" fill="#b0aca6" opacity="0.7" filter="url(#bXS)"/>
</g></g>
<g transform="translate(986 1215.4) scale(0.9923 0.9903)"><g clip-path="url(#cp300)" style="isolation:isolate">
<rect width="300" height="300" fill="#3f3f43"/>
<rect x="-20" y="-20" width="340" height="90" fill="#2a2a2e" opacity="0.8" filter="url(#bL)"/>
<ellipse cx="40" cy="130" rx="50" ry="60" fill="#58585c" opacity="0.7" filter="url(#bL)"/>
<ellipse cx="260" cy="260" rx="60" ry="60" fill="#6a6a6e" opacity="0.8" filter="url(#bL)"/>
<ellipse cx="60" cy="250" rx="70" ry="50" fill="#48484c" opacity="0.7" filter="url(#bL)"/>
<ellipse cx="250" cy="60" rx="60" ry="50" fill="#35353a" opacity="0.7" filter="url(#bL)"/>
<ellipse cx="280" cy="150" rx="30" ry="60" fill="#5c5c60" opacity="0.6" filter="url(#bL)"/>
<rect x="0" y="0" width="300" height="300" filter="url(#tex2)" opacity="0.5" style="mix-blend-mode:overlay"/>
<path d="M243 96q11 -2 22 0M50 190q12 8 26 10M130 43q9 5 19 2M102 294q12 3 24 -1M188 54q11 -3 20 2M18 110q7 -1 14 -0M255 300q10 -4 20 1M185 9q11 1 22 3M119 40q12 3 25 1M287 111q9 0 17 3M274 47q14 2 27 4M135 261q13 -0 24 -8M53 182q8 4 17 2M74 32q10 -4 20 -0M269 287q12 -3 24 1M111 38q11 -4 22 2M84 70q12 -0 22 -7M218 159q8 -2 15 3M40 155q8 -4 17 -2M16 103q8 8 19 10M234 262q10 -5 21 -6M42 250q12 2 24 1M293 190q14 -4 29 1M283 125q7 3 15 6M234 147q8 2 16 1M62 246q11 2 19 9M27 137q6 4 14 4M185 235q15 -1 25 10M246 175q11 -4 22 -2M274 17q7 0 14 3M43 112q15 -3 30 -0M282 294q11 3 23 0M23 280q14 -2 29 -1M27 8q14 -2 26 5M191 26q9 6 19 6M269 70q12 2 21 -7M286 169q13 7 27 2M38 190q12 3 25 3M252 11q10 -2 19 4M72 62q13 2 27 3M60 152q8 1 14 6M172 268q13 3 21 13M280 191q12 6 25 3M60 251q11 2 19 10M76 30q12 -1 24 5M75 106q14 -5 27 2M260 191q15 -1 25 9M19 157q8 -3 17 -3M230 232q11 1 21 4M25 175q9 1 17 6M30 23q10 -6 23 -7M285 59q13 -2 24 7M287 273q10 2 21 4M277 175q9 3 18 -1M283 232q8 9 20 7M35 299q12 -1 20 7M150 288q16 -1 29 7M62 44q9 0 14 8M65 240q12 -5 24 -1M233 75q12 -1 22 4M78 44q8 2 16 -0M57 13q15 -0 29 7M4 279q12 -1 24 2M291 245q12 4 24 3M96 275q8 -1 14 4M242 272q10 0 20 1M119 272q8 5 17 2M51 298q9 1 18 4M54 292q12 2 25 5M268 45q12 -1 23 4M4 60q8 -2 16 2M217 56q15 -0 29 -2M19 96q13 -7 28 -7M265 53q11 -2 22 -5M6 52q16 -3 28 8M1 256q9 4 19 1M0 183q13 6 27 5M250 112q8 -1 17 -0M268 53q11 -0 22 -0M148 284q12 3 25 -1M216 208q7 3 15 2M221 124q14 1 27 2M298 11q11 -1 22 4M121 268q9 -0 18 1M159 31q15 6 30 -1M156 280q8 -3 15 2M123 269q12 6 23 14M231 227q11 2 22 -4M221 55q13 2 26 6M95 223q9 -1 17 3M39 272q12 -2 23 3M269 240q8 -0 15 5M253 64q9 -1 19 -3M225 241q8 4 16 6M55 291q9 1 18 1M91 16q6 4 13 5M70 43q9 1 18 1M270 259q11 -0 21 -4M282 64q9 -4 18 -4M248 95q13 -0 22 9M295 178q8 2 15 3M211 175q12 7 26 4M263 187q13 -0 27 -3M263 17q14 0 27 7M94 270q7 -1 15 -1M105 15q8 -1 15 3M225 120q10 5 20 8M218 260q8 -1 15 -1M29 222q8 1 15 -3M36 21q9 -0 18 3M26 252q11 3 20 8M251 212q8 0 15 1M82 58q14 -3 27 2M33 27q14 1 27 0M130 28q14 4 28 2M246 160q10 1 19 0M210 259q9 3 17 -0M268 48q12 4 23 -3M287 137q11 1 18 9M28 273q7 -1 14 -1M119 46q9 2 18 2M66 132q8 3 16 3M96 37q11 5 22 5M177 5q14 7 29 3M47 143q9 5 18 2M1 82q14 6 29 1M27 196q15 2 25 13M231 188q8 -1 15 1M266 44q15 3 30 -0M249 281q13 4 27 2M75 68q7 -1 15 -2M120 277q9 4 19 3M260 268q13 -9 29 -6M82 227q11 -4 23 -5M100 260q6 5 12 10M174 300q8 6 18 10M57 19q12 5 23 -1M55 221q11 -0 22 -4M223 236q14 -6 29 0M31 156q10 2 20 1M18 170q13 1 25 7M53 172q8 3 16 2M269 177q14 -7 30 -3M239 4q10 -3 20 -2M44 167q14 -1 29 2M170 291q14 1 26 7M62 63q13 5 26 3M9 250q13 -5 25 0M39 195q13 6 27 2M94 58q13 -3 26 0M76 28q13 6 27 1M278 200q7 -5 15 -4M23 81q12 0 23 -2M239 122q9 0 16 5M27 62q10 6 22 6M68 228q14 -1 26 5M259 170q9 -1 18 2M77 256q9 -7 21 -7M45 41q15 -2 28 -7M168 41q11 4 20 11M239 97q14 4 28 4M290 62q10 -1 17 6M210 292q9 7 20 8M190 272q8 -0 14 5M274 140q14 5 27 10M182 35q12 2 25 3M207 9q10 5 22 6M58 115q13 8 28 8M32 171q12 -3 25 -1M230 16q15 2 28 -7M257 65q9 5 18 1M5 36q13 2 27 0M225 84q13 2 24 -5M32 51q9 6 19 8M255 230q13 7 27 5M228 245q10 -1 18 4M37 143q12 3 24 -1M263 16q10 1 19 3M296 212q9 -4 18 -2M147 253q7 4 15 2M2 27q8 5 17 5M273 43q12 -0 20 8M222 284q12 -2 23 4M13 186q7 -1 14 3M114 12q14 4 28 1M225 259q11 -1 21 4M7 188q14 -0 27 4M202 235q9 4 18 -1M93 220q10 -4 21 -2M256 127q14 1 27 5M253 190q8 3 17 4M10 126q6 -6 15 -6M143 272q7 3 14 3M48 297q7 0 14 -2M260 198q13 -1 26 1M81 66q12 -2 23 -7M213 203q6 6 13 11M251 271q15 -1 29 -1M57 291q8 -1 15 2M213 280q13 -0 25 3M77 243q10 -4 21 -1M294 130q9 -4 19 -2M216 36q12 4 22 -3M214 10q12 2 21 11M192 275q13 -2 27 0M0 120q14 -5 27 3M65 125q15 -3 28 5M299 17q10 4 18 11M7 220q11 7 23 7M43 184q9 2 17 8M275 208q13 -0 25 -3M245 158q12 -6 25 -2M54 154q10 -6 22 -4M234 23q7 -4 15 -0M222 130q14 -0 28 3M36 232q10 7 23 7M265 295q9 1 19 1M279 43q11 -2 20 5M218 70q9 4 18 2M156 20q8 -1 15 2M297 35q10 5 20 1M4 59q15 -3 29 4M246 103q9 1 18 0M231 210q14 3 27 -2M203 297q10 -2 19 1M24 131q13 2 25 4M189 240q8 -2 17 -4M263 263q8 2 16 1M222 37q11 4 23 4M296 162q10 2 20 6M251 231q13 -4 25 3M205 291q15 -0 28 4M197 240q7 0 14 0M216 250q7 -2 14 0M219 67q13 -9 28 -5M142 21q11 -4 21 1M196 269q15 1 29 9M231 82q14 -6 28 0M170 24q12 -1 21 7M215 147q9 -0 17 3M1 14q7 -4 15 -3M9 276q10 -5 21 -1M218 168q8 -4 16 -0M32 139q12 -0 23 2M51 234q13 5 25 9M53 257q10 1 20 4M193 279q12 3 23 -4M168 22q14 -3 26 4M298 8q5 6 12 8M5 195q14 -1 27 -1M0 180q10 -4 20 -2M201 7q14 2 27 5M12 78q10 1 20 3M250 290q8 -2 16 2M205 298q8 -3 16 -3M27 154q7 1 14 2M145 25q9 2 18 5M39 110q7 6 16 4M296 275q10 2 19 -4M282 155q10 5 21 2M125 242q12 4 25 1M100 43q9 0 15 7M6 208q14 5 29 0M88 286q10 1 21 -2M296 148q7 5 15 4M166 280q13 0 26 5M156 294q8 -3 15 1M184 34q8 6 17 4M275 45q14 6 28 4M245 147q12 3 24 -2M0 5q14 3 29 3M127 8q12 7 26 4M273 80q12 2 24 -1M236 272q15 -3 28 3M74 72q10 -1 18 5M253 119q8 4 17 0M162 285q13 3 25 9M19 154q12 -1 24 2M66 53q10 -5 21 -1M252 22q14 -1 27 4M230 64q15 0 28 9M228 289q13 5 26 4M135 292q12 -2 24 0M296 258q8 -3 16 1M22 277q10 -4 19 1M104 229q11 3 20 -3M242 118q10 6 21 11M72 23q13 4 27 5M59 274q9 5 20 6M249 86q13 -1 25 3M200 266q14 3 27 -0M297 25q15 -1 30 -0M71 38q11 2 21 -1M192 11q9 2 18 5M58 155q10 1 18 6M52 47q11 0 23 -1M12 286q8 2 17 5M95 67q10 -1 19 3M278 231q15 -1 29 6M10 65q8 5 17 4M298 292q10 1 21 3M25 100q8 2 17 2M285 200q8 3 17 1M296 256q9 2 18 -0M180 288q11 2 22 1M279 57q9 -1 16 5M216 205q13 2 23 -6M167 31q9 -6 20 -3M193 5q11 4 22 1M61 238q10 6 21 5M256 120q13 4 25 11M239 39q10 -3 20 1M23 74q11 4 21 -1M241 67q12 5 25 1M33 174q7 3 15 7M280 208q12 2 22 -6M135 261q9 2 17 2M23 80q7 2 14 4M244 59q7 3 15 5M0 294q15 -3 27 6M288 257q12 -4 25 0M187 286q12 1 24 0M71 119q7 4 15 3M214 247q12 8 26 9M7 37q13 0 25 4M72 102q11 8 23 15M261 128q11 -6 23 -2M90 54q8 -1 15 3M239 154q10 -2 18 3M19 4q10 2 21 1M5 60q10 1 20 2M56 21q9 7 21 11M82 250q8 3 16 1M204 259q13 -2 25 -6M220 83q13 -2 23 5M102 229q10 -3 20 1M233 270q13 4 27 2M54 60q10 8 23 6M17 59q13 1 26 3M233 194q7 1 13 5M42 224q10 8 23 6M194 47q7 4 14 1M216 138q10 -0 20 -4M60 112q8 2 16 -1M217 277q10 -2 19 2M0 25q15 0 29 -3M281 260q15 1 28 7M26 66q12 1 24 -2M87 284q14 4 27 8M24 118q8 1 15 4M251 217q7 4 15 5M46 37q11 -3 21 1M127 247q15 0 29 2M281 45q7 5 16 2M65 106q14 -5 28 2M220 131q10 -0 19 1M280 39q8 -2 16 1M59 61q11 4 23 4M230 268q7 4 14 4M48 289q11 -2 21 5M136 29q14 1 27 6M253 181q12 8 26 7M23 83q13 9 28 5M167 22q7 -2 15 -1M211 234q5 -6 14 -6M196 55q10 -0 20 3M235 35q12 -2 23 1M95 232q8 6 18 5M39 32q13 4 25 10M226 31q9 -4 18 -2M130 33q13 -6 27 -0M260 59q9 -2 17 4M266 168q7 12 21 14M283 115q6 4 13 7M43 119q11 -2 23 0M27 286q10 -4 20 -1M232 275q12 -5 25 0M18 194q8 -3 15 2M96 250q13 -2 24 4M259 174q12 5 23 -1M286 63q10 -0 20 3M151 33q9 4 18 2M238 288q12 0 25 -1M62 92q8 -1 16 1M17 12q9 0 18 1M76 248q14 1 27 -3M274 40q10 3 20 4M233 153q10 0 19 2M240 213q12 -3 23 -3M285 190q12 -5 24 -3M50 275q10 -3 20 -1M273 248q13 -1 25 6M109 52q14 1 25 -7M56 246q10 9 24 9M185 10q11 -1 21 1M111 31q11 -1 21 4M99 14q11 1 21 5M12 217q13 3 26 1M128 261q15 -0 29 1M234 64q8 2 16 1M233 90q11 4 21 -2M229 12q7 -3 14 -4M124 252q10 -1 20 2M142 23q8 -0 15 3M245 73q9 4 18 3M28 165q13 3 24 -3M71 60q12 2 23 0M120 250q8 5 17 3M226 5q11 4 23 3M266 69q9 -4 19 -1M162 38q10 11 25 10M228 68q8 3 15 0M66 124q7 1 15 0M261 183q8 2 15 -3M76 278q9 3 17 6M7 211q12 2 24 3M266 244q11 -2 22 -4M197 54q13 -6 27 1M169 260q10 1 19 5M41 231q14 8 28 3M81 39q13 -2 26 -4M52 287q14 4 27 3M186 276q13 2 24 7M61 214q9 -1 16 5M47 72q12 -0 24 -1M133 269q9 7 21 4M228 142q8 -1 15 2M50 228q8 1 14 -2M80 60q11 2 22 5M26 193q7 3 15 -0M284 251q8 -2 16 1M227 167q12 -1 21 8M240 117q11 9 25 6M12 84q8 -1 15 2M62 261q15 2 30 -1M235 33q9 0 17 5M136 253q14 -3 27 -0M298 32q10 4 20 5M59 258q12 3 25 4M4 26q9 8 22 7M201 25q8 2 15 6M293 191q9 2 18 3M60 201q13 9 28 5M54 199q12 -3 25 -6M216 50q13 7 27 3M276 108q10 1 19 -1M50 135q10 6 22 5M271 165q9 8 21 12M31 277q6 4 14 6M258 117q7 -4 15 -3" stroke="#6a6a6e" stroke-width="1.4" opacity="0.35" stroke-linecap="round" fill="none" filter="url(#soft2)"/>
<path d="M278 52q9 7 21 5M48 288q15 -3 30 3M37 142q10 -1 19 -4M48 64q8 1 15 1M281 92q15 -3 29 0M52 220q11 4 22 7M4 75q12 10 28 7M254 111q10 7 22 5M247 156q13 -3 24 4M196 40q10 3 20 3M78 297q8 13 24 16M171 251q11 -3 20 2M278 276q9 3 18 2M51 244q7 1 14 4M235 146q13 -3 25 4M93 11q13 5 26 4M184 30q10 -6 21 -7M281 104q12 -2 22 4M259 205q10 -1 19 -2M153 6q12 4 25 2M8 41q8 2 16 1M295 106q12 0 23 -1M274 259q11 7 25 8M223 206q13 -7 26 -2M51 195q12 -4 24 0M227 96q15 -0 28 5M289 98q11 -0 22 3M259 214q12 -4 23 1M30 211q9 -12 24 -14M283 159q15 -4 30 -2M265 74q7 -0 14 2M104 28q12 -1 21 6M238 283q8 -3 16 0M55 255q13 5 26 1M214 198q15 3 30 3M228 278q7 -1 15 1M15 194q8 -1 17 -1M264 97q9 -3 17 -1M240 71q14 -5 27 1M90 287q10 -6 22 -3M34 56q8 -2 16 1M240 216q11 -3 22 -0M29 33q6 4 14 4M283 119q14 -3 28 -1M71 25q14 4 28 1M48 208q13 3 25 9M225 252q14 2 27 3M22 182q12 3 24 3M13 268q11 1 22 -2M27 98q13 -4 26 -5M231 36q8 -0 15 2M283 50q11 5 23 4M212 12q7 6 16 7M196 291q9 5 20 3M47 80q11 -3 23 -0M37 142q10 6 21 5M66 218q9 4 18 3M74 21q9 5 18 1M45 31q14 -2 27 2M270 279q9 -2 17 0M28 46q11 3 22 5M88 19q7 -2 14 0M261 68q14 -6 29 1M229 130q7 8 18 11M2 159q12 6 24 12M84 289q6 -4 14 -3M86 290q7 -3 15 -3M82 2q11 8 25 9M1 274q15 -3 28 6M54 128q14 8 30 4M71 120q8 5 18 4M65 26q11 -2 22 1M206 289q7 2 15 3M22 49q12 8 26 6M150 274q12 3 25 3M102 50q7 5 16 6M231 16q13 -1 24 6M282 88q10 4 19 -2M242 254q11 -3 23 0M153 38q15 0 30 4M218 190q7 2 14 -0M17 64q11 -0 22 5M218 262q9 -2 16 -6M300 21q12 3 25 3M234 194q13 -3 23 5M5 224q10 2 19 0M36 192q13 1 21 12M111 238q13 3 26 2M161 41q8 6 18 3M19 42q10 -0 17 7M42 85q12 -1 22 6M109 271q14 0 28 2M229 253q14 -4 28 -0M235 83q13 10 29 7M104 32q14 3 26 10M191 51q8 3 18 2M61 71q14 8 29 2M184 246q14 -5 28 -0M251 33q14 0 26 7M68 55q8 2 17 -0M62 74q10 2 21 1M36 44q10 0 20 3M262 55q12 1 23 1M254 169q14 0 27 3M32 159q9 8 21 8M8 241q12 -0 23 6M121 290q11 4 21 -2M249 81q8 -1 17 -0M69 280q12 2 25 2M273 241q12 7 26 6M243 85q9 5 18 3M253 246q9 -2 17 2M96 21q10 4 21 8M111 18q7 5 15 5M222 67q8 9 20 9M131 45q8 2 16 -1M226 143q8 -3 16 1M7 197q8 5 18 2M254 42q7 -5 16 -3M260 242q9 1 17 0M112 291q7 -1 15 -1M274 223q13 -3 26 -2M273 168q10 2 21 1M66 78q13 6 27 9M264 200q9 -0 18 4M119 47q9 4 19 4M265 57q14 -0 22 10M282 261q14 3 25 13M59 39q9 -2 17 1M167 20q8 -2 15 -0M293 56q6 5 14 4M90 282q7 -4 15 -1M87 255q12 1 22 9M235 285q10 -1 20 3M269 227q11 2 22 1M237 173q16 2 29 -6M3 42q10 10 24 11M84 272q8 -2 15 2M265 224q10 6 22 9M275 117q11 2 22 5M236 270q11 1 21 -1M296 12q10 1 20 -1M103 59q12 4 25 5M299 14q12 6 25 2M40 161q7 6 16 6M55 292q8 7 18 9M287 276q11 6 23 5M70 247q11 -5 22 -2M100 292q7 7 16 5M69 265q11 2 22 -1M243 242q14 5 27 11M159 292q10 0 17 7M44 58q9 -1 18 1M170 7q8 -1 16 -2M74 51q10 8 22 7M295 239q12 3 23 -0M36 271q12 9 28 11M217 162q7 4 16 3M239 81q14 5 28 1M128 268q11 3 22 6M73 50q7 5 16 5M202 248q9 -6 19 -3M254 106q15 -1 29 -1M220 30q10 2 21 3M285 94q10 7 23 9M194 236q8 2 16 -2M46 58q14 -8 29 -6M55 254q12 5 24 7M81 40q14 4 29 6M54 277q7 9 19 9M144 6q8 6 18 4M58 217q13 -1 24 5M221 82q10 7 22 6M73 274q12 -4 25 -1M92 10q8 -1 15 2M14 215q15 -2 27 8M240 165q8 6 18 3M90 281q12 2 23 2M281 234q14 -8 30 -1M236 2q8 -5 17 -5M42 98q10 5 21 2M121 288q10 -1 20 -4M132 10q14 -1 28 4M220 212q7 4 15 2M225 209q12 -2 24 1M150 10q14 5 27 9M111 254q11 7 24 8M34 186q7 6 16 5M275 273q9 -4 17 0M276 31q6 -3 14 -3M300 228q11 5 22 10M91 269q16 -5 29 4M31 263q9 6 20 5M226 100q12 -3 22 5M240 174q7 3 14 3M244 298q8 4 17 1M219 64q9 5 20 2M239 218q9 6 20 4M244 72q11 7 24 9M245 57q14 6 28 7M245 174q12 0 23 5M274 120q7 4 14 2M248 135q8 6 19 6M273 146q9 -1 18 1M245 137q12 -1 24 0M58 139q10 -5 20 -4M248 177q15 -2 30 -2M299 63q12 -2 23 5M213 177q10 -5 21 -4M234 118q13 2 25 -2M278 44q9 -2 18 -2M124 255q14 6 29 3M299 259q12 3 23 -1M162 277q12 -1 22 4M293 211q15 1 24 13M206 231q8 -0 13 5M21 218q9 7 20 11M2 2q11 1 20 6M56 216q9 8 21 6M8 73q15 3 30 3M26 178q15 1 28 10M7 76q12 -8 27 -7M25 122q10 -8 22 -7M218 276q9 -3 18 -0M28 298q13 6 26 1M250 3q8 4 16 1M243 139q12 2 24 0M11 60q12 6 25 4M74 214q10 5 21 3M206 273q9 -2 17 4M62 4q9 -1 18 1M103 243q13 7 28 5M85 63q9 1 15 8M266 68q9 2 18 -2M261 169q12 -0 23 6M245 61q12 0 25 -2M270 97q15 4 30 2M75 84q15 0 25 10M266 111q12 -2 23 3M280 275q12 2 23 5M74 273q13 0 23 7M181 268q12 -2 24 2M48 88q8 3 16 4M274 234q9 3 17 -2M192 248q11 -4 22 -1M173 261q11 8 25 10M47 112q9 -3 17 0M106 294q9 4 19 -0M8 133q11 -2 22 -2M65 55q11 -1 20 4M161 10q10 3 20 4M58 129q14 -2 25 9M84 39q7 -3 14 0M244 164q12 -2 23 2M196 41q7 -1 14 1M290 191q9 -2 18 2M299 51q8 3 16 5M267 12q8 3 15 -0M205 230q11 2 22 2M226 28q7 2 15 -0M50 162q12 2 22 9M136 4q7 4 15 1M265 85q11 -0 21 -3M184 291q16 -5 29 4M253 109q9 -0 17 1M287 79q9 4 18 2M130 261q13 7 28 8M7 272q11 4 23 7M286 141q13 1 26 5M29 104q8 2 17 -1M86 298q9 4 18 -0M283 220q15 1 28 7M280 108q8 1 15 -1M53 62q12 0 24 5M46 13q12 2 23 -1M216 122q6 4 13 7M259 23q11 2 22 6M79 274q8 4 17 1M148 279q9 -1 17 4M200 267q8 5 17 5M243 223q8 5 17 5M220 44q8 1 15 -3M30 169q15 3 29 8M81 218q10 4 21 3M52 256q14 -3 28 1M63 225q10 0 19 1M233 116q10 -1 20 -0M225 81q13 -1 25 4M2 214q12 2 23 4M244 52q14 -3 28 3M274 158q13 5 26 5M38 194q9 1 18 2M221 245q13 3 25 -1M191 250q8 -1 15 -3M147 5q8 4 17 2M169 37q13 7 27 4M141 9q9 0 18 3M12 217q8 5 17 4M166 276q11 1 22 3M211 248q7 1 14 -0M240 79q13 -5 27 -2M10 211q11 6 24 8M213 256q9 8 21 7M102 278q8 2 16 3M270 288q10 -4 20 2M248 25q9 -3 17 2M218 266q14 -2 26 6M157 23q14 5 29 2M23 131q9 -2 18 2M231 220q9 6 21 5M217 76q9 1 18 3M32 275q11 5 22 7M35 150q10 -2 19 -2M100 287q9 2 17 -1M2 251q13 5 26 0M242 100q12 1 24 1M170 250q14 -1 27 4M276 266q7 6 16 4M218 74q10 3 19 0M47 12q13 7 26 2M257 224q12 -6 25 -3M271 231q10 0 19 5M2 275q13 9 28 4M94 16q10 11 25 12M132 300q7 2 15 3M277 167q8 -0 15 3M269 57q13 2 26 5M47 202q7 -1 15 -0M36 121q8 4 16 2M248 295q10 3 20 -1M16 260q13 -2 26 1M41 246q13 3 26 6M86 43q14 -2 27 2M13 96q12 -2 25 -1M1 63q8 5 16 9M87 276q14 -2 27 -0M201 38q11 5 22 2M70 209q14 3 25 13M252 106q15 -1 29 3M297 156q12 4 24 7M289 123q13 5 27 7M249 221q8 -1 16 -3M228 52q9 11 23 11M117 26q8 2 16 -0M8 40q12 6 26 3M51 120q8 2 17 -0M107 45q13 9 29 4M26 194q14 2 29 0M8 34q10 1 18 8M22 143q11 -3 22 -3M197 273q8 7 19 5M275 226q12 -5 24 1M226 116q12 0 22 6M294 289q8 -4 16 -4M221 66q9 -0 17 3M240 191q9 10 22 15M21 169q12 -4 23 2M13 29q8 -2 15 3M229 156q13 7 26 1M0 33q10 8 23 8M8 295q9 -3 19 -3M65 270q14 4 28 -2M7 26q15 1 28 10M26 60q11 -2 22 -5M221 282q12 1 23 6M190 239q8 1 16 1M294 120q13 3 26 2M252 219q13 7 27 3M59 25q7 6 17 7M60 265q9 -6 20 -3M218 52q10 -1 19 5M259 41q7 -5 16 -4M40 53q9 5 19 2M129 251q12 2 25 4M272 131q7 4 15 7M75 218q6 6 14 9M234 44q8 4 17 5M56 299q8 3 16 3M266 204q14 1 27 7M282 29q10 4 21 4M23 47q15 -7 29 -0M26 266q13 -6 27 -0M262 45q8 5 17 6M103 261q7 3 15 6M48 220q13 3 27 3M54 299q9 -3 18 2M94 250q11 1 21 -2M161 16q14 -4 27 0M212 283q13 1 26 -4M75 35q14 -1 28 0M3 126q8 1 16 4M90 1q8 -3 17 -1M229 55q8 -1 16 1M174 45q13 -3 24 4M4 98q10 1 20 3M24 96q11 6 24 6M241 16q8 2 15 -1M29 177q13 3 26 -1M124 253q13 -2 25 3M168 42q10 -2 19 2" stroke="#202024" stroke-width="1.4" opacity="0.4" stroke-linecap="round" fill="none" filter="url(#soft2)"/>
<path d="M106.7,54.3 C111.1,51.8 123.3,48.4 131.1,46.8 C138.9,45.2 146.7,44.9 153.6,44.9 C160.5,44.9 166.7,44.9 172.3,46.8 C177.9,48.7 182.3,52.8 187.3,56.2 C192.3,59.6 197.5,63.4 202.2,67.4 C206.9,71.5 211.7,76.1 215.4,80.5 C219.2,84.9 224.1,88.3 224.7,93.6 C225.3,98.9 221,106.2 219.1,112.4 C217.2,118.7 214.1,124.9 213.5,131.1 C212.9,137.3 215.7,143.6 215.4,149.8 C215.1,156 213.2,162.2 211.6,168.5 C210,174.8 206.3,181.7 206,187.3 C205.7,192.9 206.9,196.6 209.7,202.2 C212.5,207.8 223.4,216.6 222.8,221 C222.2,225.4 211.9,226.6 206,228.5 C200.1,230.4 192,229.7 187.3,232.2 C182.6,234.7 182.3,240.3 177.9,243.4 C173.5,246.5 166.9,250.3 161,250.9 C155.1,251.5 147.9,249.1 142.3,247.2 C136.7,245.3 133.5,243.1 127.3,239.7 C121.1,236.3 111.1,230.3 104.9,226.6 C98.7,222.8 95.5,220 89.9,217.2 C84.3,214.4 76.8,213.1 71.2,209.7 C65.6,206.3 58.1,201 56.2,196.6 C54.3,192.2 59,188.2 59.9,183.5 C60.8,178.8 61.2,173.5 61.8,168.5 C62.4,163.5 62.1,159.2 63.7,153.6 C65.3,148 69,141.7 71.2,134.8 C73.4,127.9 75.5,119.3 76.8,112.4 C78,105.5 79,99.2 78.7,93.6 C78.4,88 73.4,82.4 74.9,78.7 C76.5,75 83,74 88,71.2 C93,68.4 101.8,64.6 104.9,61.8 C108,59 102.3,56.8 106.7,54.3Z" fill="none" stroke="#141416" stroke-width="14" opacity="0.85" filter="url(#bM)"/>
<path d="M106.7,54.3 C111.1,51.8 123.3,48.4 131.1,46.8 C138.9,45.2 146.7,44.9 153.6,44.9 C160.5,44.9 166.7,44.9 172.3,46.8 C177.9,48.7 182.3,52.8 187.3,56.2 C192.3,59.6 197.5,63.4 202.2,67.4 C206.9,71.5 211.7,76.1 215.4,80.5 C219.2,84.9 224.1,88.3 224.7,93.6 C225.3,98.9 221,106.2 219.1,112.4 C217.2,118.7 214.1,124.9 213.5,131.1 C212.9,137.3 215.7,143.6 215.4,149.8 C215.1,156 213.2,162.2 211.6,168.5 C210,174.8 206.3,181.7 206,187.3 C205.7,192.9 206.9,196.6 209.7,202.2 C212.5,207.8 223.4,216.6 222.8,221 C222.2,225.4 211.9,226.6 206,228.5 C200.1,230.4 192,229.7 187.3,232.2 C182.6,234.7 182.3,240.3 177.9,243.4 C173.5,246.5 166.9,250.3 161,250.9 C155.1,251.5 147.9,249.1 142.3,247.2 C136.7,245.3 133.5,243.1 127.3,239.7 C121.1,236.3 111.1,230.3 104.9,226.6 C98.7,222.8 95.5,220 89.9,217.2 C84.3,214.4 76.8,213.1 71.2,209.7 C65.6,206.3 58.1,201 56.2,196.6 C54.3,192.2 59,188.2 59.9,183.5 C60.8,178.8 61.2,173.5 61.8,168.5 C62.4,163.5 62.1,159.2 63.7,153.6 C65.3,148 69,141.7 71.2,134.8 C73.4,127.9 75.5,119.3 76.8,112.4 C78,105.5 79,99.2 78.7,93.6 C78.4,88 73.4,82.4 74.9,78.7 C76.5,75 83,74 88,71.2 C93,68.4 101.8,64.6 104.9,61.8 C108,59 102.3,56.8 106.7,54.3Z" fill="#e2e0e0" opacity="1" filter="url(#fuzz)"/>
<ellipse cx="145" cy="140" rx="50" ry="75" fill="#d4d0d0" opacity="0.6" filter="url(#bL)"/>
<ellipse cx="120" cy="230" rx="50" ry="18" fill="#c8b8a4" opacity="0.7" filter="url(#bM)"/>
<clipPath id="gt6"><path d="M106.7,54.3 C111.1,51.8 123.3,48.4 131.1,46.8 C138.9,45.2 146.7,44.9 153.6,44.9 C160.5,44.9 166.7,44.9 172.3,46.8 C177.9,48.7 182.3,52.8 187.3,56.2 C192.3,59.6 197.5,63.4 202.2,67.4 C206.9,71.5 211.7,76.1 215.4,80.5 C219.2,84.9 224.1,88.3 224.7,93.6 C225.3,98.9 221,106.2 219.1,112.4 C217.2,118.7 214.1,124.9 213.5,131.1 C212.9,137.3 215.7,143.6 215.4,149.8 C215.1,156 213.2,162.2 211.6,168.5 C210,174.8 206.3,181.7 206,187.3 C205.7,192.9 206.9,196.6 209.7,202.2 C212.5,207.8 223.4,216.6 222.8,221 C222.2,225.4 211.9,226.6 206,228.5 C200.1,230.4 192,229.7 187.3,232.2 C182.6,234.7 182.3,240.3 177.9,243.4 C173.5,246.5 166.9,250.3 161,250.9 C155.1,251.5 147.9,249.1 142.3,247.2 C136.7,245.3 133.5,243.1 127.3,239.7 C121.1,236.3 111.1,230.3 104.9,226.6 C98.7,222.8 95.5,220 89.9,217.2 C84.3,214.4 76.8,213.1 71.2,209.7 C65.6,206.3 58.1,201 56.2,196.6 C54.3,192.2 59,188.2 59.9,183.5 C60.8,178.8 61.2,173.5 61.8,168.5 C62.4,163.5 62.1,159.2 63.7,153.6 C65.3,148 69,141.7 71.2,134.8 C73.4,127.9 75.5,119.3 76.8,112.4 C78,105.5 79,99.2 78.7,93.6 C78.4,88 73.4,82.4 74.9,78.7 C76.5,75 83,74 88,71.2 C93,68.4 101.8,64.6 104.9,61.8 C108,59 102.3,56.8 106.7,54.3Z"/></clipPath><rect x="0" y="0" width="300" height="300" filter="url(#tex4)" opacity="0.6" clip-path="url(#gt6)" style="mix-blend-mode:overlay"/>
<ellipse cx="250" cy="110" rx="45" ry="15" fill="#121214" opacity="0.85" filter="url(#bM)" transform="rotate(15 250 110)"/>
<path d="M134 88q-3 3 -4 7M82 202q-5 7 -3 15M68 184q1 6 -1 11M102 99q-1 8 -7 14M118 131q1 5 -2 10M204 160q-1 4 -4 8M137 223q-1 5 -4 10M102 162q0 5 -3 9M92 148q-2 4 -4 8M152 76q-2 6 -4 11M162 119q-7 3 -8 9M143 131q-3 3 -5 7M145 54q-3 3 -3 7M165 122q-1 7 -2 14M111 124q0 7 -1 14M180 71q-2 7 -5 14M84 134q-1 4 -1 7M114 186q-3 4 -3 9M124 60q-3 6 -2 12M200 179q-0 7 -3 13M92 77q0 8 -4 13M86 128q-1 5 -1 9M158 249q-2 6 -7 10M126 194q-4 6 -6 12M122 193q1 8 -3 14M171 175q0 5 -3 9M102 216q-1 5 -4 9M163 81q-3 5 -2 11M127 189q-1 6 -2 12M88 160q-3 3 -3 7M76 80q-0 4 -3 7M166 48q-4 5 -2 11M146 189q3 8 -1 16M177 186q-1 5 -4 8M122 231q-1 4 -0 8M78 118q-2 3 -3 7M142 193q1 7 -3 13M122 90q-1 8 -6 15M211 87q-3 7 -5 15M183 140q-0 7 -6 11M109 67q-0 4 -2 7M189 132q-0 7 0 13M130 110q-2 5 -6 8M191 224q-3 3 -5 7M122 231q-3 3 -3 8M168 165q-3 4 -4 9M160 99q1 7 -3 13M210 127q2 4 -1 8M132 235q-0 4 -3 8M90 77q-1 4 -4 8M172 173q-2 4 -1 9M218 92q-2 4 -5 7M166 139q-6 6 -6 14M170 200q-3 8 -3 16M123 141q-3 6 -8 12M139 206q-1 3 -3 6M80 93q-1 4 -1 8M99 188q-2 5 -3 11M131 107q-0 8 -5 14M69 202q1 5 -2 10M142 233q-0 4 -1 7M99 90q3 8 -1 15M131 82q-1 5 -4 10M197 101q-1 7 -3 13M124 180q-4 4 -5 10M137 199q-5 4 -5 11M136 231q-1 4 -2 8M152 204q-4 6 -6 13M123 54q-1 6 -1 12M110 194q-4 5 -3 12M123 184q-0 7 -5 11M140 218q-3 4 -4 8M127 104q0 5 -3 8M84 180q-0 8 -4 14M92 139q-3 5 -5 10M85 203q-3 3 -3 7M120 61q-0 6 -4 11M168 195q-3 7 -6 13M170 183q-4 6 -5 13M98 193q-1 4 -1 8M124 75q-2 7 -7 12M145 193q-3 5 -6 10M77 126q-0 4 -3 8M175 93q-2 4 -3 7M68 171q1 4 -1 8M123 218q-4 2 -5 6M87 133q0 7 -5 11M165 108q-3 7 -5 14M138 215q-0 7 -5 12M195 182q-1 8 -3 15M92 129q-0 4 -3 7M170 101q-4 7 -7 14M198 71q-1 4 -3 8M136 204q-2 3 -3 7M157 117q-2 3 -2 7M94 98q-1 7 -4 13M211 81q0 4 -1 7M120 231q-2 5 -3 10M132 69q1 7 -2 14M124 118q-3 7 -4 14M83 186q-1 7 -5 14M134 202q-2 4 -2 9M143 46q-1 7 -2 14M173 52q-7 4 -11 12M144 199q-2 4 -4 8M192 188q-3 7 -5 14M187 127q-3 5 -4 11M197 80q-2 4 -4 8M186 194q0 4 -0 8M112 205q2 8 -2 14M164 78q1 5 0 11M121 167q-1 5 -5 8M122 156q-2 7 0 13M129 136q-4 5 -6 12M85 142q-1 5 -4 8M168 93q-2 5 -5 8M170 173q-3 6 -4 12M179 221q2 5 -1 10M117 125q-3 7 -4 15M171 191q0 5 -2 10M167 81q-3 4 -4 8M107 136q-3 3 -4 8M207 123q-5 5 -8 12M196 134q3 8 0 16M82 161q-2 3 -2 7M186 166q-1 4 -0 7M164 114q-2 4 -2 8M171 157q-6 4 -10 10M106 221q-1 5 -3 10M81 210q-0 6 -1 13M135 106q-4 4 -5 9M172 104q-6 5 -10 12M178 119q-2 6 -5 12M198 128q1 6 -2 10M95 71q-1 7 -7 11M168 174q-2 8 1 16M153 230q-2 5 -2 11M120 175q-5 4 -5 11M80 145q-0 7 -2 15M138 207q-4 7 -9 12M166 105q-0 6 -5 9M74 177q-4 4 -5 10M132 239q-1 4 -2 7M103 165q-3 4 -3 9M120 102q-3 4 -3 10M112 183q-2 5 -3 10M102 182q-4 5 -3 12M121 135q0 7 -4 13M127 75q-6 5 -8 12M200 105q-5 3 -5 9M134 241q-0 4 -2 7M127 85q-1 4 -4 7M127 156q1 7 -2 14M153 71q1 6 -1 11M156 67q-2 4 -2 9M190 113q-5 4 -7 10M143 210q-1 3 -3 7M181 141q-1 5 -3 10M105 120q-3 6 -2 12M175 139q-4 7 -5 15M173 239q-6 5 -7 12M138 242q-5 5 -5 12M198 173q1 7 -2 13M102 203q-3 4 -3 8M195 98q-5 5 -6 12M64 184q-4 2 -4 7M168 161q-1 4 -3 8M192 160q-2 6 -6 12M118 84q-3 6 -4 13M83 178q-0 4 -3 8M116 184q-5 5 -7 12M186 229q-0 4 -0 8M154 126q-1 4 0 7M180 174q-4 6 -8 12M216 104q-3 5 -4 10M152 174q-4 6 -6 13M181 139q-2 5 -4 11M80 81q-3 6 -2 12M147 231q-1 8 -2 16M191 182q0 7 -1 13M176 61q1 4 -2 8M179 55q-3 7 -8 13M152 173q-2 3 -4 6M150 80q-3 2 -4 6M197 118q-1 7 -3 14M67 195q1 5 -2 9M90 174q-3 4 -7 8M196 63q-1 6 -1 12M78 83q2 7 -1 14M131 170q-4 4 -3 9M152 170q0 5 -0 10M196 201q-1 8 -6 13M172 230q-1 8 -0 16M73 133q-4 6 -9 11M160 128q-3 6 -3 12M140 235q-5 4 -5 11M187 187q-1 7 -2 14M203 201q-5 4 -5 10M62 189q-2 4 -4 8M100 198q-5 5 -4 12M115 218q-2 5 -1 9M187 95q-3 5 -2 11M116 92q-5 6 -7 14M183 209q0 8 -6 14M137 170q-4 6 -2 14M156 52q-6 5 -6 13M208 160q-6 5 -5 13M146 137q-1 4 -3 8M119 183q-3 4 -1 8M103 67q-4 6 -5 14M140 162q-1 7 -2 13M176 63q-3 6 -2 12M68 149q0 7 -4 13M164 202q0 4 -3 7M170 52q-0 5 -1 9M189 68q-3 3 -3 7M111 191q-4 6 -8 12M151 57q-3 7 -1 15M120 83q-7 5 -7 14M139 240q-3 6 -6 12M120 56q-2 6 -3 13M75 170q1 4 0 8M85 110q-1 4 -2 9M93 125q-0 7 -5 12M146 186q-4 6 -7 13M137 75q-5 6 -8 14M146 56q-1 4 -2 9M93 181q1 9 -4 15M175 59q-4 6 -3 12M77 206q-4 5 -7 10M91 137q1 8 -0 15M142 139q-1 7 -7 12M165 89q-1 9 -8 14M157 70q-4 6 -6 13M88 173q-1 7 -5 13M153 86q-3 2 -4 6M150 116q1 6 -1 11M192 215q1 7 -1 13M202 121q-2 8 -4 15M173 62q2 7 -1 14M185 233q-1 4 -4 8M184 80q-3 6 -5 12M91 155q-2 5 -4 11M107 153q-3 4 -3 10M132 88q-1 7 -1 14M138 112q-2 4 -3 9M137 189q1 5 -2 9M138 70q-0 4 -2 7M114 162q2 4 0 9M77 168q-1 7 -6 12M208 104q-0 4 -2 8M82 107q-1 4 -1 9M154 140q0 8 -1 16M111 167q-3 7 -9 13M187 83q-3 4 -5 9M126 65q2 7 -1 13M85 167q-5 6 -7 13M115 140q-4 6 -4 14M143 233q-1 5 -2 10M207 170q-1 4 -1 8M138 185q-4 5 -4 12M133 104q-1 8 -0 15M131 200q-4 6 -6 14M162 178q-3 3 -2 7M101 121q1 8 2 16M155 246q0 8 -4 15M167 72q-3 8 -1 16M205 149q-1 5 -5 7M193 92q1 6 0 12M167 118q-3 4 -3 9M154 158q-2 8 -6 14M199 120q-2 3 -2 7M163 197q0 5 -1 10M112 166q-1 5 -4 9M75 182q-4 6 -4 13M145 209q1 5 -2 9M162 217q-5 3 -6 10M195 127q-3 7 -3 15M187 121q-0 6 -4 11M180 81q-2 6 -5 12M194 162q-0 4 -4 6M132 214q1 8 -3 14M160 182q-4 6 -4 13M204 179q-2 8 3 16M108 205q-1 4 -2 8M72 175q1 4 0 7M179 173q0 7 -4 12M97 150q0 5 -3 9M154 169q-3 5 -5 11M180 210q-3 6 -4 12M194 130q-4 4 -3 10M88 162q-0 4 -3 8M191 196q-5 5 -7 10M96 71q-2 7 -4 14M108 183q-3 3 -4 7M179 141q-1 4 -1 8M216 104q0 8 -4 14M97 99q-1 5 -3 8M144 82q-2 5 -2 10M134 146q1 5 1 10M149 200q-0 6 -5 10M149 234q-3 6 -4 12M203 226q-2 8 -1 15M184 69q-3 3 -3 7M146 156q-5 4 -6 9M141 199q-1 7 -1 14M200 121q0 8 -2 15M127 80q-3 4 -2 9M203 129q-0 4 -3 8M197 199q-3 7 -6 14M152 191q-1 4 -2 8M87 82q-3 5 -5 11M94 167q-3 8 -6 15M186 210q2 5 1 11M164 85q-2 6 -6 12M171 172q-3 4 -5 9M86 205q-3 7 -7 13M136 93q-1 4 -5 7M98 70q-2 4 -2 9M143 144q-3 6 -2 12M182 172q-4 4 -4 9M143 202q1 5 -1 9M160 66q-3 5 -3 11M74 192q-4 5 -3 10M197 208q-4 5 -4 12M156 182q-5 7 -5 15M148 198q0 7 -5 12M74 131q-1 6 -5 10M87 102q-0 7 -3 14M160 197q-5 5 -5 11M138 93q-2 7 -4 13M120 196q-1 3 -4 6M93 113q-2 4 -2 8M175 78q-1 7 -6 12M133 197q-4 5 -4 10M212 84q-1 4 -3 7M115 125q-0 7 -5 11M134 219q1 8 -1 15M59 196q-2 4 -0 7M144 128q-1 8 3 15M134 88q-3 3 -4 7M131 110q-2 3 -3 7M158 242q0 6 -0 12M94 202q0 7 -3 13M147 114q-4 7 -2 14M112 74q-2 4 -3 8M128 150q-1 5 1 9M138 149q-1 6 -5 11M125 150q-5 5 -7 12M173 146q-1 7 -6 12M170 215q-2 4 -2 9M60 190q-4 6 -3 13M138 240q-2 5 -4 11M118 82q0 5 -3 9M164 163q-3 6 -3 12M85 109q2 8 -2 16M109 177q-3 4 -3 10M115 65q0 7 -3 13M80 130q-4 7 -3 14M88 156q-1 5 -3 10M122 109q-3 4 -4 10M144 69q-3 3 -3 7M172 126q0 5 -2 10M192 67q-5 6 -7 14M161 167q-1 5 -4 9M157 136q-4 6 -8 12M209 155q-2 8 -1 15M203 111q0 5 -3 10M162 122q-1 5 -3 9M100 112q-3 4 -2 9M197 206q2 4 -0 9M194 82q-2 6 -4 13M153 66q-5 7 -6 15M210 217q-4 6 -6 13M157 80q-1 4 -1 9M97 102q-2 5 -3 11M207 201q-4 7 -3 15M162 138q-0 7 -3 12M157 51q-3 6 -7 12M145 207q-5 6 -5 15M129 161q-1 4 -3 8M174 67q0 5 -1 10M152 64q-1 6 -5 11M216 212q-4 4 -3 10M132 230q-4 4 -5 9M214 145q-3 2 -4 6M166 170q-6 5 -7 12M145 82q0 6 1 13M214 90q-1 7 -6 12M163 204q-1 5 -1 10M120 143q-4 4 -6 8M168 226q-1 6 -3 12M169 223q-1 4 -3 8M184 175q-2 7 -3 14M178 225q2 4 -0 8M146 216q0 5 -3 8M107 201q-1 6 -6 11M65 168q-2 5 -6 9M155 112q2 8 -3 14M169 117q-5 5 -4 12M82 175q-1 4 -2 7M169 228q-1 7 -6 12M88 129q-3 3 -4 7M82 186q-0 4 -1 8M110 113q-0 8 -2 15M209 80q-3 5 -1 11M115 98q-3 3 -3 7M207 226q-1 4 -3 7M128 173q1 5 -0 9M175 132q-1 4 -2 8M167 243q-1 5 -4 8M149 247q-3 4 -3 10M138 93q0 5 -2 10M208 129q-1 8 -4 14M118 115q-7 3 -10 10M189 185q-2 7 -0 14M202 155q-1 8 -1 15M185 170q-1 4 -3 8M121 142q-4 3 -5 8M88 74q-7 4 -9 11M172 61q-4 5 -5 11M167 199q-3 5 -2 10M86 171q-1 6 -6 9M195 174q-4 2 -6 6M159 60q-4 6 -1 13M135 213q-2 6 -6 11M162 191q-1 7 -3 14M92 196q-0 4 -1 8M206 73q-2 4 -4 7M155 119q0 5 -3 8M106 203q-3 4 -4 9M161 70q-4 5 -6 11M154 203q-2 4 -5 9M58 194q-3 3 -4 8M103 222q-5 4 -5 11M182 157q-3 7 -6 14M213 107q-3 5 -3 11M180 135q-1 6 -3 12M191 132q-3 4 -4 9M84 135q-1 4 -1 9M195 172q-3 7 -7 14M155 65q-2 5 -3 10M148 215q-5 6 -10 12M203 106q-4 6 -4 13M116 217q-2 6 -6 12M154 190q-4 5 -7 11M135 78q-2 3 -5 6M184 121q-1 4 -2 7M113 167q0 4 0 7M123 162q-3 7 -6 14M126 139q-4 7 -4 15M101 149q-4 3 -4 7M205 135q-2 4 -4 7M85 208q-3 4 -3 9M73 192q-1 5 -5 8M127 181q-3 3 -4 8M193 67q-1 7 -0 13M118 142q-2 4 -2 8M161 77q-2 3 -4 7M124 164q-0 5 -4 9M219 88q-5 4 -8 9M132 117q-5 7 -4 15M183 134q-3 6 -8 11M163 152q-0 6 -4 11M99 108q0 8 -5 13M133 240q-2 7 -7 14M117 105q-4 6 -4 14M203 146q-3 3 -3 8M90 200q-5 5 -4 12M107 114q-4 5 -3 11M106 64q2 5 -1 10M91 109q-3 5 -4 12M135 92q-3 5 -3 10M93 73q-1 4 -4 7M80 203q-4 5 -5 11M157 85q-2 5 -5 10M105 216q-2 3 -4 6M199 79q-4 3 -5 9M166 167q0 5 -0 9M102 221q-0 4 -3 7M165 61q-1 6 -3 11M117 184q1 8 -2 16M109 142q-4 4 -6 9M145 115q-3 7 -3 14M203 205q-2 5 -4 9M98 209q-2 6 -3 13M122 75q-2 5 -5 10M180 166q1 5 -2 9M159 236q1 4 -1 9M207 128q-1 4 -3 7M112 144q-2 7 -7 11M95 175q-2 8 -9 13M107 201q-0 6 -5 9M180 86q-1 4 -3 7M183 237q-0 7 -2 14M194 207q-3 3 -4 7M98 165q-0 5 -4 9M170 59q-0 5 -4 9M142 167q1 5 0 10M206 92q-0 5 -4 8M192 72q-3 6 -7 12M149 149q-1 5 -2 10M128 103q-1 4 -2 9M149 125q-2 5 -6 8M156 100q-4 7 -3 15M112 139q-2 5 -5 10M150 136q1 6 0 13M162 100q-2 4 -1 8M208 200q1 7 -3 13M173 61q-4 5 -3 12M148 62q-4 7 -3 15M142 228q1 4 -2 8M130 144q-3 6 -7 11M116 162q-1 5 -3 10M145 240q2 7 -1 14M59 194q-4 6 -5 13M181 143q-2 7 -4 13M176 223q-2 3 -3 7M202 131q-3 4 -3 9M148 70q-2 4 -5 7M151 79q-2 5 1 9M164 132q1 7 -0 13M169 112q-4 3 -6 8M116 157q-5 6 -7 14M81 131q-0 4 -1 8M145 161q1 7 -3 13M179 59q-5 5 -7 12M196 229q0 5 -2 11M100 135q-2 5 -4 9M136 184q-5 5 -8 10M101 113q-4 6 -3 13M153 207q-1 4 -3 8M207 169q-0 7 -5 12M83 136q-3 3 -4 6M114 232q-1 4 -2 7M161 223q-2 6 -6 12M104 212q-4 5 -4 11M171 100q-3 5 -2 11M61 176q-5 6 -5 13M197 93q-0 8 -6 14M180 128q-2 5 -4 10M156 105q-4 5 -6 11M97 169q-3 4 -4 9M223 96q-2 6 -4 11M113 125q-0 5 -2 10M148 97q-5 6 -4 13M201 196q1 4 -1 8M190 90q1 7 -4 13M168 182q-1 8 -4 14M166 154q-0 6 -3 11M150 67q-1 5 -2 10M131 139q0 6 -3 11M124 211q-2 6 -4 11M121 153q-2 7 -1 14M175 136q-1 5 -5 9M196 114q0 4 -2 7M100 152q-4 6 -5 13M164 217q-4 3 -5 9M93 208q0 4 -2 8M179 238q-2 7 -2 14M183 69q-4 5 -4 11M202 147q-4 3 -6 7M150 82q1 6 2 13M159 203q-2 6 -2 12M120 144q-3 5 -5 10M90 106q-3 4 -4 9M137 137q-3 5 -4 11M78 201q-2 7 -4 14M203 109q-0 6 -4 10M184 200q-1 4 -2 8M214 95q1 8 -3 15M186 196q-3 7 -8 14M71 156q-3 6 -2 12M112 157q0 4 0 8M152 194q-2 5 -2 11M178 79q-4 7 -10 12M145 160q-6 4 -8 11M75 123q-2 3 -3 7M60 182q-2 7 -6 14M88 199q-2 6 -6 12M114 168q-1 4 -3 8M176 59q-3 7 -3 15M176 211q-3 5 -1 11M180 108q-1 6 -3 12M154 143q1 6 -3 10M181 153q-4 4 -3 10M129 71q-2 3 -5 6M160 96q-4 4 -3 9M169 110q-1 5 -2 9M172 186q-3 3 -5 7M217 113q-0 8 -5 14M158 209q-4 5 -4 11M92 172q-4 5 -8 10M199 224q-5 6 -5 13M74 182q-2 5 -3 11M184 185q-3 7 -6 14M199 99q-1 6 1 11M184 71q-1 7 -4 14M145 210q-0 7 -4 13M167 220q-0 4 -4 7M134 200q-0 5 -0 10M205 124q-2 7 -5 13M102 141q-1 4 -2 8M111 122q-0 7 -3 14M201 127q2 6 -1 13M215 152q-2 4 -2 8M94 103q-0 5 -4 9M193 145q-4 6 -3 13M140 217q-6 6 -7 13M124 55q-5 5 -6 11M198 93q-2 5 -4 10M181 163q2 6 -2 12M214 81q-1 4 -2 7M145 214q-3 4 -2 10M194 139q-4 2 -5 6M174 99q-3 7 -7 13M197 159q-4 7 -5 14M155 86q-2 4 -5 8M185 222q-2 5 -3 11M162 215q-0 6 -1 12M147 213q-4 5 -7 10M160 185q-1 6 -6 10M135 167q-2 5 -6 7M87 125q-2 4 -2 9M164 230q-6 6 -5 14M125 145q-0 8 -4 15M156 46q1 5 -1 10M83 135q-5 4 -5 10M137 106q-1 6 -5 11M121 139q-4 3 -4 7M181 143q-3 5 -5 11M149 109q-0 8 -5 14M138 212q-3 7 -5 15M95 100q-3 7 -4 13M104 75q1 6 -2 10M150 158q-0 8 -4 15M145 64q-1 7 -4 13M175 141q-2 5 -4 11M157 140q1 8 -4 14M77 84q-1 7 -4 14M163 93q-0 7 -4 14M90 212q-1 5 -1 10M168 74q-0 7 -2 13M170 160q-2 4 -5 7M107 109q1 4 -0 8M83 76q-5 6 -4 14M82 203q-5 4 -5 11M163 88q0 6 -4 10M146 225q-2 5 -4 10M166 122q-2 3 -3 7M164 109q-1 5 -3 10M201 93q-3 3 -4 7M132 68q-5 3 -6 10M162 166q-1 4 -3 7M152 74q-2 3 -3 6M140 147q-2 7 -2 14M161 172q-3 6 -4 11M184 150q-2 4 -2 9M211 147q-0 6 -4 9M178 53q2 5 -1 10M77 124q-0 6 -5 10M124 118q-1 4 -2 8M176 150q-4 5 -4 11M103 197q-1 5 -2 9M163 198q-3 4 -4 8M126 98q-1 5 -3 9M90 99q0 8 -5 13M202 69q2 5 -1 10M214 119q-1 6 0 11M149 192q-1 4 -3 7M118 75q3 8 0 16M156 92q-1 6 -3 12M159 154q-6 5 -7 12M165 139q-2 7 -8 11M107 218q-1 7 -3 14M168 90q-0 5 -0 10M90 207q-1 5 -4 10M197 153q-2 4 -2 9M189 206q-2 5 -2 10M115 139q-0 5 -2 11M127 92q-4 5 -4 10M196 170q-5 6 -3 14M180 198q-2 4 -6 6M169 107q-3 7 -4 15M91 120q-3 6 -3 12M178 212q-4 4 -6 9M119 209q-0 7 -6 11M120 57q-4 5 -5 10M204 212q-3 8 -3 16M94 95q2 5 -1 9M119 122q0 5 -4 8M179 143q1 4 -1 7M189 218q-0 6 -5 10M105 217q1 5 -2 9M130 75q-1 4 -2 9M98 193q0 4 -3 8M159 123q-3 7 -5 13M95 108q-3 5 -7 10M118 104q-3 7 -9 13M86 149q1 7 -3 13M138 83q0 6 -4 11M129 120q0 4 -0 7M120 81q-3 4 -2 9M190 141q0 6 -3 12M148 60q-4 6 -3 13M216 90q-1 7 -4 14M165 205q-6 5 -6 13M117 224q-1 5 -3 9M112 216q-2 4 -5 8M109 189q-1 7 -4 14M190 119q-1 6 -2 12M199 146q-2 3 -3 7M76 124q-1 6 -2 11M180 64q-1 4 -2 8M189 129q-2 4 -3 9M188 93q1 6 -3 10M176 123q-3 7 -8 13M132 95q-2 6 -1 13M142 123q-3 5 -6 10M128 71q-2 7 -2 15M147 105q-5 6 -9 12M198 72q-3 5 -1 11M126 195q0 5 -0 9M192 197q1 4 -0 8M137 82q1 5 -2 9M93 136q1 5 -1 10M119 154q-1 4 -2 7M183 89q-1 7 0 14M178 118q-0 7 -5 13M156 155q2 4 -0 7M145 153q-0 4 -3 7M167 241q0 4 -2 8M99 104q-5 7 -5 15M146 167q-5 4 -4 11M202 131q-1 6 -4 12M104 163q1 7 -2 13M123 95q-7 5 -8 13M152 248q-1 4 -2 7M170 103q1 4 -1 7M114 175q-1 5 -5 9M149 47q-3 3 -3 7M104 71q-2 7 -2 15M176 80q-4 6 -7 12M136 194q-5 6 -6 14M198 64q-3 4 -2 8M160 74q-4 4 -5 9M128 126q-5 6 -7 14M123 95q-3 3 -4 8M190 135q-2 7 -2 15M108 89q-1 4 -2 9M126 139q-4 5 -5 11M139 168q-2 7 -3 14M215 223q1 6 -2 12M99 146q1 5 0 9M83 162q-1 5 -5 9M212 224q-3 4 -3 10M178 199q-4 6 -4 14M199 98q0 8 -4 14M89 89q0 4 -1 7M198 151q-2 5 -4 10M118 54q-3 3 -4 6M146 238q-3 2 -4 7M150 109q-2 5 -2 10M118 76q1 5 -0 11M81 204q-2 7 -8 10M99 218q-6 6 -8 14M190 149q-3 5 -5 12M179 64q1 4 -1 8M181 213q-5 2 -8 7M151 47q-4 4 -6 9M187 138q-3 5 -2 11M167 246q-0 5 -3 9M130 72q1 5 -2 8M95 150q-3 7 -2 14M146 197q-1 7 -2 14M170 58q-0 7 -1 14M74 138q-5 4 -6 9M163 222q-2 4 -6 7M211 114q-1 8 -7 13M86 97q-3 7 -5 14M153 186q-5 2 -6 8M96 172q-2 5 -5 9M207 147q-2 8 -7 14M131 190q-1 4 -3 8M68 206q-1 3 -3 6M98 79q-3 5 -4 12M116 153q1 6 -3 12M122 99q-0 6 -5 10M152 45q-1 8 -3 16M72 178q1 8 -1 16M167 238q-3 7 -2 15M206 222q-7 4 -8 12M112 102q-1 9 -8 14M161 246q0 6 -1 11M136 55q-1 6 -6 9M186 111q-2 4 -6 6M97 216q0 8 -0 15M164 217q-5 6 -5 14M143 192q-4 6 -4 13M172 152q-2 5 -3 10" stroke="#857e7c" stroke-width="1.2" opacity="0.55" stroke-linecap="round" fill="none" filter="url(#soft)"/>
<path d="M143 189q-2 4 0 7M132 216q-3 3 -4 7M177 66q-2 7 -6 13M165 108q-2 4 -6 8M146 54q-1 5 -5 8M84 202q1 8 -5 14M90 193q-3 7 -3 15M90 112q-3 4 -3 9M100 169q-4 4 -6 9M95 155q-1 4 1 7M161 202q-5 6 -8 14M117 116q0 4 -0 8M198 184q-5 5 -8 12M143 169q-2 3 -5 5M108 195q-6 6 -5 15M179 122q1 4 -1 8M105 169q0 5 -3 9M154 83q-3 7 -5 14M178 100q-3 6 -3 12M167 117q-1 5 -3 11M116 71q-1 8 -1 16M70 157q-3 4 -4 8M154 211q-0 4 -3 7M159 97q-2 5 -5 9M181 217q-0 4 -3 6M147 231q0 4 -3 7M111 221q-5 6 -8 14M186 113q-4 3 -4 8M128 52q-1 6 -6 8M159 120q-2 5 -5 10M142 150q-1 4 -2 7M142 195q-2 3 -3 7M193 78q-0 8 3 16M130 124q-5 5 -5 12M140 196q-0 4 -3 8M75 172q-5 5 -6 13M179 115q1 8 -4 14M160 221q-3 6 -5 12M122 101q1 5 -2 8M131 223q-3 4 -6 9M154 122q1 9 -4 15M102 136q0 5 -3 9M110 210q-3 7 -2 15M166 72q3 5 2 10M100 199q-2 4 -2 9M214 113q1 8 -4 15M150 118q1 6 -1 12M163 210q-3 5 -4 10M129 112q-2 6 -5 10M202 81q-4 6 -10 12M208 120q-5 4 -8 9M115 99q1 6 -2 10M171 71q-2 6 -2 12M120 68q-1 6 -3 12M139 192q-4 6 -8 12M161 159q-2 6 -5 11M190 217q-3 5 -3 11M202 201q1 4 -1 8M193 139q-1 6 -1 12M129 103q-4 6 -6 12M179 152q1 4 -1 9M142 93q0 4 -2 8M83 138q-1 4 -1 8M200 150q-4 4 -4 10M215 211q-3 5 -5 10M83 90q-2 3 -3 7M131 173q-4 6 -3 12M70 200q1 6 -1 12M165 173q-3 6 -2 13M167 194q-2 7 -5 14M176 206q-0 7 -6 12M142 234q-4 6 -8 12M84 183q-1 4 -3 8M153 211q-5 5 -6 13M189 171q-1 5 -3 10M205 201q-3 2 -5 5M159 98q-3 5 -2 10M153 212q-1 5 -5 8M141 100q-1 5 1 10M91 174q-4 3 -4 9M128 172q-1 4 -3 8M118 86q-3 4 -4 9M139 161q-7 4 -7 12M196 194q-3 4 -3 9M131 65q-0 6 -5 9M196 208q-3 7 -4 15M98 96q-1 7 -4 13M132 95q-1 8 -7 14M168 195q-2 6 -3 12M155 97q-3 3 -3 8M158 186q-5 6 -8 12M202 197q1 6 -1 12M147 140q-1 6 1 11M71 167q-0 4 -3 7M107 187q-5 3 -6 8M168 202q-2 6 0 12M178 180q-1 5 -3 11M95 84q-1 7 -4 13M195 124q-0 5 -4 9M141 141q-4 3 -7 7M167 178q-3 4 -3 9M123 124q-1 7 -1 13M172 178q-3 3 -4 8M108 79q-1 3 -2 7M194 139q-5 4 -7 11M187 193q-1 3 -3 7M128 139q1 5 -2 10M63 186q-2 6 -7 9M172 162q0 4 -1 8M82 83q-3 3 -3 8M188 215q-3 6 -6 12M135 135q-1 7 -5 12M186 172q-6 4 -7 12M114 229q-3 3 -3 7M123 117q-2 7 -2 14M140 125q1 6 -3 11M133 83q-3 3 -5 8M200 112q0 4 -1 8M140 150q-2 5 -4 11M135 66q-3 5 -2 11M150 238q-3 7 -6 14M84 150q-3 7 -10 10M172 67q-0 5 -3 10M163 120q-2 5 -5 10M195 126q-4 6 -7 11M179 115q-0 8 -5 14M162 175q0 7 -5 12M189 135q-2 3 -1 7M191 167q-1 6 -0 13M91 202q-4 5 -5 11M158 126q-5 6 -8 13M191 78q-0 8 -5 14M122 182q-5 6 -5 13M201 117q3 7 -1 14M93 180q-2 5 -5 9M181 83q-4 4 -2 10M132 102q2 6 -1 11M72 186q1 5 -2 9M177 220q-1 5 -5 9M205 86q-1 5 -5 7M97 121q-6 5 -6 13M200 152q0 4 -3 7M133 81q1 5 -2 8M206 123q-0 6 -3 11M107 223q-0 8 -5 13M174 112q-2 6 -7 10M117 91q-2 6 -6 12M176 131q-3 6 -0 11M99 177q-3 4 -5 9M102 156q-3 3 -2 8M208 118q-1 4 -3 8M76 132q-3 3 -5 7M171 77q2 6 1 12M89 209q-3 7 -5 14M169 208q-5 2 -7 8M142 191q-4 7 -8 13M99 86q-4 3 -3 8M81 161q-2 8 -6 14M131 60q-3 4 -4 9M205 189q-2 6 -6 12M202 100q1 7 -1 15M142 235q-6 5 -6 12M210 131q-1 7 1 13M122 69q-4 6 -4 13M126 186q-2 6 -0 11M161 157q-1 4 -3 8M108 129q-1 4 0 8M96 79q-3 4 -3 9M126 77q-1 4 -3 8M135 56q2 7 -0 13M103 129q-2 5 -2 10M81 159q-3 4 -2 9M114 228q-3 5 -6 10M203 160q-4 6 -2 13M95 123q-2 8 -6 14M134 180q-2 6 -5 12M159 171q0 7 -4 12M96 88q-3 7 -2 15M191 185q1 7 -4 12M115 103q-1 5 -1 10M158 237q-3 4 -3 10M84 97q-6 6 -6 14M148 153q-3 7 -4 15M108 158q-1 7 -4 14M91 215q-5 4 -9 9M77 201q-3 6 -5 12M116 58q-3 3 -5 7M72 163q-3 5 -3 11M167 192q-2 4 -2 8M154 164q-2 5 1 10M167 66q-1 4 -3 9M100 207q-4 4 -5 9M112 177q-5 6 -4 15M147 99q-0 8 -2 15M170 181q-1 4 -2 9M98 144q-4 7 -1 14M158 188q-4 4 -5 10M143 178q-3 3 -2 8M72 170q-6 4 -7 10M208 166q-2 5 -4 10M95 198q-4 6 -7 12M127 79q-1 3 -4 6M87 155q-1 4 -2 7M169 133q-3 7 -3 15M194 226q-1 4 -1 8M157 201q-0 6 -1 12M128 157q-3 7 -1 14M140 195q-2 7 -8 12M69 203q-1 4 -4 7M113 187q-5 6 -7 14M94 205q0 4 -2 7M203 189q-6 6 -6 14M151 202q-4 4 -4 10M72 141q-1 7 -4 14M148 182q1 6 -1 11M113 182q-1 5 -2 9M141 148q-1 5 -5 8M100 185q-2 4 -3 8M100 170q-1 6 -1 13M131 204q-1 7 -5 13M82 160q-1 5 -3 8M204 197q-1 5 1 9M118 124q-4 6 -5 13M83 98q-3 5 -2 10M138 197q2 7 1 14M202 195q-4 6 -2 13M74 161q-1 8 -3 15M160 104q-3 6 -9 10M97 162q1 5 -2 10M94 131q-2 6 -3 11M161 142q-4 6 -8 10M178 236q-1 5 -1 10M79 122q-3 3 -2 8M207 111q-1 4 -3 7M84 130q-2 7 -6 12M200 163q-2 6 -4 12M90 123q3 6 1 12M203 172q-2 7 -6 13M134 103q-3 7 -6 15M144 226q-1 4 -2 7M142 223q-1 6 -4 11M87 92q0 5 -4 9M120 138q-3 7 0 15M91 124q-0 4 -3 7M172 74q-1 5 -3 9M84 90q-2 4 -2 9M162 188q-2 7 -4 15M119 157q-3 3 -4 7M101 104q-4 7 -6 14M96 190q-4 5 -3 12M157 154q-3 6 -3 13M124 138q-5 5 -6 12M190 144q-4 6 -4 13M151 50q-3 3 -3 6M118 63q-2 6 -5 12M62 194q-2 7 -9 10M100 76q-0 8 -5 14M85 169q-3 7 -3 14M98 210q-1 4 -3 7M198 142q1 7 -3 12M74 156q-3 6 -8 11M142 138q-1 4 -2 7M134 56q-1 5 -5 8M89 116q1 4 -2 7M174 100q-0 5 -4 9M190 135q-3 5 -3 11M84 135q0 4 -1 7M200 160q-5 5 -4 12M72 190q-2 4 -1 8M85 163q2 7 0 15M153 165q-2 8 -8 14M69 193q-2 6 -5 11M99 160q-0 8 -5 15M148 150q0 5 -2 9M158 117q-1 7 -2 14M94 154q-4 5 -7 11M159 220q1 6 -2 10M173 231q-2 3 -2 7M124 236q-6 4 -9 9M128 53q-2 5 -4 10M191 135q-1 7 -6 13M208 180q-4 2 -5 7M177 225q-5 5 -9 11M82 174q-0 7 -5 12M109 195q-6 4 -8 11M177 173q-1 7 -3 14M113 143q-3 4 -3 9M112 176q0 7 -0 14M165 138q-3 6 -5 11M100 161q-3 7 -9 13M167 146q-1 6 -6 10M103 77q-2 8 -7 14M67 167q-2 5 -1 10M201 136q-2 3 -2 7M201 140q-0 8 -2 16M166 207q-2 6 -1 13M144 219q-3 3 -5 7M166 199q-3 7 -2 15M114 218q0 8 -3 15M162 235q-2 4 -2 9" stroke="#ffffff" stroke-width="1.3" opacity="0.65" stroke-linecap="round" fill="none" filter="url(#soft)"/>
<path d="M213 209q4 3 8 5M161 248q-3 3 -4 7M80 101q-1 -4 -4 -6M119 231q-0 3 -3 5M173 243q2 6 -1 12M207 173q5 -1 10 -1M220 100q4 -1 9 -1M77 209q-5 4 -7 10M211 161q4 2 5 5M218 216q2 3 6 4M113 56q-2 -6 -3 -12M185 58q1 -7 3 -13M101 67q-4 -3 -6 -8M144 244q-2 5 -3 11M112 56q-0 -5 -4 -8M78 120q-3 1 -6 -1M60 185q-6 3 -6 9M77 125q-4 -7 -12 -7M148 245q1 6 3 12M192 228q2 3 3 7M182 234q2 3 4 5M84 77q-2 -5 -8 -6M207 76q1 -3 4 -3M66 202q-1 7 -6 11M88 213q-3 6 -10 8M188 60q4 -5 4 -12M77 209q-2 5 -3 10M78 83q-4 -2 -7 -6M223 96q1 -4 3 -8M199 69q-0 -7 6 -10M206 176q3 5 9 8M164 48q2 -3 5 -6M80 96q-2 -5 -3 -10M136 241q2 5 2 10M217 87q3 -1 6 -3M67 154q-3 -2 -6 -0M63 178q-4 3 -7 6M61 190q-7 -0 -13 0M222 94q2 -4 6 -8M108 58q-3 -6 -10 -9M188 229q2 2 3 4M123 234q-2 7 -1 14M109 226q-2 2 -5 3M152 246q1 7 -4 12M62 180q-6 1 -8 7M74 133q-3 -1 -5 1M104 223q-4 3 -8 2M97 70q-2 -1 -3 -4M219 91q4 -4 9 -6M120 232q-2 4 -1 9M128 237q-1 3 -2 6M70 145q-7 3 -14 -0M96 69q-3 -0 -5 -1M154 246q-3 5 -3 11M181 55q-2 -6 2 -11M81 101q-4 -3 -8 -5M105 224q-5 2 -9 4M62 198q-5 -2 -9 2M121 52q3 -5 3 -11M146 48q-0 -4 1 -7M79 117q-3 -2 -7 -2M209 168q4 1 7 1M213 82q3 -2 5 -6M174 51q1 -4 4 -7M212 223q2 4 7 4M211 204q3 3 5 6M109 226q0 7 2 13M64 164q-2 2 -3 4M140 243q3 5 2 10M133 240q-2 3 -6 4M173 50q2 -4 1 -8M69 147q-4 0 -7 0M61 191q-5 -1 -11 1M108 225q-2 4 -5 8M144 245q1 5 1 9M142 244q3 6 -1 11M210 224q4 4 9 7M214 83q7 1 11 -4M212 223q4 3 7 5M210 166q5 3 7 8M216 112q6 -4 12 -2M208 202q4 1 7 4M220 218q2 4 6 5M82 94q-6 -2 -12 -0M204 186q4 3 9 6M188 60q-0 -5 4 -8M143 49q-1 -6 1 -12M67 154q-4 -1 -9 -1M71 144q-4 -1 -8 -1M82 211q-3 1 -4 4M157 48q4 -5 1 -11M214 83q5 -2 7 -7M142 49q0 -4 1 -8M180 237q1 3 1 7M208 77q-1 -6 2 -10M125 52q-4 -3 -6 -8M213 82q2 -4 6 -7M208 224q-0 4 3 8M215 115q3 -1 5 1M79 93q0 -3 -2 -5M186 58q3 -5 2 -11M136 241q-2 4 -4 7M176 241q-1 6 2 10M110 226q-1 5 -3 10M98 219q-4 5 -10 6M168 49q-1 -7 2 -13M151 247q5 2 8 6M202 71q4 -2 6 -6M64 172q-5 3 -12 2M209 78q1 -4 5 -6M81 105q-2 -1 -5 -1M197 67q2 -7 8 -11M102 222q-3 7 1 14M100 221q-3 6 1 11M180 55q3 -5 1 -10M89 214q0 4 -1 8M81 96q-6 -2 -12 -5M58 189q-2 3 -1 7M65 157q-2 3 -6 4M81 104q-6 2 -12 -1M208 77q7 -3 9 -10M135 50q0 -3 -0 -7M70 145q-3 -2 -6 -0M105 62q5 -6 2 -14M68 151q-4 1 -7 -2M108 225q-3 3 -6 5M152 48q2 -6 2 -13M123 52q-3 -6 -9 -9M82 78q-1 -6 -6 -9M160 48q4 -3 3 -8M85 76q1 -6 -2 -11M69 148q-3 0 -5 1M80 92q-2 -2 -4 -4M72 140q-6 -1 -12 -1M193 64q1 -4 1 -8M207 172q4 3 8 6M63 178q-4 -0 -7 2M107 63q-1 -6 -5 -9M74 134q-4 1 -8 -1M84 77q-3 -4 -2 -9M184 234q-4 6 -2 13M185 230q2 2 3 5M120 232q-2 3 -3 6M67 150q-4 4 -9 4M69 204q-4 2 -4 6M216 87q2 -7 7 -11M110 226q-2 6 -8 10M62 187q-6 1 -12 2M65 155q-2 4 -6 6M72 208q-3 1 -7 0M184 232q3 3 7 4M206 176q3 1 5 2M81 103q-6 -1 -10 -5M160 48q2 -6 -2 -11M78 81q-3 -2 -6 -4M215 221q3 2 6 4M188 60q4 -5 6 -11M150 246q-1 6 3 10M79 104q-0 -4 -3 -6M110 56q1 -3 2 -5M94 71q-4 -2 -7 -5M77 122q-5 -1 -7 -6M93 216q-5 6 -3 13M174 242q0 3 1 5M61 186q-5 3 -11 6M221 103q3 -1 4 -4M75 131q-3 -3 -7 -5M219 107q3 -6 10 -8M159 48q-1 -4 2 -6M112 227q-2 7 -6 12M145 49q1 -3 -1 -6M165 247q-4 4 -7 10M69 149q-7 1 -13 -2M198 66q-3 -5 -5 -11M131 50q-2 -3 -1 -5M131 239q-0 3 1 6M60 193q-6 -2 -12 2M195 66q-2 -6 3 -11M153 247q1 5 3 10M81 101q-4 2 -8 -0M79 79q-3 -1 -5 -4M216 213q2 4 7 4M212 145q4 1 7 3M212 142q6 5 14 3M60 192q-6 0 -11 5M78 120q-3 -3 -7 -4M123 52q3 -5 1 -11M189 61q2 -4 5 -8M162 49q1 -3 3 -6M212 151q4 3 8 6M142 244q1 5 -4 8M205 187q4 3 6 7M192 228q3 2 3 7M129 51q-0 -5 -1 -9M204 73q6 -1 11 -5M204 183q3 2 6 1M80 211q-3 5 -8 5M169 244q-1 7 1 14M89 74q1 -5 -3 -9M212 151q3 -0 5 -2" stroke="#ecebea" stroke-width="1.4" opacity="0.8" stroke-linecap="round" fill="none" filter="url(#soft)"/>
<path d="M56.2,196.6 C56.8,194.4 59,188.2 59.9,183.5 C60.8,178.8 61.2,173.5 61.8,168.5 C62.4,163.5 62.1,159.2 63.7,153.6 C65.3,148 69,141.7 71.2,134.8 C73.4,127.9 75.5,119.3 76.8,112.4 C78,105.5 79,99.2 78.7,93.6 C78.4,88 73.4,82.4 74.9,78.7 C76.5,75 83,74 88,71.2 C93,68.4 101.8,64.6 104.9,61.8 C108,59 102.3,56.8 106.7,54.3 C111.1,51.8 127,48 131.1,46.8" fill="none" stroke="#101012" stroke-width="9" opacity="0.8" filter="url(#fuzz2)"/>
<g opacity="0.95" filter="url(#bXS)"><ellipse cx="140" cy="38" rx="14.4" ry="6" fill="#0b0b0c" transform="rotate(10 140 38)"/><path d="M140.0 38.0l12.8 13.2M140.0 38.0l-19.9 -3.6M140.0 38.0l21.1 9.2M140.0 38.0l-14.6 -13.2" stroke="#0b0b0c" stroke-width="5" stroke-linecap="round" fill="none"/></g>
<g opacity="0.95" filter="url(#bXS)"><ellipse cx="70" cy="100" rx="10.8" ry="7" fill="#0b0b0c" transform="rotate(70 70 100)"/><path d="M70.0 100.0l-1.6 14.5M70.0 100.0l4.0 -13.7M70.0 100.0l7.3 11.1M70.0 100.0l-11.6 -11.0" stroke="#0b0b0c" stroke-width="5.9" stroke-linecap="round" fill="none"/></g>
<g opacity="0.95" filter="url(#bXS)"><ellipse cx="50" cy="145" rx="10.8" ry="6" fill="#0b0b0c" transform="rotate(20 50 145)"/><path d="M50.0 145.0l11.3 10.3M50.0 145.0l-15.0 -7.6M50.0 145.0l9.5 10.4M50.0 145.0l-11.9 -3.2" stroke="#0b0b0c" stroke-width="5" stroke-linecap="round" fill="none"/></g>
<g opacity="0.95" filter="url(#bXS)"><ellipse cx="75" cy="180" rx="8.6" ry="5" fill="#0b0b0c" transform="rotate(50 75 180)"/><path d="M75.0 180.0l12.0 2.7M75.0 180.0l-8.2 -5.9M75.0 180.0l5.9 12.6M75.0 180.0l-14.0 -2.6" stroke="#0b0b0c" stroke-width="4.2" stroke-linecap="round" fill="none"/></g>
<g opacity="0.95" filter="url(#bXS)"><ellipse cx="88" cy="188" rx="6.5" ry="3.5" fill="#0b0b0c" transform="rotate(150 88 188)"/><path d="M88.0 188.0l-8.1 1.0M88.0 188.0l7.2 -1.6M88.0 188.0l-8.3 2.0M88.0 188.0l7.3 2.0" stroke="#0b0b0c" stroke-width="2.9" stroke-linecap="round" fill="none"/></g>
<g opacity="0.95" filter="url(#bXS)"><ellipse cx="120" cy="220" rx="12.2" ry="4.5" fill="#0b0b0c" transform="rotate(160 120 220)"/><path d="M120.0 220.0l-17.4 -0.7M120.0 220.0l19.9 -2.2M120.0 220.0l-9.2 15.5M120.0 220.0l6.4 -12.8" stroke="#0b0b0c" stroke-width="3.8" stroke-linecap="round" fill="none"/></g>
<g opacity="0.95" filter="url(#bXS)"><ellipse cx="172" cy="232" rx="5.8" ry="12" fill="#0b0b0c" transform="rotate(20 172 232)"/><path d="M172.0 232.0l6.5 -0.1M172.0 232.0l-9.5 0.5M172.0 232.0l7.5 -1.9M172.0 232.0l-5.9 6.1" stroke="#0b0b0c" stroke-width="10.1" stroke-linecap="round" fill="none"/></g>
<g opacity="0.95" filter="url(#bXS)"><ellipse cx="215" cy="182" rx="8.6" ry="15" fill="#0b0b0c" transform="rotate(20 215 182)"/><path d="M215.0 182.0l9.6 2.6M215.0 182.0l-13.6 -1.0M215.0 182.0l10.9 8.6M215.0 182.0l-11.0 1.9" stroke="#0b0b0c" stroke-width="12.6" stroke-linecap="round" fill="none"/></g>
<g opacity="0.95" filter="url(#bXS)"><ellipse cx="205" cy="130" rx="3.6" ry="12" fill="#0b0b0c" transform="rotate(0 205 130)"/><path d="M205.0 130.0l4.1 3.1M205.0 130.0l-5.2 0.3M205.0 130.0l1.9 -4.3M205.0 130.0l-5.2 0.0" stroke="#0b0b0c" stroke-width="10.1" stroke-linecap="round" fill="none"/></g>
<g opacity="0.95" filter="url(#bXS)"><ellipse cx="190" cy="80" rx="8.6" ry="3" fill="#0b0b0c" transform="rotate(30 190 80)"/><path d="M190.0 80.0l14.2 0.6M190.0 80.0l-8.2 -6.8M190.0 80.0l11.7 1.7M190.0 80.0l-14.2 0.5" stroke="#0b0b0c" stroke-width="2.5" stroke-linecap="round" fill="none"/></g>
<g opacity="0.95" filter="url(#bXS)"><ellipse cx="240" cy="115" rx="14.4" ry="6" fill="#0b0b0c" transform="rotate(15 240 115)"/><path d="M240.0 115.0l8.7 14.5M240.0 115.0l-17.2 3.3M240.0 115.0l18.2 8.1M240.0 115.0l-16.9 -4.5" stroke="#0b0b0c" stroke-width="5" stroke-linecap="round" fill="none"/></g>
</g></g>
<g transform="translate(1315 1215.4) scale(0.9913 0.9903)"><g clip-path="url(#cp300)" style="isolation:isolate">
<rect width="300" height="300" fill="#2c3038"/>
<ellipse cx="30" cy="130" rx="50" ry="90" fill="#4a4e58" opacity="0.8" filter="url(#bL)"/>
<ellipse cx="270" cy="160" rx="40" ry="90" fill="#464a54" opacity="0.8" filter="url(#bL)"/>
<ellipse cx="150" cy="280" rx="80" ry="40" fill="#3a3e48" opacity="0.8" filter="url(#bL)"/>
<ellipse cx="150" cy="40" rx="90" ry="25" fill="#15171b" opacity="0.9" filter="url(#bL)"/>
<ellipse cx="260" cy="30" rx="60" ry="40" fill="#23262d" opacity="0.7" filter="url(#bL)"/>
<ellipse cx="40" cy="270" rx="40" ry="40" fill="#262a31" opacity="0.7" filter="url(#bL)"/>
<rect x="0" y="0" width="300" height="300" filter="url(#tex)" opacity="0.45" style="mix-blend-mode:overlay"/>
<path d="M3 295q-7 8 -18 11M16 58q-8 -1 -16 1M110 245q-2 9 -6 18M9 194q-7 8 -17 10M267 131q14 2 26 11M44 74q-13 -6 -27 -12M89 5q-6 -7 -8 -15M255 88q8 -4 17 -5M28 225q-14 7 -20 21M11 57q-10 -7 -23 -9M262 295q6 7 14 12M260 94q11 -7 24 -10M146 260q6 10 11 21M4 127q-9 1 -17 -2M273 204q13 1 23 7M31 160q-13 6 -27 6M222 159q8 -1 16 2M76 295q-6 7 -12 13M76 49q-4 -14 -16 -21M150 38q-11 -13 -8 -30M23 273q-6 16 -19 26M136 4q-1 -9 -1 -19M210 39q13 -8 16 -23M144 1q1 -9 -4 -16M33 82q-14 -5 -28 -9M98 270q1 8 -2 16M296 56q13 -3 26 -10M135 252q3 8 2 17M231 221q8 7 18 12M171 244q6 8 9 18M20 268q-5 14 -13 27M282 241q13 10 28 18M229 251q12 9 14 24M0 259q-7 11 -18 18M27 273q-7 7 -11 16M67 21q-13 -10 -22 -23M231 145q16 3 31 -3M83 273q-6 11 -9 23M172 29q-2 -14 2 -27M50 260q-16 4 -25 18M53 165q-11 3 -20 10M172 22q-0 -9 5 -16M243 258q8 10 18 18M52 288q0 18 -13 30M258 273q10 9 13 22M9 191q-14 1 -24 11M277 161q15 6 30 12M70 134q-14 -6 -30 -5M9 65q-6 -6 -14 -9M61 198q-10 13 -26 17M74 35q3 -17 -8 -31M55 128q-14 -1 -23 -13M194 262q-3 11 1 21M62 138q-8 5 -17 2M24 107q-10 -0 -18 -5M109 35q-1 -10 -10 -16M234 205q7 14 21 22M66 114q-14 -1 -24 -11M181 23q6 -10 8 -21M180 297q8 12 9 26M42 233q-10 12 -22 21M55 46q-7 -10 -18 -15M193 6q-1 -13 8 -23M122 271q-3 17 3 33M211 295q2 17 14 29M10 71q-14 -8 -21 -23M291 280q14 11 18 29M174 30q9 -12 6 -26M220 237q1 14 9 25M47 75q-12 -8 -27 -11M101 239q-2 10 -5 19M265 73q7 -5 15 -7M107 270q0 11 -1 21M141 289q2 13 1 27M220 44q10 -8 18 -18M35 194q-14 9 -31 11M237 255q7 7 14 13M24 10q-5 -8 -15 -11M79 47q-4 -8 -10 -15M291 6q11 -13 20 -27M222 182q14 4 28 10M219 175q14 7 27 16M177 15q6 -7 8 -16M43 2q-9 -13 -19 -26M27 275q-13 7 -23 19M45 116q-10 -1 -19 -5M61 29q-8 -9 -10 -21M228 166q16 1 32 1M232 293q10 8 15 20M52 216q-7 10 -16 18M20 84q-15 -1 -30 -6M296 206q12 4 22 10M197 269q9 12 10 26M244 116q11 -5 23 -8M219 255q9 6 11 17M242 275q6 8 4 19M95 14q-2 -8 -4 -16M106 30q-4 -7 -7 -15M163 286q1 12 10 21M52 246q-6 10 -12 20M247 35q4 -12 14 -21M276 105q11 -8 24 -10M40 103q-8 -6 -12 -14M83 5q0 -10 -5 -19M196 282q3 8 4 17M235 139q15 8 33 7M22 166q-15 -1 -28 6M49 257q-11 10 -20 23M258 246q5 9 16 11M237 250q12 12 14 29M197 214q10 12 21 23M216 14q6 -13 8 -27M271 155q10 1 20 0M225 300q-3 11 1 23M226 34q15 -8 21 -24M151 239q5 8 2 18M144 277q9 12 5 27M166 43q3 -9 1 -18M104 244q-2 14 -8 27M173 295q-2 9 0 17M230 286q5 10 8 21M233 203q16 3 25 16M223 131q10 -8 23 -9M122 7q2 -13 -5 -23M205 60q7 -12 11 -26M33 260q-5 16 -19 26M187 16q8 -12 13 -24M134 289q0 18 -9 33M67 268q-10 6 -13 18M272 220q9 9 21 13M241 189q9 4 13 13M227 262q11 2 17 11M67 14q-2 -14 -15 -21M62 278q-4 15 -10 29M60 297q-8 12 -16 24M269 43q8 -13 22 -19M42 16q-5 -12 -13 -23M270 162q13 -2 23 7M57 277q-4 11 -10 22M83 261q0 9 -5 16M173 259q9 12 9 27M248 255q14 7 25 19M223 266q9 13 20 23M43 247q-8 12 -19 20M7 269q-4 8 -12 12M270 6q15 -5 20 -21M193 236q2 8 6 15M248 92q12 -9 26 -13M15 144q-9 -1 -18 3M236 161q13 -2 25 4M256 228q14 5 19 18M7 38q-13 -6 -25 -15M159 40q-2 -16 0 -32M219 217q15 5 19 20M205 268q-1 9 3 16M251 152q11 0 22 2M214 271q-1 12 6 21M8 78q-16 -6 -33 -2M215 263q5 11 15 15M38 89q-16 -2 -25 -14M165 261q-1 14 5 26M269 146q13 -5 27 -7M210 23q1 -14 7 -26M163 268q-0 16 1 32M58 236q-3 13 -16 18M125 298q-0 9 -5 16M171 297q9 15 3 32M222 143q10 -3 21 -1M245 102q9 -12 24 -15M154 239q1 9 2 17M107 237q-4 11 -9 22M31 18q-6 -14 -19 -22M6 269q-11 9 -25 12M223 46q8 -12 20 -22M31 269q-2 9 -10 15M119 23q-2 -9 -4 -18M278 138q13 0 24 -7M67 88q-9 -10 -21 -13M284 103q11 1 19 -5M247 147q9 -2 18 -2M37 130q-16 0 -32 -4M251 80q8 -9 20 -12M268 94q17 -4 32 3M205 286q7 14 17 26M141 243q-4 14 -2 29M54 145q-12 3 -24 4M298 111q14 -0 27 -1M238 171q12 0 23 7M256 169q10 2 19 8M4 152q-11 0 -20 5M12 167q-8 3 -16 4M98 33q-4 -18 -21 -27M190 239q11 7 16 20M283 61q15 -3 22 -16M297 107q10 -1 19 -6M219 202q13 8 26 17M61 236q-10 4 -15 14M211 216q7 9 17 15M47 286q-8 8 -12 18M151 261q4 11 1 22M72 115q-9 -10 -23 -10M164 289q7 13 1 27M38 3q-11 -9 -15 -22M102 33q-11 -8 -11 -21M179 292q-4 11 -3 22M61 194q-12 5 -26 5M274 115q17 -1 34 0M289 206q17 -1 31 9M269 294q12 5 18 17M230 80q3 -12 14 -19M111 15q-2 -16 -6 -32M274 282q9 14 22 25M275 256q13 10 15 26M90 41q-4 -8 -6 -17M299 202q11 -1 20 4M299 194q8 5 17 9M23 74q-12 -5 -23 -12M190 293q7 11 6 23M233 228q15 5 24 18M32 259q-11 8 -18 20M300 44q6 -7 14 -12M28 239q-14 8 -25 20M293 90q16 -5 29 -15M299 159q13 -1 23 6M49 279q-7 14 -12 28M234 54q8 -15 23 -25M17 169q-12 5 -23 -0M233 231q9 7 18 13M49 117q-10 -3 -20 0M237 48q5 -7 12 -12M259 189q14 8 28 15M42 290q-7 7 -10 17M48 195q-10 8 -22 11M57 164q-14 5 -27 10M217 4q7 -9 10 -19M67 253q-14 7 -24 20M50 10q-10 -7 -19 -15M26 266q-16 3 -27 15M68 24q-7 -15 -22 -21M104 21q-13 -7 -19 -20M151 42q-4 -15 2 -29M28 169q-8 4 -16 5M283 283q11 8 18 20M118 10q-2 -16 -10 -30M279 237q16 2 26 14M27 125q-11 -11 -27 -13M35 95q-11 -6 -23 -8M207 269q7 9 6 21M266 195q11 -3 22 -1M249 290q0 14 7 27M262 42q8 -11 19 -18M203 44q1 -8 7 -15M272 64q11 -8 24 -12M280 72q14 -7 26 -17M266 164q8 -1 16 -2M100 49q-5 -9 -8 -18M23 57q-5 -10 -14 -17M129 38q-3 -12 -4 -23M261 207q7 7 16 10M41 203q-8 7 -19 8" stroke="#4c505a" stroke-width="2.4" opacity="0.35" stroke-linecap="round" fill="none" filter="url(#soft2)"/>
<path d="M22 178q-13 3 -26 4M222 206q6 13 21 17M243 134q11 -6 22 -1M255 191q10 4 21 8M55 283q-10 4 -13 14M65 16q-9 -8 -15 -18M255 44q8 -3 14 -9M146 262q3 17 -2 33M236 150q11 8 24 4M17 91q-11 -2 -20 -7M298 57q12 -12 29 -13M30 296q-5 7 -8 14M61 174q-14 3 -25 13M37 249q-9 5 -17 11M243 232q6 8 16 10M178 231q3 17 13 31M52 83q-7 -6 -14 -12M123 245q2 15 -0 31M25 56q-7 -5 -15 -7M9 106q-14 3 -26 -5M32 12q-5 -14 -13 -26M3 242q-9 10 -21 14M34 83q-8 -5 -17 -5M71 46q-11 -10 -13 -24M296 203q13 11 30 12M165 43q7 -14 -1 -28M33 247q-8 11 -15 22M88 261q-6 8 -7 17M127 30q-1 -9 -4 -18M285 216q9 9 20 17M224 194q10 6 18 15M286 161q9 7 20 4M73 120q-16 -8 -33 -1M224 153q14 -4 29 -4M41 281q-3 14 -12 26M30 188q-8 7 -19 9M278 147q13 6 26 9M45 260q-7 6 -10 16M291 264q5 12 15 20M230 34q11 -10 12 -25M27 299q-9 10 -19 19M73 99q-18 0 -31 -12M190 282q8 15 13 31M255 267q10 5 15 15M287 262q14 8 22 22M31 173q-11 2 -22 -2M1 90q-9 -4 -19 -8M63 160q-13 4 -26 6M290 29q11 -4 21 -10M268 234q16 0 28 12M71 46q-4 -11 -12 -20M252 83q13 -10 28 -16M259 44q11 -11 25 -19M200 241q2 18 16 29M242 30q6 -8 16 -12M225 300q2 14 13 24M16 224q-12 6 -23 13M10 290q-5 15 -19 22M294 44q11 -3 16 -13M247 4q10 -11 17 -25M277 17q7 -12 19 -19M299 115q18 5 34 -5M243 46q16 0 27 -12M249 115q11 -7 23 -6M264 14q6 -13 17 -22M259 227q6 7 13 15M224 139q10 0 19 -4M239 6q7 -5 11 -13M90 39q-4 -8 -13 -11M25 89q-8 -9 -20 -10M183 261q10 10 11 24M4 239q-7 4 -14 10M52 277q-11 10 -10 25M205 17q8 -14 13 -30M234 70q9 -5 14 -14M243 219q3 9 11 12M63 54q-8 -12 -21 -15M22 277q-16 2 -25 15M61 91q-10 -0 -17 -8M273 212q9 4 19 8M237 59q13 -3 18 -15M135 292q-2 15 -4 30M65 83q-12 0 -20 -9M26 71q-7 -13 -20 -17M198 225q4 9 12 13M53 208q-9 14 -23 22M286 65q14 -0 23 -11M148 289q1 11 -1 23M37 224q-5 11 -14 19M53 38q-4 -10 -9 -19M253 115q15 3 29 -0M65 110q-16 0 -32 -4M49 77q-11 -5 -18 -14M74 258q-6 10 -9 21M67 80q-17 -2 -28 -15M227 208q9 9 20 15M259 48q9 -1 15 -8M30 214q-8 15 -25 21M24 60q-9 -5 -18 -4M272 93q15 0 26 -10M115 244q-12 11 -11 28M78 276q-2 11 -11 18M47 47q-4 -11 -12 -19M241 31q4 -7 8 -14M234 85q11 -11 20 -23M256 65q6 -8 15 -9M247 81q10 -5 19 -11M292 279q8 3 13 9M220 244q1 14 11 24M88 264q3 18 -9 32M4 57q-9 -11 -17 -23M193 287q8 7 9 19M290 299q5 10 15 15M294 151q11 -1 22 -0M244 285q8 8 13 18M229 193q18 4 26 21M87 31q-8 -8 -9 -19M205 267q-2 9 2 18M273 63q15 -3 27 -14M16 131q-11 -15 -30 -16M195 223q6 12 17 21M22 4q-4 -11 -16 -15M74 272q-6 13 -12 25M117 42q-2 -12 -3 -25M259 256q9 9 20 13M159 24q13 -13 12 -31M126 16q-9 -12 -7 -27M273 191q16 4 30 12M20 3q-11 -11 -22 -23M152 245q1 12 2 23M68 111q-17 -2 -31 -12M295 31q9 -8 20 -15M280 220q12 6 25 7M82 275q-4 10 -13 16M26 193q-11 2 -20 9M125 243q-0 10 -4 20M249 182q10 3 20 8M255 85q6 -8 15 -13M79 286q-7 11 -10 23M44 231q-6 14 -19 19M136 253q6 10 9 22M73 13q-6 -11 -7 -23M18 51q-10 -2 -16 -10M208 5q8 -9 8 -21M57 277q-10 7 -17 16M222 240q8 13 16 26M252 204q6 16 21 23M242 122q9 -6 17 -11M209 241q2 14 11 25M108 12q2 -11 -2 -22M251 288q5 11 10 22M290 208q13 11 29 12M6 59q-8 -5 -18 -6M221 259q10 13 16 28M273 287q7 10 16 18M41 165q-14 8 -30 11M28 231q-18 4 -26 20M237 213q7 10 18 16M235 18q3 -13 12 -22M64 135q-12 -2 -24 -4M52 290q-7 9 -17 14M76 288q-6 6 -9 15M265 233q12 11 28 14M100 297q-9 10 -9 23M259 179q5 7 14 9M279 191q16 3 32 9M284 285q4 14 17 20M71 290q-1 9 -7 16M263 137q15 2 29 8M192 232q10 12 18 25M248 198q9 12 21 20M276 76q3 -9 12 -15M107 266q-2 16 1 32M285 121q16 -7 31 0M165 287q-3 10 2 18M118 46q1 -11 -3 -22M283 279q3 13 15 18M257 247q6 9 11 19M51 98q-11 2 -19 -5M13 250q-4 9 -13 13M46 68q-10 -7 -20 -14M162 267q-6 15 1 30M11 173q-12 3 -25 7M94 245q-5 11 -6 24M205 249q11 13 9 31M266 21q8 -10 18 -17M30 93q-11 1 -19 -6M237 172q11 6 23 2M254 19q10 -10 15 -22M113 40q-8 -10 -10 -22M288 195q9 -1 17 5M290 16q18 -0 30 -14M224 5q1 -12 11 -19M200 238q3 11 7 22M59 279q-6 9 -11 20M52 155q-11 -0 -21 2M36 52q-9 -12 -23 -14M295 199q16 -4 32 2M252 255q8 15 25 20M14 214q-14 8 -30 8M257 242q5 7 12 11M286 173q12 6 25 9M294 130q16 1 30 -5M26 165q-14 10 -30 15M47 212q-8 7 -17 10M232 80q10 -5 19 -11M39 273q-10 7 -11 18M169 248q-2 10 2 20M268 41q6 -6 14 -10M6 291q-5 7 -10 12M29 30q-8 -11 -19 -21M14 199q-9 -1 -15 6M294 248q10 8 17 19M36 102q-12 -6 -25 -8M142 283q2 9 0 17M90 4q-4 -13 -13 -23M43 159q-15 2 -28 8M3 153q-14 -5 -29 -2M268 251q5 13 17 18M0 161q-15 -1 -29 -4" stroke="#181a20" stroke-width="2.4" opacity="0.35" stroke-linecap="round" fill="none" filter="url(#soft2)"/>
<path d="M88,56.2 C93,51.2 97.7,50.6 104.9,48.7 C112.1,46.8 123.6,45.2 131.1,44.9 C138.6,44.6 143.6,46.8 149.8,46.8 C156,46.8 162.2,44.3 168.5,44.9 C174.8,45.5 181.1,47.5 187.3,50.6 C193.6,53.7 200.4,59 206,63.7 C211.6,68.4 217.6,73.1 221,78.7 C224.4,84.3 226,91.2 226.6,97.4 C227.2,103.6 225.9,110.5 224.7,116.1 C223.4,121.7 219.4,125.5 219.1,131.1 C218.8,136.7 223.4,143.6 222.8,149.8 C222.2,156 215.4,162.2 215.4,168.5 C215.4,174.8 222.5,181.1 222.8,187.3 C223.1,193.6 220,201.3 217.2,206 C214.4,210.7 211,214.8 206,215.4 C201,216 193.6,208.8 187.3,209.7 C181.1,210.6 174.8,216.9 168.5,221 C162.2,225.1 156,231 149.8,234.1 C143.6,237.2 137.3,241.3 131.1,239.7 C124.9,238.1 119.3,225.3 112.4,224.7 C105.5,224.1 96.8,233.5 89.9,236 C83,238.5 75.9,241.6 71.2,239.7 C66.5,237.8 63,230.3 61.8,224.7 C60.5,219.1 63.7,212.2 63.7,206 C63.7,199.8 61.8,193.6 61.8,187.3 C61.8,181.1 62.5,174.8 63.7,168.5 C65,162.2 68,156 69.3,149.8 C70.5,143.6 70.3,137.3 71.2,131.1 C72.1,124.9 74.6,118.7 74.9,112.4 C75.2,106.2 73,99.2 73,93.6 C73,88 72.4,84.9 74.9,78.7 C77.4,72.5 83,61.2 88,56.2Z" fill="#d6d2c8" opacity="1" filter="url(#fuzz)"/>
<ellipse cx="140" cy="130" rx="45" ry="60" fill="#e2dfd6" opacity="0.6" filter="url(#bL)"/>
<ellipse cx="78" cy="210" rx="20" ry="25" fill="#b0a088" opacity="0.6" filter="url(#bM)"/>
<clipPath id="gt7"><path d="M88,56.2 C93,51.2 97.7,50.6 104.9,48.7 C112.1,46.8 123.6,45.2 131.1,44.9 C138.6,44.6 143.6,46.8 149.8,46.8 C156,46.8 162.2,44.3 168.5,44.9 C174.8,45.5 181.1,47.5 187.3,50.6 C193.6,53.7 200.4,59 206,63.7 C211.6,68.4 217.6,73.1 221,78.7 C224.4,84.3 226,91.2 226.6,97.4 C227.2,103.6 225.9,110.5 224.7,116.1 C223.4,121.7 219.4,125.5 219.1,131.1 C218.8,136.7 223.4,143.6 222.8,149.8 C222.2,156 215.4,162.2 215.4,168.5 C215.4,174.8 222.5,181.1 222.8,187.3 C223.1,193.6 220,201.3 217.2,206 C214.4,210.7 211,214.8 206,215.4 C201,216 193.6,208.8 187.3,209.7 C181.1,210.6 174.8,216.9 168.5,221 C162.2,225.1 156,231 149.8,234.1 C143.6,237.2 137.3,241.3 131.1,239.7 C124.9,238.1 119.3,225.3 112.4,224.7 C105.5,224.1 96.8,233.5 89.9,236 C83,238.5 75.9,241.6 71.2,239.7 C66.5,237.8 63,230.3 61.8,224.7 C60.5,219.1 63.7,212.2 63.7,206 C63.7,199.8 61.8,193.6 61.8,187.3 C61.8,181.1 62.5,174.8 63.7,168.5 C65,162.2 68,156 69.3,149.8 C70.5,143.6 70.3,137.3 71.2,131.1 C72.1,124.9 74.6,118.7 74.9,112.4 C75.2,106.2 73,99.2 73,93.6 C73,88 72.4,84.9 74.9,78.7 C77.4,72.5 83,61.2 88,56.2Z"/></clipPath><rect x="0" y="0" width="300" height="300" filter="url(#tex4)" opacity="0.75" clip-path="url(#gt7)" style="mix-blend-mode:overlay"/>
<path d="M84 151q-1 7 -2 15M155 61q-0 5 -2 9M106 127q-5 8 -3 18M171 61q-6 8 -5 18M139 230q-2 5 -1 11M103 147q-4 4 -3 9M90 116q-4 6 -4 13M204 177q-4 6 -8 13M115 226q-2 7 -7 13M90 142q-4 4 -4 9M141 51q2 8 -2 15M179 147q-4 8 -6 17M156 188q-1 6 -3 12M191 195q-5 6 -8 13M118 224q-2 8 -1 17M159 67q-1 5 -1 9M149 112q-3 9 1 18M189 119q-1 9 -6 17M81 222q1 5 -3 10M130 48q-2 8 -4 16M164 211q1 10 -5 19M92 228q-2 7 -7 13M194 184q-1 9 -9 14M86 233q-3 7 -3 14M172 191q-5 4 -5 10M74 127q0 9 -5 17M183 70q-2 4 -2 9M85 221q-7 7 -6 16M114 72q-2 5 -4 10M218 178q-1 6 -4 12M184 96q-0 8 -6 15M109 220q-2 4 -3 9M206 147q1 6 -3 12M164 99q-4 8 -4 16M205 159q2 8 -2 15M160 189q-3 7 -4 15M96 154q-1 9 -8 15M150 147q-2 8 -4 16M66 211q2 9 0 18M215 145q-4 8 -9 15M80 149q0 5 0 11M74 235q-3 4 -4 8M144 153q1 10 -4 20M204 205q-2 6 -7 11M124 101q-4 5 -4 10M85 204q-3 4 -3 10M130 123q1 7 -1 15M102 63q-3 5 -6 9M117 163q-1 4 -3 8M132 194q-4 8 -6 16M207 103q1 5 -2 9M157 113q-3 6 -5 11M154 57q2 5 -0 10M106 150q-1 7 -4 13M119 86q-4 7 -2 15M175 69q-2 8 -4 15M219 198q-2 6 -2 12M162 212q2 10 -5 18M74 169q-1 7 -6 10M216 158q3 7 1 13M155 132q-2 9 -7 17M68 180q1 6 -3 10M114 98q-2 7 -7 12M205 98q1 7 -1 14M204 118q-0 5 -2 9M77 154q-1 4 -4 7M116 170q-5 5 -8 13M154 110q-1 6 -5 11M122 153q-5 7 -8 15M135 152q1 6 -3 11M110 216q-2 7 -7 12M127 57q-1 9 -9 14M86 113q-3 4 -4 9M80 123q-5 5 -5 13M125 52q-1 7 -7 12M176 179q-3 4 -8 7M134 56q-1 5 -5 8M63 219q-2 7 -7 13M160 194q-5 7 -5 16M90 180q-0 9 -7 15M150 174q-4 4 -3 9M172 211q1 5 -1 9M194 94q0 5 -2 9M134 136q-2 7 -4 14M99 53q-2 5 -3 9M203 195q1 6 -1 11M187 112q-3 4 -3 10M135 213q-4 8 -3 17M116 52q-1 9 -5 16M180 137q-3 5 -4 10M91 170q-5 4 -5 10M111 118q-2 7 -2 14M116 177q-1 6 -5 11M162 169q-1 4 -4 7M98 120q-0 4 -3 8M76 202q-2 8 -9 11M166 64q-1 7 -3 13M164 78q-1 8 -4 16M166 217q-2 9 -7 16M128 217q2 6 -1 12M83 70q0 10 -5 18M90 133q-0 7 -2 14M157 152q2 8 -2 14M213 176q-2 5 -5 9M157 168q-2 8 -7 15M77 144q-5 3 -5 9M115 151q-5 6 -5 14M146 110q-9 4 -11 14M172 124q-3 6 -5 12M155 55q-1 6 -6 10M66 209q-6 5 -8 12M105 208q-4 9 -0 17M109 60q-2 9 -9 13M74 143q-1 10 -8 17M200 74q-1 7 -2 13M157 109q-3 8 -6 15M81 178q-6 7 -5 15M121 78q-1 5 -4 9M144 97q-5 5 -4 12M96 200q-3 7 -6 14M130 100q-0 9 -6 15M120 146q-6 7 -5 16M179 63q-3 6 -4 12M183 190q-2 4 -4 8M169 70q-2 6 -5 13M113 122q-6 5 -7 12M202 151q1 7 -3 13M146 171q-3 5 -5 10M90 69q-1 5 -5 9M199 69q1 6 0 12M153 166q-7 4 -11 10M126 93q2 6 -2 11M178 95q-6 8 -6 18M168 135q-2 8 0 16M164 187q-2 7 -4 13M125 147q-0 9 -7 15M93 89q-1 8 -1 16M145 60q-1 10 -6 19M100 113q1 9 -3 18M63 191q1 6 -2 11M146 135q-2 4 -2 9M147 204q-3 6 -6 12M105 182q-2 5 -4 9M168 59q0 5 -3 10M119 73q0 6 -4 10M129 196q-2 10 -8 18M86 206q0 7 -5 11M146 136q-2 7 -2 14M217 103q-2 5 -4 9M86 161q0 8 -6 14M147 51q-1 6 -2 12M198 84q-6 7 -6 16M94 223q-1 6 -6 9M141 163q1 6 -1 11M171 116q-2 3 -2 8M119 161q-4 5 -7 11M188 93q-0 6 -2 12M153 86q-4 7 -2 15M101 166q-1 6 -3 11M177 127q-2 6 -2 12M88 149q-3 9 -9 17M181 133q-4 8 -5 18M100 166q-1 4 -3 8M148 122q-7 6 -10 14M155 124q-3 6 -7 10M115 88q-8 6 -9 16M148 47q-2 4 -3 8M135 226q0 5 -2 10M175 110q-2 9 -2 19M146 116q-5 4 -5 11M114 160q-3 8 -3 16M168 221q-4 7 -5 16M123 219q-7 6 -8 15M138 128q-0 5 -3 9M75 189q-7 7 -5 16M153 52q-1 4 1 9M105 66q-1 9 -5 18M105 79q-6 7 -6 17M189 117q-2 5 -5 9M162 159q-1 8 -5 14M215 160q-2 6 -0 13M118 126q0 10 -6 17M177 182q-4 9 -8 17M86 112q-2 10 -8 18M171 157q-3 4 -4 9M145 171q-4 5 -2 11M91 220q2 10 -4 18M118 50q-3 6 -4 13M131 229q-1 4 -3 8M164 176q-2 7 -3 15M134 79q-4 7 -4 15M212 177q-4 5 -4 11M214 151q-2 4 -1 8M158 133q-2 4 -3 8M103 70q2 10 -3 19M160 116q-1 11 -9 18M122 177q1 5 -3 9M153 229q-3 4 -9 5M67 172q0 6 -2 11M127 95q-3 7 -6 14M76 116q1 9 -4 16M139 124q-5 8 -2 18M120 224q-0 8 -4 15M136 231q1 6 -2 12M134 232q-6 6 -4 14M69 221q-7 6 -8 16M78 95q-2 7 -7 13M134 183q-5 7 -6 15M160 51q2 8 -2 14M79 176q-1 10 -6 18M197 212q-2 7 -4 14M119 56q-1 9 -7 16M214 102q-6 7 -7 16M150 48q1 9 -3 16M92 204q-0 7 -5 13M109 98q-7 5 -8 13M191 177q-0 7 -4 12M110 82q-6 4 -8 11M182 51q-3 6 -3 13M194 76q-1 6 -3 11M117 117q-3 5 -4 12M99 85q-5 6 -4 14M112 58q-4 5 -3 10M79 87q-4 5 -6 11M162 109q0 5 -2 9M110 113q-4 6 -4 13M136 226q1 9 -3 17M203 151q0 10 -0 19M66 170q-9 5 -12 15M127 52q-2 6 -5 12M119 189q1 6 -3 10M132 96q-5 6 -13 6M213 86q-4 7 -8 14M93 56q-3 8 -7 14M168 173q-4 3 -4 8M129 127q0 7 -3 13M211 176q-1 6 -5 11M107 137q-1 6 -4 11M86 142q-7 7 -5 17M101 225q-2 7 -3 14M122 162q-1 10 -6 18M94 181q-1 11 -9 17M139 83q0 5 -4 9M143 119q-1 9 -8 15M164 158q-3 6 -6 11M215 112q-5 5 -7 11M164 210q-4 6 -2 12M195 212q-1 4 -2 8M209 153q2 9 -1 17M114 61q-2 6 -2 12M146 73q-1 6 -3 11M136 182q-1 8 -7 14M189 152q2 8 -2 15M187 155q-2 8 -8 14M153 124q-5 5 -5 12M158 170q0 5 -3 9M171 189q0 4 -0 8M133 197q1 9 -5 16M153 165q-5 6 -4 14M67 196q-7 7 -7 16" stroke="#8e8a84" stroke-width="2.0" opacity="0.5" stroke-linecap="round" fill="none" filter="url(#soft)"/>
<path d="M132 137q-3 5 -6 10M126 81q-6 9 -5 19M215 100q-2 10 -11 16M208 148q-3 6 -5 12M129 139q2 10 -4 18M198 86q-0 8 -4 16M215 96q0 8 -4 14M160 124q-1 9 -6 15M188 205q-4 3 -4 8M205 211q0 10 -5 18M197 147q-6 5 -8 12M219 153q-0 9 -5 16M168 127q-3 9 -1 19M222 116q2 8 -3 15M74 236q-1 4 -4 8M114 202q-7 8 -6 18M85 98q-0 6 -4 12M218 131q-4 9 -4 19M208 144q-2 5 0 10M208 113q-8 6 -10 16M197 106q-3 6 -4 13M109 62q0 6 -3 10M175 160q-5 7 -3 15M73 206q-3 4 -2 9M98 159q-0 7 -4 12M167 124q-0 9 -3 18M129 150q-2 5 -5 9M98 121q-2 6 -1 12M172 188q-4 8 -1 17M92 226q-4 8 -5 17M143 162q-1 7 -6 13M105 102q2 7 -1 14M174 59q-1 4 -5 7M85 220q-7 8 -6 19M157 222q1 5 -2 10M212 191q1 9 -5 15M73 200q-0 7 -6 13M210 164q4 10 1 20M215 204q-0 5 -4 8M218 141q-0 10 -5 19M222 113q-1 7 -3 15M89 223q-2 4 -3 8M158 210q-5 5 -5 12M144 171q1 7 -1 13M160 94q-2 9 -7 18M98 226q0 9 -1 18M165 144q-7 7 -7 16M84 169q-3 4 -3 9M67 200q-4 7 -5 16M211 136q-1 8 -6 15M135 127q-3 6 -9 10M147 194q-4 7 -8 14M134 129q-0 5 -1 10M187 145q-1 6 -5 12M143 222q-5 4 -9 10M115 50q-2 9 -8 16M149 126q-4 4 -4 10M149 168q-3 7 -2 14M91 222q-2 5 -5 10M195 155q-0 8 0 16M153 217q1 9 -5 15M161 80q-1 7 -6 13M134 126q-2 7 -8 12M209 87q-1 6 -5 11M115 209q-3 5 -2 10M217 160q-3 5 -5 10M200 148q-3 8 -6 16M203 167q-2 6 -3 12M142 139q1 8 -4 14M165 212q-2 4 -4 8M85 140q-6 5 -7 13M135 153q-5 4 -5 11M213 200q2 6 -1 11M128 63q-2 4 -3 8M96 72q-1 8 -7 15M73 221q1 9 -4 16M132 160q-2 6 1 11M134 80q-2 4 -5 8M157 191q-4 5 -3 12M90 204q-2 8 -7 15M78 202q-2 5 -2 10M131 182q-2 8 -3 17M190 137q-1 5 -3 10M146 222q-4 4 -4 10M79 123q-2 8 -5 16M73 149q-1 8 -2 16M81 74q-5 4 -5 10M145 111q-6 9 -4 20M121 223q1 5 -2 8M157 221q0 4 -2 8M107 180q2 7 -2 12M68 232q-4 7 -3 14M137 138q-3 6 -1 13M201 212q-1 7 -4 14M85 135q2 10 -4 18M83 210q-0 8 -0 17M89 133q-8 7 -10 17M222 187q-4 4 -4 10M172 208q-4 6 -2 13M188 115q-3 5 -6 9M171 103q-4 6 -6 13M87 90q-2 7 -4 13M180 121q-5 3 -9 7M122 208q-2 5 -1 10M217 144q-2 8 -2 17M172 116q2 11 -5 19M193 99q-5 8 -4 17M211 151q-1 7 -5 13M200 162q-3 4 -3 9M220 157q-8 4 -11 12M68 226q-3 6 -5 12M88 167q-5 7 -5 16M149 80q-5 7 -5 15M185 127q0 4 -2 8M156 176q-3 8 -7 17M149 51q-4 7 -11 11M115 61q-2 10 -11 15M155 197q-4 5 -4 11M65 211q-4 7 -1 15M131 70q-3 4 -3 9M180 117q-1 10 -8 18M105 139q-2 4 -2 8M107 189q-6 6 -8 14M175 88q-4 5 -6 11M122 169q-3 5 -4 10M122 115q-2 9 -8 16M129 85q-2 7 -2 14M187 137q-2 7 -1 13M107 156q-3 3 -5 8M105 84q-8 6 -10 17M206 106q-3 4 -3 9M170 175q-5 6 -6 13M197 88q-4 4 -4 10M199 65q-6 6 -8 14M173 208q-3 7 -7 14M124 91q-2 8 -5 15M154 198q-5 6 -9 13M115 220q-4 6 -2 14M91 186q1 10 -5 18M151 128q-4 8 -3 17M114 186q-2 7 -1 15M206 87q-3 7 -7 12M148 224q-8 5 -11 15M140 229q-7 4 -10 11M76 170q2 6 -2 11M200 91q-5 6 -4 13M207 172q-2 9 -10 13M147 49q1 10 -1 20M112 91q1 5 -2 9M195 212q-7 7 -11 17M137 229q-4 9 -12 15M68 162q-3 7 -3 15M128 84q-2 5 -2 11M120 176q-5 5 -6 12M96 169q-1 8 -4 15M180 51q-3 7 -6 15M97 193q0 7 -3 14M189 148q3 7 -0 14M193 61q-1 6 -2 11M82 103q-1 6 -3 12M99 230q-5 3 -6 8M218 175q-2 4 -1 9M184 59q-1 4 -2 8M82 106q-3 8 -7 16M128 153q-3 6 -1 13M114 204q0 8 -5 15M104 143q-4 6 -5 13M125 126q-5 6 -4 13M207 142q-4 8 -5 16M158 60q-2 6 -4 11M193 169q-2 5 0 10M162 163q-3 4 -4 9M81 73q-0 5 -3 10M161 151q-3 4 -4 9M212 111q1 8 -4 15M117 123q-1 4 -0 9M127 145q-1 7 -6 13M128 72q-4 4 -3 9M195 59q-2 8 -5 15M173 109q-4 8 -2 17M171 175q-4 3 -4 9M73 121q-7 5 -8 14M131 208q-2 10 -10 17M187 111q-1 4 -5 7M162 103q-4 3 -6 8M145 85q-3 7 -6 14M199 69q-6 7 -7 17M188 53q-4 6 -3 12M198 208q-2 5 -4 10M176 117q-5 6 -5 13M133 210q-4 9 -4 18M104 50q-1 8 -2 17M176 81q2 10 -2 19M92 133q-2 6 -5 12M197 96q1 10 -5 19M65 197q-0 8 -2 15M149 152q-2 4 -2 8M167 191q-1 8 -7 12M111 179q-1 6 -4 12M94 176q1 5 -2 9" stroke="#faf8f2" stroke-width="2.2" opacity="0.7" stroke-linecap="round" fill="none" filter="url(#soft)"/>
<path d="M209 209q4 5 9 7M91 234q-3 3 -5 8M75 128q-7 0 -13 -2M140 49q-1 -3 -2 -7M73 140q-3 3 -7 2M81 72q-2 -5 -3 -10M89 235q-4 0 -7 4M189 55q3 -3 8 -5M121 228q1 4 -3 7M66 169q-3 1 -6 2M171 217q-1 4 -2 7M210 71q4 -0 7 -2M71 234q-5 4 -11 8M102 52q-3 -2 -6 -2M82 72q-2 -3 -5 -6M200 63q2 -3 4 -6M70 233q-3 3 -5 6M203 214q8 0 12 6M215 174q6 3 13 2M121 228q-3 3 -5 7M65 168q-1 2 -3 4M77 105q-4 -3 -10 -3M218 155q4 3 9 3M84 69q-1 -4 -5 -7M102 228q-1 4 -4 8M64 192q0 4 -3 8M212 73q3 -3 2 -6M179 51q1 -6 5 -11M73 144q-2 -1 -5 -1M74 130q-6 -2 -12 -1M222 111q6 1 11 -1M220 149q6 1 12 0M73 146q-3 1 -6 2M66 179q-5 4 -12 3M175 214q-3 4 -1 10M66 204q-3 2 -7 4M121 49q-2 -3 -1 -6M71 235q-1 3 -3 6M167 218q5 5 7 12M66 213q-5 -1 -8 2M67 161q-1 4 -5 6M173 215q0 3 1 5M126 232q-1 3 -2 6M219 151q3 -2 7 -1M129 48q-4 -4 -4 -10M65 197q-2 3 -6 4M122 228q-1 2 -4 3M218 80q3 -5 7 -11M148 49q4 -5 7 -12M72 151q-4 -3 -8 -3M110 224q0 6 -5 10M186 53q-3 -5 -1 -11M152 49q2 -3 2 -6M90 234q-0 4 -4 6M83 71q-3 -5 -8 -9M194 59q4 -1 7 -4M143 49q5 -6 3 -13M75 128q-6 3 -12 -1M223 95q1 -7 7 -10M76 120q-5 -0 -11 0M76 120q-3 -3 -6 -6M101 53q-2 -7 -6 -12M94 57q-1 -4 -6 -5M114 222q-3 4 -4 10M182 209q3 1 4 4M133 48q1 -2 1 -5M214 164q5 2 10 6M219 196q2 6 0 13M91 58q-5 -4 -4 -10M188 208q1 4 5 7M64 190q-2 3 -5 5M185 53q2 -4 -1 -7M77 82q-4 -6 -11 -8M77 119q-5 -3 -10 -3M179 211q2 3 5 4M174 50q1 -6 -0 -12M77 115q-2 -7 -9 -9M177 51q0 -4 3 -7M223 110q2 -1 4 -3M65 226q0 4 -3 8M135 48q-3 -2 -3 -6M89 235q-3 3 -7 5M186 53q5 -5 4 -12M129 48q-1 -6 -1 -11M67 164q-7 2 -13 6M219 82q4 -3 7 -6M179 211q5 4 8 10M75 127q-5 -1 -10 -1M111 51q-1 -3 -4 -5M222 92q2 -3 5 -5M93 57q-5 -4 -8 -9M79 76q-0 -7 -5 -11M219 128q5 -2 7 -7M219 143q5 -1 9 -0M213 206q6 -1 10 4M221 89q6 -2 9 -7M170 217q5 2 6 7M76 83q-4 -2 -5 -7M173 49q5 -5 8 -11M70 155q-6 1 -11 5M117 225q1 3 -1 5M216 159q6 -4 14 -2M140 49q2 -4 1 -8M224 99q6 -1 9 -6M114 50q-1 -3 -1 -5M65 185q-7 0 -11 6M203 65q5 -2 10 -5M168 219q-1 6 -2 12M110 51q-1 -3 -4 -5M72 235q-4 3 -6 8M180 210q4 6 5 12M70 232q-4 3 -7 8M97 230q-4 5 -6 11M98 55q-3 -5 -3 -11M218 196q1 4 4 6M140 234q1 3 1 5M159 224q2 6 1 13M218 154q3 0 6 2M220 144q4 4 8 7M201 213q3 3 6 6" stroke="#e8e4da" stroke-width="2.2" opacity="0.8" stroke-linecap="round" fill="none" filter="url(#soft)"/>
<g opacity="0.95" filter="url(#bXS)"><ellipse cx="75" cy="145" rx="5.8" ry="3" fill="#0b0b0c" transform="rotate(150 75 145)"/><path d="M75.0 145.0l-2.6 7.6M75.0 145.0l6.6 -5.5M75.0 145.0l-7.6 2.5M75.0 145.0l8.0 -0.1" stroke="#0b0b0c" stroke-width="2.5" stroke-linecap="round" fill="none"/></g>
<g opacity="0.95" filter="url(#bXS)"><ellipse cx="200" cy="95" rx="3" ry="3" fill="#0b0b0c" transform="rotate(0 200 95)"/><path d="M200.0 95.0l3.6 0.8M200.0 95.0l-4.1 0.3M200.0 95.0l3.2 -3.4M200.0 95.0l-2.8 3.1" stroke="#0b0b0c" stroke-width="2.5" stroke-linecap="round" fill="none"/></g>
<g opacity="0.95" filter="url(#bXS)"><ellipse cx="215" cy="97" rx="3.6" ry="3" fill="#0b0b0c" transform="rotate(0 215 97)"/><path d="M215.0 97.0l3.7 -1.9M215.0 97.0l-4.3 -3.0M215.0 97.0l4.6 -0.5M215.0 97.0l-5.3 0.1" stroke="#0b0b0c" stroke-width="2.5" stroke-linecap="round" fill="none"/></g>
<g opacity="0.95" filter="url(#bXS)"><ellipse cx="218" cy="170" rx="3.6" ry="3" fill="#0b0b0c" transform="rotate(45 218 170)"/><path d="M218.0 170.0l1.4 3.8M218.0 170.0l-4.4 -1.6M218.0 170.0l3.8 1.9M218.0 170.0l-4.7 -2.1" stroke="#0b0b0c" stroke-width="2.5" stroke-linecap="round" fill="none"/></g>
<g opacity="0.95" filter="url(#bXS)"><ellipse cx="180" cy="212" rx="5.8" ry="3" fill="#0b0b0c" transform="rotate(160 180 212)"/><path d="M180.0 212.0l-8.0 -2.8M180.0 212.0l8.1 -4.2M180.0 212.0l-6.4 1.3M180.0 212.0l7.6 3.9" stroke="#0b0b0c" stroke-width="2.5" stroke-linecap="round" fill="none"/></g>
<g opacity="0.95" filter="url(#bXS)"><ellipse cx="97" cy="207" rx="5" ry="2.6" fill="#0b0b0c" transform="rotate(170 97 207)"/><path d="M97.0 207.0l-7.0 -0.5M97.0 207.0l6.8 -0.1M97.0 207.0l-6.6 4.9M97.0 207.0l5.6 -4.8" stroke="#0b0b0c" stroke-width="2.2" stroke-linecap="round" fill="none"/></g>
<g opacity="0.95" filter="url(#bXS)"><ellipse cx="130" cy="228" rx="3.6" ry="7" fill="#0b0b0c" transform="rotate(10 130 228)"/><path d="M130.0 228.0l5.1 0.5M130.0 228.0l-5.1 1.5M130.0 228.0l4.2 3.5M130.0 228.0l-4.7 -0.5" stroke="#0b0b0c" stroke-width="5.9" stroke-linecap="round" fill="none"/></g>
<g opacity="0.95" filter="url(#bXS)"><ellipse cx="78" cy="82" rx="3.6" ry="3" fill="#0b0b0c" transform="rotate(60 78 82)"/><path d="M78.0 82.0l3.5 2.5M78.0 82.0l-1.6 -4.0M78.0 82.0l1.7 5.4M78.0 82.0l-1.3 -3.9" stroke="#0b0b0c" stroke-width="2.5" stroke-linecap="round" fill="none"/></g>
</g></g>
<g transform="translate(1647.3 1215.4) scale(0.9923 0.9903)"><g clip-path="url(#cp300)" style="isolation:isolate">
<rect width="300" height="300" fill="#2e2e2e"/>
<ellipse cx="150" cy="30" rx="160" ry="45" fill="#202020" opacity="0.85" filter="url(#bL)"/>
<ellipse cx="110" cy="272" rx="55" ry="45" fill="#6c6c6c" opacity="0.95" filter="url(#bL)"/>
<ellipse cx="20" cy="230" rx="30" ry="80" fill="#3e3e3e" opacity="0.7" filter="url(#bL)"/>
<ellipse cx="255" cy="200" rx="50" ry="80" fill="#363636" opacity="0.7" filter="url(#bL)"/>
<ellipse cx="230" cy="90" rx="50" ry="40" fill="#3a3a3a" opacity="0.6" filter="url(#bL)"/>
<rect x="0" y="0" width="300" height="300" filter="url(#tex)" opacity="0.55" style="mix-blend-mode:overlay"/>
<path d="M250 48q0 14 10 24M91 40q0 8 0 16M288 298q-3 11 2 22M70 247q3 9 5 18M167 288q3 10 3 21M261 176q11 10 13 25M19 128q-4 16 5 30M67 30q3 9 -0 18M217 115q6 12 2 25M255 114q0 9 2 19M262 5q5 11 2 22M279 284q0 12 -6 22M8 223q3 14 2 28M238 141q6 11 10 22M247 287q4 15 6 30M298 294q-5 13 -9 27M50 23q4 14 2 28M51 21q6 16 8 33M108 237q-2 9 1 19M226 33q-6 10 -4 21M20 47q-6 11 -9 23M40 283q1 14 8 25M257 72q5 9 4 20M215 56q4 8 5 16M67 293q-1 14 -4 29M90 253q3 15 -2 29M263 191q3 11 -2 21M287 226q-4 11 -6 22M26 192q3 10 4 21M16 85q4 10 1 20M127 15q1 10 6 19M191 36q-0 8 2 16M110 48q6 9 3 19M103 261q3 7 -0 14M46 164q1 14 7 28M144 258q4 18 -4 33M117 261q6 13 6 28M256 25q-0 8 4 16M127 234q1 14 -4 27M247 298q2 7 4 14M249 290q7 8 5 19M64 291q-7 15 0 30M181 11q2 13 11 22M5 99q0 11 -1 23M80 222q5 11 1 22M164 252q8 7 9 18M1 195q-8 15 -7 32M229 209q0 15 2 30M178 8q5 6 9 12M271 156q-1 16 0 32M107 284q-1 16 10 26M178 224q-2 7 -2 15M7 73q-0 10 2 19M294 29q1 9 4 17M220 58q4 8 2 17M284 164q2 12 3 23M46 197q-1 11 4 22M21 30q5 10 8 22M98 291q5 13 3 26M215 226q2 10 6 18M4 120q-2 11 -2 21M4 79q-0 11 1 22M172 78q-3 14 2 28M269 15q4 12 3 24M22 163q6 17 -2 32M245 111q7 9 4 20M297 237q-3 17 10 30M287 18q3 9 2 19M73 7q2 15 3 30M178 277q9 14 7 30M32 167q0 11 8 20M179 225q5 8 6 16M243 78q3 14 7 28M299 17q5 16 -3 30M242 101q4 11 0 22M277 83q3 9 3 19M178 23q-4 13 -3 26M277 203q-7 15 0 30M248 160q7 7 6 16M38 24q3 15 0 29M92 239q3 10 3 20M175 59q-2 11 1 22M267 122q-0 9 3 17M1 187q2 12 7 23M283 67q-5 11 -0 21M203 262q2 13 -1 25M224 48q-0 12 2 24M268 136q7 15 2 30M262 290q5 15 -2 28M271 192q-4 17 1 33M10 43q-0 15 7 27M90 260q4 10 1 21M29 249q-0 9 -1 18M230 84q-0 8 2 16M2 33q2 11 7 21M194 74q2 14 -1 27M20 120q-1 8 0 16M238 180q4 16 15 28M207 121q-1 10 5 19M167 238q0 11 5 21M181 38q3 9 2 19M42 121q-4 14 4 26M54 221q1 8 -2 16M211 55q3 7 2 15M284 16q3 15 2 31M217 282q-0 10 -0 20M224 251q0 8 5 14M149 32q-4 15 -0 30M258 88q-1 14 2 28M8 27q2 12 7 23M43 107q9 16 2 33M232 44q2 10 9 19M190 245q5 9 4 20M268 256q4 16 5 32M191 247q1 13 4 25M262 269q-4 10 1 20M43 120q2 8 3 16M268 104q-0 8 -2 16M276 139q6 7 8 17M97 272q6 16 4 33M201 147q5 10 5 21M27 228q-1 13 1 26M241 50q1 12 1 25M57 18q-0 11 3 21M104 267q0 7 5 14M37 117q7 14 2 30M114 263q4 8 3 18M270 117q8 11 7 25M103 50q-0 15 2 30M210 126q-1 13 1 26M55 272q2 13 2 27M232 155q6 7 4 16M174 291q6 10 1 20M216 34q-0 8 3 16M117 290q7 14 0 28M44 257q5 11 3 23M135 249q0 9 2 19M49 253q-7 13 -4 28M147 262q9 11 15 24M288 18q-3 10 0 20M19 168q-6 13 -2 26M145 42q3 8 -0 15M31 186q-3 14 4 26M26 157q6 12 8 25M253 260q6 9 9 19M227 104q4 11 9 22M299 190q5 7 7 15M208 224q2 12 8 24M281 44q6 15 -2 29M48 101q1 10 -0 21M210 252q-0 8 -1 16M35 122q-2 9 2 18M46 234q-2 12 1 24M38 233q4 14 2 29M250 95q5 10 7 20M232 269q4 7 1 14M279 113q1 15 -2 29M220 154q-2 11 -0 23M21 2q7 16 5 33M265 77q-7 10 -6 22M145 263q-4 9 -0 19M195 89q7 12 6 25M92 6q6 14 3 30M72 261q-5 16 -9 32M226 170q1 9 6 16M281 13q-7 12 -4 26M193 22q4 13 -0 26M22 181q6 9 11 18M230 271q-2 10 4 19M56 53q3 16 7 33M33 189q-2 7 -2 14M102 24q3 14 13 24M296 17q1 9 6 17M276 73q7 15 3 31M31 192q3 16 10 31M270 26q0 8 6 14M246 275q-4 12 3 22M253 152q3 16 5 32M39 23q8 10 7 23M164 230q7 16 5 32M15 268q-3 9 -2 19M86 44q-1 11 7 19M31 161q-2 10 -1 21M160 21q7 11 2 23M30 146q1 8 1 17M107 289q10 11 8 25M165 256q-9 13 -4 28M39 118q4 12 9 24M162 255q-0 10 3 19M214 257q5 12 3 25M13 282q3 12 -3 23M77 49q4 15 7 30M94 8q6 14 4 30M283 178q4 11 5 22M248 184q6 13 3 28M200 157q-5 12 1 24M249 150q5 7 3 15M275 265q3 11 -0 22M159 61q2 11 2 22M253 136q0 10 3 20M149 296q9 14 15 29M158 256q2 7 4 15M142 48q-2 8 1 15M240 223q1 8 3 16M257 156q2 8 6 15M120 52q1 14 6 26M44 167q0 13 4 24M216 231q4 12 6 25M259 104q-4 13 -3 26M297 91q1 8 3 15M58 3q0 11 6 20M68 247q3 12 2 24M294 78q-3 17 6 31M157 255q-3 16 3 32M66 261q-6 14 -3 29M67 68q4 13 7 26M18 158q1 12 6 23M252 185q-1 15 4 28M67 8q4 13 1 27M37 35q-5 12 -7 25M240 170q5 9 4 20M287 124q7 10 9 22M188 102q5 12 1 25M234 240q2 8 6 16M216 98q4 16 15 29M23 272q2 13 1 26M29 195q-3 14 0 27M275 18q5 10 -1 21M286 153q3 12 8 24M128 291q0 15 7 28M292 291q2 10 2 21M229 284q7 15 1 29M238 94q7 8 6 19M232 209q4 6 4 14M234 215q1 13 12 20M54 36q4 10 6 20M277 135q8 8 6 19M39 208q-4 17 -4 33M264 194q2 16 10 30M261 9q4 9 0 17M274 66q-2 8 2 15M262 263q-0 7 1 14M212 257q3 15 2 30M289 84q7 6 7 16M281 101q4 12 0 24M250 170q2 17 16 26M177 244q7 16 2 34M40 260q-0 13 4 24M45 297q2 14 4 28M212 112q-1 11 7 20M241 91q7 17 0 34M255 52q-1 11 -0 21M114 18q-1 8 1 16M16 23q11 13 8 29M69 30q4 7 2 16M45 105q-3 11 2 21M114 276q0 11 4 21M63 249q-2 11 5 20M6 109q1 14 -5 27M44 63q0 9 2 18M289 215q1 11 4 21M143 284q-0 15 8 29M201 158q5 15 10 29M245 195q5 9 5 19M16 209q1 7 6 13M267 225q5 13 7 26M205 214q-3 17 8 29M43 112q4 11 1 21M223 221q8 16 4 33M285 116q2 15 -4 29M204 142q-6 17 2 33M250 257q-1 14 0 28M279 149q-2 8 0 15M242 129q5 15 -3 29M82 35q-0 10 -1 20M297 21q3 13 2 27M37 81q10 14 10 32M255 127q-3 15 -2 30M80 291q3 8 5 16M17 140q-3 11 -3 22M287 199q-5 8 -1 17M262 45q1 17 8 31M187 89q2 8 8 13M175 23q7 13 12 28M170 4q-0 14 10 24M3 160q-4 10 1 20M291 60q9 15 3 31M114 36q1 15 -1 30M114 246q-4 8 -1 16M216 225q3 14 10 28M145 290q7 14 7 30M78 64q4 9 5 20M238 218q3 14 5 28M126 239q2 13 4 26M89 229q5 10 4 21M63 69q-3 16 3 31M78 262q-1 9 -5 18M178 76q-3 11 -2 22M252 79q-2 10 1 19M146 52q-2 10 -2 20" stroke="#5a5a5a" stroke-width="1.8" opacity="0.35" stroke-linecap="round" fill="none" filter="url(#soft2)"/>
<path d="M43 147q5 15 17 25M204 47q3 16 4 32M175 30q5 7 4 16M54 1q-0 11 -4 21M215 132q2 16 10 31M8 90q-9 16 -2 33M2 37q-3 16 -11 31M8 275q-7 13 -3 26M90 258q-2 14 1 27M138 286q4 7 6 15M252 23q2 11 6 21M209 188q2 12 0 24M297 244q-0 11 3 22M130 42q-3 16 6 30M84 49q-1 9 2 18M274 27q-5 13 -5 27M87 42q-5 16 1 32M242 23q-3 10 3 18M252 239q-4 18 5 33M118 247q4 9 -1 19M33 62q-2 8 1 17M266 292q-4 17 6 31M249 285q5 6 7 14M282 128q-2 12 1 24M118 16q-0 16 2 32M158 296q-0 11 5 21M65 239q-2 12 5 22M286 60q-7 9 -5 20M133 24q0 11 3 22M206 35q2 8 -1 15M288 64q-3 11 2 21M250 251q7 15 13 31M12 276q1 10 0 21M166 19q-1 9 2 18M209 164q2 7 -2 14M300 123q10 8 11 22M274 152q12 11 11 27M266 247q-2 15 7 27M289 93q-2 16 0 32M69 52q-0 11 6 20M95 284q1 8 2 16M263 86q2 8 5 15M237 12q5 16 0 33M0 196q2 12 11 20M52 221q2 13 -3 25M193 285q-2 14 6 27M1 121q-8 12 -4 26M70 293q-3 15 1 31M256 253q11 15 9 33M25 212q3 12 -0 24M36 60q0 12 5 24M256 12q12 12 10 29M70 249q-5 12 -0 25M281 280q-4 13 2 25M182 20q7 11 9 25M214 72q-5 12 -0 24M225 110q0 9 4 16M200 77q2 17 11 31M215 120q-0 14 4 28M282 189q4 10 -0 20M192 98q3 14 0 29M263 159q-1 9 -1 17M24 195q2 9 0 17M253 272q-3 12 1 24M241 182q-1 14 -2 27M107 230q6 8 8 18M290 211q7 13 5 27M42 285q-1 10 1 19M118 233q9 8 12 20M231 220q-5 13 -5 27M25 256q8 12 6 26M42 110q1 14 -2 28M194 10q11 14 10 32M275 68q3 11 2 23M34 3q6 14 5 29M234 9q-1 12 5 22M233 5q1 9 -3 16M26 202q5 11 4 23M279 127q0 7 3 14M263 243q9 14 7 30M193 58q6 7 7 17M62 291q4 17 -3 33M238 145q7 16 1 33M125 261q2 10 -3 18M239 83q-1 14 6 25M268 169q-3 10 -1 21M232 201q2 10 7 20M275 197q-7 11 -3 23M234 210q3 8 2 17M207 107q1 13 7 24M190 23q3 11 3 22M12 286q4 10 -1 20M56 8q4 11 1 23M220 156q2 11 8 21M143 22q2 15 13 25M121 280q1 7 -1 14M239 159q0 9 -2 17M115 232q6 14 8 29M12 239q3 13 8 25M244 34q-0 17 8 32M153 223q4 15 -1 29M157 268q4 7 6 15M262 187q6 9 5 20M212 41q-2 11 3 22M211 118q1 9 2 18M54 234q5 16 -2 32M35 158q2 8 1 16M191 12q1 8 3 17M256 35q-0 13 3 25M49 89q-3 10 -0 20M47 52q3 10 8 19M62 216q8 14 3 30M249 282q6 14 3 29M247 74q5 10 4 21M270 60q4 12 5 25M220 46q11 12 11 28M53 19q5 9 4 19M40 32q9 13 5 28M2 94q5 8 6 18M143 4q0 9 0 18M240 0q2 17 5 33M159 219q-3 10 2 20M230 210q9 14 7 32M68 259q3 14 2 29M224 120q4 15 -2 29M129 26q4 16 6 33M65 247q-1 11 7 18M284 262q15 10 16 28M282 112q-1 11 -2 21M18 25q-1 8 -4 15M225 135q2 12 6 23M89 255q8 8 7 19M170 1q8 15 1 31M216 197q-1 8 -1 16M236 150q2 9 0 19M46 107q5 11 1 22M222 33q-3 17 2 33M233 20q4 9 4 20M248 237q4 13 -1 26M156 25q9 14 13 30M228 112q4 13 5 27M247 205q9 11 6 26M134 23q-5 9 -2 19M216 241q12 11 11 26M228 82q8 9 9 21M202 78q8 15 8 31M289 74q1 17 1 34M294 74q8 11 8 24M275 95q2 8 4 16M299 120q3 16 11 31M228 189q9 15 6 31M201 143q-4 11 1 22M287 114q-1 8 -1 16M35 131q3 13 9 24M171 225q4 9 8 19M24 216q6 13 9 27M145 271q-0 11 5 20M222 78q4 8 3 17M10 155q1 12 -5 22M214 220q-3 9 0 18M8 84q15 12 14 30M227 30q1 9 -4 17M47 259q-0 11 0 21M9 225q4 16 5 33M292 91q7 10 6 22M188 258q2 7 1 15M38 189q-0 9 -3 18M227 295q-2 11 3 21M13 276q5 9 3 20M249 17q4 10 3 20M206 257q3 16 16 26M196 71q9 12 8 27M285 123q2 8 1 15M137 290q5 6 5 14M278 114q4 9 4 18M83 232q8 16 2 32M270 111q-0 17 10 29M53 21q-5 15 -7 32M278 132q-4 17 4 32M225 217q-4 9 1 18M110 266q3 8 6 17M216 66q-7 16 1 31M181 49q-8 13 -6 28M237 93q8 14 10 31M33 178q1 8 3 15M273 246q-2 17 6 31M12 65q-3 7 -2 14M245 8q-0 17 1 33M33 116q5 13 12 24M267 39q0 8 0 16M104 250q-3 14 5 25M277 88q-1 10 2 19M17 13q-6 15 -3 31M231 63q1 9 -3 17M242 12q7 11 5 25M129 283q-4 14 -4 29M196 291q-4 13 -0 26M30 77q7 7 7 18M184 252q-5 9 -1 18M290 111q-4 11 -1 22M34 264q-1 14 6 27M220 260q6 16 2 32M163 232q0 11 4 22M94 47q2 10 2 21M243 249q-2 13 -2 26M67 60q7 12 4 26M289 160q4 15 15 27M93 238q7 16 -1 32M7 63q10 15 7 32M218 259q-2 12 -7 23M74 261q-6 15 -0 30M201 113q-8 16 -1 33M245 84q-0 9 -4 18M10 96q4 13 4 27M110 36q-2 11 3 22M84 36q6 7 11 16M22 281q6 13 1 26M86 60q-3 10 2 19M24 201q1 16 2 33M266 107q-7 15 -3 31M181 42q3 14 7 28M52 55q-2 9 -2 18M108 289q-2 16 2 32M13 275q-1 8 2 17M215 2q1 12 7 23M274 167q-0 14 2 27M55 262q-4 14 -1 29M30 172q4 11 7 22M271 41q2 12 5 24M174 248q-3 12 2 23M15 88q-4 8 -0 16M164 1q1 12 -2 23M203 284q2 10 -1 20M286 86q-2 8 2 15M43 294q-5 18 6 33M31 4q5 10 1 20M60 292q4 13 8 25M90 5q3 14 -3 27M28 151q-4 10 -0 20M245 39q4 12 6 24M170 222q4 12 6 25M238 243q-4 12 2 24M237 205q-0 13 1 27M235 64q-0 8 2 17M230 104q2 9 4 19M52 272q2 12 6 24M271 88q-9 16 -1 33M250 11q0 7 -0 15M185 79q3 12 5 25M238 295q0 9 4 17M170 4q1 7 1 14M22 264q-0 11 7 20M175 242q4 8 1 16M169 5q3 11 9 22M167 53q3 7 8 12M43 126q-3 11 -4 22M232 2q0 12 -2 23M185 43q3 10 1 21M291 233q-11 12 -11 28M266 92q6 10 8 21" stroke="#181818" stroke-width="1.8" opacity="0.35" stroke-linecap="round" fill="none" filter="url(#soft2)"/>
<path d="M49.8,86 C53.6,79 64.8,72.1 72.7,67 C80.6,61.9 88.5,57.7 97.4,55.5 C106.3,53.3 117.1,53.3 126,53.6 C134.9,53.9 143.4,55.2 150.7,57.4 C158,59.6 166.3,62.1 169.8,66.9 C173.3,71.7 169.5,80.3 171.7,86 C173.9,91.7 179.3,96.1 183.1,101.2 C186.9,106.3 191.7,111.4 194.5,116.5 C197.3,121.6 199.6,126 200.2,131.7 C200.8,137.4 198.6,144.3 198.3,150.7 C198,157 197.7,164.1 198.3,169.8 C198.9,175.5 199.6,180.6 202.1,185 C204.6,189.4 211.4,192.6 213.6,196.4 C215.8,200.2 217.4,204.9 215.5,207.8 C213.6,210.7 207.5,213.3 202.1,213.6 C196.7,213.9 189.4,209.8 183.1,209.8 C176.8,209.8 170.4,211.4 164.1,213.6 C157.8,215.8 151.3,221.5 145,223.1 C138.7,224.7 132.3,222.5 126,223.1 C119.7,223.7 113.2,227.2 106.9,226.9 C100.6,226.6 94.2,223.4 87.9,221.2 C81.6,219 75.2,215.8 68.9,213.6 C62.6,211.4 53.6,212.7 49.8,207.9 C46,203.1 46.3,192 46,185 C45.7,178 47.3,172.3 47.9,166 C48.5,159.7 50.1,153.2 49.8,146.9 C49.5,140.6 46,134.2 46,127.9 C46,121.6 49.2,115.8 49.8,108.8 C50.4,101.8 46,93 49.8,86Z" fill="none" stroke="#141414" stroke-width="9" opacity="0.8" filter="url(#bM)"/>
<path d="M49.8,86 C53.6,79 64.8,72.1 72.7,67 C80.6,61.9 88.5,57.7 97.4,55.5 C106.3,53.3 117.1,53.3 126,53.6 C134.9,53.9 143.4,55.2 150.7,57.4 C158,59.6 166.3,62.1 169.8,66.9 C173.3,71.7 169.5,80.3 171.7,86 C173.9,91.7 179.3,96.1 183.1,101.2 C186.9,106.3 191.7,111.4 194.5,116.5 C197.3,121.6 199.6,126 200.2,131.7 C200.8,137.4 198.6,144.3 198.3,150.7 C198,157 197.7,164.1 198.3,169.8 C198.9,175.5 199.6,180.6 202.1,185 C204.6,189.4 211.4,192.6 213.6,196.4 C215.8,200.2 217.4,204.9 215.5,207.8 C213.6,210.7 207.5,213.3 202.1,213.6 C196.7,213.9 189.4,209.8 183.1,209.8 C176.8,209.8 170.4,211.4 164.1,213.6 C157.8,215.8 151.3,221.5 145,223.1 C138.7,224.7 132.3,222.5 126,223.1 C119.7,223.7 113.2,227.2 106.9,226.9 C100.6,226.6 94.2,223.4 87.9,221.2 C81.6,219 75.2,215.8 68.9,213.6 C62.6,211.4 53.6,212.7 49.8,207.9 C46,203.1 46.3,192 46,185 C45.7,178 47.3,172.3 47.9,166 C48.5,159.7 50.1,153.2 49.8,146.9 C49.5,140.6 46,134.2 46,127.9 C46,121.6 49.2,115.8 49.8,108.8 C50.4,101.8 46,93 49.8,86Z" fill="#9e98a0" opacity="1" filter="url(#fuzz)"/>
<ellipse cx="140" cy="160" rx="40" ry="45" fill="#b4aeb8" opacity="0.75" filter="url(#bL)"/>
<ellipse cx="115" cy="85" rx="45" ry="22" fill="#b8b4ba" opacity="0.6" filter="url(#bM)"/>
<ellipse cx="65" cy="140" rx="12" ry="40" fill="#6e5c66" opacity="0.6" filter="url(#bM)"/>
<ellipse cx="185" cy="110" rx="10" ry="30" fill="#4a4648" opacity="0.5" filter="url(#bM)"/>
<clipPath id="gt8"><path d="M49.8,86 C53.6,79 64.8,72.1 72.7,67 C80.6,61.9 88.5,57.7 97.4,55.5 C106.3,53.3 117.1,53.3 126,53.6 C134.9,53.9 143.4,55.2 150.7,57.4 C158,59.6 166.3,62.1 169.8,66.9 C173.3,71.7 169.5,80.3 171.7,86 C173.9,91.7 179.3,96.1 183.1,101.2 C186.9,106.3 191.7,111.4 194.5,116.5 C197.3,121.6 199.6,126 200.2,131.7 C200.8,137.4 198.6,144.3 198.3,150.7 C198,157 197.7,164.1 198.3,169.8 C198.9,175.5 199.6,180.6 202.1,185 C204.6,189.4 211.4,192.6 213.6,196.4 C215.8,200.2 217.4,204.9 215.5,207.8 C213.6,210.7 207.5,213.3 202.1,213.6 C196.7,213.9 189.4,209.8 183.1,209.8 C176.8,209.8 170.4,211.4 164.1,213.6 C157.8,215.8 151.3,221.5 145,223.1 C138.7,224.7 132.3,222.5 126,223.1 C119.7,223.7 113.2,227.2 106.9,226.9 C100.6,226.6 94.2,223.4 87.9,221.2 C81.6,219 75.2,215.8 68.9,213.6 C62.6,211.4 53.6,212.7 49.8,207.9 C46,203.1 46.3,192 46,185 C45.7,178 47.3,172.3 47.9,166 C48.5,159.7 50.1,153.2 49.8,146.9 C49.5,140.6 46,134.2 46,127.9 C46,121.6 49.2,115.8 49.8,108.8 C50.4,101.8 46,93 49.8,86Z"/></clipPath><rect x="0" y="0" width="300" height="300" filter="url(#tex4)" opacity="0.7" clip-path="url(#gt8)" style="mix-blend-mode:overlay"/>
<ellipse cx="208" cy="204" rx="7" ry="8" fill="#d6c6a6" opacity="0.85" filter="url(#bXS)"/>
<path d="M57 93q-3 4 -7 7M69 134q-4 3 -6 8M105 172q-4 4 -9 7M96 69q-9 2 -17 8M189 166q-6 3 -9 9M197 186q-5 6 -10 12M168 129q-4 4 -8 7M47 185q-2 8 -9 12M81 201q-7 7 -12 16M75 174q-5 3 -8 8M136 177q-4 4 -7 9M176 134q-3 4 -6 6M152 214q-4 7 -11 9M71 182q-7 6 -13 13M101 68q-6 4 -7 11M87 66q-9 4 -16 11M71 129q-9 5 -10 16M95 96q-5 9 -10 17M58 85q-7 7 -10 16M60 98q-2 4 -6 6M115 140q-8 4 -16 9M159 204q-2 8 -9 14M88 179q-5 4 -8 9M150 196q-4 3 -6 7M58 89q-3 3 -3 8M133 174q-4 4 -8 8M125 198q-8 5 -15 10M51 204q-2 4 -6 7M153 199q-3 8 -10 13M87 214q-5 8 -10 15M147 116q-5 4 -9 10M151 117q-6 2 -11 6M176 145q-6 5 -10 12M111 91q-4 8 -8 15M143 181q-7 1 -11 6M100 219q-5 9 -11 17M153 176q-6 6 -10 14M107 114q-6 4 -11 9M170 95q-4 4 -9 8M197 211q-7 6 -14 12M134 168q-4 4 -8 7M154 130q-4 7 -11 11M202 210q-4 1 -7 4M153 158q-6 5 -10 11M168 137q-5 9 -13 14M90 111q-8 5 -8 14M176 157q-10 2 -18 9M96 148q-2 4 -4 9M191 153q-4 4 -7 9M149 147q-8 6 -14 14M180 190q-4 3 -7 5M140 210q-2 7 -6 12M116 134q-8 6 -10 16M127 101q-10 1 -18 8M55 164q-3 7 -9 10M62 156q-6 5 -12 9M100 113q-9 2 -14 9M178 164q-2 5 -5 10M151 82q-4 3 -6 8M156 123q-3 8 -11 10M67 155q-7 4 -10 12M96 78q-5 8 -14 11M160 83q-8 4 -10 13M133 80q-1 6 -4 10M101 191q-6 6 -14 10M162 78q-4 6 -4 12M99 111q-3 5 -6 10M98 165q-4 2 -6 6M51 97q-5 6 -14 9M137 70q-4 2 -7 5M151 142q-5 9 -14 12M152 103q-4 4 -6 10M134 65q-5 3 -8 6M63 99q-4 6 -10 11M133 135q-5 5 -8 12M187 129q-4 4 -8 7M148 210q-4 5 -9 6M78 119q-5 2 -8 7M159 141q-2 6 -7 9M201 185q-6 4 -7 11M151 65q-2 4 -4 8M66 152q-5 7 -11 14M154 68q-3 7 -10 11M51 174q-3 5 -8 7M119 96q-9 5 -12 14M67 75q-5 6 -11 12M134 66q-4 7 -12 9M123 170q-10 3 -14 12M137 63q-4 5 -8 9M79 145q-6 2 -10 6M154 117q-1 10 -10 16M145 216q-4 7 -9 13M196 191q-9 2 -13 10M144 113q-6 3 -9 10M67 182q-7 6 -15 12M92 214q-6 2 -8 8M85 183q-2 10 -11 16M100 127q-11 2 -16 11M181 166q-3 8 -10 12M139 204q-4 6 -8 11M138 141q-8 5 -12 13M149 116q-6 6 -13 12M89 75q-8 4 -16 8M150 134q-3 5 -6 9M119 154q-6 8 -15 13M79 189q-3 4 -5 8M147 84q-6 3 -8 9M136 156q-2 5 -6 8M54 93q-5 6 -10 10M202 206q-6 8 -15 11M129 176q-7 6 -13 14M49 141q-1 7 -7 10M149 195q-7 4 -11 11M163 97q-6 4 -9 10M132 91q-5 6 -12 7M191 197q-3 6 -9 11M130 92q-3 4 -8 6M145 73q-6 6 -10 14M172 129q-4 2 -6 7M98 193q-5 5 -5 12M102 163q-0 6 -5 10M151 205q-6 6 -6 15M78 101q-3 9 -11 13M56 205q-3 4 -7 5M81 103q-7 3 -9 11M113 194q-5 6 -12 11M92 85q-3 3 -4 7M108 77q-6 5 -7 13M79 164q-6 3 -7 10M103 206q-2 5 -7 8M52 138q-4 6 -11 10M122 205q-4 9 -11 16M79 168q-4 8 -13 11M148 100q-4 5 -5 12M51 106q-3 8 -8 15M109 145q-5 4 -7 11M139 185q-6 2 -9 7M131 109q-5 9 -14 13M96 115q-2 4 -6 7M197 150q-4 3 -5 8M178 116q-4 5 -9 10M150 113q-6 5 -8 12M85 155q-5 5 -11 7M149 154q-6 3 -9 8M107 148q-5 8 -12 13M165 208q-8 2 -13 7M79 185q-4 3 -8 7M81 86q-4 4 -6 9M143 56q-3 8 -6 16M52 136q-3 3 -5 7M117 151q-2 6 -9 8M78 138q-4 5 -6 11M82 136q-9 4 -11 13M143 219q-6 6 -11 13M80 101q-7 3 -11 11M160 150q-4 3 -5 7M67 74q-3 4 -5 8M70 72q-6 2 -8 8M77 122q-9 5 -12 15M158 97q-2 6 -6 10M96 147q-8 6 -14 13M76 211q-3 6 -10 9M136 186q-1 6 -5 10M52 87q-6 7 -9 16M68 76q-6 5 -11 11M159 205q-5 4 -6 10M83 177q-5 2 -7 6M95 219q-7 5 -8 14M78 184q-5 2 -6 7M196 150q-4 3 -9 6M145 209q-4 5 -7 12M72 180q-5 5 -11 10M165 161q-3 6 -8 11M77 194q-4 9 -11 15M64 167q-3 5 -6 10M60 102q-3 8 -10 14M153 142q-9 5 -12 15M59 117q-4 3 -8 5M75 145q-2 4 -6 7M179 103q-7 6 -14 12M84 170q-3 9 -11 15M142 84q-5 4 -6 10M104 157q-5 5 -10 11M96 81q-4 2 -8 4M102 145q-1 5 -6 7M151 104q-1 7 -6 11M123 108q-4 7 -11 11M57 106q-5 2 -8 7M137 214q-7 1 -10 7M116 141q-4 5 -8 10M121 96q-3 5 -5 9M172 196q-8 5 -11 14M85 210q-4 8 -12 10M78 146q-9 4 -12 14M116 58q-2 4 -7 6M117 150q-6 3 -8 9M150 206q-6 4 -8 11M58 106q-2 10 -11 14M77 200q-3 2 -6 5M160 75q-2 10 -10 17" stroke="#7a7078" stroke-width="1.8" opacity="0.45" stroke-linecap="round" fill="none" filter="url(#soft)"/>
<path d="M59 150q-4 8 -8 17M127 88q-2 6 -7 9M79 96q-10 7 -14 19M105 81q-5 2 -8 7M79 78q-9 8 -11 19M136 99q-7 8 -14 16M92 102q-5 7 -11 12M165 137q-4 4 -8 7M106 111q-6 2 -10 5M169 87q-6 6 -11 12M61 85q-3 9 -11 13M140 76q-7 9 -18 14M187 145q-5 8 -13 13M135 90q-7 6 -15 11M139 62q-4 3 -6 8M63 114q-1 7 -7 12M125 79q-10 6 -15 17M123 77q-6 10 -16 14M123 104q-5 8 -11 16M81 105q-7 8 -16 14M69 100q-2 7 -8 10M128 143q-5 8 -13 12M115 145q-6 5 -10 12M186 137q-4 9 -10 16M200 131q-9 7 -17 14M107 66q-4 12 -13 20M58 113q-8 7 -15 16M99 73q-1 7 -3 13M181 145q-9 6 -15 15M114 60q-2 5 -7 8M80 147q-7 4 -14 8M150 72q-2 6 -6 11M138 135q0 9 -7 16M75 116q-4 4 -8 8M67 108q-9 10 -6 23M143 98q-6 5 -12 8M179 107q-6 7 -12 15M100 71q-5 4 -6 10M136 71q-10 6 -21 11M110 128q-4 4 -7 9M73 94q-4 10 -14 14M98 94q-8 4 -13 11M106 67q-7 10 -16 18M195 130q-4 8 -11 15M125 121q-4 5 -5 12M61 122q-3 12 -14 18M88 81q-3 4 -8 7M116 57q-9 4 -11 13M121 73q-11 3 -16 13M124 138q-4 3 -9 6M118 85q-4 7 -8 14M70 94q-10 5 -18 14M58 111q-5 11 -15 15M119 150q-7 3 -12 10M72 102q-9 5 -11 15M115 82q-5 3 -7 8M147 145q-4 6 -11 7M169 107q-3 5 -5 9M107 108q-4 3 -8 6M71 91q-8 3 -13 9M82 112q-5 10 -16 12M137 71q-5 2 -7 8M129 129q-7 7 -9 16M143 87q-6 6 -12 11M98 97q-10 3 -19 8M52 140q-5 6 -10 13M161 104q-8 6 -17 12M124 141q-8 5 -12 14M198 140q-12 4 -18 14M176 127q-11 2 -18 11M60 146q-3 7 -8 13M73 107q-6 8 -9 18M49 114q-1 7 -6 11M102 72q-8 6 -11 16M137 59q-6 7 -12 14M118 129q-2 9 -9 15M105 85q-6 5 -7 12M170 72q-2 8 -8 14M78 129q-4 5 -7 10M127 62q-7 4 -12 11M82 98q-6 4 -11 9M95 124q-4 8 -11 13M84 147q-8 8 -15 17M72 102q-3 9 -12 12M75 130q-2 5 -6 8M73 98q-8 8 -13 19M122 123q-7 5 -11 13M147 83q-4 5 -11 6M110 71q-6 5 -7 12M177 141q-9 5 -11 16M170 149q-6 4 -11 8M151 121q-7 5 -10 12M85 130q-2 5 -7 8M139 111q-9 7 -15 17M152 69q-7 7 -14 14M153 80q-5 7 -13 11M101 139q-4 5 -7 9M125 83q-4 6 -10 8M125 85q-9 5 -13 15M153 144q-5 5 -10 10M107 56q-5 7 -12 12M118 87q-4 8 -13 11M169 104q-8 5 -16 10M121 110q-4 9 -13 12M129 108q-3 8 -10 12M94 115q-1 7 -7 11M95 110q-5 4 -9 10M50 135q-5 11 -16 14M181 126q-3 6 -7 10M119 75q-5 6 -9 13M54 129q-7 10 -18 14M159 115q-6 3 -8 9M126 110q-7 3 -10 10M66 92q-6 10 -14 19M82 148q-2 6 -7 10M91 147q-2 8 -10 12M118 74q-9 6 -11 16M178 141q-5 9 -10 19M87 98q-5 6 -13 6M167 101q-6 6 -12 13M113 88q-5 7 -10 14M126 86q-8 3 -13 11M128 130q-7 3 -12 10M124 99q-4 11 -14 18M70 80q-10 6 -17 15M49 126q-4 4 -5 9M84 123q-1 5 -6 8M166 74q-6 7 -10 15M118 136q-4 6 -9 11M139 67q-6 6 -12 10M192 146q-5 8 -14 13M179 135q-7 3 -11 10M70 70q-5 9 -13 14M194 122q-5 6 -9 13M133 74q-10 5 -14 15M159 124q-7 5 -10 14M176 129q-1 6 -6 10M89 81q-7 4 -14 8M192 127q-11 5 -14 17M135 75q-6 2 -8 8M88 109q-12 5 -15 17M82 88q-5 8 -13 13M106 74q-6 7 -12 15M71 111q-6 6 -10 14M66 87q-0 6 -5 10M142 127q-7 6 -13 13M66 97q-1 6 -6 10M100 130q-6 4 -9 11M114 80q-11 7 -13 20M54 109q-10 5 -19 13M128 88q-5 3 -7 7M181 147q-8 7 -14 16M182 120q-6 2 -9 8M128 148q-6 5 -8 12M75 90q-5 9 -13 13M75 84q-4 9 -10 15M70 84q-9 8 -18 16M83 74q-0 6 -5 11M139 124q-3 7 -7 14M110 101q-5 3 -7 7" stroke="#e6e2e8" stroke-width="2.0" opacity="0.7" stroke-linecap="round" fill="none" filter="url(#soft)"/>
<g opacity="0.95" filter="url(#bXS)"><ellipse cx="62" cy="214" rx="6.5" ry="3" fill="#0b0b0c" transform="rotate(120 62 214)"/><path d="M62.0 214.0l-2.2 9.6M62.0 214.0l3.2 -8.4M62.0 214.0l-5.9 6.2M62.0 214.0l4.9 -7.2" stroke="#0b0b0c" stroke-width="2.5" stroke-linecap="round" fill="none"/></g>
<g opacity="0.95" filter="url(#bXS)"><ellipse cx="76" cy="222" rx="5" ry="3" fill="#0b0b0c" transform="rotate(70 76 222)"/><path d="M76.0 222.0l-7.4 3.0M76.0 222.0l-1.5 -7.4M76.0 222.0l-2.5 6.4M76.0 222.0l-4.9 -5.3" stroke="#0b0b0c" stroke-width="2.5" stroke-linecap="round" fill="none"/></g>
<g opacity="0.95" filter="url(#bXS)"><ellipse cx="92" cy="224" rx="5.8" ry="3" fill="#0b0b0c" transform="rotate(100 92 224)"/><path d="M92.0 224.0l1.4 7.3M92.0 224.0l-3.5 -6.2M92.0 224.0l-0.5 9.5M92.0 224.0l-2.4 -6.4" stroke="#0b0b0c" stroke-width="2.5" stroke-linecap="round" fill="none"/></g>
<g opacity="0.95" filter="url(#bXS)"><ellipse cx="140" cy="226" rx="7.2" ry="3" fill="#0b0b0c" transform="rotate(160 140 226)"/><path d="M140.0 226.0l-4.2 7.0M140.0 226.0l9.7 -4.5M140.0 226.0l-11.5 -2.4M140.0 226.0l6.2 -5.5" stroke="#0b0b0c" stroke-width="2.5" stroke-linecap="round" fill="none"/></g>
<g opacity="0.95" filter="url(#bXS)"><ellipse cx="158" cy="224" rx="5.8" ry="3" fill="#0b0b0c" transform="rotate(30 158 224)"/><path d="M158.0 224.0l7.7 5.3M158.0 224.0l-6.0 -2.5M158.0 224.0l3.5 6.4M158.0 224.0l-9.3 -1.5" stroke="#0b0b0c" stroke-width="2.5" stroke-linecap="round" fill="none"/></g>
<g opacity="0.95" filter="url(#bXS)"><ellipse cx="176" cy="95" rx="5.8" ry="3" fill="#0b0b0c" transform="rotate(60 176 95)"/><path d="M176.0 95.0l7.8 -1.0M176.0 95.0l-4.8 -4.7M176.0 95.0l1.8 6.6M176.0 95.0l-6.4 -2.8" stroke="#0b0b0c" stroke-width="2.5" stroke-linecap="round" fill="none"/></g>
<g opacity="0.95" filter="url(#bXS)"><ellipse cx="55" cy="97" rx="4.3" ry="3.5" fill="#0b0b0c" transform="rotate(30 55 97)"/><path d="M55.0 97.0l5.2 4.5M55.0 97.0l-6.6 -0.1M55.0 97.0l5.6 -0.3M55.0 97.0l-4.1 -5.1" stroke="#0b0b0c" stroke-width="2.9" stroke-linecap="round" fill="none"/></g>
<g opacity="0.95" filter="url(#bXS)"><ellipse cx="42" cy="176" rx="4.3" ry="3" fill="#0b0b0c" transform="rotate(150 42 176)"/><path d="M42.0 176.0l-4.0 4.2M42.0 176.0l5.4 0.3M42.0 176.0l0.7 6.5M42.0 176.0l1.6 -5.5" stroke="#0b0b0c" stroke-width="2.5" stroke-linecap="round" fill="none"/></g>
<g opacity="0.95" filter="url(#bXS)"><ellipse cx="105" cy="228" rx="4.3" ry="2.6" fill="#0b0b0c" transform="rotate(80 105 228)"/><path d="M105.0 228.0l-3.5 4.3M105.0 228.0l-0.1 -5.6M105.0 228.0l-3.3 5.2M105.0 228.0l-2.3 -5.2" stroke="#0b0b0c" stroke-width="2.2" stroke-linecap="round" fill="none"/></g>
</g></g>
</svg></body></html>
